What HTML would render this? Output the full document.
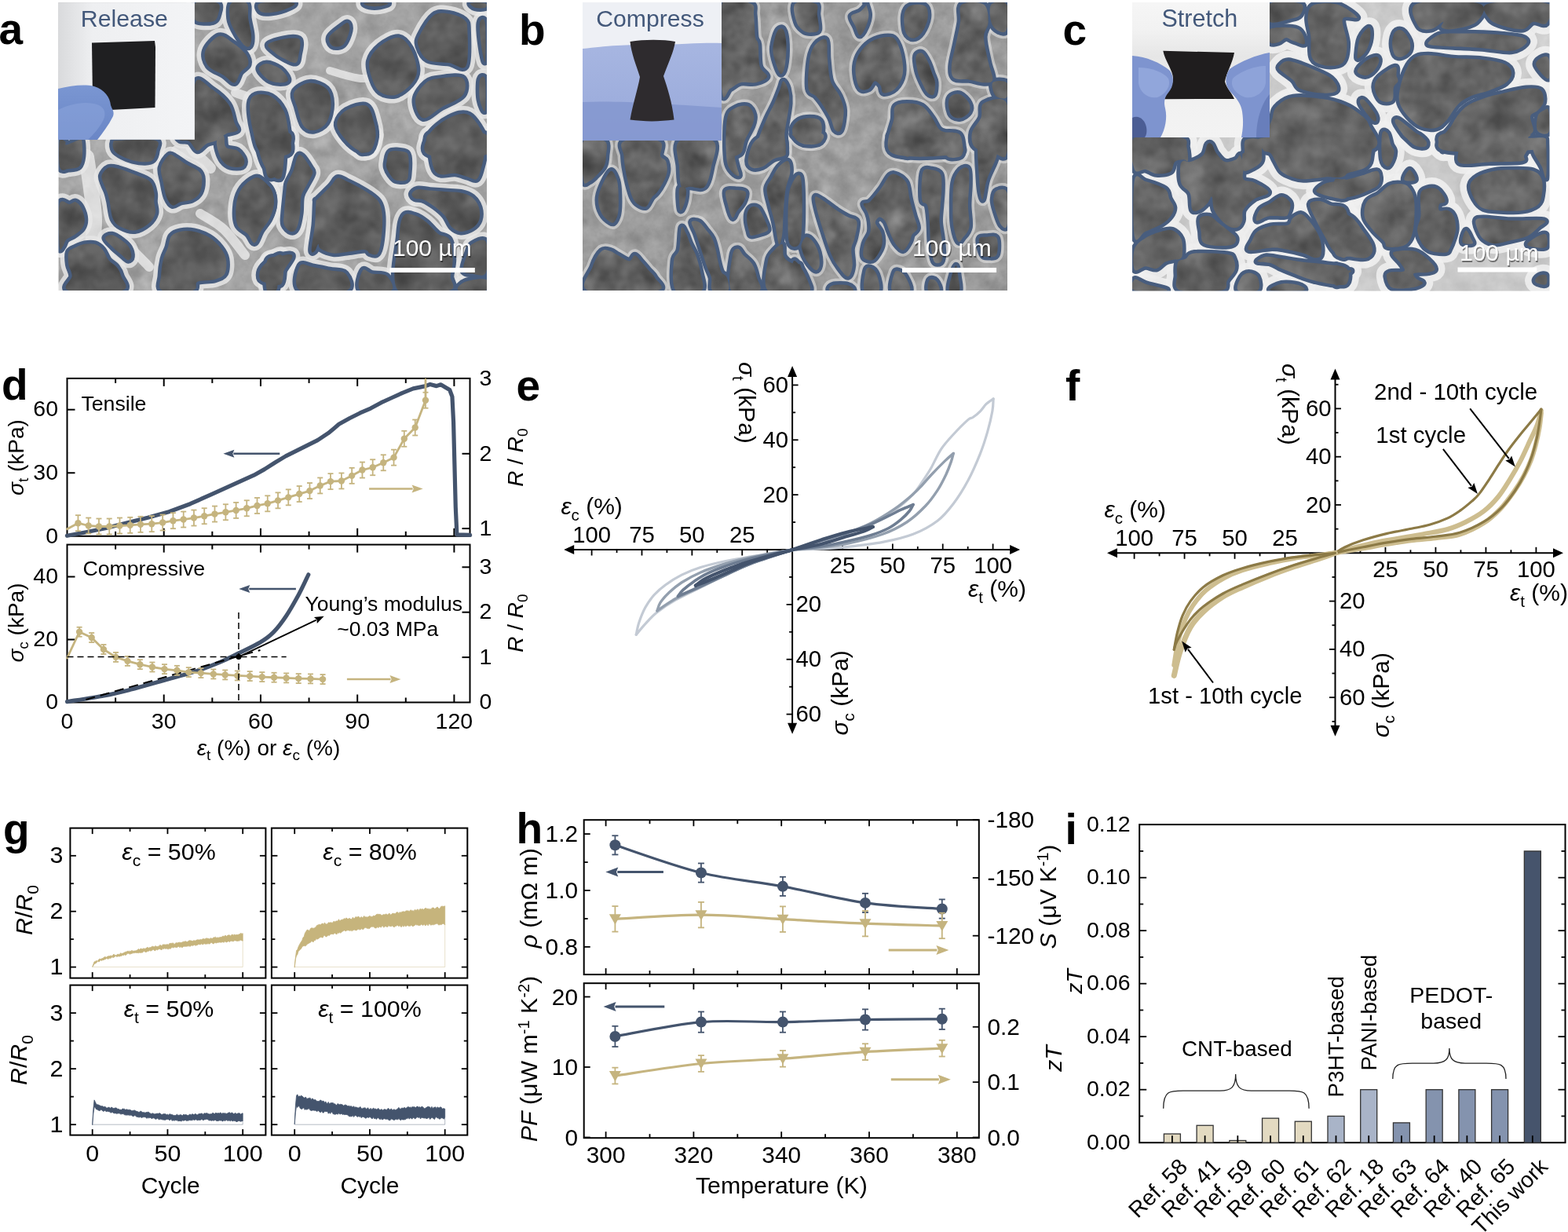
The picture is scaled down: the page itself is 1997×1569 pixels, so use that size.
<!DOCTYPE html>
<html><head><meta charset="utf-8"><style>
html,body{margin:0;padding:0;background:#fff;}
svg{display:block;}
text{font-family:'Liberation Sans', Arial, sans-serif;}
</style></head><body>
<svg width="1997" height="1569" viewBox="0 0 1997 1569">
<rect width="1997" height="1569" fill="#fff"/>
<defs><filter id="tex" x="0" y="0" width="100%" height="100%" color-interpolation-filters="sRGB"><feTurbulence type="fractalNoise" baseFrequency="0.045" numOctaves="4" seed="7"/><feColorMatrix type="matrix" values="0.33 0.33 0.33 0 0 0.33 0.33 0.33 0 0 0.33 0.33 0.33 0 0 0 0 0 0 1"/></filter><filter id="tex2" x="0" y="0" width="100%" height="100%" color-interpolation-filters="sRGB"><feTurbulence type="fractalNoise" baseFrequency="0.03" numOctaves="3" seed="11"/><feColorMatrix type="matrix" values="0.33 0.33 0.33 0 0 0.33 0.33 0.33 0 0 0.33 0.33 0.33 0 0 0 0 0 0 1"/></filter></defs>
<clipPath id="ca"><rect x="74.5" y="3" width="545.5" height="367"/></clipPath>
<clipPath id="cap"><path d="M248.79,3.91 C253.51,0.33 272.22,1.63 277.1,3.91 C281.98,6.18 279.05,13.67 278.08,17.57 C277.1,21.48 276.13,26.04 271.24,27.34 C266.36,28.64 252.53,29.29 248.79,25.39 C245.04,21.48 244.07,7.49 248.79,3.91Z"/><path d="M294.68,3.91 C298.26,0.65 310.62,0.65 314.2,3.91 C317.78,7.16 315.18,16.6 316.16,23.43 C317.13,30.27 319.74,39.05 320.06,44.91 C320.39,50.77 319.74,56.63 318.11,58.58 C316.48,60.54 313.55,59.88 310.3,56.63 C307.04,53.37 301.51,44.59 298.58,39.05 C295.65,33.52 293.37,29.29 292.72,23.43 C292.07,17.57 291.1,7.16 294.68,3.91Z"/><path d="M331.78,3.91 C338.61,1.95 370.51,2.28 374.74,3.91 C378.97,5.53 364,11.72 357.16,13.67 C350.33,15.62 337.96,17.25 333.73,15.62 C329.5,13.99 324.94,5.86 331.78,3.91Z"/><path d="M261.48,64.44 C263.76,58.09 273.2,47.52 279.05,45.89 C284.91,44.26 291.1,50.93 296.63,54.68 C302.16,58.42 309,63.79 312.25,68.35 C315.51,72.9 317.13,78.11 316.16,82.02 C315.18,85.92 309.32,87.87 306.39,91.78 C303.46,95.68 302.16,104.8 298.58,105.45 C295,106.1 290.45,99.26 284.91,95.68 C279.38,92.1 269.29,89.18 265.39,83.97 C261.48,78.76 259.2,70.79 261.48,64.44Z"/><path d="M341.54,56.63 C343.5,53.86 354.89,51.1 361.07,49.79 C367.25,48.49 375.06,48 378.64,48.82 C382.22,49.63 382.22,51.42 382.55,54.68 C382.88,57.93 381.57,64.12 380.6,68.35 C379.62,72.58 379.95,79.09 376.69,80.06 C373.44,81.04 365.63,76.48 361.07,74.2 C356.51,71.93 352.61,69.32 349.35,66.39 C346.1,63.46 339.59,59.4 341.54,56.63Z"/><path d="M329.83,87.87 C329.5,84.46 335.03,81.04 339.59,81.04 C344.15,81.04 352.61,84.46 357.16,87.87 C361.72,91.29 366.93,98.61 366.93,101.54 C366.93,104.47 361.4,105.45 357.16,105.45 C352.93,105.45 346.1,104.47 341.54,101.54 C336.99,98.61 330.15,91.29 329.83,87.87Z"/><path d="M419.65,46.87 C421.61,42.63 431.37,36.13 435.27,33.2 C439.18,30.27 441.46,28.31 443.09,29.29 C444.71,30.27 446.01,34.5 445.04,39.05 C444.06,43.61 440.81,53.37 437.23,56.63 C433.65,59.88 426.49,60.21 423.56,58.58 C420.63,56.96 417.7,51.1 419.65,46.87Z"/><path d="M470.42,78.11 C472.05,70.95 477.91,63.63 484.09,58.58 C490.28,53.54 501.02,47.19 507.53,47.84 C514.04,48.49 519.24,55.49 523.15,62.49 C527.05,69.49 530.96,82.34 530.96,89.83 C530.96,97.31 527.7,102.19 523.15,107.4 C518.59,112.61 510.13,119.44 503.62,121.07 C497.11,122.7 488.97,120.42 484.09,117.16 C479.21,113.91 476.61,108.05 474.33,101.54 C472.05,95.03 468.8,85.27 470.42,78.11Z"/><path d="M534.86,44.91 C538.12,38.4 546.26,24.08 552.44,19.53 C558.62,14.97 565.46,16.6 571.97,17.57 C578.48,18.55 587.59,21.81 591.49,25.39 C595.4,28.97 595.07,29.29 595.4,39.05 C595.72,48.82 597.35,77.13 593.45,83.97 C589.54,90.8 580.1,81.36 571.97,80.06 C563.83,78.76 551.14,79.74 544.63,76.16 C538.12,72.58 534.54,63.79 532.91,58.58 C531.28,53.37 531.61,51.42 534.86,44.91Z"/><path d="M529.01,126.93 C529.66,119.44 537.14,110 542.68,105.45 C548.21,100.89 554.39,100.57 562.2,99.59 C570.01,98.61 584.98,96.01 589.54,99.59 C594.1,103.17 594.1,114.89 589.54,121.07 C584.98,127.25 570.66,131.81 562.2,136.69 C553.74,141.57 544.3,151.99 538.77,150.36 C533.24,148.73 528.36,134.41 529.01,126.93Z"/><path d="M374.74,117.16 C377.34,111.96 387.43,106.1 394.27,105.45 C401.1,104.8 411.19,108.7 415.75,113.26 C420.3,117.82 421.61,125.63 421.61,132.79 C421.61,139.95 419.33,150.69 415.75,156.22 C412.17,161.75 405.01,165.33 400.12,165.98 C395.24,166.63 390.04,165.01 386.46,160.12 C382.88,155.24 380.6,143.85 378.64,136.69 C376.69,129.53 372.14,122.37 374.74,117.16Z"/><path d="M429.42,156.22 C430.39,151.01 434.95,144.18 441.13,140.6 C447.32,137.02 460.66,132.14 466.52,134.74 C472.38,137.34 474.33,149.38 476.28,156.22 C478.23,163.05 479.21,169.56 478.23,175.75 C477.26,181.93 474.65,191.04 470.42,193.32 C466.19,195.6 458.71,193 452.85,189.42 C446.99,185.84 439.18,177.37 435.27,171.84 C431.37,166.31 428.44,161.43 429.42,156.22Z"/><path d="M318.11,132.79 C318.76,125.3 321.36,122.7 325.92,121.07 C330.48,119.44 339.59,119.77 345.45,123.02 C351.31,126.28 357.49,133.44 361.07,140.6 C364.65,147.76 365.63,156.87 366.93,165.98 C368.23,175.1 374.41,190.39 368.88,195.27 C363.35,200.16 341.54,200.16 333.73,195.27 C325.92,190.39 324.62,176.4 322.02,165.98 C319.41,155.57 317.46,140.27 318.11,132.79Z"/><path d="M248.79,105.45 C252.2,95.03 262.29,108.7 269.29,113.26 C276.29,117.82 285.89,125.63 290.77,132.79 C295.65,139.95 296.63,150.69 298.58,156.22 C300.54,161.75 304.12,163.71 302.49,165.98 C300.86,168.26 293.05,168.26 288.82,169.89 C284.59,171.52 283.77,174.77 277.1,175.75 C270.43,176.72 253.51,187.46 248.79,175.75 C244.07,164.03 245.37,115.86 248.79,105.45Z"/><path d="M546.58,171.84 C550.81,164.03 563.5,154.59 571.97,150.36 C580.43,146.13 589.7,142.22 597.35,146.46 C605,150.69 614.44,167.29 617.86,175.75 C621.27,184.21 629.74,193.65 617.86,197.23 C605.98,200.81 558.46,201.46 546.58,197.23 C534.7,193 542.35,179.65 546.58,171.84Z"/><path d="M611.02,29.29 C611.83,24.41 616.72,21.15 617.86,29.29 C618.99,37.43 618.67,73.23 617.86,78.11 C617.04,82.99 614.11,66.72 612.97,58.58 C611.83,50.45 610.21,34.17 611.02,29.29Z"/><path d="M611.02,101.54 C612.16,97.31 616.72,95.03 617.86,101.54 C618.99,108.05 618.99,136.37 617.86,140.6 C616.72,144.83 612.16,133.44 611.02,126.93 C609.88,120.42 609.88,105.77 611.02,101.54Z"/><path d="M464.57,3.91 C468.47,3.25 490.6,3.25 493.86,3.91 C497.11,4.56 488,7.16 484.09,7.81 C480.19,8.46 473.68,8.46 470.42,7.81 C467.17,7.16 460.66,4.56 464.57,3.91Z"/><path d="M599.3,3.91 C601.42,2.93 614.76,2.93 617.86,3.91 C620.95,4.88 619.97,8.79 617.86,9.76 C615.74,10.74 608.25,10.74 605.16,9.76 C602.07,8.79 597.19,4.88 599.3,3.91Z"/><path d="M75.81,180.17 C76.9,174.6 81.62,179.44 83.07,180.17 C84.52,180.89 81.86,184.76 84.52,184.52 C87.18,184.28 95.78,179.68 99.04,178.71 C102.31,177.75 103.16,175.32 104.13,178.71 C105.1,182.1 105.46,193.48 104.85,199.04 C104.25,204.61 103.4,209.45 100.5,212.11 C97.59,214.78 91.42,214.78 87.43,215.02 C83.43,215.26 78.47,219.38 76.53,213.57 C74.6,207.76 74.72,185.73 75.81,180.17Z"/><path d="M144.06,181.62 C145.03,179.44 142.37,179.2 151.32,178.71 C160.28,178.23 189.81,176.53 197.8,178.71 C205.78,180.89 199.73,187.67 199.25,191.78 C198.76,195.9 197.31,200.98 194.89,203.4 C192.47,205.82 189.08,206.18 184.73,206.31 C180.37,206.43 173.59,205.34 168.75,204.13 C163.91,202.92 159.55,201.1 155.68,199.04 C151.81,196.99 147.45,194.69 145.52,191.78 C143.58,188.88 143.1,183.8 144.06,181.62Z"/><path d="M205.06,213.57 C206.27,207.76 212.08,199.77 215.22,197.59 C218.37,195.41 220.3,198.56 223.94,200.5 C227.57,202.43 232.16,206.31 237.01,209.21 C241.85,212.11 249.59,214.78 252.98,217.92 C256.37,221.07 257.09,223.49 257.34,228.09 C257.58,232.69 256.61,241.16 254.43,245.52 C252.25,249.87 248.38,252.29 244.27,254.23 C240.15,256.17 233.86,255.92 229.74,257.13 C225.63,258.34 222.48,262.46 219.58,261.49 C216.67,260.52 214.25,256.17 212.32,251.32 C210.38,246.48 209.17,238.74 207.96,232.45 C206.75,226.15 203.85,219.38 205.06,213.57Z"/><path d="M129.54,223.73 C130.51,220.1 134.62,215.02 138.25,213.57 C141.88,212.11 145.76,213.57 151.32,215.02 C156.89,216.47 165.12,219.62 171.66,222.28 C178.19,224.94 186.42,227.12 190.53,230.99 C194.65,234.87 195.38,241.16 196.34,245.52 C197.31,249.87 196.1,252.78 196.34,257.13 C196.59,261.49 199.01,267.06 197.8,271.66 C196.59,276.25 193.44,281.09 189.08,284.73 C184.73,288.36 177.46,292.71 171.66,293.44 C165.85,294.16 158.83,291.5 154.23,289.08 C149.63,286.66 146.48,284.24 144.06,278.92 C141.64,273.59 140.92,262.7 139.71,257.13 C138.5,251.57 138.01,249.15 136.8,245.52 C135.59,241.88 133.66,238.98 132.45,235.35 C131.24,231.72 128.57,227.36 129.54,223.73Z"/><path d="M75.81,260.04 C77.99,251.08 85.49,260.52 88.88,260.04 C92.27,259.55 93.72,256.41 96.14,257.13 C98.56,257.86 101.46,260.76 103.4,264.39 C105.34,268.02 107.52,274.56 107.76,278.92 C108,283.27 107.03,287.15 104.85,290.53 C102.67,293.92 98.08,296.83 94.69,299.25 C91.3,301.67 86.94,302.64 84.52,305.06 C82.1,307.48 81.62,312.32 80.17,313.77 C78.71,315.22 76.53,322.73 75.81,313.77 C75.08,304.81 73.63,268.99 75.81,260.04Z"/><path d="M133.9,303.6 C133.66,300.94 138.98,298.76 142.61,299.25 C146.24,299.73 152.05,303.85 155.68,306.51 C159.31,309.17 162.46,311.83 164.39,315.22 C166.33,318.61 167.54,324.18 167.3,326.84 C167.06,329.5 165.12,331.68 162.94,331.2 C160.76,330.71 157.38,326.6 154.23,323.94 C151.08,321.27 147.45,318.61 144.06,315.22 C140.67,311.83 134.14,306.27 133.9,303.6Z"/><path d="M87.43,321.03 C88.88,317.4 92.75,316.92 96.14,315.22 C99.53,313.53 103.64,311.59 107.76,310.87 C111.87,310.14 116.96,309.66 120.83,310.87 C124.7,312.08 128.09,314.74 130.99,318.13 C133.9,321.52 135.35,327.57 138.25,331.2 C141.16,334.83 145.76,336.52 148.42,339.91 C151.08,343.3 153.02,346.57 154.23,351.53 C155.44,356.49 166.81,366.66 155.68,369.68 C144.55,372.71 98.08,372.71 87.43,369.68 C76.78,366.66 91.78,356.97 91.78,351.53 C91.78,346.08 88.15,342.09 87.43,337.01 C86.7,331.92 85.97,324.66 87.43,321.03Z"/><path d="M207.96,329.74 C209.41,323.69 212.08,320.06 213.77,315.22 C215.46,310.38 215.46,304.09 218.13,300.7 C220.79,297.31 224.9,295.86 229.74,294.89 C234.59,293.92 241.12,293.68 247.17,294.89 C253.22,296.1 260.48,298.76 266.05,302.15 C271.62,305.54 276.94,310.62 280.57,315.22 C284.2,319.82 286.87,324.18 287.83,329.74 C288.8,335.31 288.8,344.27 286.38,348.62 C283.96,352.98 279.12,354.19 273.31,355.88 C267.5,357.58 256.13,356.49 251.53,358.79 C246.93,361.09 253.22,367.87 245.72,369.68 C238.22,371.5 213.29,372.71 206.51,369.68 C199.73,366.66 204.81,358.18 205.06,351.53 C205.3,344.87 206.51,335.8 207.96,329.74Z"/><path d="M300.9,260.04 C301.87,252.29 304.29,245.27 308.16,239.71 C312.04,234.14 319.78,228.33 324.14,226.64 C328.5,224.94 330.67,226.88 334.3,229.54 C337.93,232.2 343.5,237.53 345.92,242.61 C348.34,247.69 349.31,253.99 348.83,260.04 C348.34,266.09 345.68,273.35 343.02,278.92 C340.36,284.48 336,288.36 332.85,293.44 C329.71,298.52 327.04,308.69 324.14,309.41 C321.23,310.14 319.06,301.67 315.43,297.8 C311.79,293.92 304.78,292.47 302.36,286.18 C299.94,279.88 299.94,267.78 300.9,260.04Z"/><path d="M276.22,178.71 C277.43,175.57 282.99,171.45 284.93,172.9 C286.87,174.36 284.93,184.28 287.83,187.43 C290.74,190.57 298.48,189.12 302.36,191.78 C306.23,194.45 310.1,200.01 311.07,203.4 C312.04,206.79 311.07,210.66 308.16,212.11 C305.26,213.57 297.76,213.32 293.64,212.11 C289.53,210.9 286.14,208.24 283.48,204.85 C280.81,201.46 278.88,196.14 277.67,191.78 C276.46,187.43 275.01,181.86 276.22,178.71Z"/><path d="M328.5,177.26 C333.34,174.84 353.91,169.52 358.99,177.26 C364.07,185.01 361.17,215.99 358.99,223.73 C356.81,231.48 349.79,226.15 345.92,223.73 C342.05,221.31 338.42,214.53 335.76,209.21 C333.09,203.89 331.16,197.11 329.95,191.78 C328.74,186.46 323.65,179.68 328.5,177.26Z"/><path d="M229.74,178.71 C231.68,179.92 237.73,177.99 241.36,180.17 C244.99,182.34 247.9,191.3 251.53,191.78 C255.16,192.27 259.03,185.25 263.15,183.07 C267.26,180.89 274.52,180.41 276.22,178.71 C277.91,177.02 281.06,173.87 273.31,172.9 C265.57,171.94 237.01,171.94 229.74,172.9 C222.48,173.87 227.81,177.5 229.74,178.71Z"/><path d="M331.4,344.27 C332.85,340.64 335.51,337.25 340.11,334.1 C344.71,330.95 355.85,321.03 358.99,325.39 C362.14,329.74 361.9,354.43 358.99,360.24 C356.09,366.05 346.16,360.97 341.57,360.24 C336.97,359.51 333.09,358.55 331.4,355.88 C329.71,353.22 329.95,347.9 331.4,344.27Z"/><path d="M340,170 C344.84,161.29 364.2,167.1 369.04,170 C373.89,172.9 370.25,182.59 369.04,187.43 C367.83,192.27 363.48,194.2 361.78,199.04 C360.09,203.89 360.09,212.36 358.88,216.47 C357.67,220.59 357.67,222.76 354.52,223.73 C351.38,224.7 342.42,231.24 340,222.28 C337.58,213.32 335.16,178.71 340,170Z"/><path d="M361.78,271.66 C362.27,264.39 363.96,249.15 364.69,242.61 C365.41,236.08 364.69,236.56 366.14,232.45 C367.59,228.33 371.22,223.49 373.4,217.92 C375.58,212.36 377.27,202.19 379.21,199.04 C381.15,195.9 382.36,196.62 385.02,199.04 C387.68,201.46 393.01,209.94 395.18,213.57 C397.36,217.2 398.81,217.2 398.09,220.83 C397.36,224.46 393.25,230.51 390.83,235.35 C388.41,240.19 385.02,243.82 383.57,249.87 C382.11,255.92 383.08,264.88 382.11,271.66 C381.15,278.43 379.69,286.66 377.76,290.53 C375.82,294.41 373.16,295.62 370.5,294.89 C367.83,294.16 363.24,290.05 361.78,286.18 C360.33,282.31 361.3,278.92 361.78,271.66Z"/><path d="M396.64,318.13 C396.64,312.56 400.03,296.34 400.99,286.18 C401.96,276.01 401.96,262.46 402.45,257.13 C402.93,251.81 400.75,257.62 403.9,254.23 C407.04,250.84 416.97,241.4 421.32,236.8 C425.68,232.2 426.65,227.6 430.04,226.64 C433.43,225.67 437.3,229.06 441.66,230.99 C446.01,232.93 451.34,235.59 456.18,238.25 C461.02,240.92 466.34,243.82 470.7,246.97 C475.06,250.11 479.66,253.02 482.32,257.13 C484.98,261.25 485.95,265.6 486.67,271.66 C487.4,277.71 487.16,286.18 486.67,293.44 C486.19,300.7 484.98,310.14 483.77,315.22 C482.56,320.3 481.59,322.73 479.41,323.94 C477.23,325.15 473.12,323.45 470.7,322.48 C468.28,321.52 469.73,318.37 464.89,318.13 C460.05,317.88 448.43,320.3 441.66,321.03 C434.88,321.76 429.8,323.21 424.23,322.48 C418.66,321.76 411.4,318.61 408.25,316.67 C405.11,314.74 406.56,310.38 405.35,310.87 C404.14,311.35 402.45,318.37 400.99,319.58 C399.54,320.79 396.64,323.69 396.64,318.13Z"/><path d="M492.48,206.31 C493.21,202.92 493.21,195.41 496.84,193.24 C500.47,191.06 510.39,192.27 514.27,193.24 C518.14,194.2 519.11,194.45 520.08,199.04 C521.04,203.64 520.56,215.74 520.08,220.83 C519.59,225.91 519.83,228.09 517.17,229.54 C514.51,230.99 507.49,230.75 504.1,229.54 C500.71,228.33 498.78,224.94 496.84,222.28 C494.9,219.62 493.21,216.23 492.48,213.57 C491.76,210.9 491.76,209.69 492.48,206.31Z"/><path d="M547.67,170 C558.8,165.16 604.3,166.37 615.92,170 C627.54,173.63 617.86,184.52 617.37,191.78 C616.89,199.04 614.71,207.52 613.02,213.57 C611.32,219.62 610.11,226.15 607.21,228.09 C604.3,230.03 600.19,226.39 595.59,225.18 C590.99,223.97 585.18,221.31 579.62,220.83 C574.05,220.34 566.55,223.01 562.19,222.28 C557.83,221.55 555.65,220.34 553.48,216.47 C551.3,212.6 550.09,206.79 549.12,199.04 C548.15,191.3 536.53,174.84 547.67,170Z"/><path d="M524.43,246.97 C524.92,245.03 527.82,241.88 531.69,241.16 C535.57,240.43 541.86,242.13 547.67,242.61 C553.48,243.1 560.01,243.58 566.55,244.06 C573.08,244.55 581.07,244.31 586.88,245.52 C592.69,246.73 597.53,248.18 601.4,251.32 C605.27,254.47 608.66,259.55 610.11,264.39 C611.57,269.24 611.57,276.01 610.11,280.37 C608.66,284.73 605.27,288.11 601.4,290.53 C597.53,292.95 591.23,295.13 586.88,294.89 C582.52,294.65 578.65,292.47 575.26,289.08 C571.87,285.69 570.18,278.92 566.55,274.56 C562.92,270.2 558.08,266.33 553.48,262.94 C548.88,259.55 543.07,255.92 538.95,254.23 C534.84,252.53 531.21,253.99 528.79,252.78 C526.37,251.57 523.95,248.9 524.43,246.97Z"/><path d="M507.01,369.68 C496.36,358.18 507.25,316.55 508.46,300.7 C509.67,284.85 510.88,278.92 514.27,274.56 C517.66,270.2 523.95,273.11 528.79,274.56 C533.63,276.01 538.47,279.4 543.31,283.27 C548.15,287.15 552.99,294.16 557.83,297.8 C562.67,301.43 569.21,299.73 572.36,305.06 C575.5,310.38 576.47,322 576.71,329.74 C576.95,337.49 574.53,344.87 573.81,351.53 C573.08,358.18 583.49,366.66 572.36,369.68 C561.22,372.71 517.66,381.18 507.01,369.68Z"/><path d="M589.78,344.27 C588.81,339.91 593.65,328.05 595.59,322.48 C597.53,316.92 597.53,313.29 601.4,310.87 C605.27,308.45 615.92,301.91 618.83,307.96 C621.73,314.01 621.73,340.39 618.83,347.17 C615.92,353.95 606.24,349.11 601.4,348.62 C596.56,348.14 590.75,348.62 589.78,344.27Z"/><path d="M583.97,369.68 C579.62,367.87 586.88,361.09 592.69,358.79 C598.5,356.49 614.47,354.07 618.83,355.88 C623.18,357.7 624.64,367.38 618.83,369.68 C613.02,371.98 588.33,371.5 583.97,369.68Z"/><path d="M340,369.68 C338.06,363.51 337.58,339.79 340,332.65 C342.42,325.51 349.68,328.29 354.52,326.84 C359.36,325.39 366.14,323.69 369.04,323.94 C371.95,324.18 373.16,324.9 371.95,328.29 C370.74,331.68 364.69,339.18 361.78,344.27 C358.88,349.35 356.22,354.55 354.52,358.79 C352.83,363.02 354.04,367.87 351.62,369.68 C349.2,371.5 341.94,375.85 340,369.68Z"/><path d="M382.11,369.68 C372.19,364.48 379.45,343.42 382.11,338.46 C384.78,333.5 391.8,338.94 398.09,339.91 C404.38,340.88 412.85,342.81 419.87,344.27 C426.89,345.72 436.57,344.39 440.2,348.62 C443.83,352.86 451.34,366.17 441.66,369.68 C431.97,373.19 392.04,374.88 382.11,369.68Z"/><path d="M459.08,369.68 C453.03,365.44 459.57,347.78 461.99,344.27 C464.41,340.76 468.52,347.41 473.6,348.62 C478.69,349.83 488.37,348.02 492.48,351.53 C496.6,355.04 503.86,366.66 498.29,369.68 C492.73,372.71 465.13,373.92 459.08,369.68Z"/><path d="M438.75,170 C443.59,168.55 470.7,168.06 476.51,170 C482.32,171.94 474.57,177.99 473.6,181.62 C472.64,185.25 472.88,189.6 470.7,191.78 C468.52,193.96 463.2,195.17 460.53,194.69 C457.87,194.2 456.9,191.54 454.73,188.88 C452.55,186.22 450.13,181.86 447.46,178.71 C444.8,175.57 433.91,171.45 438.75,170Z"/><path d="M340,239.71 C340.97,233.66 344.36,239.71 345.81,242.61 C347.26,245.52 348.71,252.29 348.71,257.13 C348.71,261.97 347.26,268.02 345.81,271.66 C344.36,275.29 340.97,284.24 340,278.92 C339.03,273.59 339.03,245.76 340,239.71Z"/></clipPath>
<g clip-path="url(#ca)">
<rect x="74.5" y="3" width="545.5" height="367" fill="#a4a4a4"/>
<path d="M110,200 C111,206.67 114.33,226.67 116,240 C117.67,253.33 119.83,265.83 120,280 C120.17,294.17 117.5,317.5 117,325" fill="none" stroke="#e8e8e8" stroke-width="20" stroke-linecap="round" stroke-linejoin="round" opacity="0.85"/>
<path d="M225,192 C229.17,193 242.83,194.33 250,198 C257.17,201.67 265,211.33 268,214" fill="none" stroke="#e8e8e8" stroke-width="14" stroke-linecap="round" stroke-linejoin="round" opacity="0.85"/>
<path d="M255,272 C260,275.33 275.5,283.17 285,292 C294.5,300.83 307.5,319.5 312,325" fill="none" stroke="#e8e8e8" stroke-width="12" stroke-linecap="round" stroke-linejoin="round" opacity="0.85"/>
<path d="M140,298 C144.17,300.83 156.67,308 165,315 C173.33,322 185.83,335.83 190,340" fill="none" stroke="#e8e8e8" stroke-width="12" stroke-linecap="round" stroke-linejoin="round" opacity="0.85"/>
<path d="M300,118 C305,120 321.67,124.67 330,130 C338.33,135.33 346.67,146.67 350,150" fill="none" stroke="#e8e8e8" stroke-width="12" stroke-linecap="round" stroke-linejoin="round" opacity="0.85"/>
<path d="M420,90 C426.67,91.67 446.67,99.17 460,100 C473.33,100.83 493.33,95.83 500,95" fill="none" stroke="#e8e8e8" stroke-width="10" stroke-linecap="round" stroke-linejoin="round" opacity="0.85"/>
<path d="M248.79,3.91 C253.51,0.33 272.22,1.63 277.1,3.91 C281.98,6.18 279.05,13.67 278.08,17.57 C277.1,21.48 276.13,26.04 271.24,27.34 C266.36,28.64 252.53,29.29 248.79,25.39 C245.04,21.48 244.07,7.49 248.79,3.91Z" fill="none" stroke="#e8e8e8" stroke-width="20" stroke-linejoin="round" opacity="0.85"/>
<path d="M294.68,3.91 C298.26,0.65 310.62,0.65 314.2,3.91 C317.78,7.16 315.18,16.6 316.16,23.43 C317.13,30.27 319.74,39.05 320.06,44.91 C320.39,50.77 319.74,56.63 318.11,58.58 C316.48,60.54 313.55,59.88 310.3,56.63 C307.04,53.37 301.51,44.59 298.58,39.05 C295.65,33.52 293.37,29.29 292.72,23.43 C292.07,17.57 291.1,7.16 294.68,3.91Z" fill="none" stroke="#e8e8e8" stroke-width="20" stroke-linejoin="round" opacity="0.85"/>
<path d="M331.78,3.91 C338.61,1.95 370.51,2.28 374.74,3.91 C378.97,5.53 364,11.72 357.16,13.67 C350.33,15.62 337.96,17.25 333.73,15.62 C329.5,13.99 324.94,5.86 331.78,3.91Z" fill="none" stroke="#e8e8e8" stroke-width="20" stroke-linejoin="round" opacity="0.85"/>
<path d="M261.48,64.44 C263.76,58.09 273.2,47.52 279.05,45.89 C284.91,44.26 291.1,50.93 296.63,54.68 C302.16,58.42 309,63.79 312.25,68.35 C315.51,72.9 317.13,78.11 316.16,82.02 C315.18,85.92 309.32,87.87 306.39,91.78 C303.46,95.68 302.16,104.8 298.58,105.45 C295,106.1 290.45,99.26 284.91,95.68 C279.38,92.1 269.29,89.18 265.39,83.97 C261.48,78.76 259.2,70.79 261.48,64.44Z" fill="none" stroke="#e8e8e8" stroke-width="20" stroke-linejoin="round" opacity="0.85"/>
<path d="M341.54,56.63 C343.5,53.86 354.89,51.1 361.07,49.79 C367.25,48.49 375.06,48 378.64,48.82 C382.22,49.63 382.22,51.42 382.55,54.68 C382.88,57.93 381.57,64.12 380.6,68.35 C379.62,72.58 379.95,79.09 376.69,80.06 C373.44,81.04 365.63,76.48 361.07,74.2 C356.51,71.93 352.61,69.32 349.35,66.39 C346.1,63.46 339.59,59.4 341.54,56.63Z" fill="none" stroke="#e8e8e8" stroke-width="20" stroke-linejoin="round" opacity="0.85"/>
<path d="M329.83,87.87 C329.5,84.46 335.03,81.04 339.59,81.04 C344.15,81.04 352.61,84.46 357.16,87.87 C361.72,91.29 366.93,98.61 366.93,101.54 C366.93,104.47 361.4,105.45 357.16,105.45 C352.93,105.45 346.1,104.47 341.54,101.54 C336.99,98.61 330.15,91.29 329.83,87.87Z" fill="none" stroke="#e8e8e8" stroke-width="20" stroke-linejoin="round" opacity="0.85"/>
<path d="M419.65,46.87 C421.61,42.63 431.37,36.13 435.27,33.2 C439.18,30.27 441.46,28.31 443.09,29.29 C444.71,30.27 446.01,34.5 445.04,39.05 C444.06,43.61 440.81,53.37 437.23,56.63 C433.65,59.88 426.49,60.21 423.56,58.58 C420.63,56.96 417.7,51.1 419.65,46.87Z" fill="none" stroke="#e8e8e8" stroke-width="20" stroke-linejoin="round" opacity="0.85"/>
<path d="M470.42,78.11 C472.05,70.95 477.91,63.63 484.09,58.58 C490.28,53.54 501.02,47.19 507.53,47.84 C514.04,48.49 519.24,55.49 523.15,62.49 C527.05,69.49 530.96,82.34 530.96,89.83 C530.96,97.31 527.7,102.19 523.15,107.4 C518.59,112.61 510.13,119.44 503.62,121.07 C497.11,122.7 488.97,120.42 484.09,117.16 C479.21,113.91 476.61,108.05 474.33,101.54 C472.05,95.03 468.8,85.27 470.42,78.11Z" fill="none" stroke="#e8e8e8" stroke-width="20" stroke-linejoin="round" opacity="0.85"/>
<path d="M534.86,44.91 C538.12,38.4 546.26,24.08 552.44,19.53 C558.62,14.97 565.46,16.6 571.97,17.57 C578.48,18.55 587.59,21.81 591.49,25.39 C595.4,28.97 595.07,29.29 595.4,39.05 C595.72,48.82 597.35,77.13 593.45,83.97 C589.54,90.8 580.1,81.36 571.97,80.06 C563.83,78.76 551.14,79.74 544.63,76.16 C538.12,72.58 534.54,63.79 532.91,58.58 C531.28,53.37 531.61,51.42 534.86,44.91Z" fill="none" stroke="#e8e8e8" stroke-width="20" stroke-linejoin="round" opacity="0.85"/>
<path d="M529.01,126.93 C529.66,119.44 537.14,110 542.68,105.45 C548.21,100.89 554.39,100.57 562.2,99.59 C570.01,98.61 584.98,96.01 589.54,99.59 C594.1,103.17 594.1,114.89 589.54,121.07 C584.98,127.25 570.66,131.81 562.2,136.69 C553.74,141.57 544.3,151.99 538.77,150.36 C533.24,148.73 528.36,134.41 529.01,126.93Z" fill="none" stroke="#e8e8e8" stroke-width="20" stroke-linejoin="round" opacity="0.85"/>
<path d="M374.74,117.16 C377.34,111.96 387.43,106.1 394.27,105.45 C401.1,104.8 411.19,108.7 415.75,113.26 C420.3,117.82 421.61,125.63 421.61,132.79 C421.61,139.95 419.33,150.69 415.75,156.22 C412.17,161.75 405.01,165.33 400.12,165.98 C395.24,166.63 390.04,165.01 386.46,160.12 C382.88,155.24 380.6,143.85 378.64,136.69 C376.69,129.53 372.14,122.37 374.74,117.16Z" fill="none" stroke="#e8e8e8" stroke-width="20" stroke-linejoin="round" opacity="0.85"/>
<path d="M429.42,156.22 C430.39,151.01 434.95,144.18 441.13,140.6 C447.32,137.02 460.66,132.14 466.52,134.74 C472.38,137.34 474.33,149.38 476.28,156.22 C478.23,163.05 479.21,169.56 478.23,175.75 C477.26,181.93 474.65,191.04 470.42,193.32 C466.19,195.6 458.71,193 452.85,189.42 C446.99,185.84 439.18,177.37 435.27,171.84 C431.37,166.31 428.44,161.43 429.42,156.22Z" fill="none" stroke="#e8e8e8" stroke-width="20" stroke-linejoin="round" opacity="0.85"/>
<path d="M318.11,132.79 C318.76,125.3 321.36,122.7 325.92,121.07 C330.48,119.44 339.59,119.77 345.45,123.02 C351.31,126.28 357.49,133.44 361.07,140.6 C364.65,147.76 365.63,156.87 366.93,165.98 C368.23,175.1 374.41,190.39 368.88,195.27 C363.35,200.16 341.54,200.16 333.73,195.27 C325.92,190.39 324.62,176.4 322.02,165.98 C319.41,155.57 317.46,140.27 318.11,132.79Z" fill="none" stroke="#e8e8e8" stroke-width="20" stroke-linejoin="round" opacity="0.85"/>
<path d="M248.79,105.45 C252.2,95.03 262.29,108.7 269.29,113.26 C276.29,117.82 285.89,125.63 290.77,132.79 C295.65,139.95 296.63,150.69 298.58,156.22 C300.54,161.75 304.12,163.71 302.49,165.98 C300.86,168.26 293.05,168.26 288.82,169.89 C284.59,171.52 283.77,174.77 277.1,175.75 C270.43,176.72 253.51,187.46 248.79,175.75 C244.07,164.03 245.37,115.86 248.79,105.45Z" fill="none" stroke="#e8e8e8" stroke-width="20" stroke-linejoin="round" opacity="0.85"/>
<path d="M546.58,171.84 C550.81,164.03 563.5,154.59 571.97,150.36 C580.43,146.13 589.7,142.22 597.35,146.46 C605,150.69 614.44,167.29 617.86,175.75 C621.27,184.21 629.74,193.65 617.86,197.23 C605.98,200.81 558.46,201.46 546.58,197.23 C534.7,193 542.35,179.65 546.58,171.84Z" fill="none" stroke="#e8e8e8" stroke-width="20" stroke-linejoin="round" opacity="0.85"/>
<path d="M611.02,29.29 C611.83,24.41 616.72,21.15 617.86,29.29 C618.99,37.43 618.67,73.23 617.86,78.11 C617.04,82.99 614.11,66.72 612.97,58.58 C611.83,50.45 610.21,34.17 611.02,29.29Z" fill="none" stroke="#e8e8e8" stroke-width="20" stroke-linejoin="round" opacity="0.85"/>
<path d="M611.02,101.54 C612.16,97.31 616.72,95.03 617.86,101.54 C618.99,108.05 618.99,136.37 617.86,140.6 C616.72,144.83 612.16,133.44 611.02,126.93 C609.88,120.42 609.88,105.77 611.02,101.54Z" fill="none" stroke="#e8e8e8" stroke-width="20" stroke-linejoin="round" opacity="0.85"/>
<path d="M464.57,3.91 C468.47,3.25 490.6,3.25 493.86,3.91 C497.11,4.56 488,7.16 484.09,7.81 C480.19,8.46 473.68,8.46 470.42,7.81 C467.17,7.16 460.66,4.56 464.57,3.91Z" fill="none" stroke="#e8e8e8" stroke-width="20" stroke-linejoin="round" opacity="0.85"/>
<path d="M599.3,3.91 C601.42,2.93 614.76,2.93 617.86,3.91 C620.95,4.88 619.97,8.79 617.86,9.76 C615.74,10.74 608.25,10.74 605.16,9.76 C602.07,8.79 597.19,4.88 599.3,3.91Z" fill="none" stroke="#e8e8e8" stroke-width="20" stroke-linejoin="round" opacity="0.85"/>
<path d="M75.81,180.17 C76.9,174.6 81.62,179.44 83.07,180.17 C84.52,180.89 81.86,184.76 84.52,184.52 C87.18,184.28 95.78,179.68 99.04,178.71 C102.31,177.75 103.16,175.32 104.13,178.71 C105.1,182.1 105.46,193.48 104.85,199.04 C104.25,204.61 103.4,209.45 100.5,212.11 C97.59,214.78 91.42,214.78 87.43,215.02 C83.43,215.26 78.47,219.38 76.53,213.57 C74.6,207.76 74.72,185.73 75.81,180.17Z" fill="none" stroke="#e8e8e8" stroke-width="20" stroke-linejoin="round" opacity="0.85"/>
<path d="M144.06,181.62 C145.03,179.44 142.37,179.2 151.32,178.71 C160.28,178.23 189.81,176.53 197.8,178.71 C205.78,180.89 199.73,187.67 199.25,191.78 C198.76,195.9 197.31,200.98 194.89,203.4 C192.47,205.82 189.08,206.18 184.73,206.31 C180.37,206.43 173.59,205.34 168.75,204.13 C163.91,202.92 159.55,201.1 155.68,199.04 C151.81,196.99 147.45,194.69 145.52,191.78 C143.58,188.88 143.1,183.8 144.06,181.62Z" fill="none" stroke="#e8e8e8" stroke-width="20" stroke-linejoin="round" opacity="0.85"/>
<path d="M205.06,213.57 C206.27,207.76 212.08,199.77 215.22,197.59 C218.37,195.41 220.3,198.56 223.94,200.5 C227.57,202.43 232.16,206.31 237.01,209.21 C241.85,212.11 249.59,214.78 252.98,217.92 C256.37,221.07 257.09,223.49 257.34,228.09 C257.58,232.69 256.61,241.16 254.43,245.52 C252.25,249.87 248.38,252.29 244.27,254.23 C240.15,256.17 233.86,255.92 229.74,257.13 C225.63,258.34 222.48,262.46 219.58,261.49 C216.67,260.52 214.25,256.17 212.32,251.32 C210.38,246.48 209.17,238.74 207.96,232.45 C206.75,226.15 203.85,219.38 205.06,213.57Z" fill="none" stroke="#e8e8e8" stroke-width="20" stroke-linejoin="round" opacity="0.85"/>
<path d="M129.54,223.73 C130.51,220.1 134.62,215.02 138.25,213.57 C141.88,212.11 145.76,213.57 151.32,215.02 C156.89,216.47 165.12,219.62 171.66,222.28 C178.19,224.94 186.42,227.12 190.53,230.99 C194.65,234.87 195.38,241.16 196.34,245.52 C197.31,249.87 196.1,252.78 196.34,257.13 C196.59,261.49 199.01,267.06 197.8,271.66 C196.59,276.25 193.44,281.09 189.08,284.73 C184.73,288.36 177.46,292.71 171.66,293.44 C165.85,294.16 158.83,291.5 154.23,289.08 C149.63,286.66 146.48,284.24 144.06,278.92 C141.64,273.59 140.92,262.7 139.71,257.13 C138.5,251.57 138.01,249.15 136.8,245.52 C135.59,241.88 133.66,238.98 132.45,235.35 C131.24,231.72 128.57,227.36 129.54,223.73Z" fill="none" stroke="#e8e8e8" stroke-width="20" stroke-linejoin="round" opacity="0.85"/>
<path d="M75.81,260.04 C77.99,251.08 85.49,260.52 88.88,260.04 C92.27,259.55 93.72,256.41 96.14,257.13 C98.56,257.86 101.46,260.76 103.4,264.39 C105.34,268.02 107.52,274.56 107.76,278.92 C108,283.27 107.03,287.15 104.85,290.53 C102.67,293.92 98.08,296.83 94.69,299.25 C91.3,301.67 86.94,302.64 84.52,305.06 C82.1,307.48 81.62,312.32 80.17,313.77 C78.71,315.22 76.53,322.73 75.81,313.77 C75.08,304.81 73.63,268.99 75.81,260.04Z" fill="none" stroke="#e8e8e8" stroke-width="20" stroke-linejoin="round" opacity="0.85"/>
<path d="M133.9,303.6 C133.66,300.94 138.98,298.76 142.61,299.25 C146.24,299.73 152.05,303.85 155.68,306.51 C159.31,309.17 162.46,311.83 164.39,315.22 C166.33,318.61 167.54,324.18 167.3,326.84 C167.06,329.5 165.12,331.68 162.94,331.2 C160.76,330.71 157.38,326.6 154.23,323.94 C151.08,321.27 147.45,318.61 144.06,315.22 C140.67,311.83 134.14,306.27 133.9,303.6Z" fill="none" stroke="#e8e8e8" stroke-width="20" stroke-linejoin="round" opacity="0.85"/>
<path d="M87.43,321.03 C88.88,317.4 92.75,316.92 96.14,315.22 C99.53,313.53 103.64,311.59 107.76,310.87 C111.87,310.14 116.96,309.66 120.83,310.87 C124.7,312.08 128.09,314.74 130.99,318.13 C133.9,321.52 135.35,327.57 138.25,331.2 C141.16,334.83 145.76,336.52 148.42,339.91 C151.08,343.3 153.02,346.57 154.23,351.53 C155.44,356.49 166.81,366.66 155.68,369.68 C144.55,372.71 98.08,372.71 87.43,369.68 C76.78,366.66 91.78,356.97 91.78,351.53 C91.78,346.08 88.15,342.09 87.43,337.01 C86.7,331.92 85.97,324.66 87.43,321.03Z" fill="none" stroke="#e8e8e8" stroke-width="20" stroke-linejoin="round" opacity="0.85"/>
<path d="M207.96,329.74 C209.41,323.69 212.08,320.06 213.77,315.22 C215.46,310.38 215.46,304.09 218.13,300.7 C220.79,297.31 224.9,295.86 229.74,294.89 C234.59,293.92 241.12,293.68 247.17,294.89 C253.22,296.1 260.48,298.76 266.05,302.15 C271.62,305.54 276.94,310.62 280.57,315.22 C284.2,319.82 286.87,324.18 287.83,329.74 C288.8,335.31 288.8,344.27 286.38,348.62 C283.96,352.98 279.12,354.19 273.31,355.88 C267.5,357.58 256.13,356.49 251.53,358.79 C246.93,361.09 253.22,367.87 245.72,369.68 C238.22,371.5 213.29,372.71 206.51,369.68 C199.73,366.66 204.81,358.18 205.06,351.53 C205.3,344.87 206.51,335.8 207.96,329.74Z" fill="none" stroke="#e8e8e8" stroke-width="20" stroke-linejoin="round" opacity="0.85"/>
<path d="M300.9,260.04 C301.87,252.29 304.29,245.27 308.16,239.71 C312.04,234.14 319.78,228.33 324.14,226.64 C328.5,224.94 330.67,226.88 334.3,229.54 C337.93,232.2 343.5,237.53 345.92,242.61 C348.34,247.69 349.31,253.99 348.83,260.04 C348.34,266.09 345.68,273.35 343.02,278.92 C340.36,284.48 336,288.36 332.85,293.44 C329.71,298.52 327.04,308.69 324.14,309.41 C321.23,310.14 319.06,301.67 315.43,297.8 C311.79,293.92 304.78,292.47 302.36,286.18 C299.94,279.88 299.94,267.78 300.9,260.04Z" fill="none" stroke="#e8e8e8" stroke-width="20" stroke-linejoin="round" opacity="0.85"/>
<path d="M276.22,178.71 C277.43,175.57 282.99,171.45 284.93,172.9 C286.87,174.36 284.93,184.28 287.83,187.43 C290.74,190.57 298.48,189.12 302.36,191.78 C306.23,194.45 310.1,200.01 311.07,203.4 C312.04,206.79 311.07,210.66 308.16,212.11 C305.26,213.57 297.76,213.32 293.64,212.11 C289.53,210.9 286.14,208.24 283.48,204.85 C280.81,201.46 278.88,196.14 277.67,191.78 C276.46,187.43 275.01,181.86 276.22,178.71Z" fill="none" stroke="#e8e8e8" stroke-width="20" stroke-linejoin="round" opacity="0.85"/>
<path d="M328.5,177.26 C333.34,174.84 353.91,169.52 358.99,177.26 C364.07,185.01 361.17,215.99 358.99,223.73 C356.81,231.48 349.79,226.15 345.92,223.73 C342.05,221.31 338.42,214.53 335.76,209.21 C333.09,203.89 331.16,197.11 329.95,191.78 C328.74,186.46 323.65,179.68 328.5,177.26Z" fill="none" stroke="#e8e8e8" stroke-width="20" stroke-linejoin="round" opacity="0.85"/>
<path d="M229.74,178.71 C231.68,179.92 237.73,177.99 241.36,180.17 C244.99,182.34 247.9,191.3 251.53,191.78 C255.16,192.27 259.03,185.25 263.15,183.07 C267.26,180.89 274.52,180.41 276.22,178.71 C277.91,177.02 281.06,173.87 273.31,172.9 C265.57,171.94 237.01,171.94 229.74,172.9 C222.48,173.87 227.81,177.5 229.74,178.71Z" fill="none" stroke="#e8e8e8" stroke-width="20" stroke-linejoin="round" opacity="0.85"/>
<path d="M331.4,344.27 C332.85,340.64 335.51,337.25 340.11,334.1 C344.71,330.95 355.85,321.03 358.99,325.39 C362.14,329.74 361.9,354.43 358.99,360.24 C356.09,366.05 346.16,360.97 341.57,360.24 C336.97,359.51 333.09,358.55 331.4,355.88 C329.71,353.22 329.95,347.9 331.4,344.27Z" fill="none" stroke="#e8e8e8" stroke-width="20" stroke-linejoin="round" opacity="0.85"/>
<path d="M340,170 C344.84,161.29 364.2,167.1 369.04,170 C373.89,172.9 370.25,182.59 369.04,187.43 C367.83,192.27 363.48,194.2 361.78,199.04 C360.09,203.89 360.09,212.36 358.88,216.47 C357.67,220.59 357.67,222.76 354.52,223.73 C351.38,224.7 342.42,231.24 340,222.28 C337.58,213.32 335.16,178.71 340,170Z" fill="none" stroke="#e8e8e8" stroke-width="20" stroke-linejoin="round" opacity="0.85"/>
<path d="M361.78,271.66 C362.27,264.39 363.96,249.15 364.69,242.61 C365.41,236.08 364.69,236.56 366.14,232.45 C367.59,228.33 371.22,223.49 373.4,217.92 C375.58,212.36 377.27,202.19 379.21,199.04 C381.15,195.9 382.36,196.62 385.02,199.04 C387.68,201.46 393.01,209.94 395.18,213.57 C397.36,217.2 398.81,217.2 398.09,220.83 C397.36,224.46 393.25,230.51 390.83,235.35 C388.41,240.19 385.02,243.82 383.57,249.87 C382.11,255.92 383.08,264.88 382.11,271.66 C381.15,278.43 379.69,286.66 377.76,290.53 C375.82,294.41 373.16,295.62 370.5,294.89 C367.83,294.16 363.24,290.05 361.78,286.18 C360.33,282.31 361.3,278.92 361.78,271.66Z" fill="none" stroke="#e8e8e8" stroke-width="20" stroke-linejoin="round" opacity="0.85"/>
<path d="M396.64,318.13 C396.64,312.56 400.03,296.34 400.99,286.18 C401.96,276.01 401.96,262.46 402.45,257.13 C402.93,251.81 400.75,257.62 403.9,254.23 C407.04,250.84 416.97,241.4 421.32,236.8 C425.68,232.2 426.65,227.6 430.04,226.64 C433.43,225.67 437.3,229.06 441.66,230.99 C446.01,232.93 451.34,235.59 456.18,238.25 C461.02,240.92 466.34,243.82 470.7,246.97 C475.06,250.11 479.66,253.02 482.32,257.13 C484.98,261.25 485.95,265.6 486.67,271.66 C487.4,277.71 487.16,286.18 486.67,293.44 C486.19,300.7 484.98,310.14 483.77,315.22 C482.56,320.3 481.59,322.73 479.41,323.94 C477.23,325.15 473.12,323.45 470.7,322.48 C468.28,321.52 469.73,318.37 464.89,318.13 C460.05,317.88 448.43,320.3 441.66,321.03 C434.88,321.76 429.8,323.21 424.23,322.48 C418.66,321.76 411.4,318.61 408.25,316.67 C405.11,314.74 406.56,310.38 405.35,310.87 C404.14,311.35 402.45,318.37 400.99,319.58 C399.54,320.79 396.64,323.69 396.64,318.13Z" fill="none" stroke="#e8e8e8" stroke-width="20" stroke-linejoin="round" opacity="0.85"/>
<path d="M492.48,206.31 C493.21,202.92 493.21,195.41 496.84,193.24 C500.47,191.06 510.39,192.27 514.27,193.24 C518.14,194.2 519.11,194.45 520.08,199.04 C521.04,203.64 520.56,215.74 520.08,220.83 C519.59,225.91 519.83,228.09 517.17,229.54 C514.51,230.99 507.49,230.75 504.1,229.54 C500.71,228.33 498.78,224.94 496.84,222.28 C494.9,219.62 493.21,216.23 492.48,213.57 C491.76,210.9 491.76,209.69 492.48,206.31Z" fill="none" stroke="#e8e8e8" stroke-width="20" stroke-linejoin="round" opacity="0.85"/>
<path d="M547.67,170 C558.8,165.16 604.3,166.37 615.92,170 C627.54,173.63 617.86,184.52 617.37,191.78 C616.89,199.04 614.71,207.52 613.02,213.57 C611.32,219.62 610.11,226.15 607.21,228.09 C604.3,230.03 600.19,226.39 595.59,225.18 C590.99,223.97 585.18,221.31 579.62,220.83 C574.05,220.34 566.55,223.01 562.19,222.28 C557.83,221.55 555.65,220.34 553.48,216.47 C551.3,212.6 550.09,206.79 549.12,199.04 C548.15,191.3 536.53,174.84 547.67,170Z" fill="none" stroke="#e8e8e8" stroke-width="20" stroke-linejoin="round" opacity="0.85"/>
<path d="M524.43,246.97 C524.92,245.03 527.82,241.88 531.69,241.16 C535.57,240.43 541.86,242.13 547.67,242.61 C553.48,243.1 560.01,243.58 566.55,244.06 C573.08,244.55 581.07,244.31 586.88,245.52 C592.69,246.73 597.53,248.18 601.4,251.32 C605.27,254.47 608.66,259.55 610.11,264.39 C611.57,269.24 611.57,276.01 610.11,280.37 C608.66,284.73 605.27,288.11 601.4,290.53 C597.53,292.95 591.23,295.13 586.88,294.89 C582.52,294.65 578.65,292.47 575.26,289.08 C571.87,285.69 570.18,278.92 566.55,274.56 C562.92,270.2 558.08,266.33 553.48,262.94 C548.88,259.55 543.07,255.92 538.95,254.23 C534.84,252.53 531.21,253.99 528.79,252.78 C526.37,251.57 523.95,248.9 524.43,246.97Z" fill="none" stroke="#e8e8e8" stroke-width="20" stroke-linejoin="round" opacity="0.85"/>
<path d="M507.01,369.68 C496.36,358.18 507.25,316.55 508.46,300.7 C509.67,284.85 510.88,278.92 514.27,274.56 C517.66,270.2 523.95,273.11 528.79,274.56 C533.63,276.01 538.47,279.4 543.31,283.27 C548.15,287.15 552.99,294.16 557.83,297.8 C562.67,301.43 569.21,299.73 572.36,305.06 C575.5,310.38 576.47,322 576.71,329.74 C576.95,337.49 574.53,344.87 573.81,351.53 C573.08,358.18 583.49,366.66 572.36,369.68 C561.22,372.71 517.66,381.18 507.01,369.68Z" fill="none" stroke="#e8e8e8" stroke-width="20" stroke-linejoin="round" opacity="0.85"/>
<path d="M589.78,344.27 C588.81,339.91 593.65,328.05 595.59,322.48 C597.53,316.92 597.53,313.29 601.4,310.87 C605.27,308.45 615.92,301.91 618.83,307.96 C621.73,314.01 621.73,340.39 618.83,347.17 C615.92,353.95 606.24,349.11 601.4,348.62 C596.56,348.14 590.75,348.62 589.78,344.27Z" fill="none" stroke="#e8e8e8" stroke-width="20" stroke-linejoin="round" opacity="0.85"/>
<path d="M583.97,369.68 C579.62,367.87 586.88,361.09 592.69,358.79 C598.5,356.49 614.47,354.07 618.83,355.88 C623.18,357.7 624.64,367.38 618.83,369.68 C613.02,371.98 588.33,371.5 583.97,369.68Z" fill="none" stroke="#e8e8e8" stroke-width="20" stroke-linejoin="round" opacity="0.85"/>
<path d="M340,369.68 C338.06,363.51 337.58,339.79 340,332.65 C342.42,325.51 349.68,328.29 354.52,326.84 C359.36,325.39 366.14,323.69 369.04,323.94 C371.95,324.18 373.16,324.9 371.95,328.29 C370.74,331.68 364.69,339.18 361.78,344.27 C358.88,349.35 356.22,354.55 354.52,358.79 C352.83,363.02 354.04,367.87 351.62,369.68 C349.2,371.5 341.94,375.85 340,369.68Z" fill="none" stroke="#e8e8e8" stroke-width="20" stroke-linejoin="round" opacity="0.85"/>
<path d="M382.11,369.68 C372.19,364.48 379.45,343.42 382.11,338.46 C384.78,333.5 391.8,338.94 398.09,339.91 C404.38,340.88 412.85,342.81 419.87,344.27 C426.89,345.72 436.57,344.39 440.2,348.62 C443.83,352.86 451.34,366.17 441.66,369.68 C431.97,373.19 392.04,374.88 382.11,369.68Z" fill="none" stroke="#e8e8e8" stroke-width="20" stroke-linejoin="round" opacity="0.85"/>
<path d="M459.08,369.68 C453.03,365.44 459.57,347.78 461.99,344.27 C464.41,340.76 468.52,347.41 473.6,348.62 C478.69,349.83 488.37,348.02 492.48,351.53 C496.6,355.04 503.86,366.66 498.29,369.68 C492.73,372.71 465.13,373.92 459.08,369.68Z" fill="none" stroke="#e8e8e8" stroke-width="20" stroke-linejoin="round" opacity="0.85"/>
<path d="M438.75,170 C443.59,168.55 470.7,168.06 476.51,170 C482.32,171.94 474.57,177.99 473.6,181.62 C472.64,185.25 472.88,189.6 470.7,191.78 C468.52,193.96 463.2,195.17 460.53,194.69 C457.87,194.2 456.9,191.54 454.73,188.88 C452.55,186.22 450.13,181.86 447.46,178.71 C444.8,175.57 433.91,171.45 438.75,170Z" fill="none" stroke="#e8e8e8" stroke-width="20" stroke-linejoin="round" opacity="0.85"/>
<path d="M340,239.71 C340.97,233.66 344.36,239.71 345.81,242.61 C347.26,245.52 348.71,252.29 348.71,257.13 C348.71,261.97 347.26,268.02 345.81,271.66 C344.36,275.29 340.97,284.24 340,278.92 C339.03,273.59 339.03,245.76 340,239.71Z" fill="none" stroke="#e8e8e8" stroke-width="20" stroke-linejoin="round" opacity="0.85"/>
<rect x="74.5" y="3" width="545.5" height="367" filter="url(#tex)" opacity="0.5" style="mix-blend-mode:overlay"/>
<path d="M248.79,3.91 C253.51,0.33 272.22,1.63 277.1,3.91 C281.98,6.18 279.05,13.67 278.08,17.57 C277.1,21.48 276.13,26.04 271.24,27.34 C266.36,28.64 252.53,29.29 248.79,25.39 C245.04,21.48 244.07,7.49 248.79,3.91Z" fill="none" stroke="#485d7e" stroke-width="9" stroke-linejoin="round"/>
<path d="M294.68,3.91 C298.26,0.65 310.62,0.65 314.2,3.91 C317.78,7.16 315.18,16.6 316.16,23.43 C317.13,30.27 319.74,39.05 320.06,44.91 C320.39,50.77 319.74,56.63 318.11,58.58 C316.48,60.54 313.55,59.88 310.3,56.63 C307.04,53.37 301.51,44.59 298.58,39.05 C295.65,33.52 293.37,29.29 292.72,23.43 C292.07,17.57 291.1,7.16 294.68,3.91Z" fill="none" stroke="#485d7e" stroke-width="9" stroke-linejoin="round"/>
<path d="M331.78,3.91 C338.61,1.95 370.51,2.28 374.74,3.91 C378.97,5.53 364,11.72 357.16,13.67 C350.33,15.62 337.96,17.25 333.73,15.62 C329.5,13.99 324.94,5.86 331.78,3.91Z" fill="none" stroke="#485d7e" stroke-width="9" stroke-linejoin="round"/>
<path d="M261.48,64.44 C263.76,58.09 273.2,47.52 279.05,45.89 C284.91,44.26 291.1,50.93 296.63,54.68 C302.16,58.42 309,63.79 312.25,68.35 C315.51,72.9 317.13,78.11 316.16,82.02 C315.18,85.92 309.32,87.87 306.39,91.78 C303.46,95.68 302.16,104.8 298.58,105.45 C295,106.1 290.45,99.26 284.91,95.68 C279.38,92.1 269.29,89.18 265.39,83.97 C261.48,78.76 259.2,70.79 261.48,64.44Z" fill="none" stroke="#485d7e" stroke-width="9" stroke-linejoin="round"/>
<path d="M341.54,56.63 C343.5,53.86 354.89,51.1 361.07,49.79 C367.25,48.49 375.06,48 378.64,48.82 C382.22,49.63 382.22,51.42 382.55,54.68 C382.88,57.93 381.57,64.12 380.6,68.35 C379.62,72.58 379.95,79.09 376.69,80.06 C373.44,81.04 365.63,76.48 361.07,74.2 C356.51,71.93 352.61,69.32 349.35,66.39 C346.1,63.46 339.59,59.4 341.54,56.63Z" fill="none" stroke="#485d7e" stroke-width="9" stroke-linejoin="round"/>
<path d="M329.83,87.87 C329.5,84.46 335.03,81.04 339.59,81.04 C344.15,81.04 352.61,84.46 357.16,87.87 C361.72,91.29 366.93,98.61 366.93,101.54 C366.93,104.47 361.4,105.45 357.16,105.45 C352.93,105.45 346.1,104.47 341.54,101.54 C336.99,98.61 330.15,91.29 329.83,87.87Z" fill="none" stroke="#485d7e" stroke-width="9" stroke-linejoin="round"/>
<path d="M419.65,46.87 C421.61,42.63 431.37,36.13 435.27,33.2 C439.18,30.27 441.46,28.31 443.09,29.29 C444.71,30.27 446.01,34.5 445.04,39.05 C444.06,43.61 440.81,53.37 437.23,56.63 C433.65,59.88 426.49,60.21 423.56,58.58 C420.63,56.96 417.7,51.1 419.65,46.87Z" fill="none" stroke="#485d7e" stroke-width="9" stroke-linejoin="round"/>
<path d="M470.42,78.11 C472.05,70.95 477.91,63.63 484.09,58.58 C490.28,53.54 501.02,47.19 507.53,47.84 C514.04,48.49 519.24,55.49 523.15,62.49 C527.05,69.49 530.96,82.34 530.96,89.83 C530.96,97.31 527.7,102.19 523.15,107.4 C518.59,112.61 510.13,119.44 503.62,121.07 C497.11,122.7 488.97,120.42 484.09,117.16 C479.21,113.91 476.61,108.05 474.33,101.54 C472.05,95.03 468.8,85.27 470.42,78.11Z" fill="none" stroke="#485d7e" stroke-width="9" stroke-linejoin="round"/>
<path d="M534.86,44.91 C538.12,38.4 546.26,24.08 552.44,19.53 C558.62,14.97 565.46,16.6 571.97,17.57 C578.48,18.55 587.59,21.81 591.49,25.39 C595.4,28.97 595.07,29.29 595.4,39.05 C595.72,48.82 597.35,77.13 593.45,83.97 C589.54,90.8 580.1,81.36 571.97,80.06 C563.83,78.76 551.14,79.74 544.63,76.16 C538.12,72.58 534.54,63.79 532.91,58.58 C531.28,53.37 531.61,51.42 534.86,44.91Z" fill="none" stroke="#485d7e" stroke-width="9" stroke-linejoin="round"/>
<path d="M529.01,126.93 C529.66,119.44 537.14,110 542.68,105.45 C548.21,100.89 554.39,100.57 562.2,99.59 C570.01,98.61 584.98,96.01 589.54,99.59 C594.1,103.17 594.1,114.89 589.54,121.07 C584.98,127.25 570.66,131.81 562.2,136.69 C553.74,141.57 544.3,151.99 538.77,150.36 C533.24,148.73 528.36,134.41 529.01,126.93Z" fill="none" stroke="#485d7e" stroke-width="9" stroke-linejoin="round"/>
<path d="M374.74,117.16 C377.34,111.96 387.43,106.1 394.27,105.45 C401.1,104.8 411.19,108.7 415.75,113.26 C420.3,117.82 421.61,125.63 421.61,132.79 C421.61,139.95 419.33,150.69 415.75,156.22 C412.17,161.75 405.01,165.33 400.12,165.98 C395.24,166.63 390.04,165.01 386.46,160.12 C382.88,155.24 380.6,143.85 378.64,136.69 C376.69,129.53 372.14,122.37 374.74,117.16Z" fill="none" stroke="#485d7e" stroke-width="9" stroke-linejoin="round"/>
<path d="M429.42,156.22 C430.39,151.01 434.95,144.18 441.13,140.6 C447.32,137.02 460.66,132.14 466.52,134.74 C472.38,137.34 474.33,149.38 476.28,156.22 C478.23,163.05 479.21,169.56 478.23,175.75 C477.26,181.93 474.65,191.04 470.42,193.32 C466.19,195.6 458.71,193 452.85,189.42 C446.99,185.84 439.18,177.37 435.27,171.84 C431.37,166.31 428.44,161.43 429.42,156.22Z" fill="none" stroke="#485d7e" stroke-width="9" stroke-linejoin="round"/>
<path d="M318.11,132.79 C318.76,125.3 321.36,122.7 325.92,121.07 C330.48,119.44 339.59,119.77 345.45,123.02 C351.31,126.28 357.49,133.44 361.07,140.6 C364.65,147.76 365.63,156.87 366.93,165.98 C368.23,175.1 374.41,190.39 368.88,195.27 C363.35,200.16 341.54,200.16 333.73,195.27 C325.92,190.39 324.62,176.4 322.02,165.98 C319.41,155.57 317.46,140.27 318.11,132.79Z" fill="none" stroke="#485d7e" stroke-width="9" stroke-linejoin="round"/>
<path d="M248.79,105.45 C252.2,95.03 262.29,108.7 269.29,113.26 C276.29,117.82 285.89,125.63 290.77,132.79 C295.65,139.95 296.63,150.69 298.58,156.22 C300.54,161.75 304.12,163.71 302.49,165.98 C300.86,168.26 293.05,168.26 288.82,169.89 C284.59,171.52 283.77,174.77 277.1,175.75 C270.43,176.72 253.51,187.46 248.79,175.75 C244.07,164.03 245.37,115.86 248.79,105.45Z" fill="none" stroke="#485d7e" stroke-width="9" stroke-linejoin="round"/>
<path d="M546.58,171.84 C550.81,164.03 563.5,154.59 571.97,150.36 C580.43,146.13 589.7,142.22 597.35,146.46 C605,150.69 614.44,167.29 617.86,175.75 C621.27,184.21 629.74,193.65 617.86,197.23 C605.98,200.81 558.46,201.46 546.58,197.23 C534.7,193 542.35,179.65 546.58,171.84Z" fill="none" stroke="#485d7e" stroke-width="9" stroke-linejoin="round"/>
<path d="M611.02,29.29 C611.83,24.41 616.72,21.15 617.86,29.29 C618.99,37.43 618.67,73.23 617.86,78.11 C617.04,82.99 614.11,66.72 612.97,58.58 C611.83,50.45 610.21,34.17 611.02,29.29Z" fill="none" stroke="#485d7e" stroke-width="9" stroke-linejoin="round"/>
<path d="M611.02,101.54 C612.16,97.31 616.72,95.03 617.86,101.54 C618.99,108.05 618.99,136.37 617.86,140.6 C616.72,144.83 612.16,133.44 611.02,126.93 C609.88,120.42 609.88,105.77 611.02,101.54Z" fill="none" stroke="#485d7e" stroke-width="9" stroke-linejoin="round"/>
<path d="M464.57,3.91 C468.47,3.25 490.6,3.25 493.86,3.91 C497.11,4.56 488,7.16 484.09,7.81 C480.19,8.46 473.68,8.46 470.42,7.81 C467.17,7.16 460.66,4.56 464.57,3.91Z" fill="none" stroke="#485d7e" stroke-width="9" stroke-linejoin="round"/>
<path d="M599.3,3.91 C601.42,2.93 614.76,2.93 617.86,3.91 C620.95,4.88 619.97,8.79 617.86,9.76 C615.74,10.74 608.25,10.74 605.16,9.76 C602.07,8.79 597.19,4.88 599.3,3.91Z" fill="none" stroke="#485d7e" stroke-width="9" stroke-linejoin="round"/>
<path d="M75.81,180.17 C76.9,174.6 81.62,179.44 83.07,180.17 C84.52,180.89 81.86,184.76 84.52,184.52 C87.18,184.28 95.78,179.68 99.04,178.71 C102.31,177.75 103.16,175.32 104.13,178.71 C105.1,182.1 105.46,193.48 104.85,199.04 C104.25,204.61 103.4,209.45 100.5,212.11 C97.59,214.78 91.42,214.78 87.43,215.02 C83.43,215.26 78.47,219.38 76.53,213.57 C74.6,207.76 74.72,185.73 75.81,180.17Z" fill="none" stroke="#485d7e" stroke-width="9" stroke-linejoin="round"/>
<path d="M144.06,181.62 C145.03,179.44 142.37,179.2 151.32,178.71 C160.28,178.23 189.81,176.53 197.8,178.71 C205.78,180.89 199.73,187.67 199.25,191.78 C198.76,195.9 197.31,200.98 194.89,203.4 C192.47,205.82 189.08,206.18 184.73,206.31 C180.37,206.43 173.59,205.34 168.75,204.13 C163.91,202.92 159.55,201.1 155.68,199.04 C151.81,196.99 147.45,194.69 145.52,191.78 C143.58,188.88 143.1,183.8 144.06,181.62Z" fill="none" stroke="#485d7e" stroke-width="9" stroke-linejoin="round"/>
<path d="M205.06,213.57 C206.27,207.76 212.08,199.77 215.22,197.59 C218.37,195.41 220.3,198.56 223.94,200.5 C227.57,202.43 232.16,206.31 237.01,209.21 C241.85,212.11 249.59,214.78 252.98,217.92 C256.37,221.07 257.09,223.49 257.34,228.09 C257.58,232.69 256.61,241.16 254.43,245.52 C252.25,249.87 248.38,252.29 244.27,254.23 C240.15,256.17 233.86,255.92 229.74,257.13 C225.63,258.34 222.48,262.46 219.58,261.49 C216.67,260.52 214.25,256.17 212.32,251.32 C210.38,246.48 209.17,238.74 207.96,232.45 C206.75,226.15 203.85,219.38 205.06,213.57Z" fill="none" stroke="#485d7e" stroke-width="9" stroke-linejoin="round"/>
<path d="M129.54,223.73 C130.51,220.1 134.62,215.02 138.25,213.57 C141.88,212.11 145.76,213.57 151.32,215.02 C156.89,216.47 165.12,219.62 171.66,222.28 C178.19,224.94 186.42,227.12 190.53,230.99 C194.65,234.87 195.38,241.16 196.34,245.52 C197.31,249.87 196.1,252.78 196.34,257.13 C196.59,261.49 199.01,267.06 197.8,271.66 C196.59,276.25 193.44,281.09 189.08,284.73 C184.73,288.36 177.46,292.71 171.66,293.44 C165.85,294.16 158.83,291.5 154.23,289.08 C149.63,286.66 146.48,284.24 144.06,278.92 C141.64,273.59 140.92,262.7 139.71,257.13 C138.5,251.57 138.01,249.15 136.8,245.52 C135.59,241.88 133.66,238.98 132.45,235.35 C131.24,231.72 128.57,227.36 129.54,223.73Z" fill="none" stroke="#485d7e" stroke-width="9" stroke-linejoin="round"/>
<path d="M75.81,260.04 C77.99,251.08 85.49,260.52 88.88,260.04 C92.27,259.55 93.72,256.41 96.14,257.13 C98.56,257.86 101.46,260.76 103.4,264.39 C105.34,268.02 107.52,274.56 107.76,278.92 C108,283.27 107.03,287.15 104.85,290.53 C102.67,293.92 98.08,296.83 94.69,299.25 C91.3,301.67 86.94,302.64 84.52,305.06 C82.1,307.48 81.62,312.32 80.17,313.77 C78.71,315.22 76.53,322.73 75.81,313.77 C75.08,304.81 73.63,268.99 75.81,260.04Z" fill="none" stroke="#485d7e" stroke-width="9" stroke-linejoin="round"/>
<path d="M133.9,303.6 C133.66,300.94 138.98,298.76 142.61,299.25 C146.24,299.73 152.05,303.85 155.68,306.51 C159.31,309.17 162.46,311.83 164.39,315.22 C166.33,318.61 167.54,324.18 167.3,326.84 C167.06,329.5 165.12,331.68 162.94,331.2 C160.76,330.71 157.38,326.6 154.23,323.94 C151.08,321.27 147.45,318.61 144.06,315.22 C140.67,311.83 134.14,306.27 133.9,303.6Z" fill="none" stroke="#485d7e" stroke-width="9" stroke-linejoin="round"/>
<path d="M87.43,321.03 C88.88,317.4 92.75,316.92 96.14,315.22 C99.53,313.53 103.64,311.59 107.76,310.87 C111.87,310.14 116.96,309.66 120.83,310.87 C124.7,312.08 128.09,314.74 130.99,318.13 C133.9,321.52 135.35,327.57 138.25,331.2 C141.16,334.83 145.76,336.52 148.42,339.91 C151.08,343.3 153.02,346.57 154.23,351.53 C155.44,356.49 166.81,366.66 155.68,369.68 C144.55,372.71 98.08,372.71 87.43,369.68 C76.78,366.66 91.78,356.97 91.78,351.53 C91.78,346.08 88.15,342.09 87.43,337.01 C86.7,331.92 85.97,324.66 87.43,321.03Z" fill="none" stroke="#485d7e" stroke-width="9" stroke-linejoin="round"/>
<path d="M207.96,329.74 C209.41,323.69 212.08,320.06 213.77,315.22 C215.46,310.38 215.46,304.09 218.13,300.7 C220.79,297.31 224.9,295.86 229.74,294.89 C234.59,293.92 241.12,293.68 247.17,294.89 C253.22,296.1 260.48,298.76 266.05,302.15 C271.62,305.54 276.94,310.62 280.57,315.22 C284.2,319.82 286.87,324.18 287.83,329.74 C288.8,335.31 288.8,344.27 286.38,348.62 C283.96,352.98 279.12,354.19 273.31,355.88 C267.5,357.58 256.13,356.49 251.53,358.79 C246.93,361.09 253.22,367.87 245.72,369.68 C238.22,371.5 213.29,372.71 206.51,369.68 C199.73,366.66 204.81,358.18 205.06,351.53 C205.3,344.87 206.51,335.8 207.96,329.74Z" fill="none" stroke="#485d7e" stroke-width="9" stroke-linejoin="round"/>
<path d="M300.9,260.04 C301.87,252.29 304.29,245.27 308.16,239.71 C312.04,234.14 319.78,228.33 324.14,226.64 C328.5,224.94 330.67,226.88 334.3,229.54 C337.93,232.2 343.5,237.53 345.92,242.61 C348.34,247.69 349.31,253.99 348.83,260.04 C348.34,266.09 345.68,273.35 343.02,278.92 C340.36,284.48 336,288.36 332.85,293.44 C329.71,298.52 327.04,308.69 324.14,309.41 C321.23,310.14 319.06,301.67 315.43,297.8 C311.79,293.92 304.78,292.47 302.36,286.18 C299.94,279.88 299.94,267.78 300.9,260.04Z" fill="none" stroke="#485d7e" stroke-width="9" stroke-linejoin="round"/>
<path d="M276.22,178.71 C277.43,175.57 282.99,171.45 284.93,172.9 C286.87,174.36 284.93,184.28 287.83,187.43 C290.74,190.57 298.48,189.12 302.36,191.78 C306.23,194.45 310.1,200.01 311.07,203.4 C312.04,206.79 311.07,210.66 308.16,212.11 C305.26,213.57 297.76,213.32 293.64,212.11 C289.53,210.9 286.14,208.24 283.48,204.85 C280.81,201.46 278.88,196.14 277.67,191.78 C276.46,187.43 275.01,181.86 276.22,178.71Z" fill="none" stroke="#485d7e" stroke-width="9" stroke-linejoin="round"/>
<path d="M328.5,177.26 C333.34,174.84 353.91,169.52 358.99,177.26 C364.07,185.01 361.17,215.99 358.99,223.73 C356.81,231.48 349.79,226.15 345.92,223.73 C342.05,221.31 338.42,214.53 335.76,209.21 C333.09,203.89 331.16,197.11 329.95,191.78 C328.74,186.46 323.65,179.68 328.5,177.26Z" fill="none" stroke="#485d7e" stroke-width="9" stroke-linejoin="round"/>
<path d="M229.74,178.71 C231.68,179.92 237.73,177.99 241.36,180.17 C244.99,182.34 247.9,191.3 251.53,191.78 C255.16,192.27 259.03,185.25 263.15,183.07 C267.26,180.89 274.52,180.41 276.22,178.71 C277.91,177.02 281.06,173.87 273.31,172.9 C265.57,171.94 237.01,171.94 229.74,172.9 C222.48,173.87 227.81,177.5 229.74,178.71Z" fill="none" stroke="#485d7e" stroke-width="9" stroke-linejoin="round"/>
<path d="M331.4,344.27 C332.85,340.64 335.51,337.25 340.11,334.1 C344.71,330.95 355.85,321.03 358.99,325.39 C362.14,329.74 361.9,354.43 358.99,360.24 C356.09,366.05 346.16,360.97 341.57,360.24 C336.97,359.51 333.09,358.55 331.4,355.88 C329.71,353.22 329.95,347.9 331.4,344.27Z" fill="none" stroke="#485d7e" stroke-width="9" stroke-linejoin="round"/>
<path d="M340,170 C344.84,161.29 364.2,167.1 369.04,170 C373.89,172.9 370.25,182.59 369.04,187.43 C367.83,192.27 363.48,194.2 361.78,199.04 C360.09,203.89 360.09,212.36 358.88,216.47 C357.67,220.59 357.67,222.76 354.52,223.73 C351.38,224.7 342.42,231.24 340,222.28 C337.58,213.32 335.16,178.71 340,170Z" fill="none" stroke="#485d7e" stroke-width="9" stroke-linejoin="round"/>
<path d="M361.78,271.66 C362.27,264.39 363.96,249.15 364.69,242.61 C365.41,236.08 364.69,236.56 366.14,232.45 C367.59,228.33 371.22,223.49 373.4,217.92 C375.58,212.36 377.27,202.19 379.21,199.04 C381.15,195.9 382.36,196.62 385.02,199.04 C387.68,201.46 393.01,209.94 395.18,213.57 C397.36,217.2 398.81,217.2 398.09,220.83 C397.36,224.46 393.25,230.51 390.83,235.35 C388.41,240.19 385.02,243.82 383.57,249.87 C382.11,255.92 383.08,264.88 382.11,271.66 C381.15,278.43 379.69,286.66 377.76,290.53 C375.82,294.41 373.16,295.62 370.5,294.89 C367.83,294.16 363.24,290.05 361.78,286.18 C360.33,282.31 361.3,278.92 361.78,271.66Z" fill="none" stroke="#485d7e" stroke-width="9" stroke-linejoin="round"/>
<path d="M396.64,318.13 C396.64,312.56 400.03,296.34 400.99,286.18 C401.96,276.01 401.96,262.46 402.45,257.13 C402.93,251.81 400.75,257.62 403.9,254.23 C407.04,250.84 416.97,241.4 421.32,236.8 C425.68,232.2 426.65,227.6 430.04,226.64 C433.43,225.67 437.3,229.06 441.66,230.99 C446.01,232.93 451.34,235.59 456.18,238.25 C461.02,240.92 466.34,243.82 470.7,246.97 C475.06,250.11 479.66,253.02 482.32,257.13 C484.98,261.25 485.95,265.6 486.67,271.66 C487.4,277.71 487.16,286.18 486.67,293.44 C486.19,300.7 484.98,310.14 483.77,315.22 C482.56,320.3 481.59,322.73 479.41,323.94 C477.23,325.15 473.12,323.45 470.7,322.48 C468.28,321.52 469.73,318.37 464.89,318.13 C460.05,317.88 448.43,320.3 441.66,321.03 C434.88,321.76 429.8,323.21 424.23,322.48 C418.66,321.76 411.4,318.61 408.25,316.67 C405.11,314.74 406.56,310.38 405.35,310.87 C404.14,311.35 402.45,318.37 400.99,319.58 C399.54,320.79 396.64,323.69 396.64,318.13Z" fill="none" stroke="#485d7e" stroke-width="9" stroke-linejoin="round"/>
<path d="M492.48,206.31 C493.21,202.92 493.21,195.41 496.84,193.24 C500.47,191.06 510.39,192.27 514.27,193.24 C518.14,194.2 519.11,194.45 520.08,199.04 C521.04,203.64 520.56,215.74 520.08,220.83 C519.59,225.91 519.83,228.09 517.17,229.54 C514.51,230.99 507.49,230.75 504.1,229.54 C500.71,228.33 498.78,224.94 496.84,222.28 C494.9,219.62 493.21,216.23 492.48,213.57 C491.76,210.9 491.76,209.69 492.48,206.31Z" fill="none" stroke="#485d7e" stroke-width="9" stroke-linejoin="round"/>
<path d="M547.67,170 C558.8,165.16 604.3,166.37 615.92,170 C627.54,173.63 617.86,184.52 617.37,191.78 C616.89,199.04 614.71,207.52 613.02,213.57 C611.32,219.62 610.11,226.15 607.21,228.09 C604.3,230.03 600.19,226.39 595.59,225.18 C590.99,223.97 585.18,221.31 579.62,220.83 C574.05,220.34 566.55,223.01 562.19,222.28 C557.83,221.55 555.65,220.34 553.48,216.47 C551.3,212.6 550.09,206.79 549.12,199.04 C548.15,191.3 536.53,174.84 547.67,170Z" fill="none" stroke="#485d7e" stroke-width="9" stroke-linejoin="round"/>
<path d="M524.43,246.97 C524.92,245.03 527.82,241.88 531.69,241.16 C535.57,240.43 541.86,242.13 547.67,242.61 C553.48,243.1 560.01,243.58 566.55,244.06 C573.08,244.55 581.07,244.31 586.88,245.52 C592.69,246.73 597.53,248.18 601.4,251.32 C605.27,254.47 608.66,259.55 610.11,264.39 C611.57,269.24 611.57,276.01 610.11,280.37 C608.66,284.73 605.27,288.11 601.4,290.53 C597.53,292.95 591.23,295.13 586.88,294.89 C582.52,294.65 578.65,292.47 575.26,289.08 C571.87,285.69 570.18,278.92 566.55,274.56 C562.92,270.2 558.08,266.33 553.48,262.94 C548.88,259.55 543.07,255.92 538.95,254.23 C534.84,252.53 531.21,253.99 528.79,252.78 C526.37,251.57 523.95,248.9 524.43,246.97Z" fill="none" stroke="#485d7e" stroke-width="9" stroke-linejoin="round"/>
<path d="M507.01,369.68 C496.36,358.18 507.25,316.55 508.46,300.7 C509.67,284.85 510.88,278.92 514.27,274.56 C517.66,270.2 523.95,273.11 528.79,274.56 C533.63,276.01 538.47,279.4 543.31,283.27 C548.15,287.15 552.99,294.16 557.83,297.8 C562.67,301.43 569.21,299.73 572.36,305.06 C575.5,310.38 576.47,322 576.71,329.74 C576.95,337.49 574.53,344.87 573.81,351.53 C573.08,358.18 583.49,366.66 572.36,369.68 C561.22,372.71 517.66,381.18 507.01,369.68Z" fill="none" stroke="#485d7e" stroke-width="9" stroke-linejoin="round"/>
<path d="M589.78,344.27 C588.81,339.91 593.65,328.05 595.59,322.48 C597.53,316.92 597.53,313.29 601.4,310.87 C605.27,308.45 615.92,301.91 618.83,307.96 C621.73,314.01 621.73,340.39 618.83,347.17 C615.92,353.95 606.24,349.11 601.4,348.62 C596.56,348.14 590.75,348.62 589.78,344.27Z" fill="none" stroke="#485d7e" stroke-width="9" stroke-linejoin="round"/>
<path d="M583.97,369.68 C579.62,367.87 586.88,361.09 592.69,358.79 C598.5,356.49 614.47,354.07 618.83,355.88 C623.18,357.7 624.64,367.38 618.83,369.68 C613.02,371.98 588.33,371.5 583.97,369.68Z" fill="none" stroke="#485d7e" stroke-width="9" stroke-linejoin="round"/>
<path d="M340,369.68 C338.06,363.51 337.58,339.79 340,332.65 C342.42,325.51 349.68,328.29 354.52,326.84 C359.36,325.39 366.14,323.69 369.04,323.94 C371.95,324.18 373.16,324.9 371.95,328.29 C370.74,331.68 364.69,339.18 361.78,344.27 C358.88,349.35 356.22,354.55 354.52,358.79 C352.83,363.02 354.04,367.87 351.62,369.68 C349.2,371.5 341.94,375.85 340,369.68Z" fill="none" stroke="#485d7e" stroke-width="9" stroke-linejoin="round"/>
<path d="M382.11,369.68 C372.19,364.48 379.45,343.42 382.11,338.46 C384.78,333.5 391.8,338.94 398.09,339.91 C404.38,340.88 412.85,342.81 419.87,344.27 C426.89,345.72 436.57,344.39 440.2,348.62 C443.83,352.86 451.34,366.17 441.66,369.68 C431.97,373.19 392.04,374.88 382.11,369.68Z" fill="none" stroke="#485d7e" stroke-width="9" stroke-linejoin="round"/>
<path d="M459.08,369.68 C453.03,365.44 459.57,347.78 461.99,344.27 C464.41,340.76 468.52,347.41 473.6,348.62 C478.69,349.83 488.37,348.02 492.48,351.53 C496.6,355.04 503.86,366.66 498.29,369.68 C492.73,372.71 465.13,373.92 459.08,369.68Z" fill="none" stroke="#485d7e" stroke-width="9" stroke-linejoin="round"/>
<path d="M438.75,170 C443.59,168.55 470.7,168.06 476.51,170 C482.32,171.94 474.57,177.99 473.6,181.62 C472.64,185.25 472.88,189.6 470.7,191.78 C468.52,193.96 463.2,195.17 460.53,194.69 C457.87,194.2 456.9,191.54 454.73,188.88 C452.55,186.22 450.13,181.86 447.46,178.71 C444.8,175.57 433.91,171.45 438.75,170Z" fill="none" stroke="#485d7e" stroke-width="9" stroke-linejoin="round"/>
<path d="M340,239.71 C340.97,233.66 344.36,239.71 345.81,242.61 C347.26,245.52 348.71,252.29 348.71,257.13 C348.71,261.97 347.26,268.02 345.81,271.66 C344.36,275.29 340.97,284.24 340,278.92 C339.03,273.59 339.03,245.76 340,239.71Z" fill="none" stroke="#485d7e" stroke-width="9" stroke-linejoin="round"/>
<path d="M248.79,3.91 C253.51,0.33 272.22,1.63 277.1,3.91 C281.98,6.18 279.05,13.67 278.08,17.57 C277.1,21.48 276.13,26.04 271.24,27.34 C266.36,28.64 252.53,29.29 248.79,25.39 C245.04,21.48 244.07,7.49 248.79,3.91Z" fill="#5c5c5c" stroke="none"/>
<path d="M294.68,3.91 C298.26,0.65 310.62,0.65 314.2,3.91 C317.78,7.16 315.18,16.6 316.16,23.43 C317.13,30.27 319.74,39.05 320.06,44.91 C320.39,50.77 319.74,56.63 318.11,58.58 C316.48,60.54 313.55,59.88 310.3,56.63 C307.04,53.37 301.51,44.59 298.58,39.05 C295.65,33.52 293.37,29.29 292.72,23.43 C292.07,17.57 291.1,7.16 294.68,3.91Z" fill="#5c5c5c" stroke="none"/>
<path d="M331.78,3.91 C338.61,1.95 370.51,2.28 374.74,3.91 C378.97,5.53 364,11.72 357.16,13.67 C350.33,15.62 337.96,17.25 333.73,15.62 C329.5,13.99 324.94,5.86 331.78,3.91Z" fill="#5c5c5c" stroke="none"/>
<path d="M261.48,64.44 C263.76,58.09 273.2,47.52 279.05,45.89 C284.91,44.26 291.1,50.93 296.63,54.68 C302.16,58.42 309,63.79 312.25,68.35 C315.51,72.9 317.13,78.11 316.16,82.02 C315.18,85.92 309.32,87.87 306.39,91.78 C303.46,95.68 302.16,104.8 298.58,105.45 C295,106.1 290.45,99.26 284.91,95.68 C279.38,92.1 269.29,89.18 265.39,83.97 C261.48,78.76 259.2,70.79 261.48,64.44Z" fill="#5c5c5c" stroke="none"/>
<path d="M341.54,56.63 C343.5,53.86 354.89,51.1 361.07,49.79 C367.25,48.49 375.06,48 378.64,48.82 C382.22,49.63 382.22,51.42 382.55,54.68 C382.88,57.93 381.57,64.12 380.6,68.35 C379.62,72.58 379.95,79.09 376.69,80.06 C373.44,81.04 365.63,76.48 361.07,74.2 C356.51,71.93 352.61,69.32 349.35,66.39 C346.1,63.46 339.59,59.4 341.54,56.63Z" fill="#5c5c5c" stroke="none"/>
<path d="M329.83,87.87 C329.5,84.46 335.03,81.04 339.59,81.04 C344.15,81.04 352.61,84.46 357.16,87.87 C361.72,91.29 366.93,98.61 366.93,101.54 C366.93,104.47 361.4,105.45 357.16,105.45 C352.93,105.45 346.1,104.47 341.54,101.54 C336.99,98.61 330.15,91.29 329.83,87.87Z" fill="#5c5c5c" stroke="none"/>
<path d="M419.65,46.87 C421.61,42.63 431.37,36.13 435.27,33.2 C439.18,30.27 441.46,28.31 443.09,29.29 C444.71,30.27 446.01,34.5 445.04,39.05 C444.06,43.61 440.81,53.37 437.23,56.63 C433.65,59.88 426.49,60.21 423.56,58.58 C420.63,56.96 417.7,51.1 419.65,46.87Z" fill="#5c5c5c" stroke="none"/>
<path d="M470.42,78.11 C472.05,70.95 477.91,63.63 484.09,58.58 C490.28,53.54 501.02,47.19 507.53,47.84 C514.04,48.49 519.24,55.49 523.15,62.49 C527.05,69.49 530.96,82.34 530.96,89.83 C530.96,97.31 527.7,102.19 523.15,107.4 C518.59,112.61 510.13,119.44 503.62,121.07 C497.11,122.7 488.97,120.42 484.09,117.16 C479.21,113.91 476.61,108.05 474.33,101.54 C472.05,95.03 468.8,85.27 470.42,78.11Z" fill="#5c5c5c" stroke="none"/>
<path d="M534.86,44.91 C538.12,38.4 546.26,24.08 552.44,19.53 C558.62,14.97 565.46,16.6 571.97,17.57 C578.48,18.55 587.59,21.81 591.49,25.39 C595.4,28.97 595.07,29.29 595.4,39.05 C595.72,48.82 597.35,77.13 593.45,83.97 C589.54,90.8 580.1,81.36 571.97,80.06 C563.83,78.76 551.14,79.74 544.63,76.16 C538.12,72.58 534.54,63.79 532.91,58.58 C531.28,53.37 531.61,51.42 534.86,44.91Z" fill="#5c5c5c" stroke="none"/>
<path d="M529.01,126.93 C529.66,119.44 537.14,110 542.68,105.45 C548.21,100.89 554.39,100.57 562.2,99.59 C570.01,98.61 584.98,96.01 589.54,99.59 C594.1,103.17 594.1,114.89 589.54,121.07 C584.98,127.25 570.66,131.81 562.2,136.69 C553.74,141.57 544.3,151.99 538.77,150.36 C533.24,148.73 528.36,134.41 529.01,126.93Z" fill="#5c5c5c" stroke="none"/>
<path d="M374.74,117.16 C377.34,111.96 387.43,106.1 394.27,105.45 C401.1,104.8 411.19,108.7 415.75,113.26 C420.3,117.82 421.61,125.63 421.61,132.79 C421.61,139.95 419.33,150.69 415.75,156.22 C412.17,161.75 405.01,165.33 400.12,165.98 C395.24,166.63 390.04,165.01 386.46,160.12 C382.88,155.24 380.6,143.85 378.64,136.69 C376.69,129.53 372.14,122.37 374.74,117.16Z" fill="#5c5c5c" stroke="none"/>
<path d="M429.42,156.22 C430.39,151.01 434.95,144.18 441.13,140.6 C447.32,137.02 460.66,132.14 466.52,134.74 C472.38,137.34 474.33,149.38 476.28,156.22 C478.23,163.05 479.21,169.56 478.23,175.75 C477.26,181.93 474.65,191.04 470.42,193.32 C466.19,195.6 458.71,193 452.85,189.42 C446.99,185.84 439.18,177.37 435.27,171.84 C431.37,166.31 428.44,161.43 429.42,156.22Z" fill="#5c5c5c" stroke="none"/>
<path d="M318.11,132.79 C318.76,125.3 321.36,122.7 325.92,121.07 C330.48,119.44 339.59,119.77 345.45,123.02 C351.31,126.28 357.49,133.44 361.07,140.6 C364.65,147.76 365.63,156.87 366.93,165.98 C368.23,175.1 374.41,190.39 368.88,195.27 C363.35,200.16 341.54,200.16 333.73,195.27 C325.92,190.39 324.62,176.4 322.02,165.98 C319.41,155.57 317.46,140.27 318.11,132.79Z" fill="#5c5c5c" stroke="none"/>
<path d="M248.79,105.45 C252.2,95.03 262.29,108.7 269.29,113.26 C276.29,117.82 285.89,125.63 290.77,132.79 C295.65,139.95 296.63,150.69 298.58,156.22 C300.54,161.75 304.12,163.71 302.49,165.98 C300.86,168.26 293.05,168.26 288.82,169.89 C284.59,171.52 283.77,174.77 277.1,175.75 C270.43,176.72 253.51,187.46 248.79,175.75 C244.07,164.03 245.37,115.86 248.79,105.45Z" fill="#5c5c5c" stroke="none"/>
<path d="M546.58,171.84 C550.81,164.03 563.5,154.59 571.97,150.36 C580.43,146.13 589.7,142.22 597.35,146.46 C605,150.69 614.44,167.29 617.86,175.75 C621.27,184.21 629.74,193.65 617.86,197.23 C605.98,200.81 558.46,201.46 546.58,197.23 C534.7,193 542.35,179.65 546.58,171.84Z" fill="#5c5c5c" stroke="none"/>
<path d="M611.02,29.29 C611.83,24.41 616.72,21.15 617.86,29.29 C618.99,37.43 618.67,73.23 617.86,78.11 C617.04,82.99 614.11,66.72 612.97,58.58 C611.83,50.45 610.21,34.17 611.02,29.29Z" fill="#5c5c5c" stroke="none"/>
<path d="M611.02,101.54 C612.16,97.31 616.72,95.03 617.86,101.54 C618.99,108.05 618.99,136.37 617.86,140.6 C616.72,144.83 612.16,133.44 611.02,126.93 C609.88,120.42 609.88,105.77 611.02,101.54Z" fill="#5c5c5c" stroke="none"/>
<path d="M464.57,3.91 C468.47,3.25 490.6,3.25 493.86,3.91 C497.11,4.56 488,7.16 484.09,7.81 C480.19,8.46 473.68,8.46 470.42,7.81 C467.17,7.16 460.66,4.56 464.57,3.91Z" fill="#5c5c5c" stroke="none"/>
<path d="M599.3,3.91 C601.42,2.93 614.76,2.93 617.86,3.91 C620.95,4.88 619.97,8.79 617.86,9.76 C615.74,10.74 608.25,10.74 605.16,9.76 C602.07,8.79 597.19,4.88 599.3,3.91Z" fill="#5c5c5c" stroke="none"/>
<path d="M75.81,180.17 C76.9,174.6 81.62,179.44 83.07,180.17 C84.52,180.89 81.86,184.76 84.52,184.52 C87.18,184.28 95.78,179.68 99.04,178.71 C102.31,177.75 103.16,175.32 104.13,178.71 C105.1,182.1 105.46,193.48 104.85,199.04 C104.25,204.61 103.4,209.45 100.5,212.11 C97.59,214.78 91.42,214.78 87.43,215.02 C83.43,215.26 78.47,219.38 76.53,213.57 C74.6,207.76 74.72,185.73 75.81,180.17Z" fill="#5c5c5c" stroke="none"/>
<path d="M144.06,181.62 C145.03,179.44 142.37,179.2 151.32,178.71 C160.28,178.23 189.81,176.53 197.8,178.71 C205.78,180.89 199.73,187.67 199.25,191.78 C198.76,195.9 197.31,200.98 194.89,203.4 C192.47,205.82 189.08,206.18 184.73,206.31 C180.37,206.43 173.59,205.34 168.75,204.13 C163.91,202.92 159.55,201.1 155.68,199.04 C151.81,196.99 147.45,194.69 145.52,191.78 C143.58,188.88 143.1,183.8 144.06,181.62Z" fill="#5c5c5c" stroke="none"/>
<path d="M205.06,213.57 C206.27,207.76 212.08,199.77 215.22,197.59 C218.37,195.41 220.3,198.56 223.94,200.5 C227.57,202.43 232.16,206.31 237.01,209.21 C241.85,212.11 249.59,214.78 252.98,217.92 C256.37,221.07 257.09,223.49 257.34,228.09 C257.58,232.69 256.61,241.16 254.43,245.52 C252.25,249.87 248.38,252.29 244.27,254.23 C240.15,256.17 233.86,255.92 229.74,257.13 C225.63,258.34 222.48,262.46 219.58,261.49 C216.67,260.52 214.25,256.17 212.32,251.32 C210.38,246.48 209.17,238.74 207.96,232.45 C206.75,226.15 203.85,219.38 205.06,213.57Z" fill="#5c5c5c" stroke="none"/>
<path d="M129.54,223.73 C130.51,220.1 134.62,215.02 138.25,213.57 C141.88,212.11 145.76,213.57 151.32,215.02 C156.89,216.47 165.12,219.62 171.66,222.28 C178.19,224.94 186.42,227.12 190.53,230.99 C194.65,234.87 195.38,241.16 196.34,245.52 C197.31,249.87 196.1,252.78 196.34,257.13 C196.59,261.49 199.01,267.06 197.8,271.66 C196.59,276.25 193.44,281.09 189.08,284.73 C184.73,288.36 177.46,292.71 171.66,293.44 C165.85,294.16 158.83,291.5 154.23,289.08 C149.63,286.66 146.48,284.24 144.06,278.92 C141.64,273.59 140.92,262.7 139.71,257.13 C138.5,251.57 138.01,249.15 136.8,245.52 C135.59,241.88 133.66,238.98 132.45,235.35 C131.24,231.72 128.57,227.36 129.54,223.73Z" fill="#5c5c5c" stroke="none"/>
<path d="M75.81,260.04 C77.99,251.08 85.49,260.52 88.88,260.04 C92.27,259.55 93.72,256.41 96.14,257.13 C98.56,257.86 101.46,260.76 103.4,264.39 C105.34,268.02 107.52,274.56 107.76,278.92 C108,283.27 107.03,287.15 104.85,290.53 C102.67,293.92 98.08,296.83 94.69,299.25 C91.3,301.67 86.94,302.64 84.52,305.06 C82.1,307.48 81.62,312.32 80.17,313.77 C78.71,315.22 76.53,322.73 75.81,313.77 C75.08,304.81 73.63,268.99 75.81,260.04Z" fill="#5c5c5c" stroke="none"/>
<path d="M133.9,303.6 C133.66,300.94 138.98,298.76 142.61,299.25 C146.24,299.73 152.05,303.85 155.68,306.51 C159.31,309.17 162.46,311.83 164.39,315.22 C166.33,318.61 167.54,324.18 167.3,326.84 C167.06,329.5 165.12,331.68 162.94,331.2 C160.76,330.71 157.38,326.6 154.23,323.94 C151.08,321.27 147.45,318.61 144.06,315.22 C140.67,311.83 134.14,306.27 133.9,303.6Z" fill="#5c5c5c" stroke="none"/>
<path d="M87.43,321.03 C88.88,317.4 92.75,316.92 96.14,315.22 C99.53,313.53 103.64,311.59 107.76,310.87 C111.87,310.14 116.96,309.66 120.83,310.87 C124.7,312.08 128.09,314.74 130.99,318.13 C133.9,321.52 135.35,327.57 138.25,331.2 C141.16,334.83 145.76,336.52 148.42,339.91 C151.08,343.3 153.02,346.57 154.23,351.53 C155.44,356.49 166.81,366.66 155.68,369.68 C144.55,372.71 98.08,372.71 87.43,369.68 C76.78,366.66 91.78,356.97 91.78,351.53 C91.78,346.08 88.15,342.09 87.43,337.01 C86.7,331.92 85.97,324.66 87.43,321.03Z" fill="#5c5c5c" stroke="none"/>
<path d="M207.96,329.74 C209.41,323.69 212.08,320.06 213.77,315.22 C215.46,310.38 215.46,304.09 218.13,300.7 C220.79,297.31 224.9,295.86 229.74,294.89 C234.59,293.92 241.12,293.68 247.17,294.89 C253.22,296.1 260.48,298.76 266.05,302.15 C271.62,305.54 276.94,310.62 280.57,315.22 C284.2,319.82 286.87,324.18 287.83,329.74 C288.8,335.31 288.8,344.27 286.38,348.62 C283.96,352.98 279.12,354.19 273.31,355.88 C267.5,357.58 256.13,356.49 251.53,358.79 C246.93,361.09 253.22,367.87 245.72,369.68 C238.22,371.5 213.29,372.71 206.51,369.68 C199.73,366.66 204.81,358.18 205.06,351.53 C205.3,344.87 206.51,335.8 207.96,329.74Z" fill="#5c5c5c" stroke="none"/>
<path d="M300.9,260.04 C301.87,252.29 304.29,245.27 308.16,239.71 C312.04,234.14 319.78,228.33 324.14,226.64 C328.5,224.94 330.67,226.88 334.3,229.54 C337.93,232.2 343.5,237.53 345.92,242.61 C348.34,247.69 349.31,253.99 348.83,260.04 C348.34,266.09 345.68,273.35 343.02,278.92 C340.36,284.48 336,288.36 332.85,293.44 C329.71,298.52 327.04,308.69 324.14,309.41 C321.23,310.14 319.06,301.67 315.43,297.8 C311.79,293.92 304.78,292.47 302.36,286.18 C299.94,279.88 299.94,267.78 300.9,260.04Z" fill="#5c5c5c" stroke="none"/>
<path d="M276.22,178.71 C277.43,175.57 282.99,171.45 284.93,172.9 C286.87,174.36 284.93,184.28 287.83,187.43 C290.74,190.57 298.48,189.12 302.36,191.78 C306.23,194.45 310.1,200.01 311.07,203.4 C312.04,206.79 311.07,210.66 308.16,212.11 C305.26,213.57 297.76,213.32 293.64,212.11 C289.53,210.9 286.14,208.24 283.48,204.85 C280.81,201.46 278.88,196.14 277.67,191.78 C276.46,187.43 275.01,181.86 276.22,178.71Z" fill="#5c5c5c" stroke="none"/>
<path d="M328.5,177.26 C333.34,174.84 353.91,169.52 358.99,177.26 C364.07,185.01 361.17,215.99 358.99,223.73 C356.81,231.48 349.79,226.15 345.92,223.73 C342.05,221.31 338.42,214.53 335.76,209.21 C333.09,203.89 331.16,197.11 329.95,191.78 C328.74,186.46 323.65,179.68 328.5,177.26Z" fill="#5c5c5c" stroke="none"/>
<path d="M229.74,178.71 C231.68,179.92 237.73,177.99 241.36,180.17 C244.99,182.34 247.9,191.3 251.53,191.78 C255.16,192.27 259.03,185.25 263.15,183.07 C267.26,180.89 274.52,180.41 276.22,178.71 C277.91,177.02 281.06,173.87 273.31,172.9 C265.57,171.94 237.01,171.94 229.74,172.9 C222.48,173.87 227.81,177.5 229.74,178.71Z" fill="#5c5c5c" stroke="none"/>
<path d="M331.4,344.27 C332.85,340.64 335.51,337.25 340.11,334.1 C344.71,330.95 355.85,321.03 358.99,325.39 C362.14,329.74 361.9,354.43 358.99,360.24 C356.09,366.05 346.16,360.97 341.57,360.24 C336.97,359.51 333.09,358.55 331.4,355.88 C329.71,353.22 329.95,347.9 331.4,344.27Z" fill="#5c5c5c" stroke="none"/>
<path d="M340,170 C344.84,161.29 364.2,167.1 369.04,170 C373.89,172.9 370.25,182.59 369.04,187.43 C367.83,192.27 363.48,194.2 361.78,199.04 C360.09,203.89 360.09,212.36 358.88,216.47 C357.67,220.59 357.67,222.76 354.52,223.73 C351.38,224.7 342.42,231.24 340,222.28 C337.58,213.32 335.16,178.71 340,170Z" fill="#5c5c5c" stroke="none"/>
<path d="M361.78,271.66 C362.27,264.39 363.96,249.15 364.69,242.61 C365.41,236.08 364.69,236.56 366.14,232.45 C367.59,228.33 371.22,223.49 373.4,217.92 C375.58,212.36 377.27,202.19 379.21,199.04 C381.15,195.9 382.36,196.62 385.02,199.04 C387.68,201.46 393.01,209.94 395.18,213.57 C397.36,217.2 398.81,217.2 398.09,220.83 C397.36,224.46 393.25,230.51 390.83,235.35 C388.41,240.19 385.02,243.82 383.57,249.87 C382.11,255.92 383.08,264.88 382.11,271.66 C381.15,278.43 379.69,286.66 377.76,290.53 C375.82,294.41 373.16,295.62 370.5,294.89 C367.83,294.16 363.24,290.05 361.78,286.18 C360.33,282.31 361.3,278.92 361.78,271.66Z" fill="#5c5c5c" stroke="none"/>
<path d="M396.64,318.13 C396.64,312.56 400.03,296.34 400.99,286.18 C401.96,276.01 401.96,262.46 402.45,257.13 C402.93,251.81 400.75,257.62 403.9,254.23 C407.04,250.84 416.97,241.4 421.32,236.8 C425.68,232.2 426.65,227.6 430.04,226.64 C433.43,225.67 437.3,229.06 441.66,230.99 C446.01,232.93 451.34,235.59 456.18,238.25 C461.02,240.92 466.34,243.82 470.7,246.97 C475.06,250.11 479.66,253.02 482.32,257.13 C484.98,261.25 485.95,265.6 486.67,271.66 C487.4,277.71 487.16,286.18 486.67,293.44 C486.19,300.7 484.98,310.14 483.77,315.22 C482.56,320.3 481.59,322.73 479.41,323.94 C477.23,325.15 473.12,323.45 470.7,322.48 C468.28,321.52 469.73,318.37 464.89,318.13 C460.05,317.88 448.43,320.3 441.66,321.03 C434.88,321.76 429.8,323.21 424.23,322.48 C418.66,321.76 411.4,318.61 408.25,316.67 C405.11,314.74 406.56,310.38 405.35,310.87 C404.14,311.35 402.45,318.37 400.99,319.58 C399.54,320.79 396.64,323.69 396.64,318.13Z" fill="#5c5c5c" stroke="none"/>
<path d="M492.48,206.31 C493.21,202.92 493.21,195.41 496.84,193.24 C500.47,191.06 510.39,192.27 514.27,193.24 C518.14,194.2 519.11,194.45 520.08,199.04 C521.04,203.64 520.56,215.74 520.08,220.83 C519.59,225.91 519.83,228.09 517.17,229.54 C514.51,230.99 507.49,230.75 504.1,229.54 C500.71,228.33 498.78,224.94 496.84,222.28 C494.9,219.62 493.21,216.23 492.48,213.57 C491.76,210.9 491.76,209.69 492.48,206.31Z" fill="#5c5c5c" stroke="none"/>
<path d="M547.67,170 C558.8,165.16 604.3,166.37 615.92,170 C627.54,173.63 617.86,184.52 617.37,191.78 C616.89,199.04 614.71,207.52 613.02,213.57 C611.32,219.62 610.11,226.15 607.21,228.09 C604.3,230.03 600.19,226.39 595.59,225.18 C590.99,223.97 585.18,221.31 579.62,220.83 C574.05,220.34 566.55,223.01 562.19,222.28 C557.83,221.55 555.65,220.34 553.48,216.47 C551.3,212.6 550.09,206.79 549.12,199.04 C548.15,191.3 536.53,174.84 547.67,170Z" fill="#5c5c5c" stroke="none"/>
<path d="M524.43,246.97 C524.92,245.03 527.82,241.88 531.69,241.16 C535.57,240.43 541.86,242.13 547.67,242.61 C553.48,243.1 560.01,243.58 566.55,244.06 C573.08,244.55 581.07,244.31 586.88,245.52 C592.69,246.73 597.53,248.18 601.4,251.32 C605.27,254.47 608.66,259.55 610.11,264.39 C611.57,269.24 611.57,276.01 610.11,280.37 C608.66,284.73 605.27,288.11 601.4,290.53 C597.53,292.95 591.23,295.13 586.88,294.89 C582.52,294.65 578.65,292.47 575.26,289.08 C571.87,285.69 570.18,278.92 566.55,274.56 C562.92,270.2 558.08,266.33 553.48,262.94 C548.88,259.55 543.07,255.92 538.95,254.23 C534.84,252.53 531.21,253.99 528.79,252.78 C526.37,251.57 523.95,248.9 524.43,246.97Z" fill="#5c5c5c" stroke="none"/>
<path d="M507.01,369.68 C496.36,358.18 507.25,316.55 508.46,300.7 C509.67,284.85 510.88,278.92 514.27,274.56 C517.66,270.2 523.95,273.11 528.79,274.56 C533.63,276.01 538.47,279.4 543.31,283.27 C548.15,287.15 552.99,294.16 557.83,297.8 C562.67,301.43 569.21,299.73 572.36,305.06 C575.5,310.38 576.47,322 576.71,329.74 C576.95,337.49 574.53,344.87 573.81,351.53 C573.08,358.18 583.49,366.66 572.36,369.68 C561.22,372.71 517.66,381.18 507.01,369.68Z" fill="#5c5c5c" stroke="none"/>
<path d="M589.78,344.27 C588.81,339.91 593.65,328.05 595.59,322.48 C597.53,316.92 597.53,313.29 601.4,310.87 C605.27,308.45 615.92,301.91 618.83,307.96 C621.73,314.01 621.73,340.39 618.83,347.17 C615.92,353.95 606.24,349.11 601.4,348.62 C596.56,348.14 590.75,348.62 589.78,344.27Z" fill="#5c5c5c" stroke="none"/>
<path d="M583.97,369.68 C579.62,367.87 586.88,361.09 592.69,358.79 C598.5,356.49 614.47,354.07 618.83,355.88 C623.18,357.7 624.64,367.38 618.83,369.68 C613.02,371.98 588.33,371.5 583.97,369.68Z" fill="#5c5c5c" stroke="none"/>
<path d="M340,369.68 C338.06,363.51 337.58,339.79 340,332.65 C342.42,325.51 349.68,328.29 354.52,326.84 C359.36,325.39 366.14,323.69 369.04,323.94 C371.95,324.18 373.16,324.9 371.95,328.29 C370.74,331.68 364.69,339.18 361.78,344.27 C358.88,349.35 356.22,354.55 354.52,358.79 C352.83,363.02 354.04,367.87 351.62,369.68 C349.2,371.5 341.94,375.85 340,369.68Z" fill="#5c5c5c" stroke="none"/>
<path d="M382.11,369.68 C372.19,364.48 379.45,343.42 382.11,338.46 C384.78,333.5 391.8,338.94 398.09,339.91 C404.38,340.88 412.85,342.81 419.87,344.27 C426.89,345.72 436.57,344.39 440.2,348.62 C443.83,352.86 451.34,366.17 441.66,369.68 C431.97,373.19 392.04,374.88 382.11,369.68Z" fill="#5c5c5c" stroke="none"/>
<path d="M459.08,369.68 C453.03,365.44 459.57,347.78 461.99,344.27 C464.41,340.76 468.52,347.41 473.6,348.62 C478.69,349.83 488.37,348.02 492.48,351.53 C496.6,355.04 503.86,366.66 498.29,369.68 C492.73,372.71 465.13,373.92 459.08,369.68Z" fill="#5c5c5c" stroke="none"/>
<path d="M438.75,170 C443.59,168.55 470.7,168.06 476.51,170 C482.32,171.94 474.57,177.99 473.6,181.62 C472.64,185.25 472.88,189.6 470.7,191.78 C468.52,193.96 463.2,195.17 460.53,194.69 C457.87,194.2 456.9,191.54 454.73,188.88 C452.55,186.22 450.13,181.86 447.46,178.71 C444.8,175.57 433.91,171.45 438.75,170Z" fill="#5c5c5c" stroke="none"/>
<path d="M340,239.71 C340.97,233.66 344.36,239.71 345.81,242.61 C347.26,245.52 348.71,252.29 348.71,257.13 C348.71,261.97 347.26,268.02 345.81,271.66 C344.36,275.29 340.97,284.24 340,278.92 C339.03,273.59 339.03,245.76 340,239.71Z" fill="#5c5c5c" stroke="none"/>
<rect x="74.5" y="3" width="545.5" height="367" filter="url(#tex2)" opacity="0.6" style="mix-blend-mode:overlay" clip-path="url(#cap)"/>
</g>
<clipPath id="cb"><rect x="742" y="3" width="541" height="367"/></clipPath>
<clipPath id="cbp"><path d="M919.69,4.69 C925.8,-13.93 949.59,2.35 956.31,4.69 C963.04,7.04 959.13,11.74 960.07,18.78 C961.01,25.82 961.01,40.69 961.95,46.95 C962.89,53.21 964.77,50.08 965.7,56.34 C966.64,62.6 965.7,77.62 967.58,84.51 C969.46,91.39 977.91,94.21 976.97,97.65 C976.03,101.1 967.58,103.91 961.95,105.16 C956.31,106.42 948.49,103.91 943.17,105.16 C937.85,106.42 933.94,110.8 930.02,112.68 C926.11,114.55 921.42,134.43 919.69,116.43 C917.97,98.44 913.59,23.32 919.69,4.69Z"/><path d="M984.48,60.09 C985.11,54.15 987.93,43.19 990.12,39.44 C992.31,35.68 995.75,34.74 997.63,37.56 C999.51,40.38 1001.07,48.51 1001.38,56.34 C1001.7,64.16 1000.76,78.25 999.51,84.51 C998.26,90.77 996.06,95.46 993.87,93.9 C991.68,92.33 987.93,80.75 986.36,75.12 C984.8,69.48 983.86,66.04 984.48,60.09Z"/><path d="M1012.65,4.69 C1016.72,0.78 1034.25,2.35 1038.94,4.69 C1043.64,7.04 1040.2,13.3 1040.82,18.78 C1041.45,24.26 1043.64,33.8 1042.7,37.56 C1041.76,41.31 1038.32,41 1035.19,41.31 C1032.06,41.63 1027.36,41.63 1023.92,39.44 C1020.48,37.25 1016.41,33.96 1014.53,28.17 C1012.65,22.38 1008.58,8.61 1012.65,4.69Z"/><path d="M1084.01,20.66 C1084.95,17.53 1092.15,17.21 1095.28,15.02 C1098.41,12.83 1101.54,9.23 1102.79,7.51 C1104.05,5.79 1102.17,2.82 1102.79,4.69 C1103.42,6.57 1106.55,13.93 1106.55,18.78 C1106.55,23.63 1104.67,29.42 1102.79,33.8 C1100.92,38.18 1097.47,45.07 1095.28,45.07 C1093.09,45.07 1091.53,37.87 1089.65,33.8 C1087.77,29.73 1083.08,23.79 1084.01,20.66Z"/><path d="M1029.55,112.68 C1028.3,104.85 1029.87,84.51 1031.43,75.12 C1033,65.73 1035.5,60.41 1038.94,56.34 C1042.39,52.27 1049.59,47.57 1052.09,50.7 C1054.59,53.83 1053.03,66.35 1053.97,75.12 C1054.91,83.88 1055.22,95.46 1057.72,103.29 C1060.23,111.11 1066.17,115.81 1068.99,122.07 C1071.81,128.33 1074.31,133.65 1074.62,140.85 C1074.94,148.04 1072.75,161.19 1070.87,165.26 C1068.99,169.33 1065.55,167.76 1063.36,165.26 C1061.17,162.75 1060.54,155.87 1057.72,150.23 C1054.91,144.6 1049.59,136.15 1046.46,131.46 C1043.33,126.76 1041.76,125.2 1038.94,122.07 C1036.13,118.94 1030.81,120.5 1029.55,112.68Z"/><path d="M1091.53,75.12 C1093.4,69.48 1097.16,64.16 1100.92,60.09 C1104.67,56.03 1109.05,52.9 1114.06,50.7 C1119.07,48.51 1126.58,46.95 1130.96,46.95 C1135.34,46.95 1137.54,46.95 1140.35,50.7 C1143.17,54.46 1146.3,62.28 1147.86,69.48 C1149.43,76.68 1150.99,86.7 1149.74,93.9 C1148.49,101.1 1144.42,108.61 1140.35,112.68 C1136.28,116.74 1128.46,118.94 1125.33,118.31 C1122.2,117.68 1123.45,111.42 1121.57,108.92 C1119.69,106.42 1116.56,102.66 1114.06,103.29 C1111.56,103.91 1109.68,111.11 1106.55,112.68 C1103.42,114.24 1098.1,115.81 1095.28,112.68 C1092.46,109.55 1090.27,100.16 1089.65,93.9 C1089.02,87.64 1089.65,80.75 1091.53,75.12Z"/><path d="M1151.62,18.78 C1152.56,13.15 1154.75,9.39 1159.13,7.51 C1163.51,5.63 1174.15,5.01 1177.91,7.51 C1181.67,10.02 1182.29,16.9 1181.67,22.54 C1181.04,28.17 1177.28,36.93 1174.15,41.31 C1171.03,45.7 1166.33,48.83 1162.89,48.83 C1159.44,48.83 1155.38,46.32 1153.5,41.31 C1151.62,36.31 1150.68,24.41 1151.62,18.78Z"/><path d="M1166.64,71.36 C1167.58,67.61 1171.65,66.35 1174.15,67.61 C1176.66,68.86 1179.48,74.49 1181.67,78.87 C1183.86,83.26 1185.74,89.51 1187.3,93.9 C1188.87,98.28 1190.74,100.78 1191.06,105.16 C1191.37,109.55 1190.74,118 1189.18,120.19 C1187.61,122.38 1184.17,120.81 1181.67,118.31 C1179.16,115.81 1176.35,109.86 1174.15,105.16 C1171.96,100.47 1169.77,95.77 1168.52,90.14 C1167.27,84.51 1165.7,75.12 1166.64,71.36Z"/><path d="M1207.96,131.46 C1207.96,127.39 1209.21,123.94 1211.71,122.07 C1214.22,120.19 1219.23,118.62 1222.98,120.19 C1226.74,121.75 1232.37,127.7 1234.25,131.46 C1236.13,135.21 1236.13,139.59 1234.25,142.72 C1232.37,145.85 1226.74,149.61 1222.98,150.23 C1219.23,150.86 1214.22,149.61 1211.71,146.48 C1209.21,143.35 1207.96,135.52 1207.96,131.46Z"/><path d="M1224.86,5.63 C1229.87,1.88 1247.39,1.88 1253.03,5.63 C1258.66,9.39 1258.66,21.28 1258.66,28.17 C1258.66,35.05 1253.03,38.5 1253.03,46.95 C1253.03,55.4 1256.78,69.8 1258.66,78.87 C1260.54,87.95 1265.23,97.03 1264.3,101.41 C1263.36,105.79 1258.04,105.16 1253.03,105.16 C1248.02,105.16 1240.51,102.35 1234.25,101.41 C1227.99,100.47 1219.23,102.35 1215.47,99.53 C1211.71,96.71 1211.4,91.71 1211.71,84.51 C1212.03,77.31 1215.47,65.73 1217.35,56.34 C1219.23,46.95 1221.73,36.62 1222.98,28.17 C1224.23,19.72 1219.85,9.39 1224.86,5.63Z"/><path d="M1262.42,5.63 C1265.7,1.88 1278.85,0.31 1282.14,5.63 C1285.42,10.95 1283.86,31.92 1282.14,37.56 C1280.41,43.19 1275.09,41 1271.81,39.44 C1268.52,37.87 1263.98,33.8 1262.42,28.17 C1260.85,22.54 1259.13,9.39 1262.42,5.63Z"/><path d="M926.27,150.23 C928.15,140.53 933.15,139.59 937.54,137.09 C941.92,134.59 948.8,133.65 952.56,135.21 C956.31,136.78 959.13,142.41 960.07,146.48 C961.01,150.55 960.07,154.3 958.19,159.62 C956.31,164.95 951.31,172.46 948.8,178.4 C946.3,184.35 946.92,192.49 943.17,195.31 C939.41,198.12 929.08,202.82 926.27,195.31 C923.45,187.79 924.39,159.94 926.27,150.23Z"/><path d="M1008.9,165.26 C1009.21,161.19 1012.65,156.49 1016.41,153.99 C1020.16,151.49 1026.74,150.23 1031.43,150.23 C1036.13,150.23 1042.07,150.86 1044.58,153.99 C1047.08,157.12 1047.08,164.63 1046.46,169.01 C1045.83,173.4 1043.95,177.78 1040.82,180.28 C1037.69,182.79 1032.06,184.35 1027.68,184.04 C1023.29,183.72 1017.66,181.53 1014.53,178.4 C1011.4,175.27 1008.58,169.33 1008.9,165.26Z"/><path d="M1136.6,195.31 C1122.51,187.79 1137.85,160.25 1138.47,150.23 C1139.1,140.22 1137.54,138.34 1140.35,135.21 C1143.17,132.08 1149.74,131.46 1155.38,131.46 C1161.01,131.46 1168.83,132.08 1174.15,135.21 C1179.48,138.34 1183.54,145.23 1187.3,150.23 C1191.06,155.24 1192.62,161.5 1196.69,165.26 C1200.76,169.01 1207.33,167.76 1211.71,172.77 C1216.1,177.78 1235.5,191.55 1222.98,195.31 C1210.46,199.06 1150.68,202.82 1136.6,195.31Z"/><path d="M961.95,195.31 C956.63,192.49 963.2,185.92 965.7,178.4 C968.21,170.89 973.53,158.06 976.97,150.23 C980.41,142.41 983.54,137.72 986.36,131.46 C989.18,125.2 992,117.37 993.87,112.68 C995.75,107.98 996.06,103.29 997.63,103.29 C999.19,103.29 1002.01,107.98 1003.26,112.68 C1004.51,117.37 1005.77,122.07 1005.14,131.46 C1004.51,140.85 1000.76,158.37 999.51,169.01 C998.26,179.66 1003.89,190.92 997.63,195.31 C991.37,199.69 967.27,198.12 961.95,195.31Z"/><path d="M1238,169.01 C1239.26,162.75 1246.77,156.49 1249.27,150.23 C1251.78,143.97 1247.55,134.59 1253.03,131.46 C1258.51,128.33 1277.28,120.81 1282.14,131.46 C1286.99,142.1 1284.8,184.66 1282.14,195.31 C1279.48,205.95 1272.9,196.56 1266.17,195.31 C1259.44,194.05 1246.46,192.18 1241.76,187.79 C1237.07,183.41 1236.75,175.27 1238,169.01Z"/><path d="M1264.3,105.16 C1266.64,102.35 1279.16,102.03 1282.14,105.16 C1285.11,108.29 1284.48,121.13 1282.14,123.94 C1279.79,126.76 1271.03,125.2 1268.05,122.07 C1265.08,118.94 1261.95,107.98 1264.3,105.16Z"/><path d="M742.94,179.88 C747.53,171.65 765.65,176.82 770.48,179.88 C775.3,182.94 772.12,192.83 771.89,198.24 C771.65,203.65 771.18,208.12 769.06,212.36 C766.95,216.6 762.24,220.6 759.18,223.66 C756.12,226.72 753.41,229.78 750.71,230.72 C748,231.66 744.24,237.78 742.94,229.31 C741.65,220.83 738.35,188.12 742.94,179.88Z"/><path d="M762,254.72 C762,249.07 763.65,243.9 766.24,237.78 C768.83,231.66 774.48,219.89 777.54,218.01 C780.6,216.13 782.95,222.72 784.6,226.48 C786.24,230.25 786.95,233.54 787.42,240.6 C787.89,247.66 788.13,262.02 787.42,268.84 C786.72,275.67 784.83,279.2 783.18,281.55 C781.54,283.9 780.36,284.61 777.54,282.96 C774.71,281.32 768.83,276.37 766.24,271.67 C763.65,266.96 762,260.37 762,254.72Z"/><path d="M794.48,179.88 C802.01,176.82 831.9,176.82 839.67,179.88 C847.43,182.94 839.67,194 841.08,198.24 C842.49,202.48 846.73,201.77 848.14,205.3 C849.55,208.83 850.26,214.71 849.55,219.42 C848.84,224.13 846.02,229.31 843.9,233.54 C841.78,237.78 839.2,241.78 836.84,244.84 C834.49,247.9 832.14,248.84 829.78,251.9 C827.43,254.96 825.55,261.78 822.72,263.19 C819.9,264.61 815.66,262.25 812.84,260.37 C810.01,258.49 807.9,256.37 805.78,251.9 C803.66,247.43 801.78,240.13 800.13,233.54 C798.48,226.95 796.83,218.24 795.89,212.36 C794.95,206.48 794.72,203.65 794.48,198.24 C794.25,192.83 786.95,182.94 794.48,179.88Z"/><path d="M865.08,179.88 C872.38,174.47 902.03,174.47 908.86,179.88 C915.68,185.3 907.91,202.71 906.03,212.36 C904.15,222.01 902.03,233.54 897.56,237.78 C893.09,242.01 884.15,237.78 879.2,237.78 C874.26,237.78 870.26,242.01 867.91,237.78 C865.55,233.54 865.55,222.01 865.08,212.36 C864.61,202.71 857.79,185.3 865.08,179.88Z"/><path d="M865.08,240.6 C866.26,236.13 872.38,237.78 873.55,240.6 C874.73,243.43 873.32,253.07 872.14,257.55 C870.97,262.02 867.67,270.25 866.49,267.43 C865.32,264.61 863.91,245.07 865.08,240.6Z"/><path d="M925.8,170 C927.92,164.12 936.39,167.65 938.51,170 C940.63,172.35 938.98,179.41 938.51,184.12 C938.04,188.83 935.68,193.53 935.68,198.24 C935.68,202.95 937.57,208.12 938.51,212.36 C939.45,216.6 942.27,222.48 941.33,223.66 C940.39,224.83 935.45,222.48 932.86,219.42 C930.27,216.36 926.98,213.54 925.8,205.3 C924.62,197.06 923.68,175.88 925.8,170Z"/><path d="M952.63,205.3 C952.63,200.36 955.45,189.3 958.28,184.12 C961.1,178.94 963.92,176.59 969.57,174.24 C975.22,171.88 987.22,169.53 992.17,170 C997.11,170.47 997.81,173.53 999.23,177.06 C1000.64,180.59 1000.64,187.65 1000.64,191.18 C1000.64,194.71 1001.81,196.36 999.23,198.24 C996.64,200.12 989.81,200.12 985.11,202.48 C980.4,204.83 975.46,210.48 970.99,212.36 C966.51,214.24 961.34,214.95 958.28,213.77 C955.22,212.6 952.63,210.24 952.63,205.3Z"/><path d="M924.39,243.43 C926.27,240.13 934.27,241.78 938.51,242.01 C942.74,242.25 948.39,242.25 949.8,244.84 C951.22,247.43 948.86,253.55 946.98,257.55 C945.1,261.55 940.86,265.55 938.51,268.84 C936.15,272.14 934.74,278.49 932.86,277.31 C930.98,276.14 928.62,267.43 927.21,261.78 C925.8,256.13 922.51,246.72 924.39,243.43Z"/><path d="M952.63,268.84 C953.81,266.02 955.92,263.66 958.28,263.19 C960.63,262.72 963.92,262.72 966.75,266.02 C969.57,269.31 973.34,278.49 975.22,282.96 C977.1,287.43 978.99,290.49 978.05,292.85 C977.1,295.2 973.1,295.91 969.57,297.08 C966.04,298.26 959.45,300.38 956.86,299.91 C954.28,299.44 954.98,297.55 954.04,294.26 C953.1,290.96 951.45,284.37 951.22,280.14 C950.98,275.9 951.45,271.67 952.63,268.84Z"/><path d="M976.63,240.6 C977.1,234.72 981.1,231.19 983.69,226.48 C986.28,221.77 988.87,215.89 992.17,212.36 C995.46,208.83 1001.11,204.12 1003.46,205.3 C1005.82,206.48 1006.76,213.54 1006.29,219.42 C1005.82,225.3 1002.05,232.36 1000.64,240.6 C999.23,248.84 998.52,259.43 997.81,268.84 C997.11,278.26 997.34,290.02 996.4,297.08 C995.46,304.14 993.81,313.56 992.17,311.2 C990.52,308.85 988.4,291.2 986.52,282.96 C984.63,274.73 982.52,268.84 980.87,261.78 C979.22,254.72 976.16,246.48 976.63,240.6Z"/><path d="M749.3,370.23 C735.65,365.1 752.12,347.87 754.94,339.44 C757.77,331.02 762.48,322.97 766.24,319.68 C770.01,316.38 774.01,318.73 777.54,319.68 C781.07,320.62 783.42,323.21 787.42,325.32 C791.42,327.44 798.01,332.38 801.54,332.38 C805.07,332.38 806.01,325.09 808.6,325.32 C811.19,325.56 814.25,330.74 817.07,333.8 C819.9,336.85 822.72,340.39 825.55,343.68 C828.37,346.97 832.14,349.14 834.02,353.56 C835.9,357.99 850.96,367.45 836.84,370.23 C822.72,373 762.95,375.36 749.3,370.23Z"/><path d="M860.85,370.23 C854.96,363.92 857.32,341.04 858.02,332.38 C858.73,323.72 863.44,325.32 865.08,318.26 C866.73,311.2 866.49,293.55 867.91,290.02 C869.32,286.49 871.67,293.55 873.55,297.08 C875.44,300.61 877.09,306.5 879.2,311.2 C881.32,315.91 884.15,319.44 886.26,325.32 C888.38,331.21 890.73,339.02 891.91,346.5 C893.09,353.99 898.5,366.27 893.32,370.23 C888.15,374.18 866.73,376.53 860.85,370.23Z"/><path d="M880.62,282.96 C881.32,280.61 887.2,281.08 890.5,282.96 C893.79,284.85 897.56,290.73 900.38,294.26 C903.21,297.79 905.56,300.14 907.44,304.14 C909.33,308.14 910.5,313.56 911.68,318.26 C912.86,322.97 913.33,327.68 914.5,332.38 C915.68,337.09 916.86,342.97 918.74,346.5 C920.62,350.03 924.39,349.61 925.8,353.56 C927.21,357.52 930.27,367.45 927.21,370.23 C924.15,373 910.97,373 907.44,370.23 C903.91,367.45 907.21,358.69 906.03,353.56 C904.85,348.43 902.5,345.33 900.38,339.44 C898.27,333.56 895.68,325.32 893.32,318.26 C890.97,311.2 888.38,302.97 886.26,297.08 C884.15,291.2 879.91,285.32 880.62,282.96Z"/><path d="M931.45,370.23 C925.8,362.74 931.45,334.22 932.86,325.32 C934.27,316.43 937.57,316.85 939.92,316.85 C942.27,316.85 943.92,322.03 946.98,325.32 C950.04,328.62 955.45,331.91 958.28,336.62 C961.1,341.33 962.51,347.96 963.92,353.56 C965.34,359.17 972.16,367.45 966.75,370.23 C961.34,373 937.1,377.71 931.45,370.23Z"/><path d="M978.05,370.23 C971.06,363.92 976.63,341.04 978.05,332.38 C979.46,323.72 983.46,321.79 986.52,318.26 C989.58,314.73 994.52,310.03 996.4,311.2 C998.28,312.38 996.64,321.79 997.81,325.32 C998.99,328.85 1000.87,330.5 1003.46,332.38 C1006.05,334.27 1010.59,335.44 1013.35,336.62 C1016.1,337.8 1018.88,333.84 1019.98,339.44 C1021.09,345.04 1026.97,365.1 1019.98,370.23 C1012.99,375.36 985.03,376.53 978.05,370.23Z"/><path d="M1006.29,240.6 C1009.04,231.19 1017.7,215.89 1019.98,226.48 C1022.27,237.07 1022.27,290.02 1019.98,304.14 C1017.7,318.26 1009.04,314.73 1006.29,311.2 C1003.53,307.67 1003.46,294.73 1003.46,282.96 C1003.46,271.2 1003.53,250.02 1006.29,240.6Z"/><path d="M1021.22,310.21 C1022.15,307.64 1024.49,302.27 1026.83,301.8 C1029.16,301.33 1032.67,304.14 1035.24,307.41 C1037.81,310.68 1040.85,316.29 1042.25,321.43 C1043.65,326.57 1044.35,334.52 1043.65,338.26 C1042.95,341.99 1040.85,345.03 1038.04,343.86 C1035.24,342.7 1029.63,335.69 1026.83,331.25 C1024.02,326.81 1022.15,320.73 1021.22,317.22 C1020.28,313.72 1020.28,312.78 1021.22,310.21Z"/><path d="M1038.04,251.32 C1038.98,248.99 1041.78,251.32 1046.46,254.13 C1051.13,256.93 1060.48,264.41 1066.09,268.15 C1071.69,271.89 1075.9,274.23 1080.11,276.56 C1084.31,278.9 1089.92,277.73 1091.32,282.17 C1092.73,286.61 1089.69,297.36 1088.52,303.2 C1087.35,309.04 1084.78,311.38 1084.31,317.22 C1083.85,323.07 1086.42,332.41 1085.72,338.26 C1085.01,344.1 1082.91,351.81 1080.11,352.28 C1077.3,352.74 1072.39,345.73 1068.89,341.06 C1065.38,336.39 1062.35,331.71 1059.07,324.23 C1055.8,316.76 1052.3,305.54 1049.26,296.19 C1046.22,286.84 1042.72,275.63 1040.85,268.15 C1038.98,260.67 1037.11,253.66 1038.04,251.32Z"/><path d="M1099.74,259.74 C1100.2,257.4 1104.41,260.2 1108.15,256.93 C1111.89,253.66 1117.96,245.72 1122.17,240.11 C1126.38,234.5 1129.88,226.09 1133.39,223.28 C1136.89,220.48 1139.7,221.65 1143.2,223.28 C1146.71,224.92 1151.85,227.95 1154.42,233.1 C1156.99,238.24 1156.99,247.12 1158.63,254.13 C1160.26,261.14 1162.6,269.08 1164.23,275.16 C1165.87,281.24 1168.91,286.61 1168.44,290.58 C1167.97,294.56 1163.07,296.19 1161.43,299 C1159.79,301.8 1160.5,304.14 1158.63,307.41 C1156.76,310.68 1153.25,318.16 1150.21,318.63 C1147.18,319.09 1143.2,313.95 1140.4,310.21 C1137.59,306.47 1135.49,300.87 1133.39,296.19 C1131.28,291.52 1129.88,285.44 1127.78,282.17 C1125.68,278.9 1122.64,277.03 1120.77,276.56 C1118.9,276.09 1117.5,277.96 1116.56,279.37 C1115.63,280.77 1114.23,282.17 1115.16,284.97 C1116.09,287.78 1120.77,291.99 1122.17,296.19 C1123.57,300.4 1124.04,306.01 1123.57,310.21 C1123.11,314.42 1121.47,317.92 1119.37,321.43 C1117.26,324.94 1114.23,330.31 1110.95,331.25 C1107.68,332.18 1101.37,330.54 1099.74,327.04 C1098.1,323.53 1099.74,315.35 1101.14,310.21 C1102.54,305.07 1106.98,300.87 1108.15,296.19 C1109.32,291.52 1108.62,286.38 1108.15,282.17 C1107.68,277.96 1106.75,274.69 1105.34,270.95 C1103.94,267.21 1099.27,262.07 1099.74,259.74Z"/><path d="M1174.05,254.13 C1173.11,247.12 1173.35,225.38 1175.45,219.07 C1177.55,212.77 1182.93,215.8 1186.67,216.27 C1190.41,216.74 1195.78,217.91 1197.89,221.88 C1199.99,225.85 1199.29,233.56 1199.29,240.11 C1199.29,246.65 1198.35,254.13 1197.89,261.14 C1197.42,268.15 1196.25,275.16 1196.48,282.17 C1196.72,289.18 1198.59,296.19 1199.29,303.2 C1199.99,310.21 1200.92,319.09 1200.69,324.23 C1200.46,329.38 1199.76,332.65 1197.89,334.05 C1196.02,335.45 1191.58,336.62 1189.47,332.65 C1187.37,328.67 1186.2,318.63 1185.27,310.21 C1184.33,301.8 1184.57,290.35 1183.86,282.17 C1183.16,273.99 1182.7,265.81 1181.06,261.14 C1179.42,256.46 1174.98,261.14 1174.05,254.13Z"/><path d="M1213.31,268.15 C1213.31,258.8 1213.08,241.74 1214.71,233.1 C1216.35,224.45 1220.09,219.31 1223.12,216.27 C1226.16,213.23 1231.07,212.06 1232.94,214.87 C1234.81,217.67 1234.34,225.38 1234.34,233.1 C1234.34,240.81 1232.94,251.79 1232.94,261.14 C1232.94,270.49 1235.51,282.17 1234.34,289.18 C1233.17,296.19 1228.27,300.16 1225.93,303.2 C1223.59,306.24 1222.19,309.75 1220.32,307.41 C1218.45,305.07 1215.88,295.72 1214.71,289.18 C1213.54,282.64 1213.31,277.5 1213.31,268.15Z"/><path d="M1246.96,170 C1250.93,160.65 1267.06,165.33 1270.8,170 C1274.54,174.67 1271.73,188.23 1269.39,198.04 C1267.06,207.86 1259.81,219.54 1256.78,228.89 C1253.74,238.24 1252.8,254.6 1251.17,254.13 C1249.53,253.66 1247.66,240.11 1246.96,226.09 C1246.26,212.06 1242.99,179.35 1246.96,170Z"/><path d="M1265.19,254.13 C1265.42,249.92 1266.47,244.31 1269.39,242.91 C1272.32,241.51 1280.49,238.47 1282.71,245.72 C1284.93,252.96 1284,279.6 1282.71,286.38 C1281.43,293.15 1277.46,289.41 1275,286.38 C1272.55,283.34 1269.63,273.52 1267.99,268.15 C1266.36,262.77 1264.95,258.33 1265.19,254.13Z"/><path d="M1246.96,304.6 C1247.89,300.87 1253.04,302.03 1256.78,301.8 C1260.51,301.57 1267.29,299.46 1269.39,303.2 C1271.5,306.94 1271.03,320.26 1269.39,324.23 C1267.76,328.21 1262.62,327.04 1259.58,327.04 C1256.54,327.04 1253.27,327.97 1251.17,324.23 C1249.06,320.5 1246.03,308.34 1246.96,304.6Z"/><path d="M1136.19,170 C1146.01,167.66 1188.3,169.07 1196.48,170 C1204.66,170.93 1189.47,174.21 1185.27,175.61 C1181.06,177.01 1175.22,176.54 1171.25,178.41 C1167.27,180.28 1163.77,183.32 1161.43,186.83 C1159.09,190.33 1160.03,198.28 1157.22,199.44 C1154.42,200.61 1147.88,196.41 1144.6,193.84 C1141.33,191.27 1139,187.99 1137.59,184.02 C1136.19,180.05 1126.38,172.34 1136.19,170Z"/><path d="M1197.89,170 C1201.39,168.13 1215.65,167.66 1220.32,170 C1224.99,172.34 1225.23,179.35 1225.93,184.02 C1226.63,188.7 1227.1,195.24 1224.53,198.04 C1221.96,200.85 1214.01,201.31 1210.5,200.85 C1207,200.38 1205.36,198.51 1203.49,195.24 C1201.62,191.97 1200.22,185.42 1199.29,181.22 C1198.35,177.01 1194.38,171.87 1197.89,170Z"/><path d="M1010,170 C1014.67,168.6 1040.61,168.13 1046.46,170 C1052.3,171.87 1047.62,178.88 1045.05,181.22 C1042.48,183.55 1035.47,184.49 1031.03,184.02 C1026.59,183.55 1021.92,180.75 1018.41,178.41 C1014.91,176.08 1005.33,171.4 1010,170Z"/><path d="M1101.14,370.5 C1098.33,366.3 1101.37,350.17 1102.54,345.27 C1103.71,340.36 1105.81,340.36 1108.15,341.06 C1110.49,341.76 1114.69,344.57 1116.56,349.47 C1118.43,354.38 1121.94,367 1119.37,370.5 C1116.8,374.01 1103.94,374.71 1101.14,370.5Z"/><path d="M1136.19,370.5 C1132.92,366.77 1137.59,352.28 1139,348.07 C1140.4,343.86 1142.27,344.57 1144.6,345.27 C1146.94,345.97 1150.68,348.07 1153.02,352.28 C1155.35,356.48 1161.43,367.47 1158.63,370.5 C1155.82,373.54 1139.46,374.24 1136.19,370.5Z"/><path d="M1182.46,370.5 C1180.36,368.17 1182.23,358.59 1183.86,356.48 C1185.5,354.38 1190.17,355.55 1192.28,357.89 C1194.38,360.22 1198.12,368.4 1196.48,370.5 C1194.85,372.61 1184.57,372.84 1182.46,370.5Z"/><path d="M1209.1,370.5 C1207.47,367.47 1210.5,357.65 1211.91,352.28 C1213.31,346.9 1216.11,338.26 1217.52,338.26 C1218.92,338.26 1219.62,346.9 1220.32,352.28 C1221.02,357.65 1223.59,367.47 1221.72,370.5 C1219.85,373.54 1210.74,373.54 1209.1,370.5Z"/><path d="M1010,334.05 C1011.4,328.67 1015.37,334.52 1018.41,338.26 C1021.45,341.99 1026.12,351.11 1028.23,356.48 C1030.33,361.86 1034.07,368.17 1031.03,370.5 C1027.99,372.84 1013.51,376.58 1010,370.5 C1006.49,364.43 1008.6,339.42 1010,334.05Z"/><path d="M1057.67,370.5 C1053.47,369.34 1056.74,364.66 1060.48,363.49 C1064.22,362.33 1075.9,362.33 1080.11,363.49 C1084.31,364.66 1089.45,369.34 1085.72,370.5 C1081.98,371.67 1061.88,371.67 1057.67,370.5Z"/></clipPath>
<g clip-path="url(#cb)">
<rect x="742" y="3" width="541" height="367" fill="#9c9c9c"/>
<path d="M919.69,4.69 C925.8,-13.93 949.59,2.35 956.31,4.69 C963.04,7.04 959.13,11.74 960.07,18.78 C961.01,25.82 961.01,40.69 961.95,46.95 C962.89,53.21 964.77,50.08 965.7,56.34 C966.64,62.6 965.7,77.62 967.58,84.51 C969.46,91.39 977.91,94.21 976.97,97.65 C976.03,101.1 967.58,103.91 961.95,105.16 C956.31,106.42 948.49,103.91 943.17,105.16 C937.85,106.42 933.94,110.8 930.02,112.68 C926.11,114.55 921.42,134.43 919.69,116.43 C917.97,98.44 913.59,23.32 919.69,4.69Z" fill="none" stroke="#d8d8d8" stroke-width="16" stroke-linejoin="round" opacity="0.7"/>
<path d="M984.48,60.09 C985.11,54.15 987.93,43.19 990.12,39.44 C992.31,35.68 995.75,34.74 997.63,37.56 C999.51,40.38 1001.07,48.51 1001.38,56.34 C1001.7,64.16 1000.76,78.25 999.51,84.51 C998.26,90.77 996.06,95.46 993.87,93.9 C991.68,92.33 987.93,80.75 986.36,75.12 C984.8,69.48 983.86,66.04 984.48,60.09Z" fill="none" stroke="#d8d8d8" stroke-width="16" stroke-linejoin="round" opacity="0.7"/>
<path d="M1012.65,4.69 C1016.72,0.78 1034.25,2.35 1038.94,4.69 C1043.64,7.04 1040.2,13.3 1040.82,18.78 C1041.45,24.26 1043.64,33.8 1042.7,37.56 C1041.76,41.31 1038.32,41 1035.19,41.31 C1032.06,41.63 1027.36,41.63 1023.92,39.44 C1020.48,37.25 1016.41,33.96 1014.53,28.17 C1012.65,22.38 1008.58,8.61 1012.65,4.69Z" fill="none" stroke="#d8d8d8" stroke-width="16" stroke-linejoin="round" opacity="0.7"/>
<path d="M1084.01,20.66 C1084.95,17.53 1092.15,17.21 1095.28,15.02 C1098.41,12.83 1101.54,9.23 1102.79,7.51 C1104.05,5.79 1102.17,2.82 1102.79,4.69 C1103.42,6.57 1106.55,13.93 1106.55,18.78 C1106.55,23.63 1104.67,29.42 1102.79,33.8 C1100.92,38.18 1097.47,45.07 1095.28,45.07 C1093.09,45.07 1091.53,37.87 1089.65,33.8 C1087.77,29.73 1083.08,23.79 1084.01,20.66Z" fill="none" stroke="#d8d8d8" stroke-width="16" stroke-linejoin="round" opacity="0.7"/>
<path d="M1029.55,112.68 C1028.3,104.85 1029.87,84.51 1031.43,75.12 C1033,65.73 1035.5,60.41 1038.94,56.34 C1042.39,52.27 1049.59,47.57 1052.09,50.7 C1054.59,53.83 1053.03,66.35 1053.97,75.12 C1054.91,83.88 1055.22,95.46 1057.72,103.29 C1060.23,111.11 1066.17,115.81 1068.99,122.07 C1071.81,128.33 1074.31,133.65 1074.62,140.85 C1074.94,148.04 1072.75,161.19 1070.87,165.26 C1068.99,169.33 1065.55,167.76 1063.36,165.26 C1061.17,162.75 1060.54,155.87 1057.72,150.23 C1054.91,144.6 1049.59,136.15 1046.46,131.46 C1043.33,126.76 1041.76,125.2 1038.94,122.07 C1036.13,118.94 1030.81,120.5 1029.55,112.68Z" fill="none" stroke="#d8d8d8" stroke-width="16" stroke-linejoin="round" opacity="0.7"/>
<path d="M1091.53,75.12 C1093.4,69.48 1097.16,64.16 1100.92,60.09 C1104.67,56.03 1109.05,52.9 1114.06,50.7 C1119.07,48.51 1126.58,46.95 1130.96,46.95 C1135.34,46.95 1137.54,46.95 1140.35,50.7 C1143.17,54.46 1146.3,62.28 1147.86,69.48 C1149.43,76.68 1150.99,86.7 1149.74,93.9 C1148.49,101.1 1144.42,108.61 1140.35,112.68 C1136.28,116.74 1128.46,118.94 1125.33,118.31 C1122.2,117.68 1123.45,111.42 1121.57,108.92 C1119.69,106.42 1116.56,102.66 1114.06,103.29 C1111.56,103.91 1109.68,111.11 1106.55,112.68 C1103.42,114.24 1098.1,115.81 1095.28,112.68 C1092.46,109.55 1090.27,100.16 1089.65,93.9 C1089.02,87.64 1089.65,80.75 1091.53,75.12Z" fill="none" stroke="#d8d8d8" stroke-width="16" stroke-linejoin="round" opacity="0.7"/>
<path d="M1151.62,18.78 C1152.56,13.15 1154.75,9.39 1159.13,7.51 C1163.51,5.63 1174.15,5.01 1177.91,7.51 C1181.67,10.02 1182.29,16.9 1181.67,22.54 C1181.04,28.17 1177.28,36.93 1174.15,41.31 C1171.03,45.7 1166.33,48.83 1162.89,48.83 C1159.44,48.83 1155.38,46.32 1153.5,41.31 C1151.62,36.31 1150.68,24.41 1151.62,18.78Z" fill="none" stroke="#d8d8d8" stroke-width="16" stroke-linejoin="round" opacity="0.7"/>
<path d="M1166.64,71.36 C1167.58,67.61 1171.65,66.35 1174.15,67.61 C1176.66,68.86 1179.48,74.49 1181.67,78.87 C1183.86,83.26 1185.74,89.51 1187.3,93.9 C1188.87,98.28 1190.74,100.78 1191.06,105.16 C1191.37,109.55 1190.74,118 1189.18,120.19 C1187.61,122.38 1184.17,120.81 1181.67,118.31 C1179.16,115.81 1176.35,109.86 1174.15,105.16 C1171.96,100.47 1169.77,95.77 1168.52,90.14 C1167.27,84.51 1165.7,75.12 1166.64,71.36Z" fill="none" stroke="#d8d8d8" stroke-width="16" stroke-linejoin="round" opacity="0.7"/>
<path d="M1207.96,131.46 C1207.96,127.39 1209.21,123.94 1211.71,122.07 C1214.22,120.19 1219.23,118.62 1222.98,120.19 C1226.74,121.75 1232.37,127.7 1234.25,131.46 C1236.13,135.21 1236.13,139.59 1234.25,142.72 C1232.37,145.85 1226.74,149.61 1222.98,150.23 C1219.23,150.86 1214.22,149.61 1211.71,146.48 C1209.21,143.35 1207.96,135.52 1207.96,131.46Z" fill="none" stroke="#d8d8d8" stroke-width="16" stroke-linejoin="round" opacity="0.7"/>
<path d="M1224.86,5.63 C1229.87,1.88 1247.39,1.88 1253.03,5.63 C1258.66,9.39 1258.66,21.28 1258.66,28.17 C1258.66,35.05 1253.03,38.5 1253.03,46.95 C1253.03,55.4 1256.78,69.8 1258.66,78.87 C1260.54,87.95 1265.23,97.03 1264.3,101.41 C1263.36,105.79 1258.04,105.16 1253.03,105.16 C1248.02,105.16 1240.51,102.35 1234.25,101.41 C1227.99,100.47 1219.23,102.35 1215.47,99.53 C1211.71,96.71 1211.4,91.71 1211.71,84.51 C1212.03,77.31 1215.47,65.73 1217.35,56.34 C1219.23,46.95 1221.73,36.62 1222.98,28.17 C1224.23,19.72 1219.85,9.39 1224.86,5.63Z" fill="none" stroke="#d8d8d8" stroke-width="16" stroke-linejoin="round" opacity="0.7"/>
<path d="M1262.42,5.63 C1265.7,1.88 1278.85,0.31 1282.14,5.63 C1285.42,10.95 1283.86,31.92 1282.14,37.56 C1280.41,43.19 1275.09,41 1271.81,39.44 C1268.52,37.87 1263.98,33.8 1262.42,28.17 C1260.85,22.54 1259.13,9.39 1262.42,5.63Z" fill="none" stroke="#d8d8d8" stroke-width="16" stroke-linejoin="round" opacity="0.7"/>
<path d="M926.27,150.23 C928.15,140.53 933.15,139.59 937.54,137.09 C941.92,134.59 948.8,133.65 952.56,135.21 C956.31,136.78 959.13,142.41 960.07,146.48 C961.01,150.55 960.07,154.3 958.19,159.62 C956.31,164.95 951.31,172.46 948.8,178.4 C946.3,184.35 946.92,192.49 943.17,195.31 C939.41,198.12 929.08,202.82 926.27,195.31 C923.45,187.79 924.39,159.94 926.27,150.23Z" fill="none" stroke="#d8d8d8" stroke-width="16" stroke-linejoin="round" opacity="0.7"/>
<path d="M1008.9,165.26 C1009.21,161.19 1012.65,156.49 1016.41,153.99 C1020.16,151.49 1026.74,150.23 1031.43,150.23 C1036.13,150.23 1042.07,150.86 1044.58,153.99 C1047.08,157.12 1047.08,164.63 1046.46,169.01 C1045.83,173.4 1043.95,177.78 1040.82,180.28 C1037.69,182.79 1032.06,184.35 1027.68,184.04 C1023.29,183.72 1017.66,181.53 1014.53,178.4 C1011.4,175.27 1008.58,169.33 1008.9,165.26Z" fill="none" stroke="#d8d8d8" stroke-width="16" stroke-linejoin="round" opacity="0.7"/>
<path d="M1136.6,195.31 C1122.51,187.79 1137.85,160.25 1138.47,150.23 C1139.1,140.22 1137.54,138.34 1140.35,135.21 C1143.17,132.08 1149.74,131.46 1155.38,131.46 C1161.01,131.46 1168.83,132.08 1174.15,135.21 C1179.48,138.34 1183.54,145.23 1187.3,150.23 C1191.06,155.24 1192.62,161.5 1196.69,165.26 C1200.76,169.01 1207.33,167.76 1211.71,172.77 C1216.1,177.78 1235.5,191.55 1222.98,195.31 C1210.46,199.06 1150.68,202.82 1136.6,195.31Z" fill="none" stroke="#d8d8d8" stroke-width="16" stroke-linejoin="round" opacity="0.7"/>
<path d="M961.95,195.31 C956.63,192.49 963.2,185.92 965.7,178.4 C968.21,170.89 973.53,158.06 976.97,150.23 C980.41,142.41 983.54,137.72 986.36,131.46 C989.18,125.2 992,117.37 993.87,112.68 C995.75,107.98 996.06,103.29 997.63,103.29 C999.19,103.29 1002.01,107.98 1003.26,112.68 C1004.51,117.37 1005.77,122.07 1005.14,131.46 C1004.51,140.85 1000.76,158.37 999.51,169.01 C998.26,179.66 1003.89,190.92 997.63,195.31 C991.37,199.69 967.27,198.12 961.95,195.31Z" fill="none" stroke="#d8d8d8" stroke-width="16" stroke-linejoin="round" opacity="0.7"/>
<path d="M1238,169.01 C1239.26,162.75 1246.77,156.49 1249.27,150.23 C1251.78,143.97 1247.55,134.59 1253.03,131.46 C1258.51,128.33 1277.28,120.81 1282.14,131.46 C1286.99,142.1 1284.8,184.66 1282.14,195.31 C1279.48,205.95 1272.9,196.56 1266.17,195.31 C1259.44,194.05 1246.46,192.18 1241.76,187.79 C1237.07,183.41 1236.75,175.27 1238,169.01Z" fill="none" stroke="#d8d8d8" stroke-width="16" stroke-linejoin="round" opacity="0.7"/>
<path d="M1264.3,105.16 C1266.64,102.35 1279.16,102.03 1282.14,105.16 C1285.11,108.29 1284.48,121.13 1282.14,123.94 C1279.79,126.76 1271.03,125.2 1268.05,122.07 C1265.08,118.94 1261.95,107.98 1264.3,105.16Z" fill="none" stroke="#d8d8d8" stroke-width="16" stroke-linejoin="round" opacity="0.7"/>
<path d="M742.94,179.88 C747.53,171.65 765.65,176.82 770.48,179.88 C775.3,182.94 772.12,192.83 771.89,198.24 C771.65,203.65 771.18,208.12 769.06,212.36 C766.95,216.6 762.24,220.6 759.18,223.66 C756.12,226.72 753.41,229.78 750.71,230.72 C748,231.66 744.24,237.78 742.94,229.31 C741.65,220.83 738.35,188.12 742.94,179.88Z" fill="none" stroke="#d8d8d8" stroke-width="16" stroke-linejoin="round" opacity="0.7"/>
<path d="M762,254.72 C762,249.07 763.65,243.9 766.24,237.78 C768.83,231.66 774.48,219.89 777.54,218.01 C780.6,216.13 782.95,222.72 784.6,226.48 C786.24,230.25 786.95,233.54 787.42,240.6 C787.89,247.66 788.13,262.02 787.42,268.84 C786.72,275.67 784.83,279.2 783.18,281.55 C781.54,283.9 780.36,284.61 777.54,282.96 C774.71,281.32 768.83,276.37 766.24,271.67 C763.65,266.96 762,260.37 762,254.72Z" fill="none" stroke="#d8d8d8" stroke-width="16" stroke-linejoin="round" opacity="0.7"/>
<path d="M794.48,179.88 C802.01,176.82 831.9,176.82 839.67,179.88 C847.43,182.94 839.67,194 841.08,198.24 C842.49,202.48 846.73,201.77 848.14,205.3 C849.55,208.83 850.26,214.71 849.55,219.42 C848.84,224.13 846.02,229.31 843.9,233.54 C841.78,237.78 839.2,241.78 836.84,244.84 C834.49,247.9 832.14,248.84 829.78,251.9 C827.43,254.96 825.55,261.78 822.72,263.19 C819.9,264.61 815.66,262.25 812.84,260.37 C810.01,258.49 807.9,256.37 805.78,251.9 C803.66,247.43 801.78,240.13 800.13,233.54 C798.48,226.95 796.83,218.24 795.89,212.36 C794.95,206.48 794.72,203.65 794.48,198.24 C794.25,192.83 786.95,182.94 794.48,179.88Z" fill="none" stroke="#d8d8d8" stroke-width="16" stroke-linejoin="round" opacity="0.7"/>
<path d="M865.08,179.88 C872.38,174.47 902.03,174.47 908.86,179.88 C915.68,185.3 907.91,202.71 906.03,212.36 C904.15,222.01 902.03,233.54 897.56,237.78 C893.09,242.01 884.15,237.78 879.2,237.78 C874.26,237.78 870.26,242.01 867.91,237.78 C865.55,233.54 865.55,222.01 865.08,212.36 C864.61,202.71 857.79,185.3 865.08,179.88Z" fill="none" stroke="#d8d8d8" stroke-width="16" stroke-linejoin="round" opacity="0.7"/>
<path d="M865.08,240.6 C866.26,236.13 872.38,237.78 873.55,240.6 C874.73,243.43 873.32,253.07 872.14,257.55 C870.97,262.02 867.67,270.25 866.49,267.43 C865.32,264.61 863.91,245.07 865.08,240.6Z" fill="none" stroke="#d8d8d8" stroke-width="16" stroke-linejoin="round" opacity="0.7"/>
<path d="M925.8,170 C927.92,164.12 936.39,167.65 938.51,170 C940.63,172.35 938.98,179.41 938.51,184.12 C938.04,188.83 935.68,193.53 935.68,198.24 C935.68,202.95 937.57,208.12 938.51,212.36 C939.45,216.6 942.27,222.48 941.33,223.66 C940.39,224.83 935.45,222.48 932.86,219.42 C930.27,216.36 926.98,213.54 925.8,205.3 C924.62,197.06 923.68,175.88 925.8,170Z" fill="none" stroke="#d8d8d8" stroke-width="16" stroke-linejoin="round" opacity="0.7"/>
<path d="M952.63,205.3 C952.63,200.36 955.45,189.3 958.28,184.12 C961.1,178.94 963.92,176.59 969.57,174.24 C975.22,171.88 987.22,169.53 992.17,170 C997.11,170.47 997.81,173.53 999.23,177.06 C1000.64,180.59 1000.64,187.65 1000.64,191.18 C1000.64,194.71 1001.81,196.36 999.23,198.24 C996.64,200.12 989.81,200.12 985.11,202.48 C980.4,204.83 975.46,210.48 970.99,212.36 C966.51,214.24 961.34,214.95 958.28,213.77 C955.22,212.6 952.63,210.24 952.63,205.3Z" fill="none" stroke="#d8d8d8" stroke-width="16" stroke-linejoin="round" opacity="0.7"/>
<path d="M924.39,243.43 C926.27,240.13 934.27,241.78 938.51,242.01 C942.74,242.25 948.39,242.25 949.8,244.84 C951.22,247.43 948.86,253.55 946.98,257.55 C945.1,261.55 940.86,265.55 938.51,268.84 C936.15,272.14 934.74,278.49 932.86,277.31 C930.98,276.14 928.62,267.43 927.21,261.78 C925.8,256.13 922.51,246.72 924.39,243.43Z" fill="none" stroke="#d8d8d8" stroke-width="16" stroke-linejoin="round" opacity="0.7"/>
<path d="M952.63,268.84 C953.81,266.02 955.92,263.66 958.28,263.19 C960.63,262.72 963.92,262.72 966.75,266.02 C969.57,269.31 973.34,278.49 975.22,282.96 C977.1,287.43 978.99,290.49 978.05,292.85 C977.1,295.2 973.1,295.91 969.57,297.08 C966.04,298.26 959.45,300.38 956.86,299.91 C954.28,299.44 954.98,297.55 954.04,294.26 C953.1,290.96 951.45,284.37 951.22,280.14 C950.98,275.9 951.45,271.67 952.63,268.84Z" fill="none" stroke="#d8d8d8" stroke-width="16" stroke-linejoin="round" opacity="0.7"/>
<path d="M976.63,240.6 C977.1,234.72 981.1,231.19 983.69,226.48 C986.28,221.77 988.87,215.89 992.17,212.36 C995.46,208.83 1001.11,204.12 1003.46,205.3 C1005.82,206.48 1006.76,213.54 1006.29,219.42 C1005.82,225.3 1002.05,232.36 1000.64,240.6 C999.23,248.84 998.52,259.43 997.81,268.84 C997.11,278.26 997.34,290.02 996.4,297.08 C995.46,304.14 993.81,313.56 992.17,311.2 C990.52,308.85 988.4,291.2 986.52,282.96 C984.63,274.73 982.52,268.84 980.87,261.78 C979.22,254.72 976.16,246.48 976.63,240.6Z" fill="none" stroke="#d8d8d8" stroke-width="16" stroke-linejoin="round" opacity="0.7"/>
<path d="M749.3,370.23 C735.65,365.1 752.12,347.87 754.94,339.44 C757.77,331.02 762.48,322.97 766.24,319.68 C770.01,316.38 774.01,318.73 777.54,319.68 C781.07,320.62 783.42,323.21 787.42,325.32 C791.42,327.44 798.01,332.38 801.54,332.38 C805.07,332.38 806.01,325.09 808.6,325.32 C811.19,325.56 814.25,330.74 817.07,333.8 C819.9,336.85 822.72,340.39 825.55,343.68 C828.37,346.97 832.14,349.14 834.02,353.56 C835.9,357.99 850.96,367.45 836.84,370.23 C822.72,373 762.95,375.36 749.3,370.23Z" fill="none" stroke="#d8d8d8" stroke-width="16" stroke-linejoin="round" opacity="0.7"/>
<path d="M860.85,370.23 C854.96,363.92 857.32,341.04 858.02,332.38 C858.73,323.72 863.44,325.32 865.08,318.26 C866.73,311.2 866.49,293.55 867.91,290.02 C869.32,286.49 871.67,293.55 873.55,297.08 C875.44,300.61 877.09,306.5 879.2,311.2 C881.32,315.91 884.15,319.44 886.26,325.32 C888.38,331.21 890.73,339.02 891.91,346.5 C893.09,353.99 898.5,366.27 893.32,370.23 C888.15,374.18 866.73,376.53 860.85,370.23Z" fill="none" stroke="#d8d8d8" stroke-width="16" stroke-linejoin="round" opacity="0.7"/>
<path d="M880.62,282.96 C881.32,280.61 887.2,281.08 890.5,282.96 C893.79,284.85 897.56,290.73 900.38,294.26 C903.21,297.79 905.56,300.14 907.44,304.14 C909.33,308.14 910.5,313.56 911.68,318.26 C912.86,322.97 913.33,327.68 914.5,332.38 C915.68,337.09 916.86,342.97 918.74,346.5 C920.62,350.03 924.39,349.61 925.8,353.56 C927.21,357.52 930.27,367.45 927.21,370.23 C924.15,373 910.97,373 907.44,370.23 C903.91,367.45 907.21,358.69 906.03,353.56 C904.85,348.43 902.5,345.33 900.38,339.44 C898.27,333.56 895.68,325.32 893.32,318.26 C890.97,311.2 888.38,302.97 886.26,297.08 C884.15,291.2 879.91,285.32 880.62,282.96Z" fill="none" stroke="#d8d8d8" stroke-width="16" stroke-linejoin="round" opacity="0.7"/>
<path d="M931.45,370.23 C925.8,362.74 931.45,334.22 932.86,325.32 C934.27,316.43 937.57,316.85 939.92,316.85 C942.27,316.85 943.92,322.03 946.98,325.32 C950.04,328.62 955.45,331.91 958.28,336.62 C961.1,341.33 962.51,347.96 963.92,353.56 C965.34,359.17 972.16,367.45 966.75,370.23 C961.34,373 937.1,377.71 931.45,370.23Z" fill="none" stroke="#d8d8d8" stroke-width="16" stroke-linejoin="round" opacity="0.7"/>
<path d="M978.05,370.23 C971.06,363.92 976.63,341.04 978.05,332.38 C979.46,323.72 983.46,321.79 986.52,318.26 C989.58,314.73 994.52,310.03 996.4,311.2 C998.28,312.38 996.64,321.79 997.81,325.32 C998.99,328.85 1000.87,330.5 1003.46,332.38 C1006.05,334.27 1010.59,335.44 1013.35,336.62 C1016.1,337.8 1018.88,333.84 1019.98,339.44 C1021.09,345.04 1026.97,365.1 1019.98,370.23 C1012.99,375.36 985.03,376.53 978.05,370.23Z" fill="none" stroke="#d8d8d8" stroke-width="16" stroke-linejoin="round" opacity="0.7"/>
<path d="M1006.29,240.6 C1009.04,231.19 1017.7,215.89 1019.98,226.48 C1022.27,237.07 1022.27,290.02 1019.98,304.14 C1017.7,318.26 1009.04,314.73 1006.29,311.2 C1003.53,307.67 1003.46,294.73 1003.46,282.96 C1003.46,271.2 1003.53,250.02 1006.29,240.6Z" fill="none" stroke="#d8d8d8" stroke-width="16" stroke-linejoin="round" opacity="0.7"/>
<path d="M1021.22,310.21 C1022.15,307.64 1024.49,302.27 1026.83,301.8 C1029.16,301.33 1032.67,304.14 1035.24,307.41 C1037.81,310.68 1040.85,316.29 1042.25,321.43 C1043.65,326.57 1044.35,334.52 1043.65,338.26 C1042.95,341.99 1040.85,345.03 1038.04,343.86 C1035.24,342.7 1029.63,335.69 1026.83,331.25 C1024.02,326.81 1022.15,320.73 1021.22,317.22 C1020.28,313.72 1020.28,312.78 1021.22,310.21Z" fill="none" stroke="#d8d8d8" stroke-width="16" stroke-linejoin="round" opacity="0.7"/>
<path d="M1038.04,251.32 C1038.98,248.99 1041.78,251.32 1046.46,254.13 C1051.13,256.93 1060.48,264.41 1066.09,268.15 C1071.69,271.89 1075.9,274.23 1080.11,276.56 C1084.31,278.9 1089.92,277.73 1091.32,282.17 C1092.73,286.61 1089.69,297.36 1088.52,303.2 C1087.35,309.04 1084.78,311.38 1084.31,317.22 C1083.85,323.07 1086.42,332.41 1085.72,338.26 C1085.01,344.1 1082.91,351.81 1080.11,352.28 C1077.3,352.74 1072.39,345.73 1068.89,341.06 C1065.38,336.39 1062.35,331.71 1059.07,324.23 C1055.8,316.76 1052.3,305.54 1049.26,296.19 C1046.22,286.84 1042.72,275.63 1040.85,268.15 C1038.98,260.67 1037.11,253.66 1038.04,251.32Z" fill="none" stroke="#d8d8d8" stroke-width="16" stroke-linejoin="round" opacity="0.7"/>
<path d="M1099.74,259.74 C1100.2,257.4 1104.41,260.2 1108.15,256.93 C1111.89,253.66 1117.96,245.72 1122.17,240.11 C1126.38,234.5 1129.88,226.09 1133.39,223.28 C1136.89,220.48 1139.7,221.65 1143.2,223.28 C1146.71,224.92 1151.85,227.95 1154.42,233.1 C1156.99,238.24 1156.99,247.12 1158.63,254.13 C1160.26,261.14 1162.6,269.08 1164.23,275.16 C1165.87,281.24 1168.91,286.61 1168.44,290.58 C1167.97,294.56 1163.07,296.19 1161.43,299 C1159.79,301.8 1160.5,304.14 1158.63,307.41 C1156.76,310.68 1153.25,318.16 1150.21,318.63 C1147.18,319.09 1143.2,313.95 1140.4,310.21 C1137.59,306.47 1135.49,300.87 1133.39,296.19 C1131.28,291.52 1129.88,285.44 1127.78,282.17 C1125.68,278.9 1122.64,277.03 1120.77,276.56 C1118.9,276.09 1117.5,277.96 1116.56,279.37 C1115.63,280.77 1114.23,282.17 1115.16,284.97 C1116.09,287.78 1120.77,291.99 1122.17,296.19 C1123.57,300.4 1124.04,306.01 1123.57,310.21 C1123.11,314.42 1121.47,317.92 1119.37,321.43 C1117.26,324.94 1114.23,330.31 1110.95,331.25 C1107.68,332.18 1101.37,330.54 1099.74,327.04 C1098.1,323.53 1099.74,315.35 1101.14,310.21 C1102.54,305.07 1106.98,300.87 1108.15,296.19 C1109.32,291.52 1108.62,286.38 1108.15,282.17 C1107.68,277.96 1106.75,274.69 1105.34,270.95 C1103.94,267.21 1099.27,262.07 1099.74,259.74Z" fill="none" stroke="#d8d8d8" stroke-width="16" stroke-linejoin="round" opacity="0.7"/>
<path d="M1174.05,254.13 C1173.11,247.12 1173.35,225.38 1175.45,219.07 C1177.55,212.77 1182.93,215.8 1186.67,216.27 C1190.41,216.74 1195.78,217.91 1197.89,221.88 C1199.99,225.85 1199.29,233.56 1199.29,240.11 C1199.29,246.65 1198.35,254.13 1197.89,261.14 C1197.42,268.15 1196.25,275.16 1196.48,282.17 C1196.72,289.18 1198.59,296.19 1199.29,303.2 C1199.99,310.21 1200.92,319.09 1200.69,324.23 C1200.46,329.38 1199.76,332.65 1197.89,334.05 C1196.02,335.45 1191.58,336.62 1189.47,332.65 C1187.37,328.67 1186.2,318.63 1185.27,310.21 C1184.33,301.8 1184.57,290.35 1183.86,282.17 C1183.16,273.99 1182.7,265.81 1181.06,261.14 C1179.42,256.46 1174.98,261.14 1174.05,254.13Z" fill="none" stroke="#d8d8d8" stroke-width="16" stroke-linejoin="round" opacity="0.7"/>
<path d="M1213.31,268.15 C1213.31,258.8 1213.08,241.74 1214.71,233.1 C1216.35,224.45 1220.09,219.31 1223.12,216.27 C1226.16,213.23 1231.07,212.06 1232.94,214.87 C1234.81,217.67 1234.34,225.38 1234.34,233.1 C1234.34,240.81 1232.94,251.79 1232.94,261.14 C1232.94,270.49 1235.51,282.17 1234.34,289.18 C1233.17,296.19 1228.27,300.16 1225.93,303.2 C1223.59,306.24 1222.19,309.75 1220.32,307.41 C1218.45,305.07 1215.88,295.72 1214.71,289.18 C1213.54,282.64 1213.31,277.5 1213.31,268.15Z" fill="none" stroke="#d8d8d8" stroke-width="16" stroke-linejoin="round" opacity="0.7"/>
<path d="M1246.96,170 C1250.93,160.65 1267.06,165.33 1270.8,170 C1274.54,174.67 1271.73,188.23 1269.39,198.04 C1267.06,207.86 1259.81,219.54 1256.78,228.89 C1253.74,238.24 1252.8,254.6 1251.17,254.13 C1249.53,253.66 1247.66,240.11 1246.96,226.09 C1246.26,212.06 1242.99,179.35 1246.96,170Z" fill="none" stroke="#d8d8d8" stroke-width="16" stroke-linejoin="round" opacity="0.7"/>
<path d="M1265.19,254.13 C1265.42,249.92 1266.47,244.31 1269.39,242.91 C1272.32,241.51 1280.49,238.47 1282.71,245.72 C1284.93,252.96 1284,279.6 1282.71,286.38 C1281.43,293.15 1277.46,289.41 1275,286.38 C1272.55,283.34 1269.63,273.52 1267.99,268.15 C1266.36,262.77 1264.95,258.33 1265.19,254.13Z" fill="none" stroke="#d8d8d8" stroke-width="16" stroke-linejoin="round" opacity="0.7"/>
<path d="M1246.96,304.6 C1247.89,300.87 1253.04,302.03 1256.78,301.8 C1260.51,301.57 1267.29,299.46 1269.39,303.2 C1271.5,306.94 1271.03,320.26 1269.39,324.23 C1267.76,328.21 1262.62,327.04 1259.58,327.04 C1256.54,327.04 1253.27,327.97 1251.17,324.23 C1249.06,320.5 1246.03,308.34 1246.96,304.6Z" fill="none" stroke="#d8d8d8" stroke-width="16" stroke-linejoin="round" opacity="0.7"/>
<path d="M1136.19,170 C1146.01,167.66 1188.3,169.07 1196.48,170 C1204.66,170.93 1189.47,174.21 1185.27,175.61 C1181.06,177.01 1175.22,176.54 1171.25,178.41 C1167.27,180.28 1163.77,183.32 1161.43,186.83 C1159.09,190.33 1160.03,198.28 1157.22,199.44 C1154.42,200.61 1147.88,196.41 1144.6,193.84 C1141.33,191.27 1139,187.99 1137.59,184.02 C1136.19,180.05 1126.38,172.34 1136.19,170Z" fill="none" stroke="#d8d8d8" stroke-width="16" stroke-linejoin="round" opacity="0.7"/>
<path d="M1197.89,170 C1201.39,168.13 1215.65,167.66 1220.32,170 C1224.99,172.34 1225.23,179.35 1225.93,184.02 C1226.63,188.7 1227.1,195.24 1224.53,198.04 C1221.96,200.85 1214.01,201.31 1210.5,200.85 C1207,200.38 1205.36,198.51 1203.49,195.24 C1201.62,191.97 1200.22,185.42 1199.29,181.22 C1198.35,177.01 1194.38,171.87 1197.89,170Z" fill="none" stroke="#d8d8d8" stroke-width="16" stroke-linejoin="round" opacity="0.7"/>
<path d="M1010,170 C1014.67,168.6 1040.61,168.13 1046.46,170 C1052.3,171.87 1047.62,178.88 1045.05,181.22 C1042.48,183.55 1035.47,184.49 1031.03,184.02 C1026.59,183.55 1021.92,180.75 1018.41,178.41 C1014.91,176.08 1005.33,171.4 1010,170Z" fill="none" stroke="#d8d8d8" stroke-width="16" stroke-linejoin="round" opacity="0.7"/>
<path d="M1101.14,370.5 C1098.33,366.3 1101.37,350.17 1102.54,345.27 C1103.71,340.36 1105.81,340.36 1108.15,341.06 C1110.49,341.76 1114.69,344.57 1116.56,349.47 C1118.43,354.38 1121.94,367 1119.37,370.5 C1116.8,374.01 1103.94,374.71 1101.14,370.5Z" fill="none" stroke="#d8d8d8" stroke-width="16" stroke-linejoin="round" opacity="0.7"/>
<path d="M1136.19,370.5 C1132.92,366.77 1137.59,352.28 1139,348.07 C1140.4,343.86 1142.27,344.57 1144.6,345.27 C1146.94,345.97 1150.68,348.07 1153.02,352.28 C1155.35,356.48 1161.43,367.47 1158.63,370.5 C1155.82,373.54 1139.46,374.24 1136.19,370.5Z" fill="none" stroke="#d8d8d8" stroke-width="16" stroke-linejoin="round" opacity="0.7"/>
<path d="M1182.46,370.5 C1180.36,368.17 1182.23,358.59 1183.86,356.48 C1185.5,354.38 1190.17,355.55 1192.28,357.89 C1194.38,360.22 1198.12,368.4 1196.48,370.5 C1194.85,372.61 1184.57,372.84 1182.46,370.5Z" fill="none" stroke="#d8d8d8" stroke-width="16" stroke-linejoin="round" opacity="0.7"/>
<path d="M1209.1,370.5 C1207.47,367.47 1210.5,357.65 1211.91,352.28 C1213.31,346.9 1216.11,338.26 1217.52,338.26 C1218.92,338.26 1219.62,346.9 1220.32,352.28 C1221.02,357.65 1223.59,367.47 1221.72,370.5 C1219.85,373.54 1210.74,373.54 1209.1,370.5Z" fill="none" stroke="#d8d8d8" stroke-width="16" stroke-linejoin="round" opacity="0.7"/>
<path d="M1010,334.05 C1011.4,328.67 1015.37,334.52 1018.41,338.26 C1021.45,341.99 1026.12,351.11 1028.23,356.48 C1030.33,361.86 1034.07,368.17 1031.03,370.5 C1027.99,372.84 1013.51,376.58 1010,370.5 C1006.49,364.43 1008.6,339.42 1010,334.05Z" fill="none" stroke="#d8d8d8" stroke-width="16" stroke-linejoin="round" opacity="0.7"/>
<path d="M1057.67,370.5 C1053.47,369.34 1056.74,364.66 1060.48,363.49 C1064.22,362.33 1075.9,362.33 1080.11,363.49 C1084.31,364.66 1089.45,369.34 1085.72,370.5 C1081.98,371.67 1061.88,371.67 1057.67,370.5Z" fill="none" stroke="#d8d8d8" stroke-width="16" stroke-linejoin="round" opacity="0.7"/>
<rect x="742" y="3" width="541" height="367" filter="url(#tex)" opacity="0.5" style="mix-blend-mode:overlay"/>
<path d="M919.69,4.69 C925.8,-13.93 949.59,2.35 956.31,4.69 C963.04,7.04 959.13,11.74 960.07,18.78 C961.01,25.82 961.01,40.69 961.95,46.95 C962.89,53.21 964.77,50.08 965.7,56.34 C966.64,62.6 965.7,77.62 967.58,84.51 C969.46,91.39 977.91,94.21 976.97,97.65 C976.03,101.1 967.58,103.91 961.95,105.16 C956.31,106.42 948.49,103.91 943.17,105.16 C937.85,106.42 933.94,110.8 930.02,112.68 C926.11,114.55 921.42,134.43 919.69,116.43 C917.97,98.44 913.59,23.32 919.69,4.69Z" fill="none" stroke="#485d7e" stroke-width="9" stroke-linejoin="round"/>
<path d="M984.48,60.09 C985.11,54.15 987.93,43.19 990.12,39.44 C992.31,35.68 995.75,34.74 997.63,37.56 C999.51,40.38 1001.07,48.51 1001.38,56.34 C1001.7,64.16 1000.76,78.25 999.51,84.51 C998.26,90.77 996.06,95.46 993.87,93.9 C991.68,92.33 987.93,80.75 986.36,75.12 C984.8,69.48 983.86,66.04 984.48,60.09Z" fill="none" stroke="#485d7e" stroke-width="9" stroke-linejoin="round"/>
<path d="M1012.65,4.69 C1016.72,0.78 1034.25,2.35 1038.94,4.69 C1043.64,7.04 1040.2,13.3 1040.82,18.78 C1041.45,24.26 1043.64,33.8 1042.7,37.56 C1041.76,41.31 1038.32,41 1035.19,41.31 C1032.06,41.63 1027.36,41.63 1023.92,39.44 C1020.48,37.25 1016.41,33.96 1014.53,28.17 C1012.65,22.38 1008.58,8.61 1012.65,4.69Z" fill="none" stroke="#485d7e" stroke-width="9" stroke-linejoin="round"/>
<path d="M1084.01,20.66 C1084.95,17.53 1092.15,17.21 1095.28,15.02 C1098.41,12.83 1101.54,9.23 1102.79,7.51 C1104.05,5.79 1102.17,2.82 1102.79,4.69 C1103.42,6.57 1106.55,13.93 1106.55,18.78 C1106.55,23.63 1104.67,29.42 1102.79,33.8 C1100.92,38.18 1097.47,45.07 1095.28,45.07 C1093.09,45.07 1091.53,37.87 1089.65,33.8 C1087.77,29.73 1083.08,23.79 1084.01,20.66Z" fill="none" stroke="#485d7e" stroke-width="9" stroke-linejoin="round"/>
<path d="M1029.55,112.68 C1028.3,104.85 1029.87,84.51 1031.43,75.12 C1033,65.73 1035.5,60.41 1038.94,56.34 C1042.39,52.27 1049.59,47.57 1052.09,50.7 C1054.59,53.83 1053.03,66.35 1053.97,75.12 C1054.91,83.88 1055.22,95.46 1057.72,103.29 C1060.23,111.11 1066.17,115.81 1068.99,122.07 C1071.81,128.33 1074.31,133.65 1074.62,140.85 C1074.94,148.04 1072.75,161.19 1070.87,165.26 C1068.99,169.33 1065.55,167.76 1063.36,165.26 C1061.17,162.75 1060.54,155.87 1057.72,150.23 C1054.91,144.6 1049.59,136.15 1046.46,131.46 C1043.33,126.76 1041.76,125.2 1038.94,122.07 C1036.13,118.94 1030.81,120.5 1029.55,112.68Z" fill="none" stroke="#485d7e" stroke-width="9" stroke-linejoin="round"/>
<path d="M1091.53,75.12 C1093.4,69.48 1097.16,64.16 1100.92,60.09 C1104.67,56.03 1109.05,52.9 1114.06,50.7 C1119.07,48.51 1126.58,46.95 1130.96,46.95 C1135.34,46.95 1137.54,46.95 1140.35,50.7 C1143.17,54.46 1146.3,62.28 1147.86,69.48 C1149.43,76.68 1150.99,86.7 1149.74,93.9 C1148.49,101.1 1144.42,108.61 1140.35,112.68 C1136.28,116.74 1128.46,118.94 1125.33,118.31 C1122.2,117.68 1123.45,111.42 1121.57,108.92 C1119.69,106.42 1116.56,102.66 1114.06,103.29 C1111.56,103.91 1109.68,111.11 1106.55,112.68 C1103.42,114.24 1098.1,115.81 1095.28,112.68 C1092.46,109.55 1090.27,100.16 1089.65,93.9 C1089.02,87.64 1089.65,80.75 1091.53,75.12Z" fill="none" stroke="#485d7e" stroke-width="9" stroke-linejoin="round"/>
<path d="M1151.62,18.78 C1152.56,13.15 1154.75,9.39 1159.13,7.51 C1163.51,5.63 1174.15,5.01 1177.91,7.51 C1181.67,10.02 1182.29,16.9 1181.67,22.54 C1181.04,28.17 1177.28,36.93 1174.15,41.31 C1171.03,45.7 1166.33,48.83 1162.89,48.83 C1159.44,48.83 1155.38,46.32 1153.5,41.31 C1151.62,36.31 1150.68,24.41 1151.62,18.78Z" fill="none" stroke="#485d7e" stroke-width="9" stroke-linejoin="round"/>
<path d="M1166.64,71.36 C1167.58,67.61 1171.65,66.35 1174.15,67.61 C1176.66,68.86 1179.48,74.49 1181.67,78.87 C1183.86,83.26 1185.74,89.51 1187.3,93.9 C1188.87,98.28 1190.74,100.78 1191.06,105.16 C1191.37,109.55 1190.74,118 1189.18,120.19 C1187.61,122.38 1184.17,120.81 1181.67,118.31 C1179.16,115.81 1176.35,109.86 1174.15,105.16 C1171.96,100.47 1169.77,95.77 1168.52,90.14 C1167.27,84.51 1165.7,75.12 1166.64,71.36Z" fill="none" stroke="#485d7e" stroke-width="9" stroke-linejoin="round"/>
<path d="M1207.96,131.46 C1207.96,127.39 1209.21,123.94 1211.71,122.07 C1214.22,120.19 1219.23,118.62 1222.98,120.19 C1226.74,121.75 1232.37,127.7 1234.25,131.46 C1236.13,135.21 1236.13,139.59 1234.25,142.72 C1232.37,145.85 1226.74,149.61 1222.98,150.23 C1219.23,150.86 1214.22,149.61 1211.71,146.48 C1209.21,143.35 1207.96,135.52 1207.96,131.46Z" fill="none" stroke="#485d7e" stroke-width="9" stroke-linejoin="round"/>
<path d="M1224.86,5.63 C1229.87,1.88 1247.39,1.88 1253.03,5.63 C1258.66,9.39 1258.66,21.28 1258.66,28.17 C1258.66,35.05 1253.03,38.5 1253.03,46.95 C1253.03,55.4 1256.78,69.8 1258.66,78.87 C1260.54,87.95 1265.23,97.03 1264.3,101.41 C1263.36,105.79 1258.04,105.16 1253.03,105.16 C1248.02,105.16 1240.51,102.35 1234.25,101.41 C1227.99,100.47 1219.23,102.35 1215.47,99.53 C1211.71,96.71 1211.4,91.71 1211.71,84.51 C1212.03,77.31 1215.47,65.73 1217.35,56.34 C1219.23,46.95 1221.73,36.62 1222.98,28.17 C1224.23,19.72 1219.85,9.39 1224.86,5.63Z" fill="none" stroke="#485d7e" stroke-width="9" stroke-linejoin="round"/>
<path d="M1262.42,5.63 C1265.7,1.88 1278.85,0.31 1282.14,5.63 C1285.42,10.95 1283.86,31.92 1282.14,37.56 C1280.41,43.19 1275.09,41 1271.81,39.44 C1268.52,37.87 1263.98,33.8 1262.42,28.17 C1260.85,22.54 1259.13,9.39 1262.42,5.63Z" fill="none" stroke="#485d7e" stroke-width="9" stroke-linejoin="round"/>
<path d="M926.27,150.23 C928.15,140.53 933.15,139.59 937.54,137.09 C941.92,134.59 948.8,133.65 952.56,135.21 C956.31,136.78 959.13,142.41 960.07,146.48 C961.01,150.55 960.07,154.3 958.19,159.62 C956.31,164.95 951.31,172.46 948.8,178.4 C946.3,184.35 946.92,192.49 943.17,195.31 C939.41,198.12 929.08,202.82 926.27,195.31 C923.45,187.79 924.39,159.94 926.27,150.23Z" fill="none" stroke="#485d7e" stroke-width="9" stroke-linejoin="round"/>
<path d="M1008.9,165.26 C1009.21,161.19 1012.65,156.49 1016.41,153.99 C1020.16,151.49 1026.74,150.23 1031.43,150.23 C1036.13,150.23 1042.07,150.86 1044.58,153.99 C1047.08,157.12 1047.08,164.63 1046.46,169.01 C1045.83,173.4 1043.95,177.78 1040.82,180.28 C1037.69,182.79 1032.06,184.35 1027.68,184.04 C1023.29,183.72 1017.66,181.53 1014.53,178.4 C1011.4,175.27 1008.58,169.33 1008.9,165.26Z" fill="none" stroke="#485d7e" stroke-width="9" stroke-linejoin="round"/>
<path d="M1136.6,195.31 C1122.51,187.79 1137.85,160.25 1138.47,150.23 C1139.1,140.22 1137.54,138.34 1140.35,135.21 C1143.17,132.08 1149.74,131.46 1155.38,131.46 C1161.01,131.46 1168.83,132.08 1174.15,135.21 C1179.48,138.34 1183.54,145.23 1187.3,150.23 C1191.06,155.24 1192.62,161.5 1196.69,165.26 C1200.76,169.01 1207.33,167.76 1211.71,172.77 C1216.1,177.78 1235.5,191.55 1222.98,195.31 C1210.46,199.06 1150.68,202.82 1136.6,195.31Z" fill="none" stroke="#485d7e" stroke-width="9" stroke-linejoin="round"/>
<path d="M961.95,195.31 C956.63,192.49 963.2,185.92 965.7,178.4 C968.21,170.89 973.53,158.06 976.97,150.23 C980.41,142.41 983.54,137.72 986.36,131.46 C989.18,125.2 992,117.37 993.87,112.68 C995.75,107.98 996.06,103.29 997.63,103.29 C999.19,103.29 1002.01,107.98 1003.26,112.68 C1004.51,117.37 1005.77,122.07 1005.14,131.46 C1004.51,140.85 1000.76,158.37 999.51,169.01 C998.26,179.66 1003.89,190.92 997.63,195.31 C991.37,199.69 967.27,198.12 961.95,195.31Z" fill="none" stroke="#485d7e" stroke-width="9" stroke-linejoin="round"/>
<path d="M1238,169.01 C1239.26,162.75 1246.77,156.49 1249.27,150.23 C1251.78,143.97 1247.55,134.59 1253.03,131.46 C1258.51,128.33 1277.28,120.81 1282.14,131.46 C1286.99,142.1 1284.8,184.66 1282.14,195.31 C1279.48,205.95 1272.9,196.56 1266.17,195.31 C1259.44,194.05 1246.46,192.18 1241.76,187.79 C1237.07,183.41 1236.75,175.27 1238,169.01Z" fill="none" stroke="#485d7e" stroke-width="9" stroke-linejoin="round"/>
<path d="M1264.3,105.16 C1266.64,102.35 1279.16,102.03 1282.14,105.16 C1285.11,108.29 1284.48,121.13 1282.14,123.94 C1279.79,126.76 1271.03,125.2 1268.05,122.07 C1265.08,118.94 1261.95,107.98 1264.3,105.16Z" fill="none" stroke="#485d7e" stroke-width="9" stroke-linejoin="round"/>
<path d="M742.94,179.88 C747.53,171.65 765.65,176.82 770.48,179.88 C775.3,182.94 772.12,192.83 771.89,198.24 C771.65,203.65 771.18,208.12 769.06,212.36 C766.95,216.6 762.24,220.6 759.18,223.66 C756.12,226.72 753.41,229.78 750.71,230.72 C748,231.66 744.24,237.78 742.94,229.31 C741.65,220.83 738.35,188.12 742.94,179.88Z" fill="none" stroke="#485d7e" stroke-width="9" stroke-linejoin="round"/>
<path d="M762,254.72 C762,249.07 763.65,243.9 766.24,237.78 C768.83,231.66 774.48,219.89 777.54,218.01 C780.6,216.13 782.95,222.72 784.6,226.48 C786.24,230.25 786.95,233.54 787.42,240.6 C787.89,247.66 788.13,262.02 787.42,268.84 C786.72,275.67 784.83,279.2 783.18,281.55 C781.54,283.9 780.36,284.61 777.54,282.96 C774.71,281.32 768.83,276.37 766.24,271.67 C763.65,266.96 762,260.37 762,254.72Z" fill="none" stroke="#485d7e" stroke-width="9" stroke-linejoin="round"/>
<path d="M794.48,179.88 C802.01,176.82 831.9,176.82 839.67,179.88 C847.43,182.94 839.67,194 841.08,198.24 C842.49,202.48 846.73,201.77 848.14,205.3 C849.55,208.83 850.26,214.71 849.55,219.42 C848.84,224.13 846.02,229.31 843.9,233.54 C841.78,237.78 839.2,241.78 836.84,244.84 C834.49,247.9 832.14,248.84 829.78,251.9 C827.43,254.96 825.55,261.78 822.72,263.19 C819.9,264.61 815.66,262.25 812.84,260.37 C810.01,258.49 807.9,256.37 805.78,251.9 C803.66,247.43 801.78,240.13 800.13,233.54 C798.48,226.95 796.83,218.24 795.89,212.36 C794.95,206.48 794.72,203.65 794.48,198.24 C794.25,192.83 786.95,182.94 794.48,179.88Z" fill="none" stroke="#485d7e" stroke-width="9" stroke-linejoin="round"/>
<path d="M865.08,179.88 C872.38,174.47 902.03,174.47 908.86,179.88 C915.68,185.3 907.91,202.71 906.03,212.36 C904.15,222.01 902.03,233.54 897.56,237.78 C893.09,242.01 884.15,237.78 879.2,237.78 C874.26,237.78 870.26,242.01 867.91,237.78 C865.55,233.54 865.55,222.01 865.08,212.36 C864.61,202.71 857.79,185.3 865.08,179.88Z" fill="none" stroke="#485d7e" stroke-width="9" stroke-linejoin="round"/>
<path d="M865.08,240.6 C866.26,236.13 872.38,237.78 873.55,240.6 C874.73,243.43 873.32,253.07 872.14,257.55 C870.97,262.02 867.67,270.25 866.49,267.43 C865.32,264.61 863.91,245.07 865.08,240.6Z" fill="none" stroke="#485d7e" stroke-width="9" stroke-linejoin="round"/>
<path d="M925.8,170 C927.92,164.12 936.39,167.65 938.51,170 C940.63,172.35 938.98,179.41 938.51,184.12 C938.04,188.83 935.68,193.53 935.68,198.24 C935.68,202.95 937.57,208.12 938.51,212.36 C939.45,216.6 942.27,222.48 941.33,223.66 C940.39,224.83 935.45,222.48 932.86,219.42 C930.27,216.36 926.98,213.54 925.8,205.3 C924.62,197.06 923.68,175.88 925.8,170Z" fill="none" stroke="#485d7e" stroke-width="9" stroke-linejoin="round"/>
<path d="M952.63,205.3 C952.63,200.36 955.45,189.3 958.28,184.12 C961.1,178.94 963.92,176.59 969.57,174.24 C975.22,171.88 987.22,169.53 992.17,170 C997.11,170.47 997.81,173.53 999.23,177.06 C1000.64,180.59 1000.64,187.65 1000.64,191.18 C1000.64,194.71 1001.81,196.36 999.23,198.24 C996.64,200.12 989.81,200.12 985.11,202.48 C980.4,204.83 975.46,210.48 970.99,212.36 C966.51,214.24 961.34,214.95 958.28,213.77 C955.22,212.6 952.63,210.24 952.63,205.3Z" fill="none" stroke="#485d7e" stroke-width="9" stroke-linejoin="round"/>
<path d="M924.39,243.43 C926.27,240.13 934.27,241.78 938.51,242.01 C942.74,242.25 948.39,242.25 949.8,244.84 C951.22,247.43 948.86,253.55 946.98,257.55 C945.1,261.55 940.86,265.55 938.51,268.84 C936.15,272.14 934.74,278.49 932.86,277.31 C930.98,276.14 928.62,267.43 927.21,261.78 C925.8,256.13 922.51,246.72 924.39,243.43Z" fill="none" stroke="#485d7e" stroke-width="9" stroke-linejoin="round"/>
<path d="M952.63,268.84 C953.81,266.02 955.92,263.66 958.28,263.19 C960.63,262.72 963.92,262.72 966.75,266.02 C969.57,269.31 973.34,278.49 975.22,282.96 C977.1,287.43 978.99,290.49 978.05,292.85 C977.1,295.2 973.1,295.91 969.57,297.08 C966.04,298.26 959.45,300.38 956.86,299.91 C954.28,299.44 954.98,297.55 954.04,294.26 C953.1,290.96 951.45,284.37 951.22,280.14 C950.98,275.9 951.45,271.67 952.63,268.84Z" fill="none" stroke="#485d7e" stroke-width="9" stroke-linejoin="round"/>
<path d="M976.63,240.6 C977.1,234.72 981.1,231.19 983.69,226.48 C986.28,221.77 988.87,215.89 992.17,212.36 C995.46,208.83 1001.11,204.12 1003.46,205.3 C1005.82,206.48 1006.76,213.54 1006.29,219.42 C1005.82,225.3 1002.05,232.36 1000.64,240.6 C999.23,248.84 998.52,259.43 997.81,268.84 C997.11,278.26 997.34,290.02 996.4,297.08 C995.46,304.14 993.81,313.56 992.17,311.2 C990.52,308.85 988.4,291.2 986.52,282.96 C984.63,274.73 982.52,268.84 980.87,261.78 C979.22,254.72 976.16,246.48 976.63,240.6Z" fill="none" stroke="#485d7e" stroke-width="9" stroke-linejoin="round"/>
<path d="M749.3,370.23 C735.65,365.1 752.12,347.87 754.94,339.44 C757.77,331.02 762.48,322.97 766.24,319.68 C770.01,316.38 774.01,318.73 777.54,319.68 C781.07,320.62 783.42,323.21 787.42,325.32 C791.42,327.44 798.01,332.38 801.54,332.38 C805.07,332.38 806.01,325.09 808.6,325.32 C811.19,325.56 814.25,330.74 817.07,333.8 C819.9,336.85 822.72,340.39 825.55,343.68 C828.37,346.97 832.14,349.14 834.02,353.56 C835.9,357.99 850.96,367.45 836.84,370.23 C822.72,373 762.95,375.36 749.3,370.23Z" fill="none" stroke="#485d7e" stroke-width="9" stroke-linejoin="round"/>
<path d="M860.85,370.23 C854.96,363.92 857.32,341.04 858.02,332.38 C858.73,323.72 863.44,325.32 865.08,318.26 C866.73,311.2 866.49,293.55 867.91,290.02 C869.32,286.49 871.67,293.55 873.55,297.08 C875.44,300.61 877.09,306.5 879.2,311.2 C881.32,315.91 884.15,319.44 886.26,325.32 C888.38,331.21 890.73,339.02 891.91,346.5 C893.09,353.99 898.5,366.27 893.32,370.23 C888.15,374.18 866.73,376.53 860.85,370.23Z" fill="none" stroke="#485d7e" stroke-width="9" stroke-linejoin="round"/>
<path d="M880.62,282.96 C881.32,280.61 887.2,281.08 890.5,282.96 C893.79,284.85 897.56,290.73 900.38,294.26 C903.21,297.79 905.56,300.14 907.44,304.14 C909.33,308.14 910.5,313.56 911.68,318.26 C912.86,322.97 913.33,327.68 914.5,332.38 C915.68,337.09 916.86,342.97 918.74,346.5 C920.62,350.03 924.39,349.61 925.8,353.56 C927.21,357.52 930.27,367.45 927.21,370.23 C924.15,373 910.97,373 907.44,370.23 C903.91,367.45 907.21,358.69 906.03,353.56 C904.85,348.43 902.5,345.33 900.38,339.44 C898.27,333.56 895.68,325.32 893.32,318.26 C890.97,311.2 888.38,302.97 886.26,297.08 C884.15,291.2 879.91,285.32 880.62,282.96Z" fill="none" stroke="#485d7e" stroke-width="9" stroke-linejoin="round"/>
<path d="M931.45,370.23 C925.8,362.74 931.45,334.22 932.86,325.32 C934.27,316.43 937.57,316.85 939.92,316.85 C942.27,316.85 943.92,322.03 946.98,325.32 C950.04,328.62 955.45,331.91 958.28,336.62 C961.1,341.33 962.51,347.96 963.92,353.56 C965.34,359.17 972.16,367.45 966.75,370.23 C961.34,373 937.1,377.71 931.45,370.23Z" fill="none" stroke="#485d7e" stroke-width="9" stroke-linejoin="round"/>
<path d="M978.05,370.23 C971.06,363.92 976.63,341.04 978.05,332.38 C979.46,323.72 983.46,321.79 986.52,318.26 C989.58,314.73 994.52,310.03 996.4,311.2 C998.28,312.38 996.64,321.79 997.81,325.32 C998.99,328.85 1000.87,330.5 1003.46,332.38 C1006.05,334.27 1010.59,335.44 1013.35,336.62 C1016.1,337.8 1018.88,333.84 1019.98,339.44 C1021.09,345.04 1026.97,365.1 1019.98,370.23 C1012.99,375.36 985.03,376.53 978.05,370.23Z" fill="none" stroke="#485d7e" stroke-width="9" stroke-linejoin="round"/>
<path d="M1006.29,240.6 C1009.04,231.19 1017.7,215.89 1019.98,226.48 C1022.27,237.07 1022.27,290.02 1019.98,304.14 C1017.7,318.26 1009.04,314.73 1006.29,311.2 C1003.53,307.67 1003.46,294.73 1003.46,282.96 C1003.46,271.2 1003.53,250.02 1006.29,240.6Z" fill="none" stroke="#485d7e" stroke-width="9" stroke-linejoin="round"/>
<path d="M1021.22,310.21 C1022.15,307.64 1024.49,302.27 1026.83,301.8 C1029.16,301.33 1032.67,304.14 1035.24,307.41 C1037.81,310.68 1040.85,316.29 1042.25,321.43 C1043.65,326.57 1044.35,334.52 1043.65,338.26 C1042.95,341.99 1040.85,345.03 1038.04,343.86 C1035.24,342.7 1029.63,335.69 1026.83,331.25 C1024.02,326.81 1022.15,320.73 1021.22,317.22 C1020.28,313.72 1020.28,312.78 1021.22,310.21Z" fill="none" stroke="#485d7e" stroke-width="9" stroke-linejoin="round"/>
<path d="M1038.04,251.32 C1038.98,248.99 1041.78,251.32 1046.46,254.13 C1051.13,256.93 1060.48,264.41 1066.09,268.15 C1071.69,271.89 1075.9,274.23 1080.11,276.56 C1084.31,278.9 1089.92,277.73 1091.32,282.17 C1092.73,286.61 1089.69,297.36 1088.52,303.2 C1087.35,309.04 1084.78,311.38 1084.31,317.22 C1083.85,323.07 1086.42,332.41 1085.72,338.26 C1085.01,344.1 1082.91,351.81 1080.11,352.28 C1077.3,352.74 1072.39,345.73 1068.89,341.06 C1065.38,336.39 1062.35,331.71 1059.07,324.23 C1055.8,316.76 1052.3,305.54 1049.26,296.19 C1046.22,286.84 1042.72,275.63 1040.85,268.15 C1038.98,260.67 1037.11,253.66 1038.04,251.32Z" fill="none" stroke="#485d7e" stroke-width="9" stroke-linejoin="round"/>
<path d="M1099.74,259.74 C1100.2,257.4 1104.41,260.2 1108.15,256.93 C1111.89,253.66 1117.96,245.72 1122.17,240.11 C1126.38,234.5 1129.88,226.09 1133.39,223.28 C1136.89,220.48 1139.7,221.65 1143.2,223.28 C1146.71,224.92 1151.85,227.95 1154.42,233.1 C1156.99,238.24 1156.99,247.12 1158.63,254.13 C1160.26,261.14 1162.6,269.08 1164.23,275.16 C1165.87,281.24 1168.91,286.61 1168.44,290.58 C1167.97,294.56 1163.07,296.19 1161.43,299 C1159.79,301.8 1160.5,304.14 1158.63,307.41 C1156.76,310.68 1153.25,318.16 1150.21,318.63 C1147.18,319.09 1143.2,313.95 1140.4,310.21 C1137.59,306.47 1135.49,300.87 1133.39,296.19 C1131.28,291.52 1129.88,285.44 1127.78,282.17 C1125.68,278.9 1122.64,277.03 1120.77,276.56 C1118.9,276.09 1117.5,277.96 1116.56,279.37 C1115.63,280.77 1114.23,282.17 1115.16,284.97 C1116.09,287.78 1120.77,291.99 1122.17,296.19 C1123.57,300.4 1124.04,306.01 1123.57,310.21 C1123.11,314.42 1121.47,317.92 1119.37,321.43 C1117.26,324.94 1114.23,330.31 1110.95,331.25 C1107.68,332.18 1101.37,330.54 1099.74,327.04 C1098.1,323.53 1099.74,315.35 1101.14,310.21 C1102.54,305.07 1106.98,300.87 1108.15,296.19 C1109.32,291.52 1108.62,286.38 1108.15,282.17 C1107.68,277.96 1106.75,274.69 1105.34,270.95 C1103.94,267.21 1099.27,262.07 1099.74,259.74Z" fill="none" stroke="#485d7e" stroke-width="9" stroke-linejoin="round"/>
<path d="M1174.05,254.13 C1173.11,247.12 1173.35,225.38 1175.45,219.07 C1177.55,212.77 1182.93,215.8 1186.67,216.27 C1190.41,216.74 1195.78,217.91 1197.89,221.88 C1199.99,225.85 1199.29,233.56 1199.29,240.11 C1199.29,246.65 1198.35,254.13 1197.89,261.14 C1197.42,268.15 1196.25,275.16 1196.48,282.17 C1196.72,289.18 1198.59,296.19 1199.29,303.2 C1199.99,310.21 1200.92,319.09 1200.69,324.23 C1200.46,329.38 1199.76,332.65 1197.89,334.05 C1196.02,335.45 1191.58,336.62 1189.47,332.65 C1187.37,328.67 1186.2,318.63 1185.27,310.21 C1184.33,301.8 1184.57,290.35 1183.86,282.17 C1183.16,273.99 1182.7,265.81 1181.06,261.14 C1179.42,256.46 1174.98,261.14 1174.05,254.13Z" fill="none" stroke="#485d7e" stroke-width="9" stroke-linejoin="round"/>
<path d="M1213.31,268.15 C1213.31,258.8 1213.08,241.74 1214.71,233.1 C1216.35,224.45 1220.09,219.31 1223.12,216.27 C1226.16,213.23 1231.07,212.06 1232.94,214.87 C1234.81,217.67 1234.34,225.38 1234.34,233.1 C1234.34,240.81 1232.94,251.79 1232.94,261.14 C1232.94,270.49 1235.51,282.17 1234.34,289.18 C1233.17,296.19 1228.27,300.16 1225.93,303.2 C1223.59,306.24 1222.19,309.75 1220.32,307.41 C1218.45,305.07 1215.88,295.72 1214.71,289.18 C1213.54,282.64 1213.31,277.5 1213.31,268.15Z" fill="none" stroke="#485d7e" stroke-width="9" stroke-linejoin="round"/>
<path d="M1246.96,170 C1250.93,160.65 1267.06,165.33 1270.8,170 C1274.54,174.67 1271.73,188.23 1269.39,198.04 C1267.06,207.86 1259.81,219.54 1256.78,228.89 C1253.74,238.24 1252.8,254.6 1251.17,254.13 C1249.53,253.66 1247.66,240.11 1246.96,226.09 C1246.26,212.06 1242.99,179.35 1246.96,170Z" fill="none" stroke="#485d7e" stroke-width="9" stroke-linejoin="round"/>
<path d="M1265.19,254.13 C1265.42,249.92 1266.47,244.31 1269.39,242.91 C1272.32,241.51 1280.49,238.47 1282.71,245.72 C1284.93,252.96 1284,279.6 1282.71,286.38 C1281.43,293.15 1277.46,289.41 1275,286.38 C1272.55,283.34 1269.63,273.52 1267.99,268.15 C1266.36,262.77 1264.95,258.33 1265.19,254.13Z" fill="none" stroke="#485d7e" stroke-width="9" stroke-linejoin="round"/>
<path d="M1246.96,304.6 C1247.89,300.87 1253.04,302.03 1256.78,301.8 C1260.51,301.57 1267.29,299.46 1269.39,303.2 C1271.5,306.94 1271.03,320.26 1269.39,324.23 C1267.76,328.21 1262.62,327.04 1259.58,327.04 C1256.54,327.04 1253.27,327.97 1251.17,324.23 C1249.06,320.5 1246.03,308.34 1246.96,304.6Z" fill="none" stroke="#485d7e" stroke-width="9" stroke-linejoin="round"/>
<path d="M1136.19,170 C1146.01,167.66 1188.3,169.07 1196.48,170 C1204.66,170.93 1189.47,174.21 1185.27,175.61 C1181.06,177.01 1175.22,176.54 1171.25,178.41 C1167.27,180.28 1163.77,183.32 1161.43,186.83 C1159.09,190.33 1160.03,198.28 1157.22,199.44 C1154.42,200.61 1147.88,196.41 1144.6,193.84 C1141.33,191.27 1139,187.99 1137.59,184.02 C1136.19,180.05 1126.38,172.34 1136.19,170Z" fill="none" stroke="#485d7e" stroke-width="9" stroke-linejoin="round"/>
<path d="M1197.89,170 C1201.39,168.13 1215.65,167.66 1220.32,170 C1224.99,172.34 1225.23,179.35 1225.93,184.02 C1226.63,188.7 1227.1,195.24 1224.53,198.04 C1221.96,200.85 1214.01,201.31 1210.5,200.85 C1207,200.38 1205.36,198.51 1203.49,195.24 C1201.62,191.97 1200.22,185.42 1199.29,181.22 C1198.35,177.01 1194.38,171.87 1197.89,170Z" fill="none" stroke="#485d7e" stroke-width="9" stroke-linejoin="round"/>
<path d="M1010,170 C1014.67,168.6 1040.61,168.13 1046.46,170 C1052.3,171.87 1047.62,178.88 1045.05,181.22 C1042.48,183.55 1035.47,184.49 1031.03,184.02 C1026.59,183.55 1021.92,180.75 1018.41,178.41 C1014.91,176.08 1005.33,171.4 1010,170Z" fill="none" stroke="#485d7e" stroke-width="9" stroke-linejoin="round"/>
<path d="M1101.14,370.5 C1098.33,366.3 1101.37,350.17 1102.54,345.27 C1103.71,340.36 1105.81,340.36 1108.15,341.06 C1110.49,341.76 1114.69,344.57 1116.56,349.47 C1118.43,354.38 1121.94,367 1119.37,370.5 C1116.8,374.01 1103.94,374.71 1101.14,370.5Z" fill="none" stroke="#485d7e" stroke-width="9" stroke-linejoin="round"/>
<path d="M1136.19,370.5 C1132.92,366.77 1137.59,352.28 1139,348.07 C1140.4,343.86 1142.27,344.57 1144.6,345.27 C1146.94,345.97 1150.68,348.07 1153.02,352.28 C1155.35,356.48 1161.43,367.47 1158.63,370.5 C1155.82,373.54 1139.46,374.24 1136.19,370.5Z" fill="none" stroke="#485d7e" stroke-width="9" stroke-linejoin="round"/>
<path d="M1182.46,370.5 C1180.36,368.17 1182.23,358.59 1183.86,356.48 C1185.5,354.38 1190.17,355.55 1192.28,357.89 C1194.38,360.22 1198.12,368.4 1196.48,370.5 C1194.85,372.61 1184.57,372.84 1182.46,370.5Z" fill="none" stroke="#485d7e" stroke-width="9" stroke-linejoin="round"/>
<path d="M1209.1,370.5 C1207.47,367.47 1210.5,357.65 1211.91,352.28 C1213.31,346.9 1216.11,338.26 1217.52,338.26 C1218.92,338.26 1219.62,346.9 1220.32,352.28 C1221.02,357.65 1223.59,367.47 1221.72,370.5 C1219.85,373.54 1210.74,373.54 1209.1,370.5Z" fill="none" stroke="#485d7e" stroke-width="9" stroke-linejoin="round"/>
<path d="M1010,334.05 C1011.4,328.67 1015.37,334.52 1018.41,338.26 C1021.45,341.99 1026.12,351.11 1028.23,356.48 C1030.33,361.86 1034.07,368.17 1031.03,370.5 C1027.99,372.84 1013.51,376.58 1010,370.5 C1006.49,364.43 1008.6,339.42 1010,334.05Z" fill="none" stroke="#485d7e" stroke-width="9" stroke-linejoin="round"/>
<path d="M1057.67,370.5 C1053.47,369.34 1056.74,364.66 1060.48,363.49 C1064.22,362.33 1075.9,362.33 1080.11,363.49 C1084.31,364.66 1089.45,369.34 1085.72,370.5 C1081.98,371.67 1061.88,371.67 1057.67,370.5Z" fill="none" stroke="#485d7e" stroke-width="9" stroke-linejoin="round"/>
<path d="M919.69,4.69 C925.8,-13.93 949.59,2.35 956.31,4.69 C963.04,7.04 959.13,11.74 960.07,18.78 C961.01,25.82 961.01,40.69 961.95,46.95 C962.89,53.21 964.77,50.08 965.7,56.34 C966.64,62.6 965.7,77.62 967.58,84.51 C969.46,91.39 977.91,94.21 976.97,97.65 C976.03,101.1 967.58,103.91 961.95,105.16 C956.31,106.42 948.49,103.91 943.17,105.16 C937.85,106.42 933.94,110.8 930.02,112.68 C926.11,114.55 921.42,134.43 919.69,116.43 C917.97,98.44 913.59,23.32 919.69,4.69Z" fill="#636363" stroke="none"/>
<path d="M984.48,60.09 C985.11,54.15 987.93,43.19 990.12,39.44 C992.31,35.68 995.75,34.74 997.63,37.56 C999.51,40.38 1001.07,48.51 1001.38,56.34 C1001.7,64.16 1000.76,78.25 999.51,84.51 C998.26,90.77 996.06,95.46 993.87,93.9 C991.68,92.33 987.93,80.75 986.36,75.12 C984.8,69.48 983.86,66.04 984.48,60.09Z" fill="#636363" stroke="none"/>
<path d="M1012.65,4.69 C1016.72,0.78 1034.25,2.35 1038.94,4.69 C1043.64,7.04 1040.2,13.3 1040.82,18.78 C1041.45,24.26 1043.64,33.8 1042.7,37.56 C1041.76,41.31 1038.32,41 1035.19,41.31 C1032.06,41.63 1027.36,41.63 1023.92,39.44 C1020.48,37.25 1016.41,33.96 1014.53,28.17 C1012.65,22.38 1008.58,8.61 1012.65,4.69Z" fill="#636363" stroke="none"/>
<path d="M1084.01,20.66 C1084.95,17.53 1092.15,17.21 1095.28,15.02 C1098.41,12.83 1101.54,9.23 1102.79,7.51 C1104.05,5.79 1102.17,2.82 1102.79,4.69 C1103.42,6.57 1106.55,13.93 1106.55,18.78 C1106.55,23.63 1104.67,29.42 1102.79,33.8 C1100.92,38.18 1097.47,45.07 1095.28,45.07 C1093.09,45.07 1091.53,37.87 1089.65,33.8 C1087.77,29.73 1083.08,23.79 1084.01,20.66Z" fill="#636363" stroke="none"/>
<path d="M1029.55,112.68 C1028.3,104.85 1029.87,84.51 1031.43,75.12 C1033,65.73 1035.5,60.41 1038.94,56.34 C1042.39,52.27 1049.59,47.57 1052.09,50.7 C1054.59,53.83 1053.03,66.35 1053.97,75.12 C1054.91,83.88 1055.22,95.46 1057.72,103.29 C1060.23,111.11 1066.17,115.81 1068.99,122.07 C1071.81,128.33 1074.31,133.65 1074.62,140.85 C1074.94,148.04 1072.75,161.19 1070.87,165.26 C1068.99,169.33 1065.55,167.76 1063.36,165.26 C1061.17,162.75 1060.54,155.87 1057.72,150.23 C1054.91,144.6 1049.59,136.15 1046.46,131.46 C1043.33,126.76 1041.76,125.2 1038.94,122.07 C1036.13,118.94 1030.81,120.5 1029.55,112.68Z" fill="#636363" stroke="none"/>
<path d="M1091.53,75.12 C1093.4,69.48 1097.16,64.16 1100.92,60.09 C1104.67,56.03 1109.05,52.9 1114.06,50.7 C1119.07,48.51 1126.58,46.95 1130.96,46.95 C1135.34,46.95 1137.54,46.95 1140.35,50.7 C1143.17,54.46 1146.3,62.28 1147.86,69.48 C1149.43,76.68 1150.99,86.7 1149.74,93.9 C1148.49,101.1 1144.42,108.61 1140.35,112.68 C1136.28,116.74 1128.46,118.94 1125.33,118.31 C1122.2,117.68 1123.45,111.42 1121.57,108.92 C1119.69,106.42 1116.56,102.66 1114.06,103.29 C1111.56,103.91 1109.68,111.11 1106.55,112.68 C1103.42,114.24 1098.1,115.81 1095.28,112.68 C1092.46,109.55 1090.27,100.16 1089.65,93.9 C1089.02,87.64 1089.65,80.75 1091.53,75.12Z" fill="#636363" stroke="none"/>
<path d="M1151.62,18.78 C1152.56,13.15 1154.75,9.39 1159.13,7.51 C1163.51,5.63 1174.15,5.01 1177.91,7.51 C1181.67,10.02 1182.29,16.9 1181.67,22.54 C1181.04,28.17 1177.28,36.93 1174.15,41.31 C1171.03,45.7 1166.33,48.83 1162.89,48.83 C1159.44,48.83 1155.38,46.32 1153.5,41.31 C1151.62,36.31 1150.68,24.41 1151.62,18.78Z" fill="#636363" stroke="none"/>
<path d="M1166.64,71.36 C1167.58,67.61 1171.65,66.35 1174.15,67.61 C1176.66,68.86 1179.48,74.49 1181.67,78.87 C1183.86,83.26 1185.74,89.51 1187.3,93.9 C1188.87,98.28 1190.74,100.78 1191.06,105.16 C1191.37,109.55 1190.74,118 1189.18,120.19 C1187.61,122.38 1184.17,120.81 1181.67,118.31 C1179.16,115.81 1176.35,109.86 1174.15,105.16 C1171.96,100.47 1169.77,95.77 1168.52,90.14 C1167.27,84.51 1165.7,75.12 1166.64,71.36Z" fill="#636363" stroke="none"/>
<path d="M1207.96,131.46 C1207.96,127.39 1209.21,123.94 1211.71,122.07 C1214.22,120.19 1219.23,118.62 1222.98,120.19 C1226.74,121.75 1232.37,127.7 1234.25,131.46 C1236.13,135.21 1236.13,139.59 1234.25,142.72 C1232.37,145.85 1226.74,149.61 1222.98,150.23 C1219.23,150.86 1214.22,149.61 1211.71,146.48 C1209.21,143.35 1207.96,135.52 1207.96,131.46Z" fill="#636363" stroke="none"/>
<path d="M1224.86,5.63 C1229.87,1.88 1247.39,1.88 1253.03,5.63 C1258.66,9.39 1258.66,21.28 1258.66,28.17 C1258.66,35.05 1253.03,38.5 1253.03,46.95 C1253.03,55.4 1256.78,69.8 1258.66,78.87 C1260.54,87.95 1265.23,97.03 1264.3,101.41 C1263.36,105.79 1258.04,105.16 1253.03,105.16 C1248.02,105.16 1240.51,102.35 1234.25,101.41 C1227.99,100.47 1219.23,102.35 1215.47,99.53 C1211.71,96.71 1211.4,91.71 1211.71,84.51 C1212.03,77.31 1215.47,65.73 1217.35,56.34 C1219.23,46.95 1221.73,36.62 1222.98,28.17 C1224.23,19.72 1219.85,9.39 1224.86,5.63Z" fill="#636363" stroke="none"/>
<path d="M1262.42,5.63 C1265.7,1.88 1278.85,0.31 1282.14,5.63 C1285.42,10.95 1283.86,31.92 1282.14,37.56 C1280.41,43.19 1275.09,41 1271.81,39.44 C1268.52,37.87 1263.98,33.8 1262.42,28.17 C1260.85,22.54 1259.13,9.39 1262.42,5.63Z" fill="#636363" stroke="none"/>
<path d="M926.27,150.23 C928.15,140.53 933.15,139.59 937.54,137.09 C941.92,134.59 948.8,133.65 952.56,135.21 C956.31,136.78 959.13,142.41 960.07,146.48 C961.01,150.55 960.07,154.3 958.19,159.62 C956.31,164.95 951.31,172.46 948.8,178.4 C946.3,184.35 946.92,192.49 943.17,195.31 C939.41,198.12 929.08,202.82 926.27,195.31 C923.45,187.79 924.39,159.94 926.27,150.23Z" fill="#636363" stroke="none"/>
<path d="M1008.9,165.26 C1009.21,161.19 1012.65,156.49 1016.41,153.99 C1020.16,151.49 1026.74,150.23 1031.43,150.23 C1036.13,150.23 1042.07,150.86 1044.58,153.99 C1047.08,157.12 1047.08,164.63 1046.46,169.01 C1045.83,173.4 1043.95,177.78 1040.82,180.28 C1037.69,182.79 1032.06,184.35 1027.68,184.04 C1023.29,183.72 1017.66,181.53 1014.53,178.4 C1011.4,175.27 1008.58,169.33 1008.9,165.26Z" fill="#636363" stroke="none"/>
<path d="M1136.6,195.31 C1122.51,187.79 1137.85,160.25 1138.47,150.23 C1139.1,140.22 1137.54,138.34 1140.35,135.21 C1143.17,132.08 1149.74,131.46 1155.38,131.46 C1161.01,131.46 1168.83,132.08 1174.15,135.21 C1179.48,138.34 1183.54,145.23 1187.3,150.23 C1191.06,155.24 1192.62,161.5 1196.69,165.26 C1200.76,169.01 1207.33,167.76 1211.71,172.77 C1216.1,177.78 1235.5,191.55 1222.98,195.31 C1210.46,199.06 1150.68,202.82 1136.6,195.31Z" fill="#636363" stroke="none"/>
<path d="M961.95,195.31 C956.63,192.49 963.2,185.92 965.7,178.4 C968.21,170.89 973.53,158.06 976.97,150.23 C980.41,142.41 983.54,137.72 986.36,131.46 C989.18,125.2 992,117.37 993.87,112.68 C995.75,107.98 996.06,103.29 997.63,103.29 C999.19,103.29 1002.01,107.98 1003.26,112.68 C1004.51,117.37 1005.77,122.07 1005.14,131.46 C1004.51,140.85 1000.76,158.37 999.51,169.01 C998.26,179.66 1003.89,190.92 997.63,195.31 C991.37,199.69 967.27,198.12 961.95,195.31Z" fill="#636363" stroke="none"/>
<path d="M1238,169.01 C1239.26,162.75 1246.77,156.49 1249.27,150.23 C1251.78,143.97 1247.55,134.59 1253.03,131.46 C1258.51,128.33 1277.28,120.81 1282.14,131.46 C1286.99,142.1 1284.8,184.66 1282.14,195.31 C1279.48,205.95 1272.9,196.56 1266.17,195.31 C1259.44,194.05 1246.46,192.18 1241.76,187.79 C1237.07,183.41 1236.75,175.27 1238,169.01Z" fill="#636363" stroke="none"/>
<path d="M1264.3,105.16 C1266.64,102.35 1279.16,102.03 1282.14,105.16 C1285.11,108.29 1284.48,121.13 1282.14,123.94 C1279.79,126.76 1271.03,125.2 1268.05,122.07 C1265.08,118.94 1261.95,107.98 1264.3,105.16Z" fill="#636363" stroke="none"/>
<path d="M742.94,179.88 C747.53,171.65 765.65,176.82 770.48,179.88 C775.3,182.94 772.12,192.83 771.89,198.24 C771.65,203.65 771.18,208.12 769.06,212.36 C766.95,216.6 762.24,220.6 759.18,223.66 C756.12,226.72 753.41,229.78 750.71,230.72 C748,231.66 744.24,237.78 742.94,229.31 C741.65,220.83 738.35,188.12 742.94,179.88Z" fill="#636363" stroke="none"/>
<path d="M762,254.72 C762,249.07 763.65,243.9 766.24,237.78 C768.83,231.66 774.48,219.89 777.54,218.01 C780.6,216.13 782.95,222.72 784.6,226.48 C786.24,230.25 786.95,233.54 787.42,240.6 C787.89,247.66 788.13,262.02 787.42,268.84 C786.72,275.67 784.83,279.2 783.18,281.55 C781.54,283.9 780.36,284.61 777.54,282.96 C774.71,281.32 768.83,276.37 766.24,271.67 C763.65,266.96 762,260.37 762,254.72Z" fill="#636363" stroke="none"/>
<path d="M794.48,179.88 C802.01,176.82 831.9,176.82 839.67,179.88 C847.43,182.94 839.67,194 841.08,198.24 C842.49,202.48 846.73,201.77 848.14,205.3 C849.55,208.83 850.26,214.71 849.55,219.42 C848.84,224.13 846.02,229.31 843.9,233.54 C841.78,237.78 839.2,241.78 836.84,244.84 C834.49,247.9 832.14,248.84 829.78,251.9 C827.43,254.96 825.55,261.78 822.72,263.19 C819.9,264.61 815.66,262.25 812.84,260.37 C810.01,258.49 807.9,256.37 805.78,251.9 C803.66,247.43 801.78,240.13 800.13,233.54 C798.48,226.95 796.83,218.24 795.89,212.36 C794.95,206.48 794.72,203.65 794.48,198.24 C794.25,192.83 786.95,182.94 794.48,179.88Z" fill="#636363" stroke="none"/>
<path d="M865.08,179.88 C872.38,174.47 902.03,174.47 908.86,179.88 C915.68,185.3 907.91,202.71 906.03,212.36 C904.15,222.01 902.03,233.54 897.56,237.78 C893.09,242.01 884.15,237.78 879.2,237.78 C874.26,237.78 870.26,242.01 867.91,237.78 C865.55,233.54 865.55,222.01 865.08,212.36 C864.61,202.71 857.79,185.3 865.08,179.88Z" fill="#636363" stroke="none"/>
<path d="M865.08,240.6 C866.26,236.13 872.38,237.78 873.55,240.6 C874.73,243.43 873.32,253.07 872.14,257.55 C870.97,262.02 867.67,270.25 866.49,267.43 C865.32,264.61 863.91,245.07 865.08,240.6Z" fill="#636363" stroke="none"/>
<path d="M925.8,170 C927.92,164.12 936.39,167.65 938.51,170 C940.63,172.35 938.98,179.41 938.51,184.12 C938.04,188.83 935.68,193.53 935.68,198.24 C935.68,202.95 937.57,208.12 938.51,212.36 C939.45,216.6 942.27,222.48 941.33,223.66 C940.39,224.83 935.45,222.48 932.86,219.42 C930.27,216.36 926.98,213.54 925.8,205.3 C924.62,197.06 923.68,175.88 925.8,170Z" fill="#636363" stroke="none"/>
<path d="M952.63,205.3 C952.63,200.36 955.45,189.3 958.28,184.12 C961.1,178.94 963.92,176.59 969.57,174.24 C975.22,171.88 987.22,169.53 992.17,170 C997.11,170.47 997.81,173.53 999.23,177.06 C1000.64,180.59 1000.64,187.65 1000.64,191.18 C1000.64,194.71 1001.81,196.36 999.23,198.24 C996.64,200.12 989.81,200.12 985.11,202.48 C980.4,204.83 975.46,210.48 970.99,212.36 C966.51,214.24 961.34,214.95 958.28,213.77 C955.22,212.6 952.63,210.24 952.63,205.3Z" fill="#636363" stroke="none"/>
<path d="M924.39,243.43 C926.27,240.13 934.27,241.78 938.51,242.01 C942.74,242.25 948.39,242.25 949.8,244.84 C951.22,247.43 948.86,253.55 946.98,257.55 C945.1,261.55 940.86,265.55 938.51,268.84 C936.15,272.14 934.74,278.49 932.86,277.31 C930.98,276.14 928.62,267.43 927.21,261.78 C925.8,256.13 922.51,246.72 924.39,243.43Z" fill="#636363" stroke="none"/>
<path d="M952.63,268.84 C953.81,266.02 955.92,263.66 958.28,263.19 C960.63,262.72 963.92,262.72 966.75,266.02 C969.57,269.31 973.34,278.49 975.22,282.96 C977.1,287.43 978.99,290.49 978.05,292.85 C977.1,295.2 973.1,295.91 969.57,297.08 C966.04,298.26 959.45,300.38 956.86,299.91 C954.28,299.44 954.98,297.55 954.04,294.26 C953.1,290.96 951.45,284.37 951.22,280.14 C950.98,275.9 951.45,271.67 952.63,268.84Z" fill="#636363" stroke="none"/>
<path d="M976.63,240.6 C977.1,234.72 981.1,231.19 983.69,226.48 C986.28,221.77 988.87,215.89 992.17,212.36 C995.46,208.83 1001.11,204.12 1003.46,205.3 C1005.82,206.48 1006.76,213.54 1006.29,219.42 C1005.82,225.3 1002.05,232.36 1000.64,240.6 C999.23,248.84 998.52,259.43 997.81,268.84 C997.11,278.26 997.34,290.02 996.4,297.08 C995.46,304.14 993.81,313.56 992.17,311.2 C990.52,308.85 988.4,291.2 986.52,282.96 C984.63,274.73 982.52,268.84 980.87,261.78 C979.22,254.72 976.16,246.48 976.63,240.6Z" fill="#636363" stroke="none"/>
<path d="M749.3,370.23 C735.65,365.1 752.12,347.87 754.94,339.44 C757.77,331.02 762.48,322.97 766.24,319.68 C770.01,316.38 774.01,318.73 777.54,319.68 C781.07,320.62 783.42,323.21 787.42,325.32 C791.42,327.44 798.01,332.38 801.54,332.38 C805.07,332.38 806.01,325.09 808.6,325.32 C811.19,325.56 814.25,330.74 817.07,333.8 C819.9,336.85 822.72,340.39 825.55,343.68 C828.37,346.97 832.14,349.14 834.02,353.56 C835.9,357.99 850.96,367.45 836.84,370.23 C822.72,373 762.95,375.36 749.3,370.23Z" fill="#636363" stroke="none"/>
<path d="M860.85,370.23 C854.96,363.92 857.32,341.04 858.02,332.38 C858.73,323.72 863.44,325.32 865.08,318.26 C866.73,311.2 866.49,293.55 867.91,290.02 C869.32,286.49 871.67,293.55 873.55,297.08 C875.44,300.61 877.09,306.5 879.2,311.2 C881.32,315.91 884.15,319.44 886.26,325.32 C888.38,331.21 890.73,339.02 891.91,346.5 C893.09,353.99 898.5,366.27 893.32,370.23 C888.15,374.18 866.73,376.53 860.85,370.23Z" fill="#636363" stroke="none"/>
<path d="M880.62,282.96 C881.32,280.61 887.2,281.08 890.5,282.96 C893.79,284.85 897.56,290.73 900.38,294.26 C903.21,297.79 905.56,300.14 907.44,304.14 C909.33,308.14 910.5,313.56 911.68,318.26 C912.86,322.97 913.33,327.68 914.5,332.38 C915.68,337.09 916.86,342.97 918.74,346.5 C920.62,350.03 924.39,349.61 925.8,353.56 C927.21,357.52 930.27,367.45 927.21,370.23 C924.15,373 910.97,373 907.44,370.23 C903.91,367.45 907.21,358.69 906.03,353.56 C904.85,348.43 902.5,345.33 900.38,339.44 C898.27,333.56 895.68,325.32 893.32,318.26 C890.97,311.2 888.38,302.97 886.26,297.08 C884.15,291.2 879.91,285.32 880.62,282.96Z" fill="#636363" stroke="none"/>
<path d="M931.45,370.23 C925.8,362.74 931.45,334.22 932.86,325.32 C934.27,316.43 937.57,316.85 939.92,316.85 C942.27,316.85 943.92,322.03 946.98,325.32 C950.04,328.62 955.45,331.91 958.28,336.62 C961.1,341.33 962.51,347.96 963.92,353.56 C965.34,359.17 972.16,367.45 966.75,370.23 C961.34,373 937.1,377.71 931.45,370.23Z" fill="#636363" stroke="none"/>
<path d="M978.05,370.23 C971.06,363.92 976.63,341.04 978.05,332.38 C979.46,323.72 983.46,321.79 986.52,318.26 C989.58,314.73 994.52,310.03 996.4,311.2 C998.28,312.38 996.64,321.79 997.81,325.32 C998.99,328.85 1000.87,330.5 1003.46,332.38 C1006.05,334.27 1010.59,335.44 1013.35,336.62 C1016.1,337.8 1018.88,333.84 1019.98,339.44 C1021.09,345.04 1026.97,365.1 1019.98,370.23 C1012.99,375.36 985.03,376.53 978.05,370.23Z" fill="#636363" stroke="none"/>
<path d="M1006.29,240.6 C1009.04,231.19 1017.7,215.89 1019.98,226.48 C1022.27,237.07 1022.27,290.02 1019.98,304.14 C1017.7,318.26 1009.04,314.73 1006.29,311.2 C1003.53,307.67 1003.46,294.73 1003.46,282.96 C1003.46,271.2 1003.53,250.02 1006.29,240.6Z" fill="#636363" stroke="none"/>
<path d="M1021.22,310.21 C1022.15,307.64 1024.49,302.27 1026.83,301.8 C1029.16,301.33 1032.67,304.14 1035.24,307.41 C1037.81,310.68 1040.85,316.29 1042.25,321.43 C1043.65,326.57 1044.35,334.52 1043.65,338.26 C1042.95,341.99 1040.85,345.03 1038.04,343.86 C1035.24,342.7 1029.63,335.69 1026.83,331.25 C1024.02,326.81 1022.15,320.73 1021.22,317.22 C1020.28,313.72 1020.28,312.78 1021.22,310.21Z" fill="#636363" stroke="none"/>
<path d="M1038.04,251.32 C1038.98,248.99 1041.78,251.32 1046.46,254.13 C1051.13,256.93 1060.48,264.41 1066.09,268.15 C1071.69,271.89 1075.9,274.23 1080.11,276.56 C1084.31,278.9 1089.92,277.73 1091.32,282.17 C1092.73,286.61 1089.69,297.36 1088.52,303.2 C1087.35,309.04 1084.78,311.38 1084.31,317.22 C1083.85,323.07 1086.42,332.41 1085.72,338.26 C1085.01,344.1 1082.91,351.81 1080.11,352.28 C1077.3,352.74 1072.39,345.73 1068.89,341.06 C1065.38,336.39 1062.35,331.71 1059.07,324.23 C1055.8,316.76 1052.3,305.54 1049.26,296.19 C1046.22,286.84 1042.72,275.63 1040.85,268.15 C1038.98,260.67 1037.11,253.66 1038.04,251.32Z" fill="#636363" stroke="none"/>
<path d="M1099.74,259.74 C1100.2,257.4 1104.41,260.2 1108.15,256.93 C1111.89,253.66 1117.96,245.72 1122.17,240.11 C1126.38,234.5 1129.88,226.09 1133.39,223.28 C1136.89,220.48 1139.7,221.65 1143.2,223.28 C1146.71,224.92 1151.85,227.95 1154.42,233.1 C1156.99,238.24 1156.99,247.12 1158.63,254.13 C1160.26,261.14 1162.6,269.08 1164.23,275.16 C1165.87,281.24 1168.91,286.61 1168.44,290.58 C1167.97,294.56 1163.07,296.19 1161.43,299 C1159.79,301.8 1160.5,304.14 1158.63,307.41 C1156.76,310.68 1153.25,318.16 1150.21,318.63 C1147.18,319.09 1143.2,313.95 1140.4,310.21 C1137.59,306.47 1135.49,300.87 1133.39,296.19 C1131.28,291.52 1129.88,285.44 1127.78,282.17 C1125.68,278.9 1122.64,277.03 1120.77,276.56 C1118.9,276.09 1117.5,277.96 1116.56,279.37 C1115.63,280.77 1114.23,282.17 1115.16,284.97 C1116.09,287.78 1120.77,291.99 1122.17,296.19 C1123.57,300.4 1124.04,306.01 1123.57,310.21 C1123.11,314.42 1121.47,317.92 1119.37,321.43 C1117.26,324.94 1114.23,330.31 1110.95,331.25 C1107.68,332.18 1101.37,330.54 1099.74,327.04 C1098.1,323.53 1099.74,315.35 1101.14,310.21 C1102.54,305.07 1106.98,300.87 1108.15,296.19 C1109.32,291.52 1108.62,286.38 1108.15,282.17 C1107.68,277.96 1106.75,274.69 1105.34,270.95 C1103.94,267.21 1099.27,262.07 1099.74,259.74Z" fill="#636363" stroke="none"/>
<path d="M1174.05,254.13 C1173.11,247.12 1173.35,225.38 1175.45,219.07 C1177.55,212.77 1182.93,215.8 1186.67,216.27 C1190.41,216.74 1195.78,217.91 1197.89,221.88 C1199.99,225.85 1199.29,233.56 1199.29,240.11 C1199.29,246.65 1198.35,254.13 1197.89,261.14 C1197.42,268.15 1196.25,275.16 1196.48,282.17 C1196.72,289.18 1198.59,296.19 1199.29,303.2 C1199.99,310.21 1200.92,319.09 1200.69,324.23 C1200.46,329.38 1199.76,332.65 1197.89,334.05 C1196.02,335.45 1191.58,336.62 1189.47,332.65 C1187.37,328.67 1186.2,318.63 1185.27,310.21 C1184.33,301.8 1184.57,290.35 1183.86,282.17 C1183.16,273.99 1182.7,265.81 1181.06,261.14 C1179.42,256.46 1174.98,261.14 1174.05,254.13Z" fill="#636363" stroke="none"/>
<path d="M1213.31,268.15 C1213.31,258.8 1213.08,241.74 1214.71,233.1 C1216.35,224.45 1220.09,219.31 1223.12,216.27 C1226.16,213.23 1231.07,212.06 1232.94,214.87 C1234.81,217.67 1234.34,225.38 1234.34,233.1 C1234.34,240.81 1232.94,251.79 1232.94,261.14 C1232.94,270.49 1235.51,282.17 1234.34,289.18 C1233.17,296.19 1228.27,300.16 1225.93,303.2 C1223.59,306.24 1222.19,309.75 1220.32,307.41 C1218.45,305.07 1215.88,295.72 1214.71,289.18 C1213.54,282.64 1213.31,277.5 1213.31,268.15Z" fill="#636363" stroke="none"/>
<path d="M1246.96,170 C1250.93,160.65 1267.06,165.33 1270.8,170 C1274.54,174.67 1271.73,188.23 1269.39,198.04 C1267.06,207.86 1259.81,219.54 1256.78,228.89 C1253.74,238.24 1252.8,254.6 1251.17,254.13 C1249.53,253.66 1247.66,240.11 1246.96,226.09 C1246.26,212.06 1242.99,179.35 1246.96,170Z" fill="#636363" stroke="none"/>
<path d="M1265.19,254.13 C1265.42,249.92 1266.47,244.31 1269.39,242.91 C1272.32,241.51 1280.49,238.47 1282.71,245.72 C1284.93,252.96 1284,279.6 1282.71,286.38 C1281.43,293.15 1277.46,289.41 1275,286.38 C1272.55,283.34 1269.63,273.52 1267.99,268.15 C1266.36,262.77 1264.95,258.33 1265.19,254.13Z" fill="#636363" stroke="none"/>
<path d="M1246.96,304.6 C1247.89,300.87 1253.04,302.03 1256.78,301.8 C1260.51,301.57 1267.29,299.46 1269.39,303.2 C1271.5,306.94 1271.03,320.26 1269.39,324.23 C1267.76,328.21 1262.62,327.04 1259.58,327.04 C1256.54,327.04 1253.27,327.97 1251.17,324.23 C1249.06,320.5 1246.03,308.34 1246.96,304.6Z" fill="#636363" stroke="none"/>
<path d="M1136.19,170 C1146.01,167.66 1188.3,169.07 1196.48,170 C1204.66,170.93 1189.47,174.21 1185.27,175.61 C1181.06,177.01 1175.22,176.54 1171.25,178.41 C1167.27,180.28 1163.77,183.32 1161.43,186.83 C1159.09,190.33 1160.03,198.28 1157.22,199.44 C1154.42,200.61 1147.88,196.41 1144.6,193.84 C1141.33,191.27 1139,187.99 1137.59,184.02 C1136.19,180.05 1126.38,172.34 1136.19,170Z" fill="#636363" stroke="none"/>
<path d="M1197.89,170 C1201.39,168.13 1215.65,167.66 1220.32,170 C1224.99,172.34 1225.23,179.35 1225.93,184.02 C1226.63,188.7 1227.1,195.24 1224.53,198.04 C1221.96,200.85 1214.01,201.31 1210.5,200.85 C1207,200.38 1205.36,198.51 1203.49,195.24 C1201.62,191.97 1200.22,185.42 1199.29,181.22 C1198.35,177.01 1194.38,171.87 1197.89,170Z" fill="#636363" stroke="none"/>
<path d="M1010,170 C1014.67,168.6 1040.61,168.13 1046.46,170 C1052.3,171.87 1047.62,178.88 1045.05,181.22 C1042.48,183.55 1035.47,184.49 1031.03,184.02 C1026.59,183.55 1021.92,180.75 1018.41,178.41 C1014.91,176.08 1005.33,171.4 1010,170Z" fill="#636363" stroke="none"/>
<path d="M1101.14,370.5 C1098.33,366.3 1101.37,350.17 1102.54,345.27 C1103.71,340.36 1105.81,340.36 1108.15,341.06 C1110.49,341.76 1114.69,344.57 1116.56,349.47 C1118.43,354.38 1121.94,367 1119.37,370.5 C1116.8,374.01 1103.94,374.71 1101.14,370.5Z" fill="#636363" stroke="none"/>
<path d="M1136.19,370.5 C1132.92,366.77 1137.59,352.28 1139,348.07 C1140.4,343.86 1142.27,344.57 1144.6,345.27 C1146.94,345.97 1150.68,348.07 1153.02,352.28 C1155.35,356.48 1161.43,367.47 1158.63,370.5 C1155.82,373.54 1139.46,374.24 1136.19,370.5Z" fill="#636363" stroke="none"/>
<path d="M1182.46,370.5 C1180.36,368.17 1182.23,358.59 1183.86,356.48 C1185.5,354.38 1190.17,355.55 1192.28,357.89 C1194.38,360.22 1198.12,368.4 1196.48,370.5 C1194.85,372.61 1184.57,372.84 1182.46,370.5Z" fill="#636363" stroke="none"/>
<path d="M1209.1,370.5 C1207.47,367.47 1210.5,357.65 1211.91,352.28 C1213.31,346.9 1216.11,338.26 1217.52,338.26 C1218.92,338.26 1219.62,346.9 1220.32,352.28 C1221.02,357.65 1223.59,367.47 1221.72,370.5 C1219.85,373.54 1210.74,373.54 1209.1,370.5Z" fill="#636363" stroke="none"/>
<path d="M1010,334.05 C1011.4,328.67 1015.37,334.52 1018.41,338.26 C1021.45,341.99 1026.12,351.11 1028.23,356.48 C1030.33,361.86 1034.07,368.17 1031.03,370.5 C1027.99,372.84 1013.51,376.58 1010,370.5 C1006.49,364.43 1008.6,339.42 1010,334.05Z" fill="#636363" stroke="none"/>
<path d="M1057.67,370.5 C1053.47,369.34 1056.74,364.66 1060.48,363.49 C1064.22,362.33 1075.9,362.33 1080.11,363.49 C1084.31,364.66 1089.45,369.34 1085.72,370.5 C1081.98,371.67 1061.88,371.67 1057.67,370.5Z" fill="#636363" stroke="none"/>
<rect x="742" y="3" width="541" height="367" filter="url(#tex2)" opacity="0.8" style="mix-blend-mode:overlay" clip-path="url(#cbp)"/>
</g>
<clipPath id="cc"><rect x="1442" y="3" width="531.5" height="367.5"/></clipPath>
<clipPath id="ccp"><path d="M1617.41,4.63 C1623.9,0.77 1649.84,2.32 1656.32,4.63 C1662.81,6.95 1658.48,15.29 1656.32,18.53 C1654.16,21.77 1649.84,22.54 1643.35,24.09 C1636.87,25.63 1621.73,31.04 1617.41,27.79 C1613.09,24.55 1610.93,8.49 1617.41,4.63Z"/><path d="M1617.41,37.06 C1623.28,34.28 1645.2,33.97 1652.62,37.06 C1660.03,40.15 1662.81,53.12 1661.88,55.59 C1660.95,58.06 1651.07,53.12 1647.06,51.88 C1643.04,50.65 1640.88,47.87 1637.79,48.17 C1634.71,48.48 1631.93,52.81 1628.53,53.73 C1625.13,54.66 1619.26,56.51 1617.41,53.73 C1615.56,50.95 1611.54,39.84 1617.41,37.06Z"/><path d="M1665.59,22.23 C1666.2,15.6 1666.82,9.26 1673,6.49 C1679.17,3.71 1693.38,2.93 1702.64,5.56 C1711.91,8.18 1727.35,19.15 1728.58,22.23 C1729.82,25.32 1712.22,18.53 1710.06,24.09 C1707.89,29.65 1715.61,46.32 1715.61,55.59 C1715.61,64.85 1714.69,75.04 1710.06,79.67 C1705.42,84.31 1694.31,84.31 1687.82,83.38 C1681.34,82.45 1674.23,80.29 1671.15,74.12 C1668.06,67.94 1670.22,54.97 1669.29,46.32 C1668.37,37.68 1664.97,28.87 1665.59,22.23Z"/><path d="M1630.38,83.38 C1632.23,81.53 1635.01,77.2 1641.5,77.82 C1647.98,78.44 1660.34,83.38 1669.29,87.09 C1678.25,90.79 1689.67,95.42 1695.23,100.06 C1700.79,104.69 1704.5,111.79 1702.64,114.88 C1700.79,117.97 1691.84,118.89 1684.12,118.58 C1676.39,118.28 1662.5,115.81 1656.32,113.03 C1650.15,110.25 1651.38,105.92 1647.06,101.91 C1642.73,97.89 1633.16,92.03 1630.38,88.94 C1627.6,85.85 1628.53,85.23 1630.38,83.38Z"/><path d="M1728.58,70.41 C1728.89,66.09 1729.82,54.04 1732.29,48.17 C1734.76,42.31 1741.25,35.2 1743.41,35.2 C1745.57,35.2 1745.88,43.23 1745.26,48.17 C1744.64,53.12 1742.17,60.53 1739.7,64.85 C1737.23,69.17 1732.29,73.19 1730.44,74.12 C1728.58,75.04 1728.28,74.73 1728.58,70.41Z"/><path d="M1773.05,55.59 C1773.05,50.65 1774.6,43.54 1776.76,40.76 C1778.92,37.98 1782.94,37.06 1786.02,38.91 C1789.11,40.76 1793.74,47.56 1795.29,51.88 C1796.83,56.2 1796.83,61.45 1795.29,64.85 C1793.74,68.25 1789.11,71.34 1786.02,72.26 C1782.94,73.19 1778.92,73.19 1776.76,70.41 C1774.6,67.63 1773.05,60.53 1773.05,55.59Z"/><path d="M1728.58,90.79 C1728.58,87.7 1735.69,80.91 1739.7,77.82 C1743.72,74.73 1749.89,72.26 1752.67,72.26 C1755.45,72.26 1756.69,75.04 1756.38,77.82 C1756.07,80.6 1753.6,85.85 1750.82,88.94 C1748.04,92.03 1743.41,96.04 1739.7,96.35 C1736,96.66 1728.58,93.88 1728.58,90.79Z"/><path d="M1750.82,111.17 C1750.51,106.23 1752.05,102.53 1756.38,98.2 C1760.7,93.88 1773.05,85.54 1776.76,85.23 C1780.47,84.92 1777.99,93.26 1778.61,96.35 C1779.23,99.44 1781.08,101.29 1780.47,103.76 C1779.85,106.23 1776.14,107.16 1774.91,111.17 C1773.67,115.19 1775.83,125.07 1773.05,127.85 C1770.27,130.63 1761.94,130.63 1758.23,127.85 C1754.52,125.07 1751.13,116.11 1750.82,111.17Z"/><path d="M1804.55,4.63 C1817.52,-0.15 1871.57,0.77 1884.23,4.63 C1896.89,8.49 1886.08,22.39 1880.52,27.79 C1874.96,33.2 1858.29,35.82 1850.87,37.06 C1843.46,38.29 1838.21,36.75 1836.05,35.2 C1833.89,33.66 1840.07,27.48 1837.9,27.79 C1835.74,28.1 1828.33,36.13 1823.08,37.06 C1817.83,37.98 1809.49,38.76 1806.41,33.35 C1803.32,27.95 1791.58,9.42 1804.55,4.63Z"/><path d="M1895.34,4.63 C1907.7,1.39 1958.96,0.46 1971.31,4.63 C1983.66,8.8 1972.55,25.79 1969.46,29.65 C1966.37,33.51 1957.72,26.56 1952.78,27.79 C1947.84,29.03 1945.99,36.13 1939.81,37.06 C1933.64,37.98 1922.83,35.51 1915.73,33.35 C1908.62,31.19 1900.59,28.87 1897.2,24.09 C1893.8,19.3 1882.99,7.87 1895.34,4.63Z"/><path d="M1819.38,53.73 C1820.92,51.57 1827.4,46.32 1832.35,44.47 C1837.29,42.62 1841.3,42.93 1849.02,42.62 C1856.74,42.31 1867.86,42.31 1878.67,42.62 C1889.48,42.93 1903.68,43.54 1913.87,44.47 C1924.06,45.4 1934.87,46.32 1939.81,48.17 C1944.75,50.03 1945.99,52.81 1943.52,55.59 C1941.05,58.37 1934.25,63.92 1924.99,64.85 C1915.73,65.78 1900.28,62.07 1887.93,61.15 C1875.58,60.22 1861.68,59.91 1850.87,59.29 C1840.07,58.67 1828.33,58.37 1823.08,57.44 C1817.83,56.51 1817.83,55.9 1819.38,53.73Z"/><path d="M1784.17,107.47 C1786.02,99.75 1790.04,89.25 1793.44,83.38 C1796.83,77.51 1799.61,74.42 1804.55,72.26 C1809.49,70.1 1815.36,70.1 1823.08,70.41 C1830.8,70.72 1840.07,73.19 1850.87,74.12 C1861.68,75.04 1877.12,74.73 1887.93,75.97 C1898.74,77.2 1909.55,78.75 1915.73,81.53 C1921.9,84.31 1924.68,88.63 1924.99,92.64 C1925.3,96.66 1922.21,101.91 1917.58,105.61 C1912.95,109.32 1904.61,112.1 1897.2,114.88 C1889.79,117.66 1879.9,119.2 1873.11,122.29 C1866.32,125.38 1861.68,128.16 1856.43,133.41 C1851.18,138.66 1846.24,148.85 1841.61,153.79 C1836.98,158.73 1833.89,161.82 1828.64,163.05 C1823.39,164.29 1815.98,163.67 1810.11,161.2 C1804.24,158.73 1798.07,153.48 1793.44,148.23 C1788.8,142.98 1783.86,136.5 1782.32,129.7 C1780.77,122.91 1782.32,115.19 1784.17,107.47Z"/><path d="M1621.12,148.23 C1622.35,138.66 1624.21,137.42 1628.53,133.41 C1632.85,129.39 1637.79,125.38 1647.06,124.14 C1656.32,122.91 1673.31,124.45 1684.12,126 C1694.92,127.54 1704.19,130.32 1711.91,133.41 C1719.63,136.5 1725.19,140.2 1730.44,144.52 C1735.69,148.85 1740.94,151.63 1743.41,159.35 C1745.88,167.07 1765.64,185.6 1745.26,190.85 C1724.88,196.1 1641.81,197.95 1621.12,190.85 C1600.43,183.74 1619.88,157.8 1621.12,148.23Z"/><path d="M1732.29,127.85 C1732.91,126.61 1734.76,125.07 1737.85,127.85 C1740.94,130.63 1748.35,140.2 1750.82,144.52 C1753.29,148.85 1753.29,152.55 1752.67,153.79 C1752.05,155.02 1750.2,155.02 1747.11,151.94 C1744.03,148.85 1736.61,139.27 1734.14,135.26 C1731.67,131.25 1731.67,129.08 1732.29,127.85Z"/><path d="M1776.76,155.64 C1775.52,152.25 1777.38,150.7 1780.47,151.94 C1783.55,153.17 1790.35,159.04 1795.29,163.05 C1800.23,167.07 1806.71,172.32 1810.11,176.02 C1813.51,179.73 1816.6,183.74 1815.67,185.29 C1814.74,186.83 1809.18,187.45 1804.55,185.29 C1799.92,183.13 1792.51,177.26 1787.88,172.32 C1783.24,167.38 1777.99,159.04 1776.76,155.64Z"/><path d="M1837.9,190.85 C1820.61,185.6 1844.39,168.3 1849.02,159.35 C1853.65,150.39 1859.21,142.67 1865.7,137.11 C1872.18,131.55 1879.59,129.08 1887.93,126 C1896.27,122.91 1906.46,120.75 1915.73,118.58 C1924.99,116.42 1935.8,113.64 1943.52,113.03 C1951.24,112.41 1958.34,112.1 1962.05,114.88 C1965.75,117.66 1966.37,125.38 1965.75,129.7 C1965.14,134.03 1961.12,137.73 1958.34,140.82 C1955.56,143.91 1950,143.91 1949.08,148.23 C1948.15,152.55 1953.71,162.13 1952.78,166.76 C1951.86,171.39 1943.52,172.01 1943.52,176.02 C1943.52,180.04 1970.39,188.38 1952.78,190.85 C1935.18,193.32 1855.2,196.1 1837.9,190.85Z"/><path d="M1956.49,83.38 C1954.79,79.06 1959.42,75.66 1962.05,74.12 C1964.67,72.57 1970.54,69.79 1972.24,74.12 C1973.94,78.44 1974.86,98.51 1972.24,100.06 C1969.61,101.6 1958.19,87.7 1956.49,83.38Z"/><path d="M1958.34,148.23 C1959.58,143.91 1963.44,142.05 1965.75,140.82 C1968.07,139.58 1971.16,136.19 1972.24,140.82 C1973.32,145.45 1974.55,164.29 1972.24,168.61 C1969.92,172.94 1960.66,170.16 1958.34,166.76 C1956.03,163.36 1957.11,152.55 1958.34,148.23Z"/><path d="M1444.94,175.55 C1454.88,168.84 1493.49,173.47 1504.58,175.55 C1515.68,177.63 1510.13,183.18 1511.52,188.03 C1512.91,192.89 1513.6,202.14 1512.91,204.68 C1512.21,207.22 1510.13,203.06 1507.36,203.29 C1504.58,203.52 1499.03,203.52 1496.26,206.07 C1493.49,208.61 1494.64,216.01 1490.71,218.55 C1486.78,221.09 1478,221.79 1472.68,221.32 C1467.36,220.86 1463.43,216.7 1458.81,215.78 C1454.18,214.85 1447.25,222.48 1444.94,215.78 C1442.62,209.07 1434.99,182.25 1444.94,175.55Z"/><path d="M1444.94,229.65 C1447.25,217.86 1452.33,229.19 1458.81,231.03 C1465.28,232.88 1478.69,237.05 1483.78,240.74 C1488.86,244.44 1487.48,249.3 1489.32,253.23 C1491.17,257.16 1494.64,260.63 1494.87,264.33 C1495.1,268.03 1493.26,271.96 1490.71,275.42 C1488.17,278.89 1484.93,281.9 1479.61,285.13 C1474.3,288.37 1464.59,292.07 1458.81,294.84 C1453.03,297.62 1447.25,312.65 1444.94,301.78 C1442.62,290.91 1442.62,241.44 1444.94,229.65Z"/><path d="M1507.36,204.68 C1509.44,203.75 1511.52,207.22 1515.68,206.07 C1519.84,204.91 1528.63,201.44 1532.33,197.74 C1536.03,194.04 1536.03,186.18 1537.88,183.87 C1539.72,181.56 1541.57,182.02 1543.42,183.87 C1545.27,185.72 1546.2,191.27 1548.97,194.97 C1551.75,198.67 1555.91,204.68 1560.07,206.07 C1564.23,207.45 1570.7,204.68 1573.94,203.29 C1577.18,201.9 1577.87,196.36 1579.49,197.74 C1581.11,199.13 1582.96,206.53 1583.65,211.61 C1584.34,216.7 1581.34,224.79 1583.65,228.26 C1585.96,231.73 1592.21,229.65 1597.52,232.42 C1602.84,235.2 1615.56,241.44 1615.56,244.91 C1615.56,248.37 1602.84,249.53 1597.52,253.23 C1592.21,256.93 1586.19,262.48 1583.65,267.1 C1581.11,271.72 1583.42,277.27 1582.26,280.97 C1581.11,284.67 1579.26,287.91 1576.72,289.3 C1574.17,290.68 1570.47,290.68 1567.01,289.3 C1563.54,287.91 1559.38,284.67 1555.91,280.97 C1552.44,277.27 1548.28,272.19 1546.2,267.1 C1544.12,262.01 1544.81,251.84 1543.42,250.45 C1542.04,249.07 1540.42,256 1537.88,258.78 C1535.33,261.55 1531.4,265.71 1528.17,267.1 C1524.93,268.49 1520.54,270.57 1518.45,267.1 C1516.37,263.63 1517.99,251.84 1515.68,246.29 C1513.37,240.74 1506.66,239.59 1504.58,233.81 C1502.5,228.03 1502.73,216.47 1503.2,211.61 C1503.66,206.76 1505.28,205.6 1507.36,204.68Z"/><path d="M1585.04,193.58 C1585.73,190.34 1583.19,180.87 1586.43,178.32 C1589.66,175.78 1600.99,175.09 1604.46,178.32 C1607.93,181.56 1607,193.12 1607.23,197.74 C1607.46,202.37 1607.46,203.52 1605.85,206.07 C1604.23,208.61 1601.22,211.15 1597.52,213 C1593.82,214.85 1586.19,219.71 1583.65,217.16 C1581.11,214.62 1582.03,201.67 1582.26,197.74 C1582.5,193.81 1584.34,196.82 1585.04,193.58Z"/><path d="M1608.62,175.55 C1626.35,173.01 1697.28,167.92 1715.01,175.55 C1732.75,183.18 1719.57,213 1715.01,221.32 C1710.46,229.65 1696.87,224.33 1687.69,225.49 C1678.51,226.64 1666.88,228.26 1659.94,228.26 C1653.01,228.26 1650.7,227.1 1646.07,225.49 C1641.45,223.87 1635.9,222.02 1632.2,218.55 C1628.5,215.08 1626.19,208.61 1623.88,204.68 C1621.57,200.75 1620.87,197.28 1618.33,194.97 C1615.79,192.66 1610.24,194.04 1608.62,190.81 C1607,187.57 1590.89,178.09 1608.62,175.55Z"/><path d="M1528.17,278.2 C1530.01,274.96 1536.72,274.5 1540.65,275.42 C1544.58,276.35 1547.59,280.51 1551.75,283.75 C1555.91,286.98 1561.92,291.61 1565.62,294.84 C1569.32,298.08 1573.25,300.39 1573.94,303.17 C1574.63,305.94 1573.94,309.87 1569.78,311.49 C1565.62,313.11 1555.21,313.34 1548.97,312.88 C1542.73,312.41 1535.56,311.72 1532.33,308.72 C1529.09,305.71 1530.25,299.93 1529.55,294.84 C1528.86,289.76 1526.32,281.43 1528.17,278.2Z"/><path d="M1600.3,280.97 C1598.45,279.59 1601.45,270.8 1604.46,267.1 C1607.46,263.4 1613.71,261.55 1618.33,258.78 C1622.95,256 1628.04,250.45 1632.2,250.45 C1636.36,250.45 1641.91,255.08 1643.3,258.78 C1644.69,262.48 1641.91,269.88 1640.52,272.65 C1639.14,275.42 1639.14,274.96 1634.98,275.42 C1630.81,275.89 1621.34,274.5 1615.56,275.42 C1609.78,276.35 1602.15,282.36 1600.3,280.97Z"/><path d="M1594.75,305.94 C1596.6,302.01 1597.75,297.85 1601.68,294.84 C1605.61,291.84 1611.86,289.3 1618.33,287.91 C1624.8,286.52 1635.9,288.14 1640.52,286.52 C1645.15,284.9 1643.3,280.51 1646.07,278.2 C1648.85,275.89 1653.7,272.19 1657.17,272.65 C1660.64,273.11 1663.64,277.27 1666.88,280.97 C1670.12,284.67 1674.05,290.22 1676.59,294.84 C1679.13,299.47 1681.21,303.63 1682.14,308.72 C1683.06,313.8 1683.53,322.12 1682.14,325.36 C1680.75,328.6 1677.52,328.6 1673.82,328.14 C1670.12,327.67 1666.42,324.44 1659.94,322.59 C1653.47,320.74 1641.91,318.19 1634.98,317.04 C1628.04,315.88 1625.73,315.42 1618.33,315.65 C1610.93,315.88 1594.52,320.04 1590.59,318.43 C1586.66,316.81 1592.9,309.87 1594.75,305.94Z"/><path d="M1668.27,260.17 C1668.96,256 1676.36,255.77 1680.75,256 C1685.14,256.23 1688.91,259.24 1694.62,261.55 C1700.33,263.86 1711.62,259.24 1715.01,269.88 C1718.41,280.51 1717.72,317.04 1715.01,325.36 C1712.31,333.68 1703.34,323.74 1698.79,319.81 C1694.23,315.88 1691.39,308.25 1687.69,301.78 C1683.99,295.31 1679.83,287.91 1676.59,280.97 C1673.35,274.04 1667.57,264.33 1668.27,260.17Z"/><path d="M1676.59,242.13 C1677.75,240.05 1683.53,235.66 1687.69,233.81 C1691.85,231.96 1697,231.73 1701.56,231.03 C1706.11,230.34 1712.77,226.18 1715.01,229.65 C1717.26,233.12 1718.41,248.37 1715.01,251.84 C1711.62,255.31 1700.33,251.38 1694.62,250.45 C1688.91,249.53 1683.76,247.68 1680.75,246.29 C1677.75,244.91 1675.43,244.21 1676.59,242.13Z"/><path d="M1444.94,317.04 C1447.25,310.33 1453.03,306.87 1458.81,303.17 C1464.59,299.47 1473.83,296.46 1479.61,294.84 C1485.39,293.23 1489.32,291.84 1493.49,293.46 C1497.65,295.08 1502.5,299.7 1504.58,304.55 C1506.66,309.41 1506.2,318.43 1505.97,322.59 C1505.74,326.75 1505.28,328.14 1503.2,329.52 C1501.12,330.91 1496.72,330.22 1493.49,330.91 C1490.25,331.6 1487.24,331.83 1483.78,333.68 C1480.31,335.53 1476.84,341.08 1472.68,342.01 C1468.52,342.93 1463.43,339 1458.81,339.23 C1454.18,339.46 1447.25,347.09 1444.94,343.39 C1442.62,339.7 1442.62,323.74 1444.94,317.04Z"/><path d="M1499.03,350.33 C1498.57,344.32 1498.57,337.15 1500.42,333.68 C1502.27,330.22 1506.66,331.37 1510.13,329.52 C1513.6,327.67 1512.44,323.51 1521.23,322.59 C1530.01,321.66 1554.52,322.82 1562.84,323.97 C1571.17,325.13 1569.55,326.29 1571.17,329.52 C1572.79,332.76 1573.94,338.77 1572.55,343.39 C1571.17,348.02 1565.62,352.87 1562.84,357.27 C1560.07,361.66 1565.85,367.67 1555.91,369.75 C1545.97,371.83 1512.68,372.99 1503.2,369.75 C1493.72,366.51 1499.5,356.34 1499.03,350.33Z"/><path d="M1576.72,369.75 C1573.25,366.98 1578.57,356.8 1580.88,353.1 C1583.19,349.41 1587.12,347.56 1590.59,347.56 C1594.05,347.56 1599.83,349.41 1601.68,353.1 C1603.53,356.8 1605.85,366.98 1601.68,369.75 C1597.52,372.52 1580.18,372.52 1576.72,369.75Z"/><path d="M1601.68,332.3 C1603.07,331.14 1607.7,327.21 1612.78,326.75 C1617.87,326.29 1624.34,328.37 1632.2,329.52 C1640.06,330.68 1650.7,332.53 1659.94,333.68 C1669.19,334.84 1678.51,335.07 1687.69,336.46 C1696.87,337.85 1710.46,337.85 1715.01,342.01 C1719.57,346.17 1718.41,358.19 1715.01,361.43 C1711.62,364.66 1701.49,362.12 1694.62,361.43 C1687.76,360.73 1679.6,358.65 1673.82,357.27 C1668.04,355.88 1664.57,354.72 1659.94,353.1 C1655.32,351.49 1650.7,349.41 1646.07,347.56 C1641.45,345.71 1636.83,344.09 1632.2,342.01 C1627.58,339.93 1622.95,336.46 1618.33,335.07 C1613.71,333.68 1607.23,334.15 1604.46,333.68 C1601.68,333.22 1600.3,333.45 1601.68,332.3Z"/><path d="M1444.94,355.88 C1447.25,354.49 1451.87,359.12 1458.81,361.43 C1465.74,363.74 1488.86,368.36 1486.55,369.75 C1484.24,371.14 1451.87,372.06 1444.94,369.75 C1438,367.44 1442.62,357.27 1444.94,355.88Z"/><path d="M1618.33,369.75 C1613.71,368.36 1626.42,362.58 1632.2,361.43 C1637.98,360.27 1648.39,361.43 1653.01,362.81 C1657.63,364.2 1665.72,368.59 1659.94,369.75 C1654.16,370.91 1622.95,371.14 1618.33,369.75Z"/><path d="M1700,170 C1707.48,161.59 1737.16,165.33 1744.87,170 C1752.58,174.67 1746.97,191.03 1746.27,198.04 C1745.57,205.05 1744.87,208.56 1740.66,212.06 C1736.46,215.57 1727.81,217.67 1721.03,219.07 C1714.26,220.48 1703.51,228.66 1700,220.48 C1696.49,212.3 1692.52,178.41 1700,170Z"/><path d="M1760.29,170 C1761.46,164.63 1765.43,167.66 1767.3,170 C1769.17,172.34 1770.11,180.28 1771.51,184.02 C1772.91,187.76 1775.48,188.93 1775.72,192.43 C1775.95,195.94 1774.31,201.78 1772.91,205.05 C1771.51,208.32 1769.41,212.53 1767.3,212.06 C1765.2,211.6 1761.46,209.26 1760.29,202.25 C1759.12,195.24 1759.12,175.37 1760.29,170Z"/><path d="M1786.93,170 C1788.8,168.83 1798.85,168.36 1803.76,170 C1808.67,171.64 1814.51,177.01 1816.38,179.81 C1818.25,182.62 1817.31,185.89 1814.97,186.83 C1812.64,187.76 1806.09,187.06 1802.36,185.42 C1798.62,183.79 1795.11,179.58 1792.54,177.01 C1789.97,174.44 1785.06,171.17 1786.93,170Z"/><path d="M1700,228.89 C1702.34,225.38 1708.18,229.82 1714.02,228.89 C1719.86,227.95 1728.51,225.15 1735.05,223.28 C1741.6,221.41 1749.54,217.21 1753.28,217.67 C1757.02,218.14 1757.25,223.05 1757.49,226.09 C1757.72,229.12 1757.25,233.1 1754.68,235.9 C1752.11,238.7 1746.5,240.81 1742.06,242.91 C1737.62,245.01 1732.72,247.12 1728.04,248.52 C1723.37,249.92 1718.7,251.09 1714.02,251.32 C1709.35,251.56 1702.34,253.66 1700,249.92 C1697.66,246.18 1697.66,232.39 1700,228.89Z"/><path d="M1737.86,276.56 C1736.46,270.49 1737.62,261.84 1740.66,256.93 C1743.7,252.02 1751.18,250.62 1756.09,247.12 C1760.99,243.61 1764.97,238 1770.11,235.9 C1775.25,233.8 1782.73,233.8 1786.93,234.5 C1791.14,235.2 1793.01,236.83 1795.34,240.11 C1797.68,243.38 1800.02,247.12 1800.95,254.13 C1801.89,261.14 1801.65,273.99 1800.95,282.17 C1800.25,290.35 1799.08,298.06 1796.75,303.2 C1794.41,308.34 1791.84,311.15 1786.93,313.02 C1782.02,314.89 1771.28,315.35 1767.3,314.42 C1763.33,313.48 1766.13,310.91 1763.1,307.41 C1760.06,303.9 1753.28,298.53 1749.07,293.39 C1744.87,288.25 1739.26,282.64 1737.86,276.56Z"/><path d="M1805.16,293.39 C1804.69,287.31 1808.67,282.87 1809.37,275.16 C1810.07,267.45 1807.96,252.96 1809.37,247.12 C1810.77,241.28 1814.51,241.28 1817.78,240.11 C1821.05,238.94 1825.72,238.7 1829,240.11 C1832.27,241.51 1835.54,245.72 1837.41,248.52 C1839.28,251.32 1840.91,255.06 1840.21,256.93 C1839.51,258.8 1834.37,257.87 1833.2,259.74 C1832.03,261.61 1831.33,266.75 1833.2,268.15 C1835.07,269.55 1841.38,266.98 1844.42,268.15 C1847.46,269.32 1849.79,271.42 1851.43,275.16 C1853.07,278.9 1854.23,285.91 1854.23,290.58 C1854.23,295.26 1852.83,298.76 1851.43,303.2 C1850.03,307.64 1847.46,314.19 1845.82,317.22 C1844.19,320.26 1845.35,320.96 1841.62,321.43 C1837.88,321.9 1828.3,321.66 1823.39,320.03 C1818.48,318.39 1815.21,316.06 1812.17,311.62 C1809.13,307.18 1805.63,299.46 1805.16,293.39Z"/><path d="M1837.41,191.03 C1837.41,187.99 1822.92,173.51 1840.21,170 C1857.51,166.49 1923.41,169.07 1941.17,170 C1958.93,170.93 1942.57,174.67 1946.78,175.61 C1950.98,176.54 1962.67,174.21 1966.4,175.61 C1970.14,177.01 1968.74,175.61 1969.21,184.02 C1969.68,192.43 1970.14,221.41 1969.21,226.09 C1968.27,230.76 1965.94,216.74 1963.6,212.06 C1961.26,207.39 1957.52,202.25 1955.19,198.04 C1952.85,193.84 1951.92,186.83 1949.58,186.83 C1947.24,186.83 1943.04,195 1941.17,198.04 C1939.3,201.08 1945.84,203.65 1938.36,205.05 C1930.88,206.46 1909.38,205.99 1896.3,206.46 C1883.21,206.92 1866.39,210.43 1859.84,207.86 C1853.3,205.29 1858.44,194.54 1857.04,191.03 C1855.64,187.53 1854.23,187.29 1851.43,186.83 C1848.63,186.36 1842.55,187.53 1840.21,188.23 C1837.88,188.93 1837.41,194.07 1837.41,191.03Z"/><path d="M1872.46,235.9 C1873.16,230.99 1877.14,227.72 1882.28,224.68 C1887.42,221.65 1896.3,219.07 1903.31,217.67 C1910.32,216.27 1916.16,216.27 1924.34,216.27 C1932.52,216.27 1945.84,215.57 1952.38,217.67 C1958.93,219.78 1961.73,223.75 1963.6,228.89 C1965.47,234.03 1964.54,243.14 1963.6,248.52 C1962.67,253.89 1962.2,257.87 1957.99,261.14 C1953.79,264.41 1946.31,266.98 1938.36,268.15 C1930.42,269.32 1918.5,268.62 1910.32,268.15 C1902.14,267.68 1894.66,267.68 1889.29,265.34 C1883.91,263.01 1880.87,259.04 1878.07,254.13 C1875.27,249.22 1871.76,240.81 1872.46,235.9Z"/><path d="M1879.47,280.77 C1880.64,278.2 1881.81,277.96 1889.29,277.96 C1896.77,277.96 1911.49,280.3 1924.34,280.77 C1937.19,281.24 1960.56,279.37 1966.4,280.77 C1972.25,282.17 1962.9,285.91 1959.39,289.18 C1955.89,292.45 1951.22,297.59 1945.37,300.4 C1939.53,303.2 1931.35,304.37 1924.34,306.01 C1917.33,307.64 1909.15,310.45 1903.31,310.21 C1897.47,309.98 1892.79,307.41 1889.29,304.6 C1885.78,301.8 1883.91,297.36 1882.28,293.39 C1880.64,289.41 1878.3,283.34 1879.47,280.77Z"/><path d="M1700,270.95 C1703.51,263.48 1715.19,272.82 1721.03,276.56 C1726.87,280.3 1730.85,287.78 1735.05,293.39 C1739.26,299 1744.17,305.54 1746.27,310.21 C1748.37,314.89 1748.84,318.39 1747.67,321.43 C1746.5,324.47 1743.7,327.51 1739.26,328.44 C1734.82,329.38 1727.58,328.21 1721.03,327.04 C1714.49,325.87 1703.51,330.78 1700,321.43 C1696.49,312.08 1696.49,278.43 1700,270.95Z"/><path d="M1774.31,324.23 C1773.38,321.66 1773.85,320.73 1778.52,320.03 C1783.19,319.33 1795.58,318.16 1802.36,320.03 C1809.13,321.9 1814.97,327.51 1819.18,331.25 C1823.39,334.98 1827.59,339.89 1827.59,342.46 C1827.59,345.03 1823.62,345.73 1819.18,346.67 C1814.74,347.6 1803.52,346.67 1800.95,348.07 C1798.38,349.47 1801.89,352.98 1803.76,355.08 C1805.63,357.18 1813.11,358.82 1812.17,360.69 C1811.24,362.56 1804.69,365.36 1798.15,366.3 C1791.61,367.23 1778.29,368.64 1772.91,366.3 C1767.54,363.96 1766.37,355.55 1765.9,352.28 C1765.43,349.01 1766.37,347.84 1770.11,346.67 C1773.85,345.5 1786,347.14 1788.33,345.27 C1790.67,343.4 1786.46,338.96 1784.13,335.45 C1781.79,331.95 1775.25,326.81 1774.31,324.23Z"/><path d="M1945.37,310.21 C1946.54,307.88 1955.42,302.27 1959.39,300.4 C1963.37,298.53 1967.57,296.66 1969.21,299 C1970.85,301.33 1972.01,311.85 1969.21,314.42 C1966.4,316.99 1956.36,315.12 1952.38,314.42 C1948.41,313.72 1944.2,312.55 1945.37,310.21Z"/><path d="M1862.65,308.81 C1861.25,306.01 1864.98,294.09 1866.85,293.39 C1868.72,292.69 1872.46,301.8 1873.86,304.6 C1875.27,307.41 1877.14,309.51 1875.27,310.21 C1873.4,310.91 1864.05,311.62 1862.65,308.81Z"/><path d="M1788.33,228.89 C1787.17,226.79 1793.01,216.27 1795.34,216.27 C1797.68,216.27 1803.52,226.79 1802.36,228.89 C1801.19,230.99 1789.5,230.99 1788.33,228.89Z"/><path d="M1700,338.26 C1702.34,335.22 1710.52,342.7 1714.02,343.86 C1717.53,345.03 1721.5,343.86 1721.03,345.27 C1720.56,346.67 1713.32,349.71 1711.22,352.28 C1709.11,354.85 1710.28,359.05 1708.41,360.69 C1706.54,362.33 1701.4,365.83 1700,362.09 C1698.6,358.35 1697.66,341.29 1700,338.26Z"/><path d="M1955.19,356.48 C1955.66,354.85 1958.46,351.81 1960.8,350.87 C1963.13,349.94 1967.81,349.01 1969.21,350.87 C1970.61,352.74 1971.08,360.46 1969.21,362.09 C1967.34,363.73 1960.33,361.62 1957.99,360.69 C1955.66,359.76 1954.72,358.12 1955.19,356.48Z"/></clipPath>
<g clip-path="url(#cc)">
<rect x="1442" y="3" width="531.5" height="367.5" fill="#cacaca"/>
<path d="M1617.41,4.63 C1623.9,0.77 1649.84,2.32 1656.32,4.63 C1662.81,6.95 1658.48,15.29 1656.32,18.53 C1654.16,21.77 1649.84,22.54 1643.35,24.09 C1636.87,25.63 1621.73,31.04 1617.41,27.79 C1613.09,24.55 1610.93,8.49 1617.41,4.63Z" fill="none" stroke="#f0f0f0" stroke-width="26" stroke-linejoin="round" opacity="0.9"/>
<path d="M1617.41,37.06 C1623.28,34.28 1645.2,33.97 1652.62,37.06 C1660.03,40.15 1662.81,53.12 1661.88,55.59 C1660.95,58.06 1651.07,53.12 1647.06,51.88 C1643.04,50.65 1640.88,47.87 1637.79,48.17 C1634.71,48.48 1631.93,52.81 1628.53,53.73 C1625.13,54.66 1619.26,56.51 1617.41,53.73 C1615.56,50.95 1611.54,39.84 1617.41,37.06Z" fill="none" stroke="#f0f0f0" stroke-width="26" stroke-linejoin="round" opacity="0.9"/>
<path d="M1665.59,22.23 C1666.2,15.6 1666.82,9.26 1673,6.49 C1679.17,3.71 1693.38,2.93 1702.64,5.56 C1711.91,8.18 1727.35,19.15 1728.58,22.23 C1729.82,25.32 1712.22,18.53 1710.06,24.09 C1707.89,29.65 1715.61,46.32 1715.61,55.59 C1715.61,64.85 1714.69,75.04 1710.06,79.67 C1705.42,84.31 1694.31,84.31 1687.82,83.38 C1681.34,82.45 1674.23,80.29 1671.15,74.12 C1668.06,67.94 1670.22,54.97 1669.29,46.32 C1668.37,37.68 1664.97,28.87 1665.59,22.23Z" fill="none" stroke="#f0f0f0" stroke-width="26" stroke-linejoin="round" opacity="0.9"/>
<path d="M1630.38,83.38 C1632.23,81.53 1635.01,77.2 1641.5,77.82 C1647.98,78.44 1660.34,83.38 1669.29,87.09 C1678.25,90.79 1689.67,95.42 1695.23,100.06 C1700.79,104.69 1704.5,111.79 1702.64,114.88 C1700.79,117.97 1691.84,118.89 1684.12,118.58 C1676.39,118.28 1662.5,115.81 1656.32,113.03 C1650.15,110.25 1651.38,105.92 1647.06,101.91 C1642.73,97.89 1633.16,92.03 1630.38,88.94 C1627.6,85.85 1628.53,85.23 1630.38,83.38Z" fill="none" stroke="#f0f0f0" stroke-width="26" stroke-linejoin="round" opacity="0.9"/>
<path d="M1728.58,70.41 C1728.89,66.09 1729.82,54.04 1732.29,48.17 C1734.76,42.31 1741.25,35.2 1743.41,35.2 C1745.57,35.2 1745.88,43.23 1745.26,48.17 C1744.64,53.12 1742.17,60.53 1739.7,64.85 C1737.23,69.17 1732.29,73.19 1730.44,74.12 C1728.58,75.04 1728.28,74.73 1728.58,70.41Z" fill="none" stroke="#f0f0f0" stroke-width="26" stroke-linejoin="round" opacity="0.9"/>
<path d="M1773.05,55.59 C1773.05,50.65 1774.6,43.54 1776.76,40.76 C1778.92,37.98 1782.94,37.06 1786.02,38.91 C1789.11,40.76 1793.74,47.56 1795.29,51.88 C1796.83,56.2 1796.83,61.45 1795.29,64.85 C1793.74,68.25 1789.11,71.34 1786.02,72.26 C1782.94,73.19 1778.92,73.19 1776.76,70.41 C1774.6,67.63 1773.05,60.53 1773.05,55.59Z" fill="none" stroke="#f0f0f0" stroke-width="26" stroke-linejoin="round" opacity="0.9"/>
<path d="M1728.58,90.79 C1728.58,87.7 1735.69,80.91 1739.7,77.82 C1743.72,74.73 1749.89,72.26 1752.67,72.26 C1755.45,72.26 1756.69,75.04 1756.38,77.82 C1756.07,80.6 1753.6,85.85 1750.82,88.94 C1748.04,92.03 1743.41,96.04 1739.7,96.35 C1736,96.66 1728.58,93.88 1728.58,90.79Z" fill="none" stroke="#f0f0f0" stroke-width="26" stroke-linejoin="round" opacity="0.9"/>
<path d="M1750.82,111.17 C1750.51,106.23 1752.05,102.53 1756.38,98.2 C1760.7,93.88 1773.05,85.54 1776.76,85.23 C1780.47,84.92 1777.99,93.26 1778.61,96.35 C1779.23,99.44 1781.08,101.29 1780.47,103.76 C1779.85,106.23 1776.14,107.16 1774.91,111.17 C1773.67,115.19 1775.83,125.07 1773.05,127.85 C1770.27,130.63 1761.94,130.63 1758.23,127.85 C1754.52,125.07 1751.13,116.11 1750.82,111.17Z" fill="none" stroke="#f0f0f0" stroke-width="26" stroke-linejoin="round" opacity="0.9"/>
<path d="M1804.55,4.63 C1817.52,-0.15 1871.57,0.77 1884.23,4.63 C1896.89,8.49 1886.08,22.39 1880.52,27.79 C1874.96,33.2 1858.29,35.82 1850.87,37.06 C1843.46,38.29 1838.21,36.75 1836.05,35.2 C1833.89,33.66 1840.07,27.48 1837.9,27.79 C1835.74,28.1 1828.33,36.13 1823.08,37.06 C1817.83,37.98 1809.49,38.76 1806.41,33.35 C1803.32,27.95 1791.58,9.42 1804.55,4.63Z" fill="none" stroke="#f0f0f0" stroke-width="26" stroke-linejoin="round" opacity="0.9"/>
<path d="M1895.34,4.63 C1907.7,1.39 1958.96,0.46 1971.31,4.63 C1983.66,8.8 1972.55,25.79 1969.46,29.65 C1966.37,33.51 1957.72,26.56 1952.78,27.79 C1947.84,29.03 1945.99,36.13 1939.81,37.06 C1933.64,37.98 1922.83,35.51 1915.73,33.35 C1908.62,31.19 1900.59,28.87 1897.2,24.09 C1893.8,19.3 1882.99,7.87 1895.34,4.63Z" fill="none" stroke="#f0f0f0" stroke-width="26" stroke-linejoin="round" opacity="0.9"/>
<path d="M1819.38,53.73 C1820.92,51.57 1827.4,46.32 1832.35,44.47 C1837.29,42.62 1841.3,42.93 1849.02,42.62 C1856.74,42.31 1867.86,42.31 1878.67,42.62 C1889.48,42.93 1903.68,43.54 1913.87,44.47 C1924.06,45.4 1934.87,46.32 1939.81,48.17 C1944.75,50.03 1945.99,52.81 1943.52,55.59 C1941.05,58.37 1934.25,63.92 1924.99,64.85 C1915.73,65.78 1900.28,62.07 1887.93,61.15 C1875.58,60.22 1861.68,59.91 1850.87,59.29 C1840.07,58.67 1828.33,58.37 1823.08,57.44 C1817.83,56.51 1817.83,55.9 1819.38,53.73Z" fill="none" stroke="#f0f0f0" stroke-width="26" stroke-linejoin="round" opacity="0.9"/>
<path d="M1784.17,107.47 C1786.02,99.75 1790.04,89.25 1793.44,83.38 C1796.83,77.51 1799.61,74.42 1804.55,72.26 C1809.49,70.1 1815.36,70.1 1823.08,70.41 C1830.8,70.72 1840.07,73.19 1850.87,74.12 C1861.68,75.04 1877.12,74.73 1887.93,75.97 C1898.74,77.2 1909.55,78.75 1915.73,81.53 C1921.9,84.31 1924.68,88.63 1924.99,92.64 C1925.3,96.66 1922.21,101.91 1917.58,105.61 C1912.95,109.32 1904.61,112.1 1897.2,114.88 C1889.79,117.66 1879.9,119.2 1873.11,122.29 C1866.32,125.38 1861.68,128.16 1856.43,133.41 C1851.18,138.66 1846.24,148.85 1841.61,153.79 C1836.98,158.73 1833.89,161.82 1828.64,163.05 C1823.39,164.29 1815.98,163.67 1810.11,161.2 C1804.24,158.73 1798.07,153.48 1793.44,148.23 C1788.8,142.98 1783.86,136.5 1782.32,129.7 C1780.77,122.91 1782.32,115.19 1784.17,107.47Z" fill="none" stroke="#f0f0f0" stroke-width="26" stroke-linejoin="round" opacity="0.9"/>
<path d="M1621.12,148.23 C1622.35,138.66 1624.21,137.42 1628.53,133.41 C1632.85,129.39 1637.79,125.38 1647.06,124.14 C1656.32,122.91 1673.31,124.45 1684.12,126 C1694.92,127.54 1704.19,130.32 1711.91,133.41 C1719.63,136.5 1725.19,140.2 1730.44,144.52 C1735.69,148.85 1740.94,151.63 1743.41,159.35 C1745.88,167.07 1765.64,185.6 1745.26,190.85 C1724.88,196.1 1641.81,197.95 1621.12,190.85 C1600.43,183.74 1619.88,157.8 1621.12,148.23Z" fill="none" stroke="#f0f0f0" stroke-width="26" stroke-linejoin="round" opacity="0.9"/>
<path d="M1732.29,127.85 C1732.91,126.61 1734.76,125.07 1737.85,127.85 C1740.94,130.63 1748.35,140.2 1750.82,144.52 C1753.29,148.85 1753.29,152.55 1752.67,153.79 C1752.05,155.02 1750.2,155.02 1747.11,151.94 C1744.03,148.85 1736.61,139.27 1734.14,135.26 C1731.67,131.25 1731.67,129.08 1732.29,127.85Z" fill="none" stroke="#f0f0f0" stroke-width="26" stroke-linejoin="round" opacity="0.9"/>
<path d="M1776.76,155.64 C1775.52,152.25 1777.38,150.7 1780.47,151.94 C1783.55,153.17 1790.35,159.04 1795.29,163.05 C1800.23,167.07 1806.71,172.32 1810.11,176.02 C1813.51,179.73 1816.6,183.74 1815.67,185.29 C1814.74,186.83 1809.18,187.45 1804.55,185.29 C1799.92,183.13 1792.51,177.26 1787.88,172.32 C1783.24,167.38 1777.99,159.04 1776.76,155.64Z" fill="none" stroke="#f0f0f0" stroke-width="26" stroke-linejoin="round" opacity="0.9"/>
<path d="M1837.9,190.85 C1820.61,185.6 1844.39,168.3 1849.02,159.35 C1853.65,150.39 1859.21,142.67 1865.7,137.11 C1872.18,131.55 1879.59,129.08 1887.93,126 C1896.27,122.91 1906.46,120.75 1915.73,118.58 C1924.99,116.42 1935.8,113.64 1943.52,113.03 C1951.24,112.41 1958.34,112.1 1962.05,114.88 C1965.75,117.66 1966.37,125.38 1965.75,129.7 C1965.14,134.03 1961.12,137.73 1958.34,140.82 C1955.56,143.91 1950,143.91 1949.08,148.23 C1948.15,152.55 1953.71,162.13 1952.78,166.76 C1951.86,171.39 1943.52,172.01 1943.52,176.02 C1943.52,180.04 1970.39,188.38 1952.78,190.85 C1935.18,193.32 1855.2,196.1 1837.9,190.85Z" fill="none" stroke="#f0f0f0" stroke-width="26" stroke-linejoin="round" opacity="0.9"/>
<path d="M1956.49,83.38 C1954.79,79.06 1959.42,75.66 1962.05,74.12 C1964.67,72.57 1970.54,69.79 1972.24,74.12 C1973.94,78.44 1974.86,98.51 1972.24,100.06 C1969.61,101.6 1958.19,87.7 1956.49,83.38Z" fill="none" stroke="#f0f0f0" stroke-width="26" stroke-linejoin="round" opacity="0.9"/>
<path d="M1958.34,148.23 C1959.58,143.91 1963.44,142.05 1965.75,140.82 C1968.07,139.58 1971.16,136.19 1972.24,140.82 C1973.32,145.45 1974.55,164.29 1972.24,168.61 C1969.92,172.94 1960.66,170.16 1958.34,166.76 C1956.03,163.36 1957.11,152.55 1958.34,148.23Z" fill="none" stroke="#f0f0f0" stroke-width="26" stroke-linejoin="round" opacity="0.9"/>
<path d="M1444.94,175.55 C1454.88,168.84 1493.49,173.47 1504.58,175.55 C1515.68,177.63 1510.13,183.18 1511.52,188.03 C1512.91,192.89 1513.6,202.14 1512.91,204.68 C1512.21,207.22 1510.13,203.06 1507.36,203.29 C1504.58,203.52 1499.03,203.52 1496.26,206.07 C1493.49,208.61 1494.64,216.01 1490.71,218.55 C1486.78,221.09 1478,221.79 1472.68,221.32 C1467.36,220.86 1463.43,216.7 1458.81,215.78 C1454.18,214.85 1447.25,222.48 1444.94,215.78 C1442.62,209.07 1434.99,182.25 1444.94,175.55Z" fill="none" stroke="#f0f0f0" stroke-width="26" stroke-linejoin="round" opacity="0.9"/>
<path d="M1444.94,229.65 C1447.25,217.86 1452.33,229.19 1458.81,231.03 C1465.28,232.88 1478.69,237.05 1483.78,240.74 C1488.86,244.44 1487.48,249.3 1489.32,253.23 C1491.17,257.16 1494.64,260.63 1494.87,264.33 C1495.1,268.03 1493.26,271.96 1490.71,275.42 C1488.17,278.89 1484.93,281.9 1479.61,285.13 C1474.3,288.37 1464.59,292.07 1458.81,294.84 C1453.03,297.62 1447.25,312.65 1444.94,301.78 C1442.62,290.91 1442.62,241.44 1444.94,229.65Z" fill="none" stroke="#f0f0f0" stroke-width="26" stroke-linejoin="round" opacity="0.9"/>
<path d="M1507.36,204.68 C1509.44,203.75 1511.52,207.22 1515.68,206.07 C1519.84,204.91 1528.63,201.44 1532.33,197.74 C1536.03,194.04 1536.03,186.18 1537.88,183.87 C1539.72,181.56 1541.57,182.02 1543.42,183.87 C1545.27,185.72 1546.2,191.27 1548.97,194.97 C1551.75,198.67 1555.91,204.68 1560.07,206.07 C1564.23,207.45 1570.7,204.68 1573.94,203.29 C1577.18,201.9 1577.87,196.36 1579.49,197.74 C1581.11,199.13 1582.96,206.53 1583.65,211.61 C1584.34,216.7 1581.34,224.79 1583.65,228.26 C1585.96,231.73 1592.21,229.65 1597.52,232.42 C1602.84,235.2 1615.56,241.44 1615.56,244.91 C1615.56,248.37 1602.84,249.53 1597.52,253.23 C1592.21,256.93 1586.19,262.48 1583.65,267.1 C1581.11,271.72 1583.42,277.27 1582.26,280.97 C1581.11,284.67 1579.26,287.91 1576.72,289.3 C1574.17,290.68 1570.47,290.68 1567.01,289.3 C1563.54,287.91 1559.38,284.67 1555.91,280.97 C1552.44,277.27 1548.28,272.19 1546.2,267.1 C1544.12,262.01 1544.81,251.84 1543.42,250.45 C1542.04,249.07 1540.42,256 1537.88,258.78 C1535.33,261.55 1531.4,265.71 1528.17,267.1 C1524.93,268.49 1520.54,270.57 1518.45,267.1 C1516.37,263.63 1517.99,251.84 1515.68,246.29 C1513.37,240.74 1506.66,239.59 1504.58,233.81 C1502.5,228.03 1502.73,216.47 1503.2,211.61 C1503.66,206.76 1505.28,205.6 1507.36,204.68Z" fill="none" stroke="#f0f0f0" stroke-width="26" stroke-linejoin="round" opacity="0.9"/>
<path d="M1585.04,193.58 C1585.73,190.34 1583.19,180.87 1586.43,178.32 C1589.66,175.78 1600.99,175.09 1604.46,178.32 C1607.93,181.56 1607,193.12 1607.23,197.74 C1607.46,202.37 1607.46,203.52 1605.85,206.07 C1604.23,208.61 1601.22,211.15 1597.52,213 C1593.82,214.85 1586.19,219.71 1583.65,217.16 C1581.11,214.62 1582.03,201.67 1582.26,197.74 C1582.5,193.81 1584.34,196.82 1585.04,193.58Z" fill="none" stroke="#f0f0f0" stroke-width="26" stroke-linejoin="round" opacity="0.9"/>
<path d="M1608.62,175.55 C1626.35,173.01 1697.28,167.92 1715.01,175.55 C1732.75,183.18 1719.57,213 1715.01,221.32 C1710.46,229.65 1696.87,224.33 1687.69,225.49 C1678.51,226.64 1666.88,228.26 1659.94,228.26 C1653.01,228.26 1650.7,227.1 1646.07,225.49 C1641.45,223.87 1635.9,222.02 1632.2,218.55 C1628.5,215.08 1626.19,208.61 1623.88,204.68 C1621.57,200.75 1620.87,197.28 1618.33,194.97 C1615.79,192.66 1610.24,194.04 1608.62,190.81 C1607,187.57 1590.89,178.09 1608.62,175.55Z" fill="none" stroke="#f0f0f0" stroke-width="26" stroke-linejoin="round" opacity="0.9"/>
<path d="M1528.17,278.2 C1530.01,274.96 1536.72,274.5 1540.65,275.42 C1544.58,276.35 1547.59,280.51 1551.75,283.75 C1555.91,286.98 1561.92,291.61 1565.62,294.84 C1569.32,298.08 1573.25,300.39 1573.94,303.17 C1574.63,305.94 1573.94,309.87 1569.78,311.49 C1565.62,313.11 1555.21,313.34 1548.97,312.88 C1542.73,312.41 1535.56,311.72 1532.33,308.72 C1529.09,305.71 1530.25,299.93 1529.55,294.84 C1528.86,289.76 1526.32,281.43 1528.17,278.2Z" fill="none" stroke="#f0f0f0" stroke-width="26" stroke-linejoin="round" opacity="0.9"/>
<path d="M1600.3,280.97 C1598.45,279.59 1601.45,270.8 1604.46,267.1 C1607.46,263.4 1613.71,261.55 1618.33,258.78 C1622.95,256 1628.04,250.45 1632.2,250.45 C1636.36,250.45 1641.91,255.08 1643.3,258.78 C1644.69,262.48 1641.91,269.88 1640.52,272.65 C1639.14,275.42 1639.14,274.96 1634.98,275.42 C1630.81,275.89 1621.34,274.5 1615.56,275.42 C1609.78,276.35 1602.15,282.36 1600.3,280.97Z" fill="none" stroke="#f0f0f0" stroke-width="26" stroke-linejoin="round" opacity="0.9"/>
<path d="M1594.75,305.94 C1596.6,302.01 1597.75,297.85 1601.68,294.84 C1605.61,291.84 1611.86,289.3 1618.33,287.91 C1624.8,286.52 1635.9,288.14 1640.52,286.52 C1645.15,284.9 1643.3,280.51 1646.07,278.2 C1648.85,275.89 1653.7,272.19 1657.17,272.65 C1660.64,273.11 1663.64,277.27 1666.88,280.97 C1670.12,284.67 1674.05,290.22 1676.59,294.84 C1679.13,299.47 1681.21,303.63 1682.14,308.72 C1683.06,313.8 1683.53,322.12 1682.14,325.36 C1680.75,328.6 1677.52,328.6 1673.82,328.14 C1670.12,327.67 1666.42,324.44 1659.94,322.59 C1653.47,320.74 1641.91,318.19 1634.98,317.04 C1628.04,315.88 1625.73,315.42 1618.33,315.65 C1610.93,315.88 1594.52,320.04 1590.59,318.43 C1586.66,316.81 1592.9,309.87 1594.75,305.94Z" fill="none" stroke="#f0f0f0" stroke-width="26" stroke-linejoin="round" opacity="0.9"/>
<path d="M1668.27,260.17 C1668.96,256 1676.36,255.77 1680.75,256 C1685.14,256.23 1688.91,259.24 1694.62,261.55 C1700.33,263.86 1711.62,259.24 1715.01,269.88 C1718.41,280.51 1717.72,317.04 1715.01,325.36 C1712.31,333.68 1703.34,323.74 1698.79,319.81 C1694.23,315.88 1691.39,308.25 1687.69,301.78 C1683.99,295.31 1679.83,287.91 1676.59,280.97 C1673.35,274.04 1667.57,264.33 1668.27,260.17Z" fill="none" stroke="#f0f0f0" stroke-width="26" stroke-linejoin="round" opacity="0.9"/>
<path d="M1676.59,242.13 C1677.75,240.05 1683.53,235.66 1687.69,233.81 C1691.85,231.96 1697,231.73 1701.56,231.03 C1706.11,230.34 1712.77,226.18 1715.01,229.65 C1717.26,233.12 1718.41,248.37 1715.01,251.84 C1711.62,255.31 1700.33,251.38 1694.62,250.45 C1688.91,249.53 1683.76,247.68 1680.75,246.29 C1677.75,244.91 1675.43,244.21 1676.59,242.13Z" fill="none" stroke="#f0f0f0" stroke-width="26" stroke-linejoin="round" opacity="0.9"/>
<path d="M1444.94,317.04 C1447.25,310.33 1453.03,306.87 1458.81,303.17 C1464.59,299.47 1473.83,296.46 1479.61,294.84 C1485.39,293.23 1489.32,291.84 1493.49,293.46 C1497.65,295.08 1502.5,299.7 1504.58,304.55 C1506.66,309.41 1506.2,318.43 1505.97,322.59 C1505.74,326.75 1505.28,328.14 1503.2,329.52 C1501.12,330.91 1496.72,330.22 1493.49,330.91 C1490.25,331.6 1487.24,331.83 1483.78,333.68 C1480.31,335.53 1476.84,341.08 1472.68,342.01 C1468.52,342.93 1463.43,339 1458.81,339.23 C1454.18,339.46 1447.25,347.09 1444.94,343.39 C1442.62,339.7 1442.62,323.74 1444.94,317.04Z" fill="none" stroke="#f0f0f0" stroke-width="26" stroke-linejoin="round" opacity="0.9"/>
<path d="M1499.03,350.33 C1498.57,344.32 1498.57,337.15 1500.42,333.68 C1502.27,330.22 1506.66,331.37 1510.13,329.52 C1513.6,327.67 1512.44,323.51 1521.23,322.59 C1530.01,321.66 1554.52,322.82 1562.84,323.97 C1571.17,325.13 1569.55,326.29 1571.17,329.52 C1572.79,332.76 1573.94,338.77 1572.55,343.39 C1571.17,348.02 1565.62,352.87 1562.84,357.27 C1560.07,361.66 1565.85,367.67 1555.91,369.75 C1545.97,371.83 1512.68,372.99 1503.2,369.75 C1493.72,366.51 1499.5,356.34 1499.03,350.33Z" fill="none" stroke="#f0f0f0" stroke-width="26" stroke-linejoin="round" opacity="0.9"/>
<path d="M1576.72,369.75 C1573.25,366.98 1578.57,356.8 1580.88,353.1 C1583.19,349.41 1587.12,347.56 1590.59,347.56 C1594.05,347.56 1599.83,349.41 1601.68,353.1 C1603.53,356.8 1605.85,366.98 1601.68,369.75 C1597.52,372.52 1580.18,372.52 1576.72,369.75Z" fill="none" stroke="#f0f0f0" stroke-width="26" stroke-linejoin="round" opacity="0.9"/>
<path d="M1601.68,332.3 C1603.07,331.14 1607.7,327.21 1612.78,326.75 C1617.87,326.29 1624.34,328.37 1632.2,329.52 C1640.06,330.68 1650.7,332.53 1659.94,333.68 C1669.19,334.84 1678.51,335.07 1687.69,336.46 C1696.87,337.85 1710.46,337.85 1715.01,342.01 C1719.57,346.17 1718.41,358.19 1715.01,361.43 C1711.62,364.66 1701.49,362.12 1694.62,361.43 C1687.76,360.73 1679.6,358.65 1673.82,357.27 C1668.04,355.88 1664.57,354.72 1659.94,353.1 C1655.32,351.49 1650.7,349.41 1646.07,347.56 C1641.45,345.71 1636.83,344.09 1632.2,342.01 C1627.58,339.93 1622.95,336.46 1618.33,335.07 C1613.71,333.68 1607.23,334.15 1604.46,333.68 C1601.68,333.22 1600.3,333.45 1601.68,332.3Z" fill="none" stroke="#f0f0f0" stroke-width="26" stroke-linejoin="round" opacity="0.9"/>
<path d="M1444.94,355.88 C1447.25,354.49 1451.87,359.12 1458.81,361.43 C1465.74,363.74 1488.86,368.36 1486.55,369.75 C1484.24,371.14 1451.87,372.06 1444.94,369.75 C1438,367.44 1442.62,357.27 1444.94,355.88Z" fill="none" stroke="#f0f0f0" stroke-width="26" stroke-linejoin="round" opacity="0.9"/>
<path d="M1618.33,369.75 C1613.71,368.36 1626.42,362.58 1632.2,361.43 C1637.98,360.27 1648.39,361.43 1653.01,362.81 C1657.63,364.2 1665.72,368.59 1659.94,369.75 C1654.16,370.91 1622.95,371.14 1618.33,369.75Z" fill="none" stroke="#f0f0f0" stroke-width="26" stroke-linejoin="round" opacity="0.9"/>
<path d="M1700,170 C1707.48,161.59 1737.16,165.33 1744.87,170 C1752.58,174.67 1746.97,191.03 1746.27,198.04 C1745.57,205.05 1744.87,208.56 1740.66,212.06 C1736.46,215.57 1727.81,217.67 1721.03,219.07 C1714.26,220.48 1703.51,228.66 1700,220.48 C1696.49,212.3 1692.52,178.41 1700,170Z" fill="none" stroke="#f0f0f0" stroke-width="26" stroke-linejoin="round" opacity="0.9"/>
<path d="M1760.29,170 C1761.46,164.63 1765.43,167.66 1767.3,170 C1769.17,172.34 1770.11,180.28 1771.51,184.02 C1772.91,187.76 1775.48,188.93 1775.72,192.43 C1775.95,195.94 1774.31,201.78 1772.91,205.05 C1771.51,208.32 1769.41,212.53 1767.3,212.06 C1765.2,211.6 1761.46,209.26 1760.29,202.25 C1759.12,195.24 1759.12,175.37 1760.29,170Z" fill="none" stroke="#f0f0f0" stroke-width="26" stroke-linejoin="round" opacity="0.9"/>
<path d="M1786.93,170 C1788.8,168.83 1798.85,168.36 1803.76,170 C1808.67,171.64 1814.51,177.01 1816.38,179.81 C1818.25,182.62 1817.31,185.89 1814.97,186.83 C1812.64,187.76 1806.09,187.06 1802.36,185.42 C1798.62,183.79 1795.11,179.58 1792.54,177.01 C1789.97,174.44 1785.06,171.17 1786.93,170Z" fill="none" stroke="#f0f0f0" stroke-width="26" stroke-linejoin="round" opacity="0.9"/>
<path d="M1700,228.89 C1702.34,225.38 1708.18,229.82 1714.02,228.89 C1719.86,227.95 1728.51,225.15 1735.05,223.28 C1741.6,221.41 1749.54,217.21 1753.28,217.67 C1757.02,218.14 1757.25,223.05 1757.49,226.09 C1757.72,229.12 1757.25,233.1 1754.68,235.9 C1752.11,238.7 1746.5,240.81 1742.06,242.91 C1737.62,245.01 1732.72,247.12 1728.04,248.52 C1723.37,249.92 1718.7,251.09 1714.02,251.32 C1709.35,251.56 1702.34,253.66 1700,249.92 C1697.66,246.18 1697.66,232.39 1700,228.89Z" fill="none" stroke="#f0f0f0" stroke-width="26" stroke-linejoin="round" opacity="0.9"/>
<path d="M1737.86,276.56 C1736.46,270.49 1737.62,261.84 1740.66,256.93 C1743.7,252.02 1751.18,250.62 1756.09,247.12 C1760.99,243.61 1764.97,238 1770.11,235.9 C1775.25,233.8 1782.73,233.8 1786.93,234.5 C1791.14,235.2 1793.01,236.83 1795.34,240.11 C1797.68,243.38 1800.02,247.12 1800.95,254.13 C1801.89,261.14 1801.65,273.99 1800.95,282.17 C1800.25,290.35 1799.08,298.06 1796.75,303.2 C1794.41,308.34 1791.84,311.15 1786.93,313.02 C1782.02,314.89 1771.28,315.35 1767.3,314.42 C1763.33,313.48 1766.13,310.91 1763.1,307.41 C1760.06,303.9 1753.28,298.53 1749.07,293.39 C1744.87,288.25 1739.26,282.64 1737.86,276.56Z" fill="none" stroke="#f0f0f0" stroke-width="26" stroke-linejoin="round" opacity="0.9"/>
<path d="M1805.16,293.39 C1804.69,287.31 1808.67,282.87 1809.37,275.16 C1810.07,267.45 1807.96,252.96 1809.37,247.12 C1810.77,241.28 1814.51,241.28 1817.78,240.11 C1821.05,238.94 1825.72,238.7 1829,240.11 C1832.27,241.51 1835.54,245.72 1837.41,248.52 C1839.28,251.32 1840.91,255.06 1840.21,256.93 C1839.51,258.8 1834.37,257.87 1833.2,259.74 C1832.03,261.61 1831.33,266.75 1833.2,268.15 C1835.07,269.55 1841.38,266.98 1844.42,268.15 C1847.46,269.32 1849.79,271.42 1851.43,275.16 C1853.07,278.9 1854.23,285.91 1854.23,290.58 C1854.23,295.26 1852.83,298.76 1851.43,303.2 C1850.03,307.64 1847.46,314.19 1845.82,317.22 C1844.19,320.26 1845.35,320.96 1841.62,321.43 C1837.88,321.9 1828.3,321.66 1823.39,320.03 C1818.48,318.39 1815.21,316.06 1812.17,311.62 C1809.13,307.18 1805.63,299.46 1805.16,293.39Z" fill="none" stroke="#f0f0f0" stroke-width="26" stroke-linejoin="round" opacity="0.9"/>
<path d="M1837.41,191.03 C1837.41,187.99 1822.92,173.51 1840.21,170 C1857.51,166.49 1923.41,169.07 1941.17,170 C1958.93,170.93 1942.57,174.67 1946.78,175.61 C1950.98,176.54 1962.67,174.21 1966.4,175.61 C1970.14,177.01 1968.74,175.61 1969.21,184.02 C1969.68,192.43 1970.14,221.41 1969.21,226.09 C1968.27,230.76 1965.94,216.74 1963.6,212.06 C1961.26,207.39 1957.52,202.25 1955.19,198.04 C1952.85,193.84 1951.92,186.83 1949.58,186.83 C1947.24,186.83 1943.04,195 1941.17,198.04 C1939.3,201.08 1945.84,203.65 1938.36,205.05 C1930.88,206.46 1909.38,205.99 1896.3,206.46 C1883.21,206.92 1866.39,210.43 1859.84,207.86 C1853.3,205.29 1858.44,194.54 1857.04,191.03 C1855.64,187.53 1854.23,187.29 1851.43,186.83 C1848.63,186.36 1842.55,187.53 1840.21,188.23 C1837.88,188.93 1837.41,194.07 1837.41,191.03Z" fill="none" stroke="#f0f0f0" stroke-width="26" stroke-linejoin="round" opacity="0.9"/>
<path d="M1872.46,235.9 C1873.16,230.99 1877.14,227.72 1882.28,224.68 C1887.42,221.65 1896.3,219.07 1903.31,217.67 C1910.32,216.27 1916.16,216.27 1924.34,216.27 C1932.52,216.27 1945.84,215.57 1952.38,217.67 C1958.93,219.78 1961.73,223.75 1963.6,228.89 C1965.47,234.03 1964.54,243.14 1963.6,248.52 C1962.67,253.89 1962.2,257.87 1957.99,261.14 C1953.79,264.41 1946.31,266.98 1938.36,268.15 C1930.42,269.32 1918.5,268.62 1910.32,268.15 C1902.14,267.68 1894.66,267.68 1889.29,265.34 C1883.91,263.01 1880.87,259.04 1878.07,254.13 C1875.27,249.22 1871.76,240.81 1872.46,235.9Z" fill="none" stroke="#f0f0f0" stroke-width="26" stroke-linejoin="round" opacity="0.9"/>
<path d="M1879.47,280.77 C1880.64,278.2 1881.81,277.96 1889.29,277.96 C1896.77,277.96 1911.49,280.3 1924.34,280.77 C1937.19,281.24 1960.56,279.37 1966.4,280.77 C1972.25,282.17 1962.9,285.91 1959.39,289.18 C1955.89,292.45 1951.22,297.59 1945.37,300.4 C1939.53,303.2 1931.35,304.37 1924.34,306.01 C1917.33,307.64 1909.15,310.45 1903.31,310.21 C1897.47,309.98 1892.79,307.41 1889.29,304.6 C1885.78,301.8 1883.91,297.36 1882.28,293.39 C1880.64,289.41 1878.3,283.34 1879.47,280.77Z" fill="none" stroke="#f0f0f0" stroke-width="26" stroke-linejoin="round" opacity="0.9"/>
<path d="M1700,270.95 C1703.51,263.48 1715.19,272.82 1721.03,276.56 C1726.87,280.3 1730.85,287.78 1735.05,293.39 C1739.26,299 1744.17,305.54 1746.27,310.21 C1748.37,314.89 1748.84,318.39 1747.67,321.43 C1746.5,324.47 1743.7,327.51 1739.26,328.44 C1734.82,329.38 1727.58,328.21 1721.03,327.04 C1714.49,325.87 1703.51,330.78 1700,321.43 C1696.49,312.08 1696.49,278.43 1700,270.95Z" fill="none" stroke="#f0f0f0" stroke-width="26" stroke-linejoin="round" opacity="0.9"/>
<path d="M1774.31,324.23 C1773.38,321.66 1773.85,320.73 1778.52,320.03 C1783.19,319.33 1795.58,318.16 1802.36,320.03 C1809.13,321.9 1814.97,327.51 1819.18,331.25 C1823.39,334.98 1827.59,339.89 1827.59,342.46 C1827.59,345.03 1823.62,345.73 1819.18,346.67 C1814.74,347.6 1803.52,346.67 1800.95,348.07 C1798.38,349.47 1801.89,352.98 1803.76,355.08 C1805.63,357.18 1813.11,358.82 1812.17,360.69 C1811.24,362.56 1804.69,365.36 1798.15,366.3 C1791.61,367.23 1778.29,368.64 1772.91,366.3 C1767.54,363.96 1766.37,355.55 1765.9,352.28 C1765.43,349.01 1766.37,347.84 1770.11,346.67 C1773.85,345.5 1786,347.14 1788.33,345.27 C1790.67,343.4 1786.46,338.96 1784.13,335.45 C1781.79,331.95 1775.25,326.81 1774.31,324.23Z" fill="none" stroke="#f0f0f0" stroke-width="26" stroke-linejoin="round" opacity="0.9"/>
<path d="M1945.37,310.21 C1946.54,307.88 1955.42,302.27 1959.39,300.4 C1963.37,298.53 1967.57,296.66 1969.21,299 C1970.85,301.33 1972.01,311.85 1969.21,314.42 C1966.4,316.99 1956.36,315.12 1952.38,314.42 C1948.41,313.72 1944.2,312.55 1945.37,310.21Z" fill="none" stroke="#f0f0f0" stroke-width="26" stroke-linejoin="round" opacity="0.9"/>
<path d="M1862.65,308.81 C1861.25,306.01 1864.98,294.09 1866.85,293.39 C1868.72,292.69 1872.46,301.8 1873.86,304.6 C1875.27,307.41 1877.14,309.51 1875.27,310.21 C1873.4,310.91 1864.05,311.62 1862.65,308.81Z" fill="none" stroke="#f0f0f0" stroke-width="26" stroke-linejoin="round" opacity="0.9"/>
<path d="M1788.33,228.89 C1787.17,226.79 1793.01,216.27 1795.34,216.27 C1797.68,216.27 1803.52,226.79 1802.36,228.89 C1801.19,230.99 1789.5,230.99 1788.33,228.89Z" fill="none" stroke="#f0f0f0" stroke-width="26" stroke-linejoin="round" opacity="0.9"/>
<path d="M1700,338.26 C1702.34,335.22 1710.52,342.7 1714.02,343.86 C1717.53,345.03 1721.5,343.86 1721.03,345.27 C1720.56,346.67 1713.32,349.71 1711.22,352.28 C1709.11,354.85 1710.28,359.05 1708.41,360.69 C1706.54,362.33 1701.4,365.83 1700,362.09 C1698.6,358.35 1697.66,341.29 1700,338.26Z" fill="none" stroke="#f0f0f0" stroke-width="26" stroke-linejoin="round" opacity="0.9"/>
<path d="M1955.19,356.48 C1955.66,354.85 1958.46,351.81 1960.8,350.87 C1963.13,349.94 1967.81,349.01 1969.21,350.87 C1970.61,352.74 1971.08,360.46 1969.21,362.09 C1967.34,363.73 1960.33,361.62 1957.99,360.69 C1955.66,359.76 1954.72,358.12 1955.19,356.48Z" fill="none" stroke="#f0f0f0" stroke-width="26" stroke-linejoin="round" opacity="0.9"/>
<rect x="1442" y="3" width="531.5" height="367.5" filter="url(#tex)" opacity="0.5" style="mix-blend-mode:overlay"/>
<path d="M1617.41,4.63 C1623.9,0.77 1649.84,2.32 1656.32,4.63 C1662.81,6.95 1658.48,15.29 1656.32,18.53 C1654.16,21.77 1649.84,22.54 1643.35,24.09 C1636.87,25.63 1621.73,31.04 1617.41,27.79 C1613.09,24.55 1610.93,8.49 1617.41,4.63Z" fill="none" stroke="#485d7e" stroke-width="9" stroke-linejoin="round"/>
<path d="M1617.41,37.06 C1623.28,34.28 1645.2,33.97 1652.62,37.06 C1660.03,40.15 1662.81,53.12 1661.88,55.59 C1660.95,58.06 1651.07,53.12 1647.06,51.88 C1643.04,50.65 1640.88,47.87 1637.79,48.17 C1634.71,48.48 1631.93,52.81 1628.53,53.73 C1625.13,54.66 1619.26,56.51 1617.41,53.73 C1615.56,50.95 1611.54,39.84 1617.41,37.06Z" fill="none" stroke="#485d7e" stroke-width="9" stroke-linejoin="round"/>
<path d="M1665.59,22.23 C1666.2,15.6 1666.82,9.26 1673,6.49 C1679.17,3.71 1693.38,2.93 1702.64,5.56 C1711.91,8.18 1727.35,19.15 1728.58,22.23 C1729.82,25.32 1712.22,18.53 1710.06,24.09 C1707.89,29.65 1715.61,46.32 1715.61,55.59 C1715.61,64.85 1714.69,75.04 1710.06,79.67 C1705.42,84.31 1694.31,84.31 1687.82,83.38 C1681.34,82.45 1674.23,80.29 1671.15,74.12 C1668.06,67.94 1670.22,54.97 1669.29,46.32 C1668.37,37.68 1664.97,28.87 1665.59,22.23Z" fill="none" stroke="#485d7e" stroke-width="9" stroke-linejoin="round"/>
<path d="M1630.38,83.38 C1632.23,81.53 1635.01,77.2 1641.5,77.82 C1647.98,78.44 1660.34,83.38 1669.29,87.09 C1678.25,90.79 1689.67,95.42 1695.23,100.06 C1700.79,104.69 1704.5,111.79 1702.64,114.88 C1700.79,117.97 1691.84,118.89 1684.12,118.58 C1676.39,118.28 1662.5,115.81 1656.32,113.03 C1650.15,110.25 1651.38,105.92 1647.06,101.91 C1642.73,97.89 1633.16,92.03 1630.38,88.94 C1627.6,85.85 1628.53,85.23 1630.38,83.38Z" fill="none" stroke="#485d7e" stroke-width="9" stroke-linejoin="round"/>
<path d="M1728.58,70.41 C1728.89,66.09 1729.82,54.04 1732.29,48.17 C1734.76,42.31 1741.25,35.2 1743.41,35.2 C1745.57,35.2 1745.88,43.23 1745.26,48.17 C1744.64,53.12 1742.17,60.53 1739.7,64.85 C1737.23,69.17 1732.29,73.19 1730.44,74.12 C1728.58,75.04 1728.28,74.73 1728.58,70.41Z" fill="none" stroke="#485d7e" stroke-width="9" stroke-linejoin="round"/>
<path d="M1773.05,55.59 C1773.05,50.65 1774.6,43.54 1776.76,40.76 C1778.92,37.98 1782.94,37.06 1786.02,38.91 C1789.11,40.76 1793.74,47.56 1795.29,51.88 C1796.83,56.2 1796.83,61.45 1795.29,64.85 C1793.74,68.25 1789.11,71.34 1786.02,72.26 C1782.94,73.19 1778.92,73.19 1776.76,70.41 C1774.6,67.63 1773.05,60.53 1773.05,55.59Z" fill="none" stroke="#485d7e" stroke-width="9" stroke-linejoin="round"/>
<path d="M1728.58,90.79 C1728.58,87.7 1735.69,80.91 1739.7,77.82 C1743.72,74.73 1749.89,72.26 1752.67,72.26 C1755.45,72.26 1756.69,75.04 1756.38,77.82 C1756.07,80.6 1753.6,85.85 1750.82,88.94 C1748.04,92.03 1743.41,96.04 1739.7,96.35 C1736,96.66 1728.58,93.88 1728.58,90.79Z" fill="none" stroke="#485d7e" stroke-width="9" stroke-linejoin="round"/>
<path d="M1750.82,111.17 C1750.51,106.23 1752.05,102.53 1756.38,98.2 C1760.7,93.88 1773.05,85.54 1776.76,85.23 C1780.47,84.92 1777.99,93.26 1778.61,96.35 C1779.23,99.44 1781.08,101.29 1780.47,103.76 C1779.85,106.23 1776.14,107.16 1774.91,111.17 C1773.67,115.19 1775.83,125.07 1773.05,127.85 C1770.27,130.63 1761.94,130.63 1758.23,127.85 C1754.52,125.07 1751.13,116.11 1750.82,111.17Z" fill="none" stroke="#485d7e" stroke-width="9" stroke-linejoin="round"/>
<path d="M1804.55,4.63 C1817.52,-0.15 1871.57,0.77 1884.23,4.63 C1896.89,8.49 1886.08,22.39 1880.52,27.79 C1874.96,33.2 1858.29,35.82 1850.87,37.06 C1843.46,38.29 1838.21,36.75 1836.05,35.2 C1833.89,33.66 1840.07,27.48 1837.9,27.79 C1835.74,28.1 1828.33,36.13 1823.08,37.06 C1817.83,37.98 1809.49,38.76 1806.41,33.35 C1803.32,27.95 1791.58,9.42 1804.55,4.63Z" fill="none" stroke="#485d7e" stroke-width="9" stroke-linejoin="round"/>
<path d="M1895.34,4.63 C1907.7,1.39 1958.96,0.46 1971.31,4.63 C1983.66,8.8 1972.55,25.79 1969.46,29.65 C1966.37,33.51 1957.72,26.56 1952.78,27.79 C1947.84,29.03 1945.99,36.13 1939.81,37.06 C1933.64,37.98 1922.83,35.51 1915.73,33.35 C1908.62,31.19 1900.59,28.87 1897.2,24.09 C1893.8,19.3 1882.99,7.87 1895.34,4.63Z" fill="none" stroke="#485d7e" stroke-width="9" stroke-linejoin="round"/>
<path d="M1819.38,53.73 C1820.92,51.57 1827.4,46.32 1832.35,44.47 C1837.29,42.62 1841.3,42.93 1849.02,42.62 C1856.74,42.31 1867.86,42.31 1878.67,42.62 C1889.48,42.93 1903.68,43.54 1913.87,44.47 C1924.06,45.4 1934.87,46.32 1939.81,48.17 C1944.75,50.03 1945.99,52.81 1943.52,55.59 C1941.05,58.37 1934.25,63.92 1924.99,64.85 C1915.73,65.78 1900.28,62.07 1887.93,61.15 C1875.58,60.22 1861.68,59.91 1850.87,59.29 C1840.07,58.67 1828.33,58.37 1823.08,57.44 C1817.83,56.51 1817.83,55.9 1819.38,53.73Z" fill="none" stroke="#485d7e" stroke-width="9" stroke-linejoin="round"/>
<path d="M1784.17,107.47 C1786.02,99.75 1790.04,89.25 1793.44,83.38 C1796.83,77.51 1799.61,74.42 1804.55,72.26 C1809.49,70.1 1815.36,70.1 1823.08,70.41 C1830.8,70.72 1840.07,73.19 1850.87,74.12 C1861.68,75.04 1877.12,74.73 1887.93,75.97 C1898.74,77.2 1909.55,78.75 1915.73,81.53 C1921.9,84.31 1924.68,88.63 1924.99,92.64 C1925.3,96.66 1922.21,101.91 1917.58,105.61 C1912.95,109.32 1904.61,112.1 1897.2,114.88 C1889.79,117.66 1879.9,119.2 1873.11,122.29 C1866.32,125.38 1861.68,128.16 1856.43,133.41 C1851.18,138.66 1846.24,148.85 1841.61,153.79 C1836.98,158.73 1833.89,161.82 1828.64,163.05 C1823.39,164.29 1815.98,163.67 1810.11,161.2 C1804.24,158.73 1798.07,153.48 1793.44,148.23 C1788.8,142.98 1783.86,136.5 1782.32,129.7 C1780.77,122.91 1782.32,115.19 1784.17,107.47Z" fill="none" stroke="#485d7e" stroke-width="9" stroke-linejoin="round"/>
<path d="M1621.12,148.23 C1622.35,138.66 1624.21,137.42 1628.53,133.41 C1632.85,129.39 1637.79,125.38 1647.06,124.14 C1656.32,122.91 1673.31,124.45 1684.12,126 C1694.92,127.54 1704.19,130.32 1711.91,133.41 C1719.63,136.5 1725.19,140.2 1730.44,144.52 C1735.69,148.85 1740.94,151.63 1743.41,159.35 C1745.88,167.07 1765.64,185.6 1745.26,190.85 C1724.88,196.1 1641.81,197.95 1621.12,190.85 C1600.43,183.74 1619.88,157.8 1621.12,148.23Z" fill="none" stroke="#485d7e" stroke-width="9" stroke-linejoin="round"/>
<path d="M1732.29,127.85 C1732.91,126.61 1734.76,125.07 1737.85,127.85 C1740.94,130.63 1748.35,140.2 1750.82,144.52 C1753.29,148.85 1753.29,152.55 1752.67,153.79 C1752.05,155.02 1750.2,155.02 1747.11,151.94 C1744.03,148.85 1736.61,139.27 1734.14,135.26 C1731.67,131.25 1731.67,129.08 1732.29,127.85Z" fill="none" stroke="#485d7e" stroke-width="9" stroke-linejoin="round"/>
<path d="M1776.76,155.64 C1775.52,152.25 1777.38,150.7 1780.47,151.94 C1783.55,153.17 1790.35,159.04 1795.29,163.05 C1800.23,167.07 1806.71,172.32 1810.11,176.02 C1813.51,179.73 1816.6,183.74 1815.67,185.29 C1814.74,186.83 1809.18,187.45 1804.55,185.29 C1799.92,183.13 1792.51,177.26 1787.88,172.32 C1783.24,167.38 1777.99,159.04 1776.76,155.64Z" fill="none" stroke="#485d7e" stroke-width="9" stroke-linejoin="round"/>
<path d="M1837.9,190.85 C1820.61,185.6 1844.39,168.3 1849.02,159.35 C1853.65,150.39 1859.21,142.67 1865.7,137.11 C1872.18,131.55 1879.59,129.08 1887.93,126 C1896.27,122.91 1906.46,120.75 1915.73,118.58 C1924.99,116.42 1935.8,113.64 1943.52,113.03 C1951.24,112.41 1958.34,112.1 1962.05,114.88 C1965.75,117.66 1966.37,125.38 1965.75,129.7 C1965.14,134.03 1961.12,137.73 1958.34,140.82 C1955.56,143.91 1950,143.91 1949.08,148.23 C1948.15,152.55 1953.71,162.13 1952.78,166.76 C1951.86,171.39 1943.52,172.01 1943.52,176.02 C1943.52,180.04 1970.39,188.38 1952.78,190.85 C1935.18,193.32 1855.2,196.1 1837.9,190.85Z" fill="none" stroke="#485d7e" stroke-width="9" stroke-linejoin="round"/>
<path d="M1956.49,83.38 C1954.79,79.06 1959.42,75.66 1962.05,74.12 C1964.67,72.57 1970.54,69.79 1972.24,74.12 C1973.94,78.44 1974.86,98.51 1972.24,100.06 C1969.61,101.6 1958.19,87.7 1956.49,83.38Z" fill="none" stroke="#485d7e" stroke-width="9" stroke-linejoin="round"/>
<path d="M1958.34,148.23 C1959.58,143.91 1963.44,142.05 1965.75,140.82 C1968.07,139.58 1971.16,136.19 1972.24,140.82 C1973.32,145.45 1974.55,164.29 1972.24,168.61 C1969.92,172.94 1960.66,170.16 1958.34,166.76 C1956.03,163.36 1957.11,152.55 1958.34,148.23Z" fill="none" stroke="#485d7e" stroke-width="9" stroke-linejoin="round"/>
<path d="M1444.94,175.55 C1454.88,168.84 1493.49,173.47 1504.58,175.55 C1515.68,177.63 1510.13,183.18 1511.52,188.03 C1512.91,192.89 1513.6,202.14 1512.91,204.68 C1512.21,207.22 1510.13,203.06 1507.36,203.29 C1504.58,203.52 1499.03,203.52 1496.26,206.07 C1493.49,208.61 1494.64,216.01 1490.71,218.55 C1486.78,221.09 1478,221.79 1472.68,221.32 C1467.36,220.86 1463.43,216.7 1458.81,215.78 C1454.18,214.85 1447.25,222.48 1444.94,215.78 C1442.62,209.07 1434.99,182.25 1444.94,175.55Z" fill="none" stroke="#485d7e" stroke-width="9" stroke-linejoin="round"/>
<path d="M1444.94,229.65 C1447.25,217.86 1452.33,229.19 1458.81,231.03 C1465.28,232.88 1478.69,237.05 1483.78,240.74 C1488.86,244.44 1487.48,249.3 1489.32,253.23 C1491.17,257.16 1494.64,260.63 1494.87,264.33 C1495.1,268.03 1493.26,271.96 1490.71,275.42 C1488.17,278.89 1484.93,281.9 1479.61,285.13 C1474.3,288.37 1464.59,292.07 1458.81,294.84 C1453.03,297.62 1447.25,312.65 1444.94,301.78 C1442.62,290.91 1442.62,241.44 1444.94,229.65Z" fill="none" stroke="#485d7e" stroke-width="9" stroke-linejoin="round"/>
<path d="M1507.36,204.68 C1509.44,203.75 1511.52,207.22 1515.68,206.07 C1519.84,204.91 1528.63,201.44 1532.33,197.74 C1536.03,194.04 1536.03,186.18 1537.88,183.87 C1539.72,181.56 1541.57,182.02 1543.42,183.87 C1545.27,185.72 1546.2,191.27 1548.97,194.97 C1551.75,198.67 1555.91,204.68 1560.07,206.07 C1564.23,207.45 1570.7,204.68 1573.94,203.29 C1577.18,201.9 1577.87,196.36 1579.49,197.74 C1581.11,199.13 1582.96,206.53 1583.65,211.61 C1584.34,216.7 1581.34,224.79 1583.65,228.26 C1585.96,231.73 1592.21,229.65 1597.52,232.42 C1602.84,235.2 1615.56,241.44 1615.56,244.91 C1615.56,248.37 1602.84,249.53 1597.52,253.23 C1592.21,256.93 1586.19,262.48 1583.65,267.1 C1581.11,271.72 1583.42,277.27 1582.26,280.97 C1581.11,284.67 1579.26,287.91 1576.72,289.3 C1574.17,290.68 1570.47,290.68 1567.01,289.3 C1563.54,287.91 1559.38,284.67 1555.91,280.97 C1552.44,277.27 1548.28,272.19 1546.2,267.1 C1544.12,262.01 1544.81,251.84 1543.42,250.45 C1542.04,249.07 1540.42,256 1537.88,258.78 C1535.33,261.55 1531.4,265.71 1528.17,267.1 C1524.93,268.49 1520.54,270.57 1518.45,267.1 C1516.37,263.63 1517.99,251.84 1515.68,246.29 C1513.37,240.74 1506.66,239.59 1504.58,233.81 C1502.5,228.03 1502.73,216.47 1503.2,211.61 C1503.66,206.76 1505.28,205.6 1507.36,204.68Z" fill="none" stroke="#485d7e" stroke-width="9" stroke-linejoin="round"/>
<path d="M1585.04,193.58 C1585.73,190.34 1583.19,180.87 1586.43,178.32 C1589.66,175.78 1600.99,175.09 1604.46,178.32 C1607.93,181.56 1607,193.12 1607.23,197.74 C1607.46,202.37 1607.46,203.52 1605.85,206.07 C1604.23,208.61 1601.22,211.15 1597.52,213 C1593.82,214.85 1586.19,219.71 1583.65,217.16 C1581.11,214.62 1582.03,201.67 1582.26,197.74 C1582.5,193.81 1584.34,196.82 1585.04,193.58Z" fill="none" stroke="#485d7e" stroke-width="9" stroke-linejoin="round"/>
<path d="M1608.62,175.55 C1626.35,173.01 1697.28,167.92 1715.01,175.55 C1732.75,183.18 1719.57,213 1715.01,221.32 C1710.46,229.65 1696.87,224.33 1687.69,225.49 C1678.51,226.64 1666.88,228.26 1659.94,228.26 C1653.01,228.26 1650.7,227.1 1646.07,225.49 C1641.45,223.87 1635.9,222.02 1632.2,218.55 C1628.5,215.08 1626.19,208.61 1623.88,204.68 C1621.57,200.75 1620.87,197.28 1618.33,194.97 C1615.79,192.66 1610.24,194.04 1608.62,190.81 C1607,187.57 1590.89,178.09 1608.62,175.55Z" fill="none" stroke="#485d7e" stroke-width="9" stroke-linejoin="round"/>
<path d="M1528.17,278.2 C1530.01,274.96 1536.72,274.5 1540.65,275.42 C1544.58,276.35 1547.59,280.51 1551.75,283.75 C1555.91,286.98 1561.92,291.61 1565.62,294.84 C1569.32,298.08 1573.25,300.39 1573.94,303.17 C1574.63,305.94 1573.94,309.87 1569.78,311.49 C1565.62,313.11 1555.21,313.34 1548.97,312.88 C1542.73,312.41 1535.56,311.72 1532.33,308.72 C1529.09,305.71 1530.25,299.93 1529.55,294.84 C1528.86,289.76 1526.32,281.43 1528.17,278.2Z" fill="none" stroke="#485d7e" stroke-width="9" stroke-linejoin="round"/>
<path d="M1600.3,280.97 C1598.45,279.59 1601.45,270.8 1604.46,267.1 C1607.46,263.4 1613.71,261.55 1618.33,258.78 C1622.95,256 1628.04,250.45 1632.2,250.45 C1636.36,250.45 1641.91,255.08 1643.3,258.78 C1644.69,262.48 1641.91,269.88 1640.52,272.65 C1639.14,275.42 1639.14,274.96 1634.98,275.42 C1630.81,275.89 1621.34,274.5 1615.56,275.42 C1609.78,276.35 1602.15,282.36 1600.3,280.97Z" fill="none" stroke="#485d7e" stroke-width="9" stroke-linejoin="round"/>
<path d="M1594.75,305.94 C1596.6,302.01 1597.75,297.85 1601.68,294.84 C1605.61,291.84 1611.86,289.3 1618.33,287.91 C1624.8,286.52 1635.9,288.14 1640.52,286.52 C1645.15,284.9 1643.3,280.51 1646.07,278.2 C1648.85,275.89 1653.7,272.19 1657.17,272.65 C1660.64,273.11 1663.64,277.27 1666.88,280.97 C1670.12,284.67 1674.05,290.22 1676.59,294.84 C1679.13,299.47 1681.21,303.63 1682.14,308.72 C1683.06,313.8 1683.53,322.12 1682.14,325.36 C1680.75,328.6 1677.52,328.6 1673.82,328.14 C1670.12,327.67 1666.42,324.44 1659.94,322.59 C1653.47,320.74 1641.91,318.19 1634.98,317.04 C1628.04,315.88 1625.73,315.42 1618.33,315.65 C1610.93,315.88 1594.52,320.04 1590.59,318.43 C1586.66,316.81 1592.9,309.87 1594.75,305.94Z" fill="none" stroke="#485d7e" stroke-width="9" stroke-linejoin="round"/>
<path d="M1668.27,260.17 C1668.96,256 1676.36,255.77 1680.75,256 C1685.14,256.23 1688.91,259.24 1694.62,261.55 C1700.33,263.86 1711.62,259.24 1715.01,269.88 C1718.41,280.51 1717.72,317.04 1715.01,325.36 C1712.31,333.68 1703.34,323.74 1698.79,319.81 C1694.23,315.88 1691.39,308.25 1687.69,301.78 C1683.99,295.31 1679.83,287.91 1676.59,280.97 C1673.35,274.04 1667.57,264.33 1668.27,260.17Z" fill="none" stroke="#485d7e" stroke-width="9" stroke-linejoin="round"/>
<path d="M1676.59,242.13 C1677.75,240.05 1683.53,235.66 1687.69,233.81 C1691.85,231.96 1697,231.73 1701.56,231.03 C1706.11,230.34 1712.77,226.18 1715.01,229.65 C1717.26,233.12 1718.41,248.37 1715.01,251.84 C1711.62,255.31 1700.33,251.38 1694.62,250.45 C1688.91,249.53 1683.76,247.68 1680.75,246.29 C1677.75,244.91 1675.43,244.21 1676.59,242.13Z" fill="none" stroke="#485d7e" stroke-width="9" stroke-linejoin="round"/>
<path d="M1444.94,317.04 C1447.25,310.33 1453.03,306.87 1458.81,303.17 C1464.59,299.47 1473.83,296.46 1479.61,294.84 C1485.39,293.23 1489.32,291.84 1493.49,293.46 C1497.65,295.08 1502.5,299.7 1504.58,304.55 C1506.66,309.41 1506.2,318.43 1505.97,322.59 C1505.74,326.75 1505.28,328.14 1503.2,329.52 C1501.12,330.91 1496.72,330.22 1493.49,330.91 C1490.25,331.6 1487.24,331.83 1483.78,333.68 C1480.31,335.53 1476.84,341.08 1472.68,342.01 C1468.52,342.93 1463.43,339 1458.81,339.23 C1454.18,339.46 1447.25,347.09 1444.94,343.39 C1442.62,339.7 1442.62,323.74 1444.94,317.04Z" fill="none" stroke="#485d7e" stroke-width="9" stroke-linejoin="round"/>
<path d="M1499.03,350.33 C1498.57,344.32 1498.57,337.15 1500.42,333.68 C1502.27,330.22 1506.66,331.37 1510.13,329.52 C1513.6,327.67 1512.44,323.51 1521.23,322.59 C1530.01,321.66 1554.52,322.82 1562.84,323.97 C1571.17,325.13 1569.55,326.29 1571.17,329.52 C1572.79,332.76 1573.94,338.77 1572.55,343.39 C1571.17,348.02 1565.62,352.87 1562.84,357.27 C1560.07,361.66 1565.85,367.67 1555.91,369.75 C1545.97,371.83 1512.68,372.99 1503.2,369.75 C1493.72,366.51 1499.5,356.34 1499.03,350.33Z" fill="none" stroke="#485d7e" stroke-width="9" stroke-linejoin="round"/>
<path d="M1576.72,369.75 C1573.25,366.98 1578.57,356.8 1580.88,353.1 C1583.19,349.41 1587.12,347.56 1590.59,347.56 C1594.05,347.56 1599.83,349.41 1601.68,353.1 C1603.53,356.8 1605.85,366.98 1601.68,369.75 C1597.52,372.52 1580.18,372.52 1576.72,369.75Z" fill="none" stroke="#485d7e" stroke-width="9" stroke-linejoin="round"/>
<path d="M1601.68,332.3 C1603.07,331.14 1607.7,327.21 1612.78,326.75 C1617.87,326.29 1624.34,328.37 1632.2,329.52 C1640.06,330.68 1650.7,332.53 1659.94,333.68 C1669.19,334.84 1678.51,335.07 1687.69,336.46 C1696.87,337.85 1710.46,337.85 1715.01,342.01 C1719.57,346.17 1718.41,358.19 1715.01,361.43 C1711.62,364.66 1701.49,362.12 1694.62,361.43 C1687.76,360.73 1679.6,358.65 1673.82,357.27 C1668.04,355.88 1664.57,354.72 1659.94,353.1 C1655.32,351.49 1650.7,349.41 1646.07,347.56 C1641.45,345.71 1636.83,344.09 1632.2,342.01 C1627.58,339.93 1622.95,336.46 1618.33,335.07 C1613.71,333.68 1607.23,334.15 1604.46,333.68 C1601.68,333.22 1600.3,333.45 1601.68,332.3Z" fill="none" stroke="#485d7e" stroke-width="9" stroke-linejoin="round"/>
<path d="M1444.94,355.88 C1447.25,354.49 1451.87,359.12 1458.81,361.43 C1465.74,363.74 1488.86,368.36 1486.55,369.75 C1484.24,371.14 1451.87,372.06 1444.94,369.75 C1438,367.44 1442.62,357.27 1444.94,355.88Z" fill="none" stroke="#485d7e" stroke-width="9" stroke-linejoin="round"/>
<path d="M1618.33,369.75 C1613.71,368.36 1626.42,362.58 1632.2,361.43 C1637.98,360.27 1648.39,361.43 1653.01,362.81 C1657.63,364.2 1665.72,368.59 1659.94,369.75 C1654.16,370.91 1622.95,371.14 1618.33,369.75Z" fill="none" stroke="#485d7e" stroke-width="9" stroke-linejoin="round"/>
<path d="M1700,170 C1707.48,161.59 1737.16,165.33 1744.87,170 C1752.58,174.67 1746.97,191.03 1746.27,198.04 C1745.57,205.05 1744.87,208.56 1740.66,212.06 C1736.46,215.57 1727.81,217.67 1721.03,219.07 C1714.26,220.48 1703.51,228.66 1700,220.48 C1696.49,212.3 1692.52,178.41 1700,170Z" fill="none" stroke="#485d7e" stroke-width="9" stroke-linejoin="round"/>
<path d="M1760.29,170 C1761.46,164.63 1765.43,167.66 1767.3,170 C1769.17,172.34 1770.11,180.28 1771.51,184.02 C1772.91,187.76 1775.48,188.93 1775.72,192.43 C1775.95,195.94 1774.31,201.78 1772.91,205.05 C1771.51,208.32 1769.41,212.53 1767.3,212.06 C1765.2,211.6 1761.46,209.26 1760.29,202.25 C1759.12,195.24 1759.12,175.37 1760.29,170Z" fill="none" stroke="#485d7e" stroke-width="9" stroke-linejoin="round"/>
<path d="M1786.93,170 C1788.8,168.83 1798.85,168.36 1803.76,170 C1808.67,171.64 1814.51,177.01 1816.38,179.81 C1818.25,182.62 1817.31,185.89 1814.97,186.83 C1812.64,187.76 1806.09,187.06 1802.36,185.42 C1798.62,183.79 1795.11,179.58 1792.54,177.01 C1789.97,174.44 1785.06,171.17 1786.93,170Z" fill="none" stroke="#485d7e" stroke-width="9" stroke-linejoin="round"/>
<path d="M1700,228.89 C1702.34,225.38 1708.18,229.82 1714.02,228.89 C1719.86,227.95 1728.51,225.15 1735.05,223.28 C1741.6,221.41 1749.54,217.21 1753.28,217.67 C1757.02,218.14 1757.25,223.05 1757.49,226.09 C1757.72,229.12 1757.25,233.1 1754.68,235.9 C1752.11,238.7 1746.5,240.81 1742.06,242.91 C1737.62,245.01 1732.72,247.12 1728.04,248.52 C1723.37,249.92 1718.7,251.09 1714.02,251.32 C1709.35,251.56 1702.34,253.66 1700,249.92 C1697.66,246.18 1697.66,232.39 1700,228.89Z" fill="none" stroke="#485d7e" stroke-width="9" stroke-linejoin="round"/>
<path d="M1737.86,276.56 C1736.46,270.49 1737.62,261.84 1740.66,256.93 C1743.7,252.02 1751.18,250.62 1756.09,247.12 C1760.99,243.61 1764.97,238 1770.11,235.9 C1775.25,233.8 1782.73,233.8 1786.93,234.5 C1791.14,235.2 1793.01,236.83 1795.34,240.11 C1797.68,243.38 1800.02,247.12 1800.95,254.13 C1801.89,261.14 1801.65,273.99 1800.95,282.17 C1800.25,290.35 1799.08,298.06 1796.75,303.2 C1794.41,308.34 1791.84,311.15 1786.93,313.02 C1782.02,314.89 1771.28,315.35 1767.3,314.42 C1763.33,313.48 1766.13,310.91 1763.1,307.41 C1760.06,303.9 1753.28,298.53 1749.07,293.39 C1744.87,288.25 1739.26,282.64 1737.86,276.56Z" fill="none" stroke="#485d7e" stroke-width="9" stroke-linejoin="round"/>
<path d="M1805.16,293.39 C1804.69,287.31 1808.67,282.87 1809.37,275.16 C1810.07,267.45 1807.96,252.96 1809.37,247.12 C1810.77,241.28 1814.51,241.28 1817.78,240.11 C1821.05,238.94 1825.72,238.7 1829,240.11 C1832.27,241.51 1835.54,245.72 1837.41,248.52 C1839.28,251.32 1840.91,255.06 1840.21,256.93 C1839.51,258.8 1834.37,257.87 1833.2,259.74 C1832.03,261.61 1831.33,266.75 1833.2,268.15 C1835.07,269.55 1841.38,266.98 1844.42,268.15 C1847.46,269.32 1849.79,271.42 1851.43,275.16 C1853.07,278.9 1854.23,285.91 1854.23,290.58 C1854.23,295.26 1852.83,298.76 1851.43,303.2 C1850.03,307.64 1847.46,314.19 1845.82,317.22 C1844.19,320.26 1845.35,320.96 1841.62,321.43 C1837.88,321.9 1828.3,321.66 1823.39,320.03 C1818.48,318.39 1815.21,316.06 1812.17,311.62 C1809.13,307.18 1805.63,299.46 1805.16,293.39Z" fill="none" stroke="#485d7e" stroke-width="9" stroke-linejoin="round"/>
<path d="M1837.41,191.03 C1837.41,187.99 1822.92,173.51 1840.21,170 C1857.51,166.49 1923.41,169.07 1941.17,170 C1958.93,170.93 1942.57,174.67 1946.78,175.61 C1950.98,176.54 1962.67,174.21 1966.4,175.61 C1970.14,177.01 1968.74,175.61 1969.21,184.02 C1969.68,192.43 1970.14,221.41 1969.21,226.09 C1968.27,230.76 1965.94,216.74 1963.6,212.06 C1961.26,207.39 1957.52,202.25 1955.19,198.04 C1952.85,193.84 1951.92,186.83 1949.58,186.83 C1947.24,186.83 1943.04,195 1941.17,198.04 C1939.3,201.08 1945.84,203.65 1938.36,205.05 C1930.88,206.46 1909.38,205.99 1896.3,206.46 C1883.21,206.92 1866.39,210.43 1859.84,207.86 C1853.3,205.29 1858.44,194.54 1857.04,191.03 C1855.64,187.53 1854.23,187.29 1851.43,186.83 C1848.63,186.36 1842.55,187.53 1840.21,188.23 C1837.88,188.93 1837.41,194.07 1837.41,191.03Z" fill="none" stroke="#485d7e" stroke-width="9" stroke-linejoin="round"/>
<path d="M1872.46,235.9 C1873.16,230.99 1877.14,227.72 1882.28,224.68 C1887.42,221.65 1896.3,219.07 1903.31,217.67 C1910.32,216.27 1916.16,216.27 1924.34,216.27 C1932.52,216.27 1945.84,215.57 1952.38,217.67 C1958.93,219.78 1961.73,223.75 1963.6,228.89 C1965.47,234.03 1964.54,243.14 1963.6,248.52 C1962.67,253.89 1962.2,257.87 1957.99,261.14 C1953.79,264.41 1946.31,266.98 1938.36,268.15 C1930.42,269.32 1918.5,268.62 1910.32,268.15 C1902.14,267.68 1894.66,267.68 1889.29,265.34 C1883.91,263.01 1880.87,259.04 1878.07,254.13 C1875.27,249.22 1871.76,240.81 1872.46,235.9Z" fill="none" stroke="#485d7e" stroke-width="9" stroke-linejoin="round"/>
<path d="M1879.47,280.77 C1880.64,278.2 1881.81,277.96 1889.29,277.96 C1896.77,277.96 1911.49,280.3 1924.34,280.77 C1937.19,281.24 1960.56,279.37 1966.4,280.77 C1972.25,282.17 1962.9,285.91 1959.39,289.18 C1955.89,292.45 1951.22,297.59 1945.37,300.4 C1939.53,303.2 1931.35,304.37 1924.34,306.01 C1917.33,307.64 1909.15,310.45 1903.31,310.21 C1897.47,309.98 1892.79,307.41 1889.29,304.6 C1885.78,301.8 1883.91,297.36 1882.28,293.39 C1880.64,289.41 1878.3,283.34 1879.47,280.77Z" fill="none" stroke="#485d7e" stroke-width="9" stroke-linejoin="round"/>
<path d="M1700,270.95 C1703.51,263.48 1715.19,272.82 1721.03,276.56 C1726.87,280.3 1730.85,287.78 1735.05,293.39 C1739.26,299 1744.17,305.54 1746.27,310.21 C1748.37,314.89 1748.84,318.39 1747.67,321.43 C1746.5,324.47 1743.7,327.51 1739.26,328.44 C1734.82,329.38 1727.58,328.21 1721.03,327.04 C1714.49,325.87 1703.51,330.78 1700,321.43 C1696.49,312.08 1696.49,278.43 1700,270.95Z" fill="none" stroke="#485d7e" stroke-width="9" stroke-linejoin="round"/>
<path d="M1774.31,324.23 C1773.38,321.66 1773.85,320.73 1778.52,320.03 C1783.19,319.33 1795.58,318.16 1802.36,320.03 C1809.13,321.9 1814.97,327.51 1819.18,331.25 C1823.39,334.98 1827.59,339.89 1827.59,342.46 C1827.59,345.03 1823.62,345.73 1819.18,346.67 C1814.74,347.6 1803.52,346.67 1800.95,348.07 C1798.38,349.47 1801.89,352.98 1803.76,355.08 C1805.63,357.18 1813.11,358.82 1812.17,360.69 C1811.24,362.56 1804.69,365.36 1798.15,366.3 C1791.61,367.23 1778.29,368.64 1772.91,366.3 C1767.54,363.96 1766.37,355.55 1765.9,352.28 C1765.43,349.01 1766.37,347.84 1770.11,346.67 C1773.85,345.5 1786,347.14 1788.33,345.27 C1790.67,343.4 1786.46,338.96 1784.13,335.45 C1781.79,331.95 1775.25,326.81 1774.31,324.23Z" fill="none" stroke="#485d7e" stroke-width="9" stroke-linejoin="round"/>
<path d="M1945.37,310.21 C1946.54,307.88 1955.42,302.27 1959.39,300.4 C1963.37,298.53 1967.57,296.66 1969.21,299 C1970.85,301.33 1972.01,311.85 1969.21,314.42 C1966.4,316.99 1956.36,315.12 1952.38,314.42 C1948.41,313.72 1944.2,312.55 1945.37,310.21Z" fill="none" stroke="#485d7e" stroke-width="9" stroke-linejoin="round"/>
<path d="M1862.65,308.81 C1861.25,306.01 1864.98,294.09 1866.85,293.39 C1868.72,292.69 1872.46,301.8 1873.86,304.6 C1875.27,307.41 1877.14,309.51 1875.27,310.21 C1873.4,310.91 1864.05,311.62 1862.65,308.81Z" fill="none" stroke="#485d7e" stroke-width="9" stroke-linejoin="round"/>
<path d="M1788.33,228.89 C1787.17,226.79 1793.01,216.27 1795.34,216.27 C1797.68,216.27 1803.52,226.79 1802.36,228.89 C1801.19,230.99 1789.5,230.99 1788.33,228.89Z" fill="none" stroke="#485d7e" stroke-width="9" stroke-linejoin="round"/>
<path d="M1700,338.26 C1702.34,335.22 1710.52,342.7 1714.02,343.86 C1717.53,345.03 1721.5,343.86 1721.03,345.27 C1720.56,346.67 1713.32,349.71 1711.22,352.28 C1709.11,354.85 1710.28,359.05 1708.41,360.69 C1706.54,362.33 1701.4,365.83 1700,362.09 C1698.6,358.35 1697.66,341.29 1700,338.26Z" fill="none" stroke="#485d7e" stroke-width="9" stroke-linejoin="round"/>
<path d="M1955.19,356.48 C1955.66,354.85 1958.46,351.81 1960.8,350.87 C1963.13,349.94 1967.81,349.01 1969.21,350.87 C1970.61,352.74 1971.08,360.46 1969.21,362.09 C1967.34,363.73 1960.33,361.62 1957.99,360.69 C1955.66,359.76 1954.72,358.12 1955.19,356.48Z" fill="none" stroke="#485d7e" stroke-width="9" stroke-linejoin="round"/>
<path d="M1617.41,4.63 C1623.9,0.77 1649.84,2.32 1656.32,4.63 C1662.81,6.95 1658.48,15.29 1656.32,18.53 C1654.16,21.77 1649.84,22.54 1643.35,24.09 C1636.87,25.63 1621.73,31.04 1617.41,27.79 C1613.09,24.55 1610.93,8.49 1617.41,4.63Z" fill="#646464" stroke="none"/>
<path d="M1617.41,37.06 C1623.28,34.28 1645.2,33.97 1652.62,37.06 C1660.03,40.15 1662.81,53.12 1661.88,55.59 C1660.95,58.06 1651.07,53.12 1647.06,51.88 C1643.04,50.65 1640.88,47.87 1637.79,48.17 C1634.71,48.48 1631.93,52.81 1628.53,53.73 C1625.13,54.66 1619.26,56.51 1617.41,53.73 C1615.56,50.95 1611.54,39.84 1617.41,37.06Z" fill="#646464" stroke="none"/>
<path d="M1665.59,22.23 C1666.2,15.6 1666.82,9.26 1673,6.49 C1679.17,3.71 1693.38,2.93 1702.64,5.56 C1711.91,8.18 1727.35,19.15 1728.58,22.23 C1729.82,25.32 1712.22,18.53 1710.06,24.09 C1707.89,29.65 1715.61,46.32 1715.61,55.59 C1715.61,64.85 1714.69,75.04 1710.06,79.67 C1705.42,84.31 1694.31,84.31 1687.82,83.38 C1681.34,82.45 1674.23,80.29 1671.15,74.12 C1668.06,67.94 1670.22,54.97 1669.29,46.32 C1668.37,37.68 1664.97,28.87 1665.59,22.23Z" fill="#646464" stroke="none"/>
<path d="M1630.38,83.38 C1632.23,81.53 1635.01,77.2 1641.5,77.82 C1647.98,78.44 1660.34,83.38 1669.29,87.09 C1678.25,90.79 1689.67,95.42 1695.23,100.06 C1700.79,104.69 1704.5,111.79 1702.64,114.88 C1700.79,117.97 1691.84,118.89 1684.12,118.58 C1676.39,118.28 1662.5,115.81 1656.32,113.03 C1650.15,110.25 1651.38,105.92 1647.06,101.91 C1642.73,97.89 1633.16,92.03 1630.38,88.94 C1627.6,85.85 1628.53,85.23 1630.38,83.38Z" fill="#646464" stroke="none"/>
<path d="M1728.58,70.41 C1728.89,66.09 1729.82,54.04 1732.29,48.17 C1734.76,42.31 1741.25,35.2 1743.41,35.2 C1745.57,35.2 1745.88,43.23 1745.26,48.17 C1744.64,53.12 1742.17,60.53 1739.7,64.85 C1737.23,69.17 1732.29,73.19 1730.44,74.12 C1728.58,75.04 1728.28,74.73 1728.58,70.41Z" fill="#646464" stroke="none"/>
<path d="M1773.05,55.59 C1773.05,50.65 1774.6,43.54 1776.76,40.76 C1778.92,37.98 1782.94,37.06 1786.02,38.91 C1789.11,40.76 1793.74,47.56 1795.29,51.88 C1796.83,56.2 1796.83,61.45 1795.29,64.85 C1793.74,68.25 1789.11,71.34 1786.02,72.26 C1782.94,73.19 1778.92,73.19 1776.76,70.41 C1774.6,67.63 1773.05,60.53 1773.05,55.59Z" fill="#646464" stroke="none"/>
<path d="M1728.58,90.79 C1728.58,87.7 1735.69,80.91 1739.7,77.82 C1743.72,74.73 1749.89,72.26 1752.67,72.26 C1755.45,72.26 1756.69,75.04 1756.38,77.82 C1756.07,80.6 1753.6,85.85 1750.82,88.94 C1748.04,92.03 1743.41,96.04 1739.7,96.35 C1736,96.66 1728.58,93.88 1728.58,90.79Z" fill="#646464" stroke="none"/>
<path d="M1750.82,111.17 C1750.51,106.23 1752.05,102.53 1756.38,98.2 C1760.7,93.88 1773.05,85.54 1776.76,85.23 C1780.47,84.92 1777.99,93.26 1778.61,96.35 C1779.23,99.44 1781.08,101.29 1780.47,103.76 C1779.85,106.23 1776.14,107.16 1774.91,111.17 C1773.67,115.19 1775.83,125.07 1773.05,127.85 C1770.27,130.63 1761.94,130.63 1758.23,127.85 C1754.52,125.07 1751.13,116.11 1750.82,111.17Z" fill="#646464" stroke="none"/>
<path d="M1804.55,4.63 C1817.52,-0.15 1871.57,0.77 1884.23,4.63 C1896.89,8.49 1886.08,22.39 1880.52,27.79 C1874.96,33.2 1858.29,35.82 1850.87,37.06 C1843.46,38.29 1838.21,36.75 1836.05,35.2 C1833.89,33.66 1840.07,27.48 1837.9,27.79 C1835.74,28.1 1828.33,36.13 1823.08,37.06 C1817.83,37.98 1809.49,38.76 1806.41,33.35 C1803.32,27.95 1791.58,9.42 1804.55,4.63Z" fill="#646464" stroke="none"/>
<path d="M1895.34,4.63 C1907.7,1.39 1958.96,0.46 1971.31,4.63 C1983.66,8.8 1972.55,25.79 1969.46,29.65 C1966.37,33.51 1957.72,26.56 1952.78,27.79 C1947.84,29.03 1945.99,36.13 1939.81,37.06 C1933.64,37.98 1922.83,35.51 1915.73,33.35 C1908.62,31.19 1900.59,28.87 1897.2,24.09 C1893.8,19.3 1882.99,7.87 1895.34,4.63Z" fill="#646464" stroke="none"/>
<path d="M1819.38,53.73 C1820.92,51.57 1827.4,46.32 1832.35,44.47 C1837.29,42.62 1841.3,42.93 1849.02,42.62 C1856.74,42.31 1867.86,42.31 1878.67,42.62 C1889.48,42.93 1903.68,43.54 1913.87,44.47 C1924.06,45.4 1934.87,46.32 1939.81,48.17 C1944.75,50.03 1945.99,52.81 1943.52,55.59 C1941.05,58.37 1934.25,63.92 1924.99,64.85 C1915.73,65.78 1900.28,62.07 1887.93,61.15 C1875.58,60.22 1861.68,59.91 1850.87,59.29 C1840.07,58.67 1828.33,58.37 1823.08,57.44 C1817.83,56.51 1817.83,55.9 1819.38,53.73Z" fill="#646464" stroke="none"/>
<path d="M1784.17,107.47 C1786.02,99.75 1790.04,89.25 1793.44,83.38 C1796.83,77.51 1799.61,74.42 1804.55,72.26 C1809.49,70.1 1815.36,70.1 1823.08,70.41 C1830.8,70.72 1840.07,73.19 1850.87,74.12 C1861.68,75.04 1877.12,74.73 1887.93,75.97 C1898.74,77.2 1909.55,78.75 1915.73,81.53 C1921.9,84.31 1924.68,88.63 1924.99,92.64 C1925.3,96.66 1922.21,101.91 1917.58,105.61 C1912.95,109.32 1904.61,112.1 1897.2,114.88 C1889.79,117.66 1879.9,119.2 1873.11,122.29 C1866.32,125.38 1861.68,128.16 1856.43,133.41 C1851.18,138.66 1846.24,148.85 1841.61,153.79 C1836.98,158.73 1833.89,161.82 1828.64,163.05 C1823.39,164.29 1815.98,163.67 1810.11,161.2 C1804.24,158.73 1798.07,153.48 1793.44,148.23 C1788.8,142.98 1783.86,136.5 1782.32,129.7 C1780.77,122.91 1782.32,115.19 1784.17,107.47Z" fill="#646464" stroke="none"/>
<path d="M1621.12,148.23 C1622.35,138.66 1624.21,137.42 1628.53,133.41 C1632.85,129.39 1637.79,125.38 1647.06,124.14 C1656.32,122.91 1673.31,124.45 1684.12,126 C1694.92,127.54 1704.19,130.32 1711.91,133.41 C1719.63,136.5 1725.19,140.2 1730.44,144.52 C1735.69,148.85 1740.94,151.63 1743.41,159.35 C1745.88,167.07 1765.64,185.6 1745.26,190.85 C1724.88,196.1 1641.81,197.95 1621.12,190.85 C1600.43,183.74 1619.88,157.8 1621.12,148.23Z" fill="#646464" stroke="none"/>
<path d="M1732.29,127.85 C1732.91,126.61 1734.76,125.07 1737.85,127.85 C1740.94,130.63 1748.35,140.2 1750.82,144.52 C1753.29,148.85 1753.29,152.55 1752.67,153.79 C1752.05,155.02 1750.2,155.02 1747.11,151.94 C1744.03,148.85 1736.61,139.27 1734.14,135.26 C1731.67,131.25 1731.67,129.08 1732.29,127.85Z" fill="#646464" stroke="none"/>
<path d="M1776.76,155.64 C1775.52,152.25 1777.38,150.7 1780.47,151.94 C1783.55,153.17 1790.35,159.04 1795.29,163.05 C1800.23,167.07 1806.71,172.32 1810.11,176.02 C1813.51,179.73 1816.6,183.74 1815.67,185.29 C1814.74,186.83 1809.18,187.45 1804.55,185.29 C1799.92,183.13 1792.51,177.26 1787.88,172.32 C1783.24,167.38 1777.99,159.04 1776.76,155.64Z" fill="#646464" stroke="none"/>
<path d="M1837.9,190.85 C1820.61,185.6 1844.39,168.3 1849.02,159.35 C1853.65,150.39 1859.21,142.67 1865.7,137.11 C1872.18,131.55 1879.59,129.08 1887.93,126 C1896.27,122.91 1906.46,120.75 1915.73,118.58 C1924.99,116.42 1935.8,113.64 1943.52,113.03 C1951.24,112.41 1958.34,112.1 1962.05,114.88 C1965.75,117.66 1966.37,125.38 1965.75,129.7 C1965.14,134.03 1961.12,137.73 1958.34,140.82 C1955.56,143.91 1950,143.91 1949.08,148.23 C1948.15,152.55 1953.71,162.13 1952.78,166.76 C1951.86,171.39 1943.52,172.01 1943.52,176.02 C1943.52,180.04 1970.39,188.38 1952.78,190.85 C1935.18,193.32 1855.2,196.1 1837.9,190.85Z" fill="#646464" stroke="none"/>
<path d="M1956.49,83.38 C1954.79,79.06 1959.42,75.66 1962.05,74.12 C1964.67,72.57 1970.54,69.79 1972.24,74.12 C1973.94,78.44 1974.86,98.51 1972.24,100.06 C1969.61,101.6 1958.19,87.7 1956.49,83.38Z" fill="#646464" stroke="none"/>
<path d="M1958.34,148.23 C1959.58,143.91 1963.44,142.05 1965.75,140.82 C1968.07,139.58 1971.16,136.19 1972.24,140.82 C1973.32,145.45 1974.55,164.29 1972.24,168.61 C1969.92,172.94 1960.66,170.16 1958.34,166.76 C1956.03,163.36 1957.11,152.55 1958.34,148.23Z" fill="#646464" stroke="none"/>
<path d="M1444.94,175.55 C1454.88,168.84 1493.49,173.47 1504.58,175.55 C1515.68,177.63 1510.13,183.18 1511.52,188.03 C1512.91,192.89 1513.6,202.14 1512.91,204.68 C1512.21,207.22 1510.13,203.06 1507.36,203.29 C1504.58,203.52 1499.03,203.52 1496.26,206.07 C1493.49,208.61 1494.64,216.01 1490.71,218.55 C1486.78,221.09 1478,221.79 1472.68,221.32 C1467.36,220.86 1463.43,216.7 1458.81,215.78 C1454.18,214.85 1447.25,222.48 1444.94,215.78 C1442.62,209.07 1434.99,182.25 1444.94,175.55Z" fill="#646464" stroke="none"/>
<path d="M1444.94,229.65 C1447.25,217.86 1452.33,229.19 1458.81,231.03 C1465.28,232.88 1478.69,237.05 1483.78,240.74 C1488.86,244.44 1487.48,249.3 1489.32,253.23 C1491.17,257.16 1494.64,260.63 1494.87,264.33 C1495.1,268.03 1493.26,271.96 1490.71,275.42 C1488.17,278.89 1484.93,281.9 1479.61,285.13 C1474.3,288.37 1464.59,292.07 1458.81,294.84 C1453.03,297.62 1447.25,312.65 1444.94,301.78 C1442.62,290.91 1442.62,241.44 1444.94,229.65Z" fill="#646464" stroke="none"/>
<path d="M1507.36,204.68 C1509.44,203.75 1511.52,207.22 1515.68,206.07 C1519.84,204.91 1528.63,201.44 1532.33,197.74 C1536.03,194.04 1536.03,186.18 1537.88,183.87 C1539.72,181.56 1541.57,182.02 1543.42,183.87 C1545.27,185.72 1546.2,191.27 1548.97,194.97 C1551.75,198.67 1555.91,204.68 1560.07,206.07 C1564.23,207.45 1570.7,204.68 1573.94,203.29 C1577.18,201.9 1577.87,196.36 1579.49,197.74 C1581.11,199.13 1582.96,206.53 1583.65,211.61 C1584.34,216.7 1581.34,224.79 1583.65,228.26 C1585.96,231.73 1592.21,229.65 1597.52,232.42 C1602.84,235.2 1615.56,241.44 1615.56,244.91 C1615.56,248.37 1602.84,249.53 1597.52,253.23 C1592.21,256.93 1586.19,262.48 1583.65,267.1 C1581.11,271.72 1583.42,277.27 1582.26,280.97 C1581.11,284.67 1579.26,287.91 1576.72,289.3 C1574.17,290.68 1570.47,290.68 1567.01,289.3 C1563.54,287.91 1559.38,284.67 1555.91,280.97 C1552.44,277.27 1548.28,272.19 1546.2,267.1 C1544.12,262.01 1544.81,251.84 1543.42,250.45 C1542.04,249.07 1540.42,256 1537.88,258.78 C1535.33,261.55 1531.4,265.71 1528.17,267.1 C1524.93,268.49 1520.54,270.57 1518.45,267.1 C1516.37,263.63 1517.99,251.84 1515.68,246.29 C1513.37,240.74 1506.66,239.59 1504.58,233.81 C1502.5,228.03 1502.73,216.47 1503.2,211.61 C1503.66,206.76 1505.28,205.6 1507.36,204.68Z" fill="#646464" stroke="none"/>
<path d="M1585.04,193.58 C1585.73,190.34 1583.19,180.87 1586.43,178.32 C1589.66,175.78 1600.99,175.09 1604.46,178.32 C1607.93,181.56 1607,193.12 1607.23,197.74 C1607.46,202.37 1607.46,203.52 1605.85,206.07 C1604.23,208.61 1601.22,211.15 1597.52,213 C1593.82,214.85 1586.19,219.71 1583.65,217.16 C1581.11,214.62 1582.03,201.67 1582.26,197.74 C1582.5,193.81 1584.34,196.82 1585.04,193.58Z" fill="#646464" stroke="none"/>
<path d="M1608.62,175.55 C1626.35,173.01 1697.28,167.92 1715.01,175.55 C1732.75,183.18 1719.57,213 1715.01,221.32 C1710.46,229.65 1696.87,224.33 1687.69,225.49 C1678.51,226.64 1666.88,228.26 1659.94,228.26 C1653.01,228.26 1650.7,227.1 1646.07,225.49 C1641.45,223.87 1635.9,222.02 1632.2,218.55 C1628.5,215.08 1626.19,208.61 1623.88,204.68 C1621.57,200.75 1620.87,197.28 1618.33,194.97 C1615.79,192.66 1610.24,194.04 1608.62,190.81 C1607,187.57 1590.89,178.09 1608.62,175.55Z" fill="#646464" stroke="none"/>
<path d="M1528.17,278.2 C1530.01,274.96 1536.72,274.5 1540.65,275.42 C1544.58,276.35 1547.59,280.51 1551.75,283.75 C1555.91,286.98 1561.92,291.61 1565.62,294.84 C1569.32,298.08 1573.25,300.39 1573.94,303.17 C1574.63,305.94 1573.94,309.87 1569.78,311.49 C1565.62,313.11 1555.21,313.34 1548.97,312.88 C1542.73,312.41 1535.56,311.72 1532.33,308.72 C1529.09,305.71 1530.25,299.93 1529.55,294.84 C1528.86,289.76 1526.32,281.43 1528.17,278.2Z" fill="#646464" stroke="none"/>
<path d="M1600.3,280.97 C1598.45,279.59 1601.45,270.8 1604.46,267.1 C1607.46,263.4 1613.71,261.55 1618.33,258.78 C1622.95,256 1628.04,250.45 1632.2,250.45 C1636.36,250.45 1641.91,255.08 1643.3,258.78 C1644.69,262.48 1641.91,269.88 1640.52,272.65 C1639.14,275.42 1639.14,274.96 1634.98,275.42 C1630.81,275.89 1621.34,274.5 1615.56,275.42 C1609.78,276.35 1602.15,282.36 1600.3,280.97Z" fill="#646464" stroke="none"/>
<path d="M1594.75,305.94 C1596.6,302.01 1597.75,297.85 1601.68,294.84 C1605.61,291.84 1611.86,289.3 1618.33,287.91 C1624.8,286.52 1635.9,288.14 1640.52,286.52 C1645.15,284.9 1643.3,280.51 1646.07,278.2 C1648.85,275.89 1653.7,272.19 1657.17,272.65 C1660.64,273.11 1663.64,277.27 1666.88,280.97 C1670.12,284.67 1674.05,290.22 1676.59,294.84 C1679.13,299.47 1681.21,303.63 1682.14,308.72 C1683.06,313.8 1683.53,322.12 1682.14,325.36 C1680.75,328.6 1677.52,328.6 1673.82,328.14 C1670.12,327.67 1666.42,324.44 1659.94,322.59 C1653.47,320.74 1641.91,318.19 1634.98,317.04 C1628.04,315.88 1625.73,315.42 1618.33,315.65 C1610.93,315.88 1594.52,320.04 1590.59,318.43 C1586.66,316.81 1592.9,309.87 1594.75,305.94Z" fill="#646464" stroke="none"/>
<path d="M1668.27,260.17 C1668.96,256 1676.36,255.77 1680.75,256 C1685.14,256.23 1688.91,259.24 1694.62,261.55 C1700.33,263.86 1711.62,259.24 1715.01,269.88 C1718.41,280.51 1717.72,317.04 1715.01,325.36 C1712.31,333.68 1703.34,323.74 1698.79,319.81 C1694.23,315.88 1691.39,308.25 1687.69,301.78 C1683.99,295.31 1679.83,287.91 1676.59,280.97 C1673.35,274.04 1667.57,264.33 1668.27,260.17Z" fill="#646464" stroke="none"/>
<path d="M1676.59,242.13 C1677.75,240.05 1683.53,235.66 1687.69,233.81 C1691.85,231.96 1697,231.73 1701.56,231.03 C1706.11,230.34 1712.77,226.18 1715.01,229.65 C1717.26,233.12 1718.41,248.37 1715.01,251.84 C1711.62,255.31 1700.33,251.38 1694.62,250.45 C1688.91,249.53 1683.76,247.68 1680.75,246.29 C1677.75,244.91 1675.43,244.21 1676.59,242.13Z" fill="#646464" stroke="none"/>
<path d="M1444.94,317.04 C1447.25,310.33 1453.03,306.87 1458.81,303.17 C1464.59,299.47 1473.83,296.46 1479.61,294.84 C1485.39,293.23 1489.32,291.84 1493.49,293.46 C1497.65,295.08 1502.5,299.7 1504.58,304.55 C1506.66,309.41 1506.2,318.43 1505.97,322.59 C1505.74,326.75 1505.28,328.14 1503.2,329.52 C1501.12,330.91 1496.72,330.22 1493.49,330.91 C1490.25,331.6 1487.24,331.83 1483.78,333.68 C1480.31,335.53 1476.84,341.08 1472.68,342.01 C1468.52,342.93 1463.43,339 1458.81,339.23 C1454.18,339.46 1447.25,347.09 1444.94,343.39 C1442.62,339.7 1442.62,323.74 1444.94,317.04Z" fill="#646464" stroke="none"/>
<path d="M1499.03,350.33 C1498.57,344.32 1498.57,337.15 1500.42,333.68 C1502.27,330.22 1506.66,331.37 1510.13,329.52 C1513.6,327.67 1512.44,323.51 1521.23,322.59 C1530.01,321.66 1554.52,322.82 1562.84,323.97 C1571.17,325.13 1569.55,326.29 1571.17,329.52 C1572.79,332.76 1573.94,338.77 1572.55,343.39 C1571.17,348.02 1565.62,352.87 1562.84,357.27 C1560.07,361.66 1565.85,367.67 1555.91,369.75 C1545.97,371.83 1512.68,372.99 1503.2,369.75 C1493.72,366.51 1499.5,356.34 1499.03,350.33Z" fill="#646464" stroke="none"/>
<path d="M1576.72,369.75 C1573.25,366.98 1578.57,356.8 1580.88,353.1 C1583.19,349.41 1587.12,347.56 1590.59,347.56 C1594.05,347.56 1599.83,349.41 1601.68,353.1 C1603.53,356.8 1605.85,366.98 1601.68,369.75 C1597.52,372.52 1580.18,372.52 1576.72,369.75Z" fill="#646464" stroke="none"/>
<path d="M1601.68,332.3 C1603.07,331.14 1607.7,327.21 1612.78,326.75 C1617.87,326.29 1624.34,328.37 1632.2,329.52 C1640.06,330.68 1650.7,332.53 1659.94,333.68 C1669.19,334.84 1678.51,335.07 1687.69,336.46 C1696.87,337.85 1710.46,337.85 1715.01,342.01 C1719.57,346.17 1718.41,358.19 1715.01,361.43 C1711.62,364.66 1701.49,362.12 1694.62,361.43 C1687.76,360.73 1679.6,358.65 1673.82,357.27 C1668.04,355.88 1664.57,354.72 1659.94,353.1 C1655.32,351.49 1650.7,349.41 1646.07,347.56 C1641.45,345.71 1636.83,344.09 1632.2,342.01 C1627.58,339.93 1622.95,336.46 1618.33,335.07 C1613.71,333.68 1607.23,334.15 1604.46,333.68 C1601.68,333.22 1600.3,333.45 1601.68,332.3Z" fill="#646464" stroke="none"/>
<path d="M1444.94,355.88 C1447.25,354.49 1451.87,359.12 1458.81,361.43 C1465.74,363.74 1488.86,368.36 1486.55,369.75 C1484.24,371.14 1451.87,372.06 1444.94,369.75 C1438,367.44 1442.62,357.27 1444.94,355.88Z" fill="#646464" stroke="none"/>
<path d="M1618.33,369.75 C1613.71,368.36 1626.42,362.58 1632.2,361.43 C1637.98,360.27 1648.39,361.43 1653.01,362.81 C1657.63,364.2 1665.72,368.59 1659.94,369.75 C1654.16,370.91 1622.95,371.14 1618.33,369.75Z" fill="#646464" stroke="none"/>
<path d="M1700,170 C1707.48,161.59 1737.16,165.33 1744.87,170 C1752.58,174.67 1746.97,191.03 1746.27,198.04 C1745.57,205.05 1744.87,208.56 1740.66,212.06 C1736.46,215.57 1727.81,217.67 1721.03,219.07 C1714.26,220.48 1703.51,228.66 1700,220.48 C1696.49,212.3 1692.52,178.41 1700,170Z" fill="#646464" stroke="none"/>
<path d="M1760.29,170 C1761.46,164.63 1765.43,167.66 1767.3,170 C1769.17,172.34 1770.11,180.28 1771.51,184.02 C1772.91,187.76 1775.48,188.93 1775.72,192.43 C1775.95,195.94 1774.31,201.78 1772.91,205.05 C1771.51,208.32 1769.41,212.53 1767.3,212.06 C1765.2,211.6 1761.46,209.26 1760.29,202.25 C1759.12,195.24 1759.12,175.37 1760.29,170Z" fill="#646464" stroke="none"/>
<path d="M1786.93,170 C1788.8,168.83 1798.85,168.36 1803.76,170 C1808.67,171.64 1814.51,177.01 1816.38,179.81 C1818.25,182.62 1817.31,185.89 1814.97,186.83 C1812.64,187.76 1806.09,187.06 1802.36,185.42 C1798.62,183.79 1795.11,179.58 1792.54,177.01 C1789.97,174.44 1785.06,171.17 1786.93,170Z" fill="#646464" stroke="none"/>
<path d="M1700,228.89 C1702.34,225.38 1708.18,229.82 1714.02,228.89 C1719.86,227.95 1728.51,225.15 1735.05,223.28 C1741.6,221.41 1749.54,217.21 1753.28,217.67 C1757.02,218.14 1757.25,223.05 1757.49,226.09 C1757.72,229.12 1757.25,233.1 1754.68,235.9 C1752.11,238.7 1746.5,240.81 1742.06,242.91 C1737.62,245.01 1732.72,247.12 1728.04,248.52 C1723.37,249.92 1718.7,251.09 1714.02,251.32 C1709.35,251.56 1702.34,253.66 1700,249.92 C1697.66,246.18 1697.66,232.39 1700,228.89Z" fill="#646464" stroke="none"/>
<path d="M1737.86,276.56 C1736.46,270.49 1737.62,261.84 1740.66,256.93 C1743.7,252.02 1751.18,250.62 1756.09,247.12 C1760.99,243.61 1764.97,238 1770.11,235.9 C1775.25,233.8 1782.73,233.8 1786.93,234.5 C1791.14,235.2 1793.01,236.83 1795.34,240.11 C1797.68,243.38 1800.02,247.12 1800.95,254.13 C1801.89,261.14 1801.65,273.99 1800.95,282.17 C1800.25,290.35 1799.08,298.06 1796.75,303.2 C1794.41,308.34 1791.84,311.15 1786.93,313.02 C1782.02,314.89 1771.28,315.35 1767.3,314.42 C1763.33,313.48 1766.13,310.91 1763.1,307.41 C1760.06,303.9 1753.28,298.53 1749.07,293.39 C1744.87,288.25 1739.26,282.64 1737.86,276.56Z" fill="#646464" stroke="none"/>
<path d="M1805.16,293.39 C1804.69,287.31 1808.67,282.87 1809.37,275.16 C1810.07,267.45 1807.96,252.96 1809.37,247.12 C1810.77,241.28 1814.51,241.28 1817.78,240.11 C1821.05,238.94 1825.72,238.7 1829,240.11 C1832.27,241.51 1835.54,245.72 1837.41,248.52 C1839.28,251.32 1840.91,255.06 1840.21,256.93 C1839.51,258.8 1834.37,257.87 1833.2,259.74 C1832.03,261.61 1831.33,266.75 1833.2,268.15 C1835.07,269.55 1841.38,266.98 1844.42,268.15 C1847.46,269.32 1849.79,271.42 1851.43,275.16 C1853.07,278.9 1854.23,285.91 1854.23,290.58 C1854.23,295.26 1852.83,298.76 1851.43,303.2 C1850.03,307.64 1847.46,314.19 1845.82,317.22 C1844.19,320.26 1845.35,320.96 1841.62,321.43 C1837.88,321.9 1828.3,321.66 1823.39,320.03 C1818.48,318.39 1815.21,316.06 1812.17,311.62 C1809.13,307.18 1805.63,299.46 1805.16,293.39Z" fill="#646464" stroke="none"/>
<path d="M1837.41,191.03 C1837.41,187.99 1822.92,173.51 1840.21,170 C1857.51,166.49 1923.41,169.07 1941.17,170 C1958.93,170.93 1942.57,174.67 1946.78,175.61 C1950.98,176.54 1962.67,174.21 1966.4,175.61 C1970.14,177.01 1968.74,175.61 1969.21,184.02 C1969.68,192.43 1970.14,221.41 1969.21,226.09 C1968.27,230.76 1965.94,216.74 1963.6,212.06 C1961.26,207.39 1957.52,202.25 1955.19,198.04 C1952.85,193.84 1951.92,186.83 1949.58,186.83 C1947.24,186.83 1943.04,195 1941.17,198.04 C1939.3,201.08 1945.84,203.65 1938.36,205.05 C1930.88,206.46 1909.38,205.99 1896.3,206.46 C1883.21,206.92 1866.39,210.43 1859.84,207.86 C1853.3,205.29 1858.44,194.54 1857.04,191.03 C1855.64,187.53 1854.23,187.29 1851.43,186.83 C1848.63,186.36 1842.55,187.53 1840.21,188.23 C1837.88,188.93 1837.41,194.07 1837.41,191.03Z" fill="#646464" stroke="none"/>
<path d="M1872.46,235.9 C1873.16,230.99 1877.14,227.72 1882.28,224.68 C1887.42,221.65 1896.3,219.07 1903.31,217.67 C1910.32,216.27 1916.16,216.27 1924.34,216.27 C1932.52,216.27 1945.84,215.57 1952.38,217.67 C1958.93,219.78 1961.73,223.75 1963.6,228.89 C1965.47,234.03 1964.54,243.14 1963.6,248.52 C1962.67,253.89 1962.2,257.87 1957.99,261.14 C1953.79,264.41 1946.31,266.98 1938.36,268.15 C1930.42,269.32 1918.5,268.62 1910.32,268.15 C1902.14,267.68 1894.66,267.68 1889.29,265.34 C1883.91,263.01 1880.87,259.04 1878.07,254.13 C1875.27,249.22 1871.76,240.81 1872.46,235.9Z" fill="#646464" stroke="none"/>
<path d="M1879.47,280.77 C1880.64,278.2 1881.81,277.96 1889.29,277.96 C1896.77,277.96 1911.49,280.3 1924.34,280.77 C1937.19,281.24 1960.56,279.37 1966.4,280.77 C1972.25,282.17 1962.9,285.91 1959.39,289.18 C1955.89,292.45 1951.22,297.59 1945.37,300.4 C1939.53,303.2 1931.35,304.37 1924.34,306.01 C1917.33,307.64 1909.15,310.45 1903.31,310.21 C1897.47,309.98 1892.79,307.41 1889.29,304.6 C1885.78,301.8 1883.91,297.36 1882.28,293.39 C1880.64,289.41 1878.3,283.34 1879.47,280.77Z" fill="#646464" stroke="none"/>
<path d="M1700,270.95 C1703.51,263.48 1715.19,272.82 1721.03,276.56 C1726.87,280.3 1730.85,287.78 1735.05,293.39 C1739.26,299 1744.17,305.54 1746.27,310.21 C1748.37,314.89 1748.84,318.39 1747.67,321.43 C1746.5,324.47 1743.7,327.51 1739.26,328.44 C1734.82,329.38 1727.58,328.21 1721.03,327.04 C1714.49,325.87 1703.51,330.78 1700,321.43 C1696.49,312.08 1696.49,278.43 1700,270.95Z" fill="#646464" stroke="none"/>
<path d="M1774.31,324.23 C1773.38,321.66 1773.85,320.73 1778.52,320.03 C1783.19,319.33 1795.58,318.16 1802.36,320.03 C1809.13,321.9 1814.97,327.51 1819.18,331.25 C1823.39,334.98 1827.59,339.89 1827.59,342.46 C1827.59,345.03 1823.62,345.73 1819.18,346.67 C1814.74,347.6 1803.52,346.67 1800.95,348.07 C1798.38,349.47 1801.89,352.98 1803.76,355.08 C1805.63,357.18 1813.11,358.82 1812.17,360.69 C1811.24,362.56 1804.69,365.36 1798.15,366.3 C1791.61,367.23 1778.29,368.64 1772.91,366.3 C1767.54,363.96 1766.37,355.55 1765.9,352.28 C1765.43,349.01 1766.37,347.84 1770.11,346.67 C1773.85,345.5 1786,347.14 1788.33,345.27 C1790.67,343.4 1786.46,338.96 1784.13,335.45 C1781.79,331.95 1775.25,326.81 1774.31,324.23Z" fill="#646464" stroke="none"/>
<path d="M1945.37,310.21 C1946.54,307.88 1955.42,302.27 1959.39,300.4 C1963.37,298.53 1967.57,296.66 1969.21,299 C1970.85,301.33 1972.01,311.85 1969.21,314.42 C1966.4,316.99 1956.36,315.12 1952.38,314.42 C1948.41,313.72 1944.2,312.55 1945.37,310.21Z" fill="#646464" stroke="none"/>
<path d="M1862.65,308.81 C1861.25,306.01 1864.98,294.09 1866.85,293.39 C1868.72,292.69 1872.46,301.8 1873.86,304.6 C1875.27,307.41 1877.14,309.51 1875.27,310.21 C1873.4,310.91 1864.05,311.62 1862.65,308.81Z" fill="#646464" stroke="none"/>
<path d="M1788.33,228.89 C1787.17,226.79 1793.01,216.27 1795.34,216.27 C1797.68,216.27 1803.52,226.79 1802.36,228.89 C1801.19,230.99 1789.5,230.99 1788.33,228.89Z" fill="#646464" stroke="none"/>
<path d="M1700,338.26 C1702.34,335.22 1710.52,342.7 1714.02,343.86 C1717.53,345.03 1721.5,343.86 1721.03,345.27 C1720.56,346.67 1713.32,349.71 1711.22,352.28 C1709.11,354.85 1710.28,359.05 1708.41,360.69 C1706.54,362.33 1701.4,365.83 1700,362.09 C1698.6,358.35 1697.66,341.29 1700,338.26Z" fill="#646464" stroke="none"/>
<path d="M1955.19,356.48 C1955.66,354.85 1958.46,351.81 1960.8,350.87 C1963.13,349.94 1967.81,349.01 1969.21,350.87 C1970.61,352.74 1971.08,360.46 1969.21,362.09 C1967.34,363.73 1960.33,361.62 1957.99,360.69 C1955.66,359.76 1954.72,358.12 1955.19,356.48Z" fill="#646464" stroke="none"/>
<rect x="1442" y="3" width="531.5" height="367.5" filter="url(#tex2)" opacity="0.6" style="mix-blend-mode:overlay" clip-path="url(#ccp)"/>
</g>
<defs><linearGradient id="ga" x1="0" y1="0" x2="1" y2="0"><stop offset="0" stop-color="#d9dadc"/><stop offset="0.25" stop-color="#eeeff1"/><stop offset="1" stop-color="#f3f4f6"/></linearGradient><linearGradient id="gl" x1="0" y1="0" x2="0" y2="1"><stop offset="0" stop-color="#7a96d2"/><stop offset="1" stop-color="#6a86c6"/></linearGradient><linearGradient id="gb" x1="0" y1="0" x2="0" y2="1"><stop offset="0" stop-color="#a7b6e1"/><stop offset="0.6" stop-color="#9eaedd"/><stop offset="1" stop-color="#95a7d9"/></linearGradient></defs>
<rect x="74.1" y="3.1" width="173.8" height="174.7" fill="url(#ga)" stroke="none" stroke-width="0"/>
<polygon points="117,54.5 197,52 198,60 197.5,137 160,139 140,140 118,126" fill="#1f1f21" stroke="none" stroke-width="0"/>
<path d="M74,113 C90,109 108,107 120,110 C133,114 140,124 141,134 C143,140 146,142 144,148 C138,160 130,170 124,178 L74,178 Z" fill="url(#gl)"/>
<path d="M74,140 C90,132 110,128 126,134 C134,138 136,146 130,156 C124,166 118,172 112,178 L74,178 Z" fill="#8aa3da" opacity="0.6"/>
<text x="102.8" y="33.8" font-size="30.3" text-anchor="start" fill="#43587a">Release</text>
<rect x="742" y="3" width="177" height="176" fill="#eef0f5" stroke="none" stroke-width="0"/>
<path d="M742,62 C780,58 800,56 830,58 C870,56 900,54 919,55 L919,179 L742,179 Z" fill="url(#gb)"/>
<path d="M742,130 C790,128 840,132 919,137 L919,179 L742,179 Z" fill="#8497cf" opacity="0.85"/>
<path d="M802.5,53 C820,50 845,50 860,53 C858,66 852,78 845,97 C850,112 856,130 858.5,152.6 C840,155 820,155 802.5,152.6 C806,132 812,115 815,98 C810,82 804,68 802.5,53 Z" fill="#2e2b2e"/>
<text x="828" y="33.5" font-size="30.2" text-anchor="middle" fill="#43587a">Compress</text>
<defs><linearGradient id="gcb" x1="0" y1="0" x2="0" y2="1"><stop offset="0" stop-color="#f6f6f6"/><stop offset="0.2" stop-color="#f2f2f2"/><stop offset="0.4" stop-color="#e6e6e6"/><stop offset="0.6" stop-color="#f0f0f0"/><stop offset="1" stop-color="#f3f3f3"/></linearGradient></defs>
<rect x="1442" y="3" width="175" height="172" fill="url(#gcb)" stroke="none" stroke-width="0"/>
<path d="M1481.3,64.8 L1572,67 C1570,80 1562,92 1560,104 C1562,112 1570,120 1572,126 L1482,126.2 C1486,118 1494,110 1494,100 C1494,90 1484,78 1481.3,64.8 Z" fill="#1f1d1e"/>
<path d="M1442,71 C1460,72 1478,80 1490,90 C1496,98 1495,110 1488,118 C1483,124 1482,130 1484,138 C1487,150 1484,165 1478,175 L1442,175 Z" fill="#7e94cf"/>
<path d="M1450,86 C1466,86 1482,92 1488,100 C1492,110 1484,120 1474,124 C1462,126 1452,118 1450,106 Z" fill="#9aaee0" opacity="0.7"/>
<path d="M1617,67 C1600,70 1580,78 1566,88 C1559,98 1560,110 1568,118 C1576,126 1581,134 1582,142 C1584,155 1583,165 1581,175 L1617,175 Z" fill="#7e94cf"/>
<path d="M1612,84 C1596,84 1578,92 1570,100 C1566,110 1574,120 1586,124 C1598,126 1610,118 1612,106 Z" fill="#9aaee0" opacity="0.6"/>
<path d="M1442,150 C1450,146 1458,152 1460,162 C1461,168 1460,172 1458,175 L1442,175 Z" fill="#3e4f85" opacity="0.8"/>
<path d="M1617,120 C1608,130 1600,150 1600,175 L1617,175 Z" fill="#5a6fae" opacity="0.6"/>
<text x="1527.8" y="33.5" font-size="30.5" text-anchor="middle" fill="#43587a">Stretch</text>
<rect x="496.5" y="341" width="108.29999999999995" height="6" fill="#fff"/>
<text x="501" y="327.5" font-size="30" fill="#000" opacity="0.45">100 µm</text>
<text x="500" y="326" font-size="30" fill="#fff">100 µm</text>
<rect x="1149" y="341" width="120" height="6" fill="#fff"/>
<text x="1163" y="327.5" font-size="30" fill="#000" opacity="0.45">100 µm</text>
<text x="1162" y="326" font-size="30" fill="#fff">100 µm</text>
<rect x="1856.5" y="340.5" width="100.79999999999995" height="6" fill="#fff"/>
<text x="1860" y="333.5" font-size="30" fill="#000" opacity="0.45">100 µm</text>
<text x="1859" y="332" font-size="30" fill="#fff">100 µm</text>
<text x="-1.5" y="56" font-size="55" text-anchor="start" fill="#000" font-weight="bold">a</text>
<text x="661" y="56.7" font-size="55" text-anchor="start" fill="#000" font-weight="bold">b</text>
<text x="1353.5" y="56.7" font-size="55" text-anchor="start" fill="#000" font-weight="bold">c</text>
<text x="2" y="508.5" font-size="55" text-anchor="start" fill="#000" font-weight="bold">d</text>
<text x="657.5" y="509.8" font-size="55" text-anchor="start" fill="#000" font-weight="bold">e</text>
<text x="1357" y="509.5" font-size="55" text-anchor="start" fill="#000" font-weight="bold">f</text>
<text x="4" y="1075" font-size="55" text-anchor="start" fill="#000" font-weight="bold">g</text>
<text x="657.5" y="1073.8" font-size="55" text-anchor="start" fill="#000" font-weight="bold">h</text>
<text x="1356.5" y="1075" font-size="55" text-anchor="start" fill="#000" font-weight="bold">i</text>
<rect x="85.5" y="481.9" width="513" height="200.9" fill="none" stroke="#000" stroke-width="2"/>
<rect x="85.5" y="693.6" width="513" height="200.9" fill="none" stroke="#000" stroke-width="2"/>
<line x1="147.11" y1="481.9" x2="147.11" y2="487.9" stroke="#000" stroke-width="2"/>
<line x1="147.11" y1="682.8" x2="147.11" y2="676.8" stroke="#000" stroke-width="2"/>
<line x1="147.11" y1="693.6" x2="147.11" y2="699.6" stroke="#000" stroke-width="2"/>
<line x1="147.11" y1="894.5" x2="147.11" y2="888.5" stroke="#000" stroke-width="2"/>
<line x1="208.72" y1="481.9" x2="208.72" y2="491.9" stroke="#000" stroke-width="2"/>
<line x1="208.72" y1="682.8" x2="208.72" y2="672.8" stroke="#000" stroke-width="2"/>
<line x1="208.72" y1="693.6" x2="208.72" y2="703.6" stroke="#000" stroke-width="2"/>
<line x1="208.72" y1="894.5" x2="208.72" y2="884.5" stroke="#000" stroke-width="2"/>
<line x1="270.34" y1="481.9" x2="270.34" y2="487.9" stroke="#000" stroke-width="2"/>
<line x1="270.34" y1="682.8" x2="270.34" y2="676.8" stroke="#000" stroke-width="2"/>
<line x1="270.34" y1="693.6" x2="270.34" y2="699.6" stroke="#000" stroke-width="2"/>
<line x1="270.34" y1="894.5" x2="270.34" y2="888.5" stroke="#000" stroke-width="2"/>
<line x1="331.95" y1="481.9" x2="331.95" y2="491.9" stroke="#000" stroke-width="2"/>
<line x1="331.95" y1="682.8" x2="331.95" y2="672.8" stroke="#000" stroke-width="2"/>
<line x1="331.95" y1="693.6" x2="331.95" y2="703.6" stroke="#000" stroke-width="2"/>
<line x1="331.95" y1="894.5" x2="331.95" y2="884.5" stroke="#000" stroke-width="2"/>
<line x1="393.56" y1="481.9" x2="393.56" y2="487.9" stroke="#000" stroke-width="2"/>
<line x1="393.56" y1="682.8" x2="393.56" y2="676.8" stroke="#000" stroke-width="2"/>
<line x1="393.56" y1="693.6" x2="393.56" y2="699.6" stroke="#000" stroke-width="2"/>
<line x1="393.56" y1="894.5" x2="393.56" y2="888.5" stroke="#000" stroke-width="2"/>
<line x1="455.18" y1="481.9" x2="455.18" y2="491.9" stroke="#000" stroke-width="2"/>
<line x1="455.18" y1="682.8" x2="455.18" y2="672.8" stroke="#000" stroke-width="2"/>
<line x1="455.18" y1="693.6" x2="455.18" y2="703.6" stroke="#000" stroke-width="2"/>
<line x1="455.18" y1="894.5" x2="455.18" y2="884.5" stroke="#000" stroke-width="2"/>
<line x1="516.79" y1="481.9" x2="516.79" y2="487.9" stroke="#000" stroke-width="2"/>
<line x1="516.79" y1="682.8" x2="516.79" y2="676.8" stroke="#000" stroke-width="2"/>
<line x1="516.79" y1="693.6" x2="516.79" y2="699.6" stroke="#000" stroke-width="2"/>
<line x1="516.79" y1="894.5" x2="516.79" y2="888.5" stroke="#000" stroke-width="2"/>
<line x1="578.4" y1="481.9" x2="578.4" y2="491.9" stroke="#000" stroke-width="2"/>
<line x1="578.4" y1="682.8" x2="578.4" y2="672.8" stroke="#000" stroke-width="2"/>
<line x1="578.4" y1="693.6" x2="578.4" y2="703.6" stroke="#000" stroke-width="2"/>
<line x1="578.4" y1="894.5" x2="578.4" y2="884.5" stroke="#000" stroke-width="2"/>
<line x1="85.5" y1="602.25" x2="95.5" y2="602.25" stroke="#000" stroke-width="2"/>
<line x1="85.5" y1="521.7" x2="95.5" y2="521.7" stroke="#000" stroke-width="2"/>
<line x1="598.5" y1="673.1" x2="588.5" y2="673.1" stroke="#000" stroke-width="2"/>
<line x1="598.5" y1="577.8" x2="588.5" y2="577.8" stroke="#000" stroke-width="2"/>
<line x1="85.5" y1="814.5" x2="95.5" y2="814.5" stroke="#000" stroke-width="2"/>
<line x1="85.5" y1="734.5" x2="95.5" y2="734.5" stroke="#000" stroke-width="2"/>
<line x1="598.5" y1="837.1" x2="588.5" y2="837.1" stroke="#000" stroke-width="2"/>
<line x1="598.5" y1="779.7" x2="588.5" y2="779.7" stroke="#000" stroke-width="2"/>
<line x1="598.5" y1="722.3" x2="588.5" y2="722.3" stroke="#000" stroke-width="2"/>
<text x="74" y="691.5" font-size="28.5" text-anchor="end" fill="#000">0</text>
<text x="74" y="610.95" font-size="28.5" text-anchor="end" fill="#000">30</text>
<text x="74" y="530.4" font-size="28.5" text-anchor="end" fill="#000">60</text>
<text x="74" y="903.2" font-size="28.5" text-anchor="end" fill="#000">0</text>
<text x="74" y="823.2" font-size="28.5" text-anchor="end" fill="#000">20</text>
<text x="74" y="743.2" font-size="28.5" text-anchor="end" fill="#000">40</text>
<text x="610.5" y="681.8" font-size="28.5" text-anchor="start" fill="#000">1</text>
<text x="610.5" y="586.5" font-size="28.5" text-anchor="start" fill="#000">2</text>
<text x="610.5" y="491.2" font-size="28.5" text-anchor="start" fill="#000">3</text>
<text x="610.5" y="903.2" font-size="28.5" text-anchor="start" fill="#000">0</text>
<text x="610.5" y="845.8" font-size="28.5" text-anchor="start" fill="#000">1</text>
<text x="610.5" y="788.4" font-size="28.5" text-anchor="start" fill="#000">2</text>
<text x="610.5" y="731" font-size="28.5" text-anchor="start" fill="#000">3</text>
<text x="85.5" y="927.6" font-size="28.5" text-anchor="middle" fill="#000">0</text>
<text x="208.72" y="927.6" font-size="28.5" text-anchor="middle" fill="#000">30</text>
<text x="331.95" y="927.6" font-size="28.5" text-anchor="middle" fill="#000">60</text>
<text x="455.18" y="927.6" font-size="28.5" text-anchor="middle" fill="#000">90</text>
<text x="578.4" y="927.6" font-size="28.5" text-anchor="middle" fill="#000">120</text>
<text x="29.5" y="582.5" font-size="28" text-anchor="middle" fill="#000" transform="rotate(-90 29.5 582.5)"><tspan font-style="italic">σ</tspan><tspan font-size="19" dy="6">t</tspan><tspan dy="-6"> (kPa)</tspan></text>
<text x="29.5" y="793" font-size="28" text-anchor="middle" fill="#000" transform="rotate(-90 29.5 793)"><tspan font-style="italic">σ</tspan><tspan font-size="19" dy="6">c</tspan><tspan dy="-6"> (kPa)</tspan></text>
<text x="665.5" y="582.5" font-size="28" text-anchor="middle" fill="#000" transform="rotate(-90 665.5 582.5)"><tspan font-style="italic">R</tspan> / <tspan font-style="italic">R</tspan><tspan font-size="19" dy="6">0</tspan></text>
<text x="665.5" y="793.5" font-size="28" text-anchor="middle" fill="#000" transform="rotate(-90 665.5 793.5)"><tspan font-style="italic">R</tspan> / <tspan font-style="italic">R</tspan><tspan font-size="19" dy="6">0</tspan></text>
<text x="342" y="962" font-size="28" text-anchor="middle" fill="#000"><tspan font-style="italic">ε</tspan><tspan font-size="19" dy="6">t</tspan><tspan dy="-6"> (%) or </tspan><tspan font-style="italic">ε</tspan><tspan font-size="19" dy="6">c</tspan><tspan dy="-6"> (%)</tspan></text>
<text x="103.4" y="523" font-size="26.7" text-anchor="start" fill="#000">Tensile</text>
<text x="105.4" y="732.5" font-size="26.7" text-anchor="start" fill="#000">Compressive</text>
<text x="388.5" y="778.2" font-size="26.5" text-anchor="start" fill="#000">Young’s modulus</text>
<text x="429.3" y="809.7" font-size="26.5" text-anchor="start" fill="#000">~0.03 MPa</text>
<polyline points="85.41,682.28 107.04,678.22 134.08,672.81 161.12,666.05 188.17,659.29 215.21,651.72 242.25,641.71 269.29,629.55 296.33,617.38 323.37,605.21 336.9,597.64 350.42,588.98 363.94,580.87 377.46,574.11 390.98,567.35 404.5,560.59 418.02,551.67 426.13,544.91 431.54,540.31 445.06,532.74 458.58,525.98 472.1,520.03 485.62,512.73 499.15,506.51 512.67,500.29 526.19,494.88 539.71,492.17 547.82,489.47 555.93,491.63 561.34,489.74 566.75,492.99 572.7,496.5 575.94,505.15 577.57,537.6 578.92,591.69 580.27,645.77 581.89,680.92 598.66,681.47" fill="none" stroke="#44546d" stroke-width="5.2" stroke-linejoin="round" stroke-linecap="round"/>
<polyline points="85.52,673.81 99.45,666.19 112.71,669.5 125.97,670.49 139.22,670.49 152.48,669.5 165.74,668.84 179,667.84 193.26,667.18 207.18,665.52 220.44,663.2 233.7,661.54 246.96,659.56 260.22,657.24 273.48,654.58 287.4,652.26 300.66,649.94 314.25,647.29 327.51,643.98 340.77,641.32 354.03,637.35 367.29,633.37 381.21,629.06 394.47,625.08 407.73,618.45 420.99,613.15 434.91,612.48 448.17,605.85 461.43,598.56 474.69,595.25 488.28,589.28 501.54,582.65 514.8,558.78 528.72,544.53 541.98,509.72 541.98,483.2" fill="none" stroke="#c5b47f" stroke-width="2.8" stroke-linejoin="round" stroke-linecap="round"/>
<circle cx="99.45" cy="666.19" r="4.2" fill="#c5b47f"/>
<line x1="99.45" y1="656.19" x2="99.45" y2="676.19" stroke="#c5b47f" stroke-width="1.8"/>
<line x1="95.95" y1="656.19" x2="102.95" y2="656.19" stroke="#c5b47f" stroke-width="1.8"/>
<line x1="95.95" y1="676.19" x2="102.95" y2="676.19" stroke="#c5b47f" stroke-width="1.8"/>
<circle cx="112.71" cy="669.5" r="4.2" fill="#c5b47f"/>
<line x1="112.71" y1="659.5" x2="112.71" y2="679.5" stroke="#c5b47f" stroke-width="1.8"/>
<line x1="109.21" y1="659.5" x2="116.21" y2="659.5" stroke="#c5b47f" stroke-width="1.8"/>
<line x1="109.21" y1="679.5" x2="116.21" y2="679.5" stroke="#c5b47f" stroke-width="1.8"/>
<circle cx="125.97" cy="670.49" r="4.2" fill="#c5b47f"/>
<line x1="125.97" y1="660.49" x2="125.97" y2="680.49" stroke="#c5b47f" stroke-width="1.8"/>
<line x1="122.47" y1="660.49" x2="129.47" y2="660.49" stroke="#c5b47f" stroke-width="1.8"/>
<line x1="122.47" y1="680.49" x2="129.47" y2="680.49" stroke="#c5b47f" stroke-width="1.8"/>
<circle cx="139.22" cy="670.49" r="4.2" fill="#c5b47f"/>
<line x1="139.22" y1="660.49" x2="139.22" y2="680.49" stroke="#c5b47f" stroke-width="1.8"/>
<line x1="135.72" y1="660.49" x2="142.72" y2="660.49" stroke="#c5b47f" stroke-width="1.8"/>
<line x1="135.72" y1="680.49" x2="142.72" y2="680.49" stroke="#c5b47f" stroke-width="1.8"/>
<circle cx="152.48" cy="669.5" r="4.2" fill="#c5b47f"/>
<line x1="152.48" y1="659.5" x2="152.48" y2="679.5" stroke="#c5b47f" stroke-width="1.8"/>
<line x1="148.98" y1="659.5" x2="155.98" y2="659.5" stroke="#c5b47f" stroke-width="1.8"/>
<line x1="148.98" y1="679.5" x2="155.98" y2="679.5" stroke="#c5b47f" stroke-width="1.8"/>
<circle cx="165.74" cy="668.84" r="4.2" fill="#c5b47f"/>
<line x1="165.74" y1="658.84" x2="165.74" y2="678.84" stroke="#c5b47f" stroke-width="1.8"/>
<line x1="162.24" y1="658.84" x2="169.24" y2="658.84" stroke="#c5b47f" stroke-width="1.8"/>
<line x1="162.24" y1="678.84" x2="169.24" y2="678.84" stroke="#c5b47f" stroke-width="1.8"/>
<circle cx="179" cy="667.84" r="4.2" fill="#c5b47f"/>
<line x1="179" y1="657.84" x2="179" y2="677.84" stroke="#c5b47f" stroke-width="1.8"/>
<line x1="175.5" y1="657.84" x2="182.5" y2="657.84" stroke="#c5b47f" stroke-width="1.8"/>
<line x1="175.5" y1="677.84" x2="182.5" y2="677.84" stroke="#c5b47f" stroke-width="1.8"/>
<circle cx="193.26" cy="667.18" r="4.2" fill="#c5b47f"/>
<line x1="193.26" y1="657.18" x2="193.26" y2="677.18" stroke="#c5b47f" stroke-width="1.8"/>
<line x1="189.76" y1="657.18" x2="196.76" y2="657.18" stroke="#c5b47f" stroke-width="1.8"/>
<line x1="189.76" y1="677.18" x2="196.76" y2="677.18" stroke="#c5b47f" stroke-width="1.8"/>
<circle cx="207.18" cy="665.52" r="4.2" fill="#c5b47f"/>
<line x1="207.18" y1="655.52" x2="207.18" y2="675.52" stroke="#c5b47f" stroke-width="1.8"/>
<line x1="203.68" y1="655.52" x2="210.68" y2="655.52" stroke="#c5b47f" stroke-width="1.8"/>
<line x1="203.68" y1="675.52" x2="210.68" y2="675.52" stroke="#c5b47f" stroke-width="1.8"/>
<circle cx="220.44" cy="663.2" r="4.2" fill="#c5b47f"/>
<line x1="220.44" y1="653.2" x2="220.44" y2="673.2" stroke="#c5b47f" stroke-width="1.8"/>
<line x1="216.94" y1="653.2" x2="223.94" y2="653.2" stroke="#c5b47f" stroke-width="1.8"/>
<line x1="216.94" y1="673.2" x2="223.94" y2="673.2" stroke="#c5b47f" stroke-width="1.8"/>
<circle cx="233.7" cy="661.54" r="4.2" fill="#c5b47f"/>
<line x1="233.7" y1="651.54" x2="233.7" y2="671.54" stroke="#c5b47f" stroke-width="1.8"/>
<line x1="230.2" y1="651.54" x2="237.2" y2="651.54" stroke="#c5b47f" stroke-width="1.8"/>
<line x1="230.2" y1="671.54" x2="237.2" y2="671.54" stroke="#c5b47f" stroke-width="1.8"/>
<circle cx="246.96" cy="659.56" r="4.2" fill="#c5b47f"/>
<line x1="246.96" y1="649.56" x2="246.96" y2="669.56" stroke="#c5b47f" stroke-width="1.8"/>
<line x1="243.46" y1="649.56" x2="250.46" y2="649.56" stroke="#c5b47f" stroke-width="1.8"/>
<line x1="243.46" y1="669.56" x2="250.46" y2="669.56" stroke="#c5b47f" stroke-width="1.8"/>
<circle cx="260.22" cy="657.24" r="4.2" fill="#c5b47f"/>
<line x1="260.22" y1="647.24" x2="260.22" y2="667.24" stroke="#c5b47f" stroke-width="1.8"/>
<line x1="256.72" y1="647.24" x2="263.72" y2="647.24" stroke="#c5b47f" stroke-width="1.8"/>
<line x1="256.72" y1="667.24" x2="263.72" y2="667.24" stroke="#c5b47f" stroke-width="1.8"/>
<circle cx="273.48" cy="654.58" r="4.2" fill="#c5b47f"/>
<line x1="273.48" y1="644.58" x2="273.48" y2="664.58" stroke="#c5b47f" stroke-width="1.8"/>
<line x1="269.98" y1="644.58" x2="276.98" y2="644.58" stroke="#c5b47f" stroke-width="1.8"/>
<line x1="269.98" y1="664.58" x2="276.98" y2="664.58" stroke="#c5b47f" stroke-width="1.8"/>
<circle cx="287.4" cy="652.26" r="4.2" fill="#c5b47f"/>
<line x1="287.4" y1="642.26" x2="287.4" y2="662.26" stroke="#c5b47f" stroke-width="1.8"/>
<line x1="283.9" y1="642.26" x2="290.9" y2="642.26" stroke="#c5b47f" stroke-width="1.8"/>
<line x1="283.9" y1="662.26" x2="290.9" y2="662.26" stroke="#c5b47f" stroke-width="1.8"/>
<circle cx="300.66" cy="649.94" r="4.2" fill="#c5b47f"/>
<line x1="300.66" y1="639.94" x2="300.66" y2="659.94" stroke="#c5b47f" stroke-width="1.8"/>
<line x1="297.16" y1="639.94" x2="304.16" y2="639.94" stroke="#c5b47f" stroke-width="1.8"/>
<line x1="297.16" y1="659.94" x2="304.16" y2="659.94" stroke="#c5b47f" stroke-width="1.8"/>
<circle cx="314.25" cy="647.29" r="4.2" fill="#c5b47f"/>
<line x1="314.25" y1="637.29" x2="314.25" y2="657.29" stroke="#c5b47f" stroke-width="1.8"/>
<line x1="310.75" y1="637.29" x2="317.75" y2="637.29" stroke="#c5b47f" stroke-width="1.8"/>
<line x1="310.75" y1="657.29" x2="317.75" y2="657.29" stroke="#c5b47f" stroke-width="1.8"/>
<circle cx="327.51" cy="643.98" r="4.2" fill="#c5b47f"/>
<line x1="327.51" y1="633.98" x2="327.51" y2="653.98" stroke="#c5b47f" stroke-width="1.8"/>
<line x1="324.01" y1="633.98" x2="331.01" y2="633.98" stroke="#c5b47f" stroke-width="1.8"/>
<line x1="324.01" y1="653.98" x2="331.01" y2="653.98" stroke="#c5b47f" stroke-width="1.8"/>
<circle cx="340.77" cy="641.32" r="4.2" fill="#c5b47f"/>
<line x1="340.77" y1="631.32" x2="340.77" y2="651.32" stroke="#c5b47f" stroke-width="1.8"/>
<line x1="337.27" y1="631.32" x2="344.27" y2="631.32" stroke="#c5b47f" stroke-width="1.8"/>
<line x1="337.27" y1="651.32" x2="344.27" y2="651.32" stroke="#c5b47f" stroke-width="1.8"/>
<circle cx="354.03" cy="637.35" r="4.2" fill="#c5b47f"/>
<line x1="354.03" y1="627.35" x2="354.03" y2="647.35" stroke="#c5b47f" stroke-width="1.8"/>
<line x1="350.53" y1="627.35" x2="357.53" y2="627.35" stroke="#c5b47f" stroke-width="1.8"/>
<line x1="350.53" y1="647.35" x2="357.53" y2="647.35" stroke="#c5b47f" stroke-width="1.8"/>
<circle cx="367.29" cy="633.37" r="4.2" fill="#c5b47f"/>
<line x1="367.29" y1="623.37" x2="367.29" y2="643.37" stroke="#c5b47f" stroke-width="1.8"/>
<line x1="363.79" y1="623.37" x2="370.79" y2="623.37" stroke="#c5b47f" stroke-width="1.8"/>
<line x1="363.79" y1="643.37" x2="370.79" y2="643.37" stroke="#c5b47f" stroke-width="1.8"/>
<circle cx="381.21" cy="629.06" r="4.2" fill="#c5b47f"/>
<line x1="381.21" y1="619.06" x2="381.21" y2="639.06" stroke="#c5b47f" stroke-width="1.8"/>
<line x1="377.71" y1="619.06" x2="384.71" y2="619.06" stroke="#c5b47f" stroke-width="1.8"/>
<line x1="377.71" y1="639.06" x2="384.71" y2="639.06" stroke="#c5b47f" stroke-width="1.8"/>
<circle cx="394.47" cy="625.08" r="4.2" fill="#c5b47f"/>
<line x1="394.47" y1="615.08" x2="394.47" y2="635.08" stroke="#c5b47f" stroke-width="1.8"/>
<line x1="390.97" y1="615.08" x2="397.97" y2="615.08" stroke="#c5b47f" stroke-width="1.8"/>
<line x1="390.97" y1="635.08" x2="397.97" y2="635.08" stroke="#c5b47f" stroke-width="1.8"/>
<circle cx="407.73" cy="618.45" r="4.2" fill="#c5b47f"/>
<line x1="407.73" y1="608.45" x2="407.73" y2="628.45" stroke="#c5b47f" stroke-width="1.8"/>
<line x1="404.23" y1="608.45" x2="411.23" y2="608.45" stroke="#c5b47f" stroke-width="1.8"/>
<line x1="404.23" y1="628.45" x2="411.23" y2="628.45" stroke="#c5b47f" stroke-width="1.8"/>
<circle cx="420.99" cy="613.15" r="4.2" fill="#c5b47f"/>
<line x1="420.99" y1="603.15" x2="420.99" y2="623.15" stroke="#c5b47f" stroke-width="1.8"/>
<line x1="417.49" y1="603.15" x2="424.49" y2="603.15" stroke="#c5b47f" stroke-width="1.8"/>
<line x1="417.49" y1="623.15" x2="424.49" y2="623.15" stroke="#c5b47f" stroke-width="1.8"/>
<circle cx="434.91" cy="612.48" r="4.2" fill="#c5b47f"/>
<line x1="434.91" y1="602.48" x2="434.91" y2="622.48" stroke="#c5b47f" stroke-width="1.8"/>
<line x1="431.41" y1="602.48" x2="438.41" y2="602.48" stroke="#c5b47f" stroke-width="1.8"/>
<line x1="431.41" y1="622.48" x2="438.41" y2="622.48" stroke="#c5b47f" stroke-width="1.8"/>
<circle cx="448.17" cy="605.85" r="4.2" fill="#c5b47f"/>
<line x1="448.17" y1="595.85" x2="448.17" y2="615.85" stroke="#c5b47f" stroke-width="1.8"/>
<line x1="444.67" y1="595.85" x2="451.67" y2="595.85" stroke="#c5b47f" stroke-width="1.8"/>
<line x1="444.67" y1="615.85" x2="451.67" y2="615.85" stroke="#c5b47f" stroke-width="1.8"/>
<circle cx="461.43" cy="598.56" r="4.2" fill="#c5b47f"/>
<line x1="461.43" y1="588.56" x2="461.43" y2="608.56" stroke="#c5b47f" stroke-width="1.8"/>
<line x1="457.93" y1="588.56" x2="464.93" y2="588.56" stroke="#c5b47f" stroke-width="1.8"/>
<line x1="457.93" y1="608.56" x2="464.93" y2="608.56" stroke="#c5b47f" stroke-width="1.8"/>
<circle cx="474.69" cy="595.25" r="4.2" fill="#c5b47f"/>
<line x1="474.69" y1="585.25" x2="474.69" y2="605.25" stroke="#c5b47f" stroke-width="1.8"/>
<line x1="471.19" y1="585.25" x2="478.19" y2="585.25" stroke="#c5b47f" stroke-width="1.8"/>
<line x1="471.19" y1="605.25" x2="478.19" y2="605.25" stroke="#c5b47f" stroke-width="1.8"/>
<circle cx="488.28" cy="589.28" r="4.2" fill="#c5b47f"/>
<line x1="488.28" y1="579.28" x2="488.28" y2="599.28" stroke="#c5b47f" stroke-width="1.8"/>
<line x1="484.78" y1="579.28" x2="491.78" y2="579.28" stroke="#c5b47f" stroke-width="1.8"/>
<line x1="484.78" y1="599.28" x2="491.78" y2="599.28" stroke="#c5b47f" stroke-width="1.8"/>
<circle cx="501.54" cy="582.65" r="4.2" fill="#c5b47f"/>
<line x1="501.54" y1="572.65" x2="501.54" y2="592.65" stroke="#c5b47f" stroke-width="1.8"/>
<line x1="498.04" y1="572.65" x2="505.04" y2="572.65" stroke="#c5b47f" stroke-width="1.8"/>
<line x1="498.04" y1="592.65" x2="505.04" y2="592.65" stroke="#c5b47f" stroke-width="1.8"/>
<circle cx="514.8" cy="558.78" r="4.2" fill="#c5b47f"/>
<line x1="514.8" y1="548.78" x2="514.8" y2="568.78" stroke="#c5b47f" stroke-width="1.8"/>
<line x1="511.3" y1="548.78" x2="518.3" y2="548.78" stroke="#c5b47f" stroke-width="1.8"/>
<line x1="511.3" y1="568.78" x2="518.3" y2="568.78" stroke="#c5b47f" stroke-width="1.8"/>
<circle cx="528.72" cy="544.53" r="4.2" fill="#c5b47f"/>
<line x1="528.72" y1="534.53" x2="528.72" y2="554.53" stroke="#c5b47f" stroke-width="1.8"/>
<line x1="525.22" y1="534.53" x2="532.22" y2="534.53" stroke="#c5b47f" stroke-width="1.8"/>
<line x1="525.22" y1="554.53" x2="532.22" y2="554.53" stroke="#c5b47f" stroke-width="1.8"/>
<circle cx="541.98" cy="509.72" r="4.2" fill="#c5b47f"/>
<line x1="541.98" y1="499.72" x2="541.98" y2="519.72" stroke="#c5b47f" stroke-width="1.8"/>
<line x1="538.48" y1="499.72" x2="545.48" y2="499.72" stroke="#c5b47f" stroke-width="1.8"/>
<line x1="538.48" y1="519.72" x2="545.48" y2="519.72" stroke="#c5b47f" stroke-width="1.8"/>
<path d="M85.52,893.59 C93.37,892.32 119.23,888.5 132.6,885.96 C145.97,883.42 153.04,881.6 165.74,878.34 C178.45,875.08 195.03,870.27 208.84,866.4 C222.65,862.54 236.46,859.11 248.62,855.13 C260.77,851.16 272.54,846.4 281.76,842.54 C290.99,838.67 295.69,836.02 303.97,831.93 C312.26,827.84 324.14,822.43 331.49,818.01 C338.84,813.59 342.54,811.05 348.06,805.41 C353.59,799.78 359.11,792.48 364.64,784.2 C370.16,775.91 376.52,764.42 381.21,755.69 C385.91,746.96 390.88,735.8 392.81,731.82" fill="none" stroke="#44546d" stroke-width="5.2" stroke-linejoin="round" stroke-linecap="round"/>
<line x1="109.39" y1="890.93" x2="331.49" y2="827.95" stroke="#000" stroke-width="2" stroke-dasharray="12,7"/>
<polyline points="85.52,837.9 101.1,804.75 116.68,812.04 131.93,826.96 147.51,836.9 162.43,841.87 178.34,846.18 193.92,849.5 209.5,852.15 225.41,853.81 240.33,856.13 255.91,857.12 271.82,858.45 286.74,859.44 302.32,860.44 318.23,861.1 333.81,862.1 349.06,862.76 364.64,863.42 380.22,864.08 395.47,864.42 411.05,865.08" fill="none" stroke="#c5b47f" stroke-width="2.8" stroke-linejoin="round" stroke-linecap="round"/>
<circle cx="101.1" cy="804.75" r="4.2" fill="#c5b47f"/>
<line x1="101.1" y1="798.75" x2="101.1" y2="810.75" stroke="#c5b47f" stroke-width="1.8"/>
<line x1="97.6" y1="798.75" x2="104.6" y2="798.75" stroke="#c5b47f" stroke-width="1.8"/>
<line x1="97.6" y1="810.75" x2="104.6" y2="810.75" stroke="#c5b47f" stroke-width="1.8"/>
<circle cx="116.68" cy="812.04" r="4.2" fill="#c5b47f"/>
<line x1="116.68" y1="806.04" x2="116.68" y2="818.04" stroke="#c5b47f" stroke-width="1.8"/>
<line x1="113.18" y1="806.04" x2="120.18" y2="806.04" stroke="#c5b47f" stroke-width="1.8"/>
<line x1="113.18" y1="818.04" x2="120.18" y2="818.04" stroke="#c5b47f" stroke-width="1.8"/>
<circle cx="131.93" cy="826.96" r="4.2" fill="#c5b47f"/>
<line x1="131.93" y1="820.96" x2="131.93" y2="832.96" stroke="#c5b47f" stroke-width="1.8"/>
<line x1="128.43" y1="820.96" x2="135.43" y2="820.96" stroke="#c5b47f" stroke-width="1.8"/>
<line x1="128.43" y1="832.96" x2="135.43" y2="832.96" stroke="#c5b47f" stroke-width="1.8"/>
<circle cx="147.51" cy="836.9" r="4.2" fill="#c5b47f"/>
<line x1="147.51" y1="830.9" x2="147.51" y2="842.9" stroke="#c5b47f" stroke-width="1.8"/>
<line x1="144.01" y1="830.9" x2="151.01" y2="830.9" stroke="#c5b47f" stroke-width="1.8"/>
<line x1="144.01" y1="842.9" x2="151.01" y2="842.9" stroke="#c5b47f" stroke-width="1.8"/>
<circle cx="162.43" cy="841.87" r="4.2" fill="#c5b47f"/>
<line x1="162.43" y1="835.87" x2="162.43" y2="847.87" stroke="#c5b47f" stroke-width="1.8"/>
<line x1="158.93" y1="835.87" x2="165.93" y2="835.87" stroke="#c5b47f" stroke-width="1.8"/>
<line x1="158.93" y1="847.87" x2="165.93" y2="847.87" stroke="#c5b47f" stroke-width="1.8"/>
<circle cx="178.34" cy="846.18" r="4.2" fill="#c5b47f"/>
<line x1="178.34" y1="840.18" x2="178.34" y2="852.18" stroke="#c5b47f" stroke-width="1.8"/>
<line x1="174.84" y1="840.18" x2="181.84" y2="840.18" stroke="#c5b47f" stroke-width="1.8"/>
<line x1="174.84" y1="852.18" x2="181.84" y2="852.18" stroke="#c5b47f" stroke-width="1.8"/>
<circle cx="193.92" cy="849.5" r="4.2" fill="#c5b47f"/>
<line x1="193.92" y1="843.5" x2="193.92" y2="855.5" stroke="#c5b47f" stroke-width="1.8"/>
<line x1="190.42" y1="843.5" x2="197.42" y2="843.5" stroke="#c5b47f" stroke-width="1.8"/>
<line x1="190.42" y1="855.5" x2="197.42" y2="855.5" stroke="#c5b47f" stroke-width="1.8"/>
<circle cx="209.5" cy="852.15" r="4.2" fill="#c5b47f"/>
<line x1="209.5" y1="846.15" x2="209.5" y2="858.15" stroke="#c5b47f" stroke-width="1.8"/>
<line x1="206" y1="846.15" x2="213" y2="846.15" stroke="#c5b47f" stroke-width="1.8"/>
<line x1="206" y1="858.15" x2="213" y2="858.15" stroke="#c5b47f" stroke-width="1.8"/>
<circle cx="225.41" cy="853.81" r="4.2" fill="#c5b47f"/>
<line x1="225.41" y1="847.81" x2="225.41" y2="859.81" stroke="#c5b47f" stroke-width="1.8"/>
<line x1="221.91" y1="847.81" x2="228.91" y2="847.81" stroke="#c5b47f" stroke-width="1.8"/>
<line x1="221.91" y1="859.81" x2="228.91" y2="859.81" stroke="#c5b47f" stroke-width="1.8"/>
<circle cx="240.33" cy="856.13" r="4.2" fill="#c5b47f"/>
<line x1="240.33" y1="850.13" x2="240.33" y2="862.13" stroke="#c5b47f" stroke-width="1.8"/>
<line x1="236.83" y1="850.13" x2="243.83" y2="850.13" stroke="#c5b47f" stroke-width="1.8"/>
<line x1="236.83" y1="862.13" x2="243.83" y2="862.13" stroke="#c5b47f" stroke-width="1.8"/>
<circle cx="255.91" cy="857.12" r="4.2" fill="#c5b47f"/>
<line x1="255.91" y1="851.12" x2="255.91" y2="863.12" stroke="#c5b47f" stroke-width="1.8"/>
<line x1="252.41" y1="851.12" x2="259.41" y2="851.12" stroke="#c5b47f" stroke-width="1.8"/>
<line x1="252.41" y1="863.12" x2="259.41" y2="863.12" stroke="#c5b47f" stroke-width="1.8"/>
<circle cx="271.82" cy="858.45" r="4.2" fill="#c5b47f"/>
<line x1="271.82" y1="852.45" x2="271.82" y2="864.45" stroke="#c5b47f" stroke-width="1.8"/>
<line x1="268.32" y1="852.45" x2="275.32" y2="852.45" stroke="#c5b47f" stroke-width="1.8"/>
<line x1="268.32" y1="864.45" x2="275.32" y2="864.45" stroke="#c5b47f" stroke-width="1.8"/>
<circle cx="286.74" cy="859.44" r="4.2" fill="#c5b47f"/>
<line x1="286.74" y1="853.44" x2="286.74" y2="865.44" stroke="#c5b47f" stroke-width="1.8"/>
<line x1="283.24" y1="853.44" x2="290.24" y2="853.44" stroke="#c5b47f" stroke-width="1.8"/>
<line x1="283.24" y1="865.44" x2="290.24" y2="865.44" stroke="#c5b47f" stroke-width="1.8"/>
<circle cx="302.32" cy="860.44" r="4.2" fill="#c5b47f"/>
<line x1="302.32" y1="854.44" x2="302.32" y2="866.44" stroke="#c5b47f" stroke-width="1.8"/>
<line x1="298.82" y1="854.44" x2="305.82" y2="854.44" stroke="#c5b47f" stroke-width="1.8"/>
<line x1="298.82" y1="866.44" x2="305.82" y2="866.44" stroke="#c5b47f" stroke-width="1.8"/>
<circle cx="318.23" cy="861.1" r="4.2" fill="#c5b47f"/>
<line x1="318.23" y1="855.1" x2="318.23" y2="867.1" stroke="#c5b47f" stroke-width="1.8"/>
<line x1="314.73" y1="855.1" x2="321.73" y2="855.1" stroke="#c5b47f" stroke-width="1.8"/>
<line x1="314.73" y1="867.1" x2="321.73" y2="867.1" stroke="#c5b47f" stroke-width="1.8"/>
<circle cx="333.81" cy="862.1" r="4.2" fill="#c5b47f"/>
<line x1="333.81" y1="856.1" x2="333.81" y2="868.1" stroke="#c5b47f" stroke-width="1.8"/>
<line x1="330.31" y1="856.1" x2="337.31" y2="856.1" stroke="#c5b47f" stroke-width="1.8"/>
<line x1="330.31" y1="868.1" x2="337.31" y2="868.1" stroke="#c5b47f" stroke-width="1.8"/>
<circle cx="349.06" cy="862.76" r="4.2" fill="#c5b47f"/>
<line x1="349.06" y1="856.76" x2="349.06" y2="868.76" stroke="#c5b47f" stroke-width="1.8"/>
<line x1="345.56" y1="856.76" x2="352.56" y2="856.76" stroke="#c5b47f" stroke-width="1.8"/>
<line x1="345.56" y1="868.76" x2="352.56" y2="868.76" stroke="#c5b47f" stroke-width="1.8"/>
<circle cx="364.64" cy="863.42" r="4.2" fill="#c5b47f"/>
<line x1="364.64" y1="857.42" x2="364.64" y2="869.42" stroke="#c5b47f" stroke-width="1.8"/>
<line x1="361.14" y1="857.42" x2="368.14" y2="857.42" stroke="#c5b47f" stroke-width="1.8"/>
<line x1="361.14" y1="869.42" x2="368.14" y2="869.42" stroke="#c5b47f" stroke-width="1.8"/>
<circle cx="380.22" cy="864.08" r="4.2" fill="#c5b47f"/>
<line x1="380.22" y1="858.08" x2="380.22" y2="870.08" stroke="#c5b47f" stroke-width="1.8"/>
<line x1="376.72" y1="858.08" x2="383.72" y2="858.08" stroke="#c5b47f" stroke-width="1.8"/>
<line x1="376.72" y1="870.08" x2="383.72" y2="870.08" stroke="#c5b47f" stroke-width="1.8"/>
<circle cx="395.47" cy="864.42" r="4.2" fill="#c5b47f"/>
<line x1="395.47" y1="858.42" x2="395.47" y2="870.42" stroke="#c5b47f" stroke-width="1.8"/>
<line x1="391.97" y1="858.42" x2="398.97" y2="858.42" stroke="#c5b47f" stroke-width="1.8"/>
<line x1="391.97" y1="870.42" x2="398.97" y2="870.42" stroke="#c5b47f" stroke-width="1.8"/>
<circle cx="411.05" cy="865.08" r="4.2" fill="#c5b47f"/>
<line x1="411.05" y1="859.08" x2="411.05" y2="871.08" stroke="#c5b47f" stroke-width="1.8"/>
<line x1="407.55" y1="859.08" x2="414.55" y2="859.08" stroke="#c5b47f" stroke-width="1.8"/>
<line x1="407.55" y1="871.08" x2="414.55" y2="871.08" stroke="#c5b47f" stroke-width="1.8"/>
<line x1="303.97" y1="779.89" x2="303.97" y2="894.5" stroke="#000" stroke-width="1.5" stroke-dasharray="8,5"/>
<line x1="85.5" y1="836.57" x2="364.64" y2="836.57" stroke="#000" stroke-width="1.5" stroke-dasharray="8,5"/>
<circle cx="303.97" cy="836.57" r="3.5" fill="#000"/>
<line x1="303.97" y1="836.57" x2="402.77" y2="789.58" stroke="#000" stroke-width="1.8"/>
<polygon points="412.7,784.86 403.8,794.08 403.49,789.24 399.93,785.95" fill="#000" stroke="none" stroke-width="0"/>
<line x1="356.3" y1="577.7" x2="297.4" y2="577.7" stroke="#44546d" stroke-width="2.5"/>
<polygon points="284.4,577.7 298.4,572.7 296.3,577.7 298.4,582.7" fill="#44546d" stroke="none" stroke-width="0"/>
<line x1="470.1" y1="622.4" x2="525.6" y2="622.4" stroke="#c5b47f" stroke-width="2.5"/>
<polygon points="538.6,622.4 524.6,627.4 526.7,622.4 524.6,617.4" fill="#c5b47f" stroke="none" stroke-width="0"/>
<line x1="376.9" y1="750" x2="317.3" y2="750" stroke="#44546d" stroke-width="2.5"/>
<polygon points="304.3,750 318.3,745 316.2,750 318.3,755" fill="#44546d" stroke="none" stroke-width="0"/>
<line x1="441.9" y1="865.1" x2="497.5" y2="865.1" stroke="#c5b47f" stroke-width="2.5"/>
<polygon points="510.5,865.1 496.5,870.1 498.6,865.1 496.5,860.1" fill="#c5b47f" stroke="none" stroke-width="0"/>
<line x1="730.2" y1="700" x2="1287.1" y2="700" stroke="#000" stroke-width="2"/>
<line x1="1009.1" y1="478" x2="1009.1" y2="922.7" stroke="#000" stroke-width="2"/>
<polygon points="718.2,700 731.2,694 731.2,706" fill="#000" stroke="none" stroke-width="0"/>
<polygon points="1299.1,700 1286.1,694 1286.1,706" fill="#000" stroke="none" stroke-width="0"/>
<polygon points="1009.1,466 1003.1,480 1015.1,480" fill="#000" stroke="none" stroke-width="0"/>
<polygon points="1009.1,934.7 1003.1,920.7 1015.1,920.7" fill="#000" stroke="none" stroke-width="0"/>
<line x1="1041.04" y1="700" x2="1041.04" y2="696" stroke="#000" stroke-width="1.8"/>
<line x1="977.16" y1="700" x2="977.16" y2="704" stroke="#000" stroke-width="1.8"/>
<line x1="1072.98" y1="700" x2="1072.98" y2="692.5" stroke="#000" stroke-width="1.8"/>
<line x1="945.23" y1="700" x2="945.23" y2="707.5" stroke="#000" stroke-width="1.8"/>
<line x1="1104.91" y1="700" x2="1104.91" y2="696" stroke="#000" stroke-width="1.8"/>
<line x1="913.29" y1="700" x2="913.29" y2="704" stroke="#000" stroke-width="1.8"/>
<line x1="1136.85" y1="700" x2="1136.85" y2="692.5" stroke="#000" stroke-width="1.8"/>
<line x1="881.35" y1="700" x2="881.35" y2="707.5" stroke="#000" stroke-width="1.8"/>
<line x1="1168.79" y1="700" x2="1168.79" y2="696" stroke="#000" stroke-width="1.8"/>
<line x1="849.41" y1="700" x2="849.41" y2="704" stroke="#000" stroke-width="1.8"/>
<line x1="1200.72" y1="700" x2="1200.72" y2="692.5" stroke="#000" stroke-width="1.8"/>
<line x1="817.48" y1="700" x2="817.48" y2="707.5" stroke="#000" stroke-width="1.8"/>
<line x1="1232.66" y1="700" x2="1232.66" y2="696" stroke="#000" stroke-width="1.8"/>
<line x1="785.54" y1="700" x2="785.54" y2="704" stroke="#000" stroke-width="1.8"/>
<line x1="1264.6" y1="700" x2="1264.6" y2="692.5" stroke="#000" stroke-width="1.8"/>
<line x1="753.6" y1="700" x2="753.6" y2="707.5" stroke="#000" stroke-width="1.8"/>
<line x1="1009.1" y1="665.07" x2="1013.1" y2="665.07" stroke="#000" stroke-width="1.8"/>
<line x1="1009.1" y1="734.93" x2="1005.1" y2="734.93" stroke="#000" stroke-width="1.8"/>
<line x1="1009.1" y1="630.13" x2="1016.6" y2="630.13" stroke="#000" stroke-width="1.8"/>
<line x1="1009.1" y1="769.87" x2="1001.6" y2="769.87" stroke="#000" stroke-width="1.8"/>
<line x1="1009.1" y1="595.2" x2="1013.1" y2="595.2" stroke="#000" stroke-width="1.8"/>
<line x1="1009.1" y1="804.8" x2="1005.1" y2="804.8" stroke="#000" stroke-width="1.8"/>
<line x1="1009.1" y1="560.27" x2="1016.6" y2="560.27" stroke="#000" stroke-width="1.8"/>
<line x1="1009.1" y1="839.73" x2="1001.6" y2="839.73" stroke="#000" stroke-width="1.8"/>
<line x1="1009.1" y1="525.33" x2="1013.1" y2="525.33" stroke="#000" stroke-width="1.8"/>
<line x1="1009.1" y1="874.67" x2="1005.1" y2="874.67" stroke="#000" stroke-width="1.8"/>
<line x1="1009.1" y1="490.4" x2="1016.6" y2="490.4" stroke="#000" stroke-width="1.8"/>
<line x1="1009.1" y1="909.6" x2="1001.6" y2="909.6" stroke="#000" stroke-width="1.8"/>
<text x="1072.98" y="730.1" font-size="29.3" text-anchor="middle" fill="#000">25</text>
<text x="945.23" y="690.5" font-size="29.3" text-anchor="middle" fill="#000">25</text>
<text x="1136.85" y="730.1" font-size="29.3" text-anchor="middle" fill="#000">50</text>
<text x="881.35" y="690.5" font-size="29.3" text-anchor="middle" fill="#000">50</text>
<text x="1200.72" y="730.1" font-size="29.3" text-anchor="middle" fill="#000">75</text>
<text x="817.48" y="690.5" font-size="29.3" text-anchor="middle" fill="#000">75</text>
<text x="1264.6" y="730.1" font-size="29.3" text-anchor="middle" fill="#000">100</text>
<text x="753.6" y="690.5" font-size="29.3" text-anchor="middle" fill="#000">100</text>
<text x="1004" y="639.63" font-size="29.3" text-anchor="end" fill="#000">20</text>
<text x="1013.5" y="779.37" font-size="29.3" text-anchor="start" fill="#000">20</text>
<text x="1004" y="569.77" font-size="29.3" text-anchor="end" fill="#000">40</text>
<text x="1013.5" y="849.23" font-size="29.3" text-anchor="start" fill="#000">40</text>
<text x="1004" y="499.9" font-size="29.3" text-anchor="end" fill="#000">60</text>
<text x="1013.5" y="919.1" font-size="29.3" text-anchor="start" fill="#000">60</text>
<text x="1307" y="760.2" font-size="30" text-anchor="end" fill="#000"><tspan font-style="italic">ε</tspan><tspan font-size="20.5" dy="7.6">t</tspan><tspan dy="-7.6"> (%)</tspan></text>
<text x="714.4" y="655" font-size="30" text-anchor="start" fill="#000"><tspan font-style="italic">ε</tspan><tspan font-size="20.5" dy="7.6">c</tspan><tspan dy="-7.6"> (%)</tspan></text>
<text x="941" y="461" font-size="30" text-anchor="start" fill="#000" transform="rotate(90 941 461)"><tspan font-style="italic">σ</tspan><tspan font-size="20.5" dy="7.6">t</tspan><tspan dy="-7.6"> (kPa)</tspan></text>
<text x="1080" y="936.5" font-size="30" text-anchor="start" fill="#000" transform="rotate(-90 1080 936.5)"><tspan font-style="italic">σ</tspan><tspan font-size="20.5" dy="7.6">c</tspan><tspan dy="-7.6"> (kPa)</tspan></text>
<path d="M1009.31,700.12 C1015.52,698.41 1035.19,693.13 1046.57,689.87 C1057.95,686.61 1067.27,684.18 1077.62,680.56 C1087.96,676.94 1098.31,673.31 1108.66,668.14 C1119.01,662.97 1130.65,655.98 1139.71,649.51 C1148.76,643.04 1156.52,636.32 1162.99,629.33 C1169.46,622.35 1174.64,613.29 1178.52,607.6 C1182.4,601.91 1182.91,601.13 1186.28,595.18 C1189.64,589.23 1194.04,578.88 1198.7,571.9 C1203.35,564.91 1208.53,559.48 1214.22,553.27 C1219.91,547.06 1228.71,538.26 1232.85,534.64 C1236.99,531.02 1236.47,533.35 1239.06,531.54 C1241.64,529.73 1245.52,526.62 1248.37,523.78 C1251.22,520.93 1253.34,517.1 1256.13,514.46 C1258.93,511.82 1263.63,509.03 1265.14,507.94" fill="none" stroke="#c3cad4" stroke-width="3.2" stroke-linejoin="round" stroke-linecap="round"/>
<path d="M1265.14,507.94 C1264.93,510.53 1265.14,516.48 1263.89,523.46 C1262.65,530.45 1260.27,540.8 1257.68,549.85 C1255.1,558.91 1252.51,567.45 1248.37,577.8 C1244.23,588.14 1238.54,601.34 1232.85,611.95 C1227.16,622.55 1220.69,632.9 1214.22,641.44 C1207.75,649.98 1202.58,656.7 1194.04,663.17 C1185.5,669.64 1174.64,675.72 1162.99,680.25 C1151.35,684.78 1138.41,687.62 1124.19,690.34 C1109.96,693.05 1090.55,695.12 1077.62,696.55 C1064.68,697.97 1057.95,698.28 1046.57,698.88 C1035.19,699.47 1015.52,699.91 1009.31,700.12" fill="none" stroke="#c3cad4" stroke-width="3.2" stroke-linejoin="round" stroke-linecap="round"/>
<path d="M1009.27,700.12 C1005.79,701.19 997.25,703.59 988.43,706.53 C979.62,709.47 967.07,713.47 956.39,717.75 C945.7,722.02 935.02,727.09 924.34,732.17 C913.65,737.24 902.97,742.85 892.29,748.19 C881.61,753.53 869.59,758.88 860.24,764.22 C850.89,769.56 842.61,775.17 836.2,780.24 C829.8,785.32 826.11,789.99 821.78,794.66 C817.46,799.34 812.17,806.01 810.25,808.28" fill="none" stroke="#c3cad4" stroke-width="3.2" stroke-linejoin="round" stroke-linecap="round"/>
<path d="M810.25,808.28 C810.83,805.75 811.85,798.8 813.77,793.06 C815.69,787.32 818.58,779.71 821.78,773.83 C824.99,767.96 828.73,762.61 833,757.81 C837.27,753 841.55,749.26 847.42,744.99 C853.3,740.71 860.78,735.91 868.25,732.17 C875.73,728.43 882.94,725.49 892.29,722.55 C901.64,719.62 913.65,716.81 924.34,714.54 C935.02,712.27 945.7,710.8 956.39,708.93 C967.07,707.06 979.62,704.79 988.43,703.33 C997.25,701.86 1005.79,700.65 1009.27,700.12" fill="none" stroke="#c3cad4" stroke-width="3.2" stroke-linejoin="round" stroke-linecap="round"/>
<path d="M1009.31,700.12 C1015.52,698.1 1035.19,691.53 1046.57,688.01 C1057.95,684.49 1067.27,682.58 1077.62,679.01 C1087.96,675.44 1098.31,671.76 1108.66,666.59 C1119.01,661.41 1130.65,654.17 1139.71,647.96 C1148.76,641.75 1157.3,634.25 1162.99,629.33 C1168.68,624.42 1169.98,622.61 1173.86,618.47 C1177.74,614.33 1181.36,609.72 1186.28,604.5 C1191.19,599.27 1198.7,591.61 1203.35,587.11 C1208.01,582.61 1212.41,579.09 1214.22,577.49" fill="none" stroke="#939fae" stroke-width="3.4" stroke-linejoin="round" stroke-linecap="round"/>
<path d="M1214.22,577.49 C1213.7,579.35 1212.67,584.21 1211.11,588.66 C1209.56,593.11 1207.75,598.23 1204.91,604.19 C1202.06,610.14 1198.44,617.64 1194.04,624.37 C1189.64,631.09 1184.98,637.82 1178.52,644.55 C1172.05,651.27 1164.29,658.77 1155.23,664.73 C1146.18,670.68 1137.12,675.59 1124.19,680.25 C1111.25,684.91 1091.85,689.69 1077.62,692.67 C1063.39,695.64 1050.19,696.86 1038.81,698.1 C1027.42,699.34 1014.23,699.78 1009.31,700.12" fill="none" stroke="#939fae" stroke-width="3.4" stroke-linejoin="round" stroke-linecap="round"/>
<path d="M1009.27,700.12 C1000.45,703.06 970.54,712.41 956.39,717.75 C942.23,723.09 935.02,727.23 924.34,732.17 C913.65,737.11 902.97,742.32 892.29,747.39 C881.61,752.47 869.45,757.54 860.24,762.61 C851.03,767.69 840.88,775.3 837.01,777.84" fill="none" stroke="#939fae" stroke-width="3.4" stroke-linejoin="round" stroke-linecap="round"/>
<path d="M837.01,777.84 C837.67,776.1 838.47,771.29 841.01,767.42 C843.55,763.55 847.69,758.88 852.23,754.6 C856.77,750.33 861.58,746.06 868.25,741.78 C874.93,737.51 882.94,732.97 892.29,728.96 C901.64,724.96 913.65,720.95 924.34,717.75 C935.02,714.54 942.23,712.67 956.39,709.73 C970.54,706.8 1000.45,701.72 1009.27,700.12" fill="none" stroke="#939fae" stroke-width="3.4" stroke-linejoin="round" stroke-linecap="round"/>
<path d="M1009.31,700.12 C1015.52,698.1 1035.19,691.53 1046.57,688.01 C1057.95,684.49 1067.27,682.37 1077.62,679.01 C1087.96,675.64 1099.61,671.5 1108.66,667.83 C1117.72,664.16 1125.48,660.07 1131.95,656.96 C1138.41,653.86 1142.3,651.58 1147.47,649.2 C1152.64,646.82 1160.41,643.77 1162.99,642.68" fill="none" stroke="#6e7d92" stroke-width="3.6" stroke-linejoin="round" stroke-linecap="round"/>
<path d="M1162.99,642.68 C1162.22,644.03 1160.92,647.6 1158.34,650.75 C1155.75,653.91 1151.87,658 1147.47,661.62 C1143.07,665.24 1138.41,669.12 1131.95,672.49 C1125.48,675.85 1117.72,678.95 1108.66,681.8 C1099.61,684.65 1087.96,687.23 1077.62,689.56 C1067.27,691.89 1057.95,694.01 1046.57,695.77 C1035.19,697.53 1015.52,699.39 1009.31,700.12" fill="none" stroke="#6e7d92" stroke-width="3.6" stroke-linejoin="round" stroke-linecap="round"/>
<path d="M1009.27,700.12 C1000.45,703.06 970.54,712.41 956.39,717.75 C942.23,723.09 935.02,727.36 924.34,732.17 C913.65,736.98 902.44,742.05 892.29,746.59 C882.14,751.13 868.25,757.27 863.45,759.41" fill="none" stroke="#6e7d92" stroke-width="3.6" stroke-linejoin="round" stroke-linecap="round"/>
<path d="M863.45,759.41 C864.51,758.07 866.38,754.6 869.86,751.4 C873.33,748.19 879.2,743.65 884.28,740.18 C889.35,736.71 893.62,733.77 900.3,730.57 C906.98,727.36 914.99,724.16 924.34,720.95 C933.68,717.75 942.23,714.81 956.39,711.34 C970.54,707.87 1000.45,701.99 1009.27,700.12" fill="none" stroke="#6e7d92" stroke-width="3.6" stroke-linejoin="round" stroke-linecap="round"/>
<path d="M1009.31,700.12 C1015.52,697.97 1035.19,690.93 1046.57,687.23 C1057.95,683.53 1066.75,680.64 1077.62,677.92 C1088.48,675.2 1106.07,672.1 1111.77,670.93" fill="none" stroke="#44546d" stroke-width="4.2" stroke-linejoin="round" stroke-linecap="round"/>
<path d="M1111.77,670.93 C1109.96,671.84 1106.59,674.3 1100.9,676.37 C1095.21,678.44 1086.67,680.64 1077.62,683.35 C1068.56,686.07 1057.95,689.87 1046.57,692.67 C1035.19,695.46 1015.52,698.88 1009.31,700.12" fill="none" stroke="#44546d" stroke-width="4.2" stroke-linejoin="round" stroke-linecap="round"/>
<path d="M1009.27,700.12 C1000.45,702.79 969.2,711.74 956.39,716.14 C943.57,720.55 940.36,723.09 932.35,726.56 C924.34,730.03 916.06,733.77 908.31,736.98 C900.57,740.18 889.62,744.32 885.88,745.79" fill="none" stroke="#44546d" stroke-width="4.2" stroke-linejoin="round" stroke-linecap="round"/>
<path d="M885.88,745.79 C887.48,744.59 891.76,740.85 895.49,738.58 C899.23,736.31 902.17,734.84 908.31,732.17 C914.46,729.5 924.34,725.49 932.35,722.55 C940.36,719.62 943.57,718.28 956.39,714.54 C969.2,710.8 1000.45,702.52 1009.27,700.12" fill="none" stroke="#44546d" stroke-width="4.2" stroke-linejoin="round" stroke-linecap="round"/>
<line x1="1422" y1="704.3" x2="1979" y2="704.3" stroke="#000" stroke-width="2"/>
<line x1="1700.5" y1="481.6" x2="1700.5" y2="925.7" stroke="#000" stroke-width="2"/>
<polygon points="1410,704.3 1423,698.3 1423,710.3" fill="#000" stroke="none" stroke-width="0"/>
<polygon points="1991,704.3 1978,698.3 1978,710.3" fill="#000" stroke="none" stroke-width="0"/>
<polygon points="1700.5,469.6 1694.5,483.6 1706.5,483.6" fill="#000" stroke="none" stroke-width="0"/>
<polygon points="1700.5,937.7 1694.5,923.7 1706.5,923.7" fill="#000" stroke="none" stroke-width="0"/>
<line x1="1732.49" y1="704.3" x2="1732.49" y2="700.3" stroke="#000" stroke-width="1.8"/>
<line x1="1668.51" y1="704.3" x2="1668.51" y2="708.3" stroke="#000" stroke-width="1.8"/>
<line x1="1764.47" y1="704.3" x2="1764.47" y2="696.8" stroke="#000" stroke-width="1.8"/>
<line x1="1636.53" y1="704.3" x2="1636.53" y2="711.8" stroke="#000" stroke-width="1.8"/>
<line x1="1796.46" y1="704.3" x2="1796.46" y2="700.3" stroke="#000" stroke-width="1.8"/>
<line x1="1604.54" y1="704.3" x2="1604.54" y2="708.3" stroke="#000" stroke-width="1.8"/>
<line x1="1828.45" y1="704.3" x2="1828.45" y2="696.8" stroke="#000" stroke-width="1.8"/>
<line x1="1572.55" y1="704.3" x2="1572.55" y2="711.8" stroke="#000" stroke-width="1.8"/>
<line x1="1860.44" y1="704.3" x2="1860.44" y2="700.3" stroke="#000" stroke-width="1.8"/>
<line x1="1540.56" y1="704.3" x2="1540.56" y2="708.3" stroke="#000" stroke-width="1.8"/>
<line x1="1892.43" y1="704.3" x2="1892.43" y2="696.8" stroke="#000" stroke-width="1.8"/>
<line x1="1508.57" y1="704.3" x2="1508.57" y2="711.8" stroke="#000" stroke-width="1.8"/>
<line x1="1924.41" y1="704.3" x2="1924.41" y2="700.3" stroke="#000" stroke-width="1.8"/>
<line x1="1476.59" y1="704.3" x2="1476.59" y2="708.3" stroke="#000" stroke-width="1.8"/>
<line x1="1956.4" y1="704.3" x2="1956.4" y2="696.8" stroke="#000" stroke-width="1.8"/>
<line x1="1444.6" y1="704.3" x2="1444.6" y2="711.8" stroke="#000" stroke-width="1.8"/>
<line x1="1700.5" y1="673.65" x2="1704.5" y2="673.65" stroke="#000" stroke-width="1.8"/>
<line x1="1700.5" y1="734.95" x2="1696.5" y2="734.95" stroke="#000" stroke-width="1.8"/>
<line x1="1700.5" y1="643" x2="1708" y2="643" stroke="#000" stroke-width="1.8"/>
<line x1="1700.5" y1="765.6" x2="1693" y2="765.6" stroke="#000" stroke-width="1.8"/>
<line x1="1700.5" y1="612.35" x2="1704.5" y2="612.35" stroke="#000" stroke-width="1.8"/>
<line x1="1700.5" y1="796.25" x2="1696.5" y2="796.25" stroke="#000" stroke-width="1.8"/>
<line x1="1700.5" y1="581.7" x2="1708" y2="581.7" stroke="#000" stroke-width="1.8"/>
<line x1="1700.5" y1="826.9" x2="1693" y2="826.9" stroke="#000" stroke-width="1.8"/>
<line x1="1700.5" y1="551.05" x2="1704.5" y2="551.05" stroke="#000" stroke-width="1.8"/>
<line x1="1700.5" y1="857.55" x2="1696.5" y2="857.55" stroke="#000" stroke-width="1.8"/>
<line x1="1700.5" y1="520.4" x2="1708" y2="520.4" stroke="#000" stroke-width="1.8"/>
<line x1="1700.5" y1="888.2" x2="1693" y2="888.2" stroke="#000" stroke-width="1.8"/>
<line x1="1700.5" y1="489.75" x2="1704.5" y2="489.75" stroke="#000" stroke-width="1.8"/>
<line x1="1700.5" y1="918.85" x2="1696.5" y2="918.85" stroke="#000" stroke-width="1.8"/>
<text x="1764.47" y="735" font-size="29.3" text-anchor="middle" fill="#000">25</text>
<text x="1636.53" y="694.7" font-size="29.3" text-anchor="middle" fill="#000">25</text>
<text x="1828.45" y="735" font-size="29.3" text-anchor="middle" fill="#000">50</text>
<text x="1572.55" y="694.7" font-size="29.3" text-anchor="middle" fill="#000">50</text>
<text x="1892.43" y="735" font-size="29.3" text-anchor="middle" fill="#000">75</text>
<text x="1508.57" y="694.7" font-size="29.3" text-anchor="middle" fill="#000">75</text>
<text x="1956.4" y="735" font-size="29.3" text-anchor="middle" fill="#000">100</text>
<text x="1444.6" y="694.7" font-size="29.3" text-anchor="middle" fill="#000">100</text>
<text x="1695.5" y="652.5" font-size="29.3" text-anchor="end" fill="#000">20</text>
<text x="1706" y="775.1" font-size="29.3" text-anchor="start" fill="#000">20</text>
<text x="1695.5" y="591.2" font-size="29.3" text-anchor="end" fill="#000">40</text>
<text x="1706" y="836.4" font-size="29.3" text-anchor="start" fill="#000">40</text>
<text x="1695.5" y="529.9" font-size="29.3" text-anchor="end" fill="#000">60</text>
<text x="1706" y="897.7" font-size="29.3" text-anchor="start" fill="#000">60</text>
<text x="1997" y="765" font-size="30" text-anchor="end" fill="#000"><tspan font-style="italic">ε</tspan><tspan font-size="20.5" dy="7.6">t</tspan><tspan dy="-7.6"> (%)</tspan></text>
<text x="1406.6" y="659" font-size="30" text-anchor="start" fill="#000"><tspan font-style="italic">ε</tspan><tspan font-size="20.5" dy="7.6">c</tspan><tspan dy="-7.6"> (%)</tspan></text>
<text x="1633" y="463" font-size="30" text-anchor="start" fill="#000" transform="rotate(90 1633 463)"><tspan font-style="italic">σ</tspan><tspan font-size="20.5" dy="7.6">t</tspan><tspan dy="-7.6"> (kPa)</tspan></text>
<text x="1768.6" y="939.3" font-size="30" text-anchor="start" fill="#000" transform="rotate(-90 1768.6 939.3)"><tspan font-style="italic">σ</tspan><tspan font-size="20.5" dy="7.6">c</tspan><tspan dy="-7.6"> (kPa)</tspan></text>
<text x="1750" y="509.4" font-size="29.5" text-anchor="start" fill="#000">2nd - 10th cycle</text>
<text x="1752.3" y="563.8" font-size="29.5" text-anchor="start" fill="#000">1st cycle</text>
<text x="1462.1" y="896" font-size="29.2" text-anchor="start" fill="#000">1st - 10th cycle</text>
<path d="M1700.45,704.44 C1703.84,703.47 1712.24,700.86 1720.75,698.6 C1729.25,696.35 1741.24,693.09 1751.49,690.91 C1761.74,688.74 1771.99,687.33 1782.24,685.53 C1792.49,683.74 1802.73,682.08 1812.98,680.15 C1823.23,678.23 1834.76,676.57 1843.73,674 C1852.7,671.44 1859.1,668.62 1866.79,664.78 C1874.47,660.94 1882.93,656.33 1889.85,650.95 C1896.76,645.56 1902.66,639.42 1908.29,632.5 C1913.93,625.58 1919.05,616.87 1923.67,609.44 C1928.28,602.01 1931.87,595.86 1935.96,587.92 C1940.06,579.97 1944.68,569.47 1948.26,561.78 C1951.85,554.1 1955.05,548.26 1957.49,541.8 C1959.92,535.34 1961.97,526.17 1962.87,523.04" fill="none" stroke="#cdbd8f" stroke-width="6" stroke-linejoin="round" stroke-linecap="round"/>
<path d="M1962.87,526.12 C1962.48,529.19 1961.71,537.9 1960.56,544.57 C1959.41,551.23 1957.74,559.17 1955.95,566.09 C1954.16,573.01 1952.36,579.41 1949.8,586.07 C1947.24,592.73 1944.16,599.4 1940.58,606.06 C1936.99,612.72 1933.15,619.12 1928.28,626.04 C1923.41,632.96 1917.77,640.9 1911.37,647.56 C1904.96,654.22 1898.56,660.5 1889.85,666.01 C1881.14,671.52 1869.35,677.41 1859.1,680.61 C1848.85,683.82 1838.6,683.95 1828.36,685.23 C1818.11,686.51 1807.86,687.02 1797.61,688.3 C1787.36,689.58 1777.11,691.25 1766.86,692.91 C1756.62,694.58 1745.09,696.76 1736.12,698.29 C1727.15,699.83 1719,701.11 1713.06,702.14 C1707.12,703.16 1702.55,704.06 1700.45,704.44" fill="none" stroke="#cdbd8f" stroke-width="6" stroke-linejoin="round" stroke-linecap="round"/>
<path d="M1700.45,704.44 C1702.55,703.16 1707.12,699.52 1713.06,696.76 C1719,693.99 1727.15,690.74 1736.12,687.84 C1745.09,684.94 1756.62,681.82 1766.86,679.39 C1777.11,676.95 1788.64,675.08 1797.61,673.24 C1806.58,671.39 1812.98,670.55 1820.67,668.32 C1828.36,666.09 1837.32,662.81 1843.73,659.86 C1850.13,656.92 1853.98,654.22 1859.1,650.64 C1864.22,647.05 1870.37,641.93 1874.47,638.34 C1878.57,634.75 1879.85,633.98 1883.7,629.12 C1887.54,624.25 1893.43,615.28 1897.53,609.13 C1901.63,602.98 1904.45,598.11 1908.29,592.22 C1912.14,586.33 1915.98,580.18 1920.59,573.77 C1925.2,567.37 1930.84,560.19 1935.96,553.79 C1941.09,547.38 1946.85,540.77 1951.34,535.34 C1955.82,529.91 1960.95,523.56 1962.87,521.2" fill="none" stroke="#8c7a46" stroke-width="3.2" stroke-linejoin="round" stroke-linecap="round"/>
<path d="M1962.87,521.2 C1962.61,523.3 1962.23,527.86 1961.33,533.8 C1960.43,539.75 1959.15,549.18 1957.49,556.86 C1955.82,564.55 1953.9,572.24 1951.34,579.92 C1948.78,587.61 1945.7,595.55 1942.11,602.98 C1938.53,610.41 1934.68,617.33 1929.82,624.5 C1924.95,631.68 1919.57,639.36 1912.91,646.03 C1906.24,652.69 1898.81,659.09 1889.85,664.47 C1880.88,669.85 1869.35,675.18 1859.1,678.31 C1848.85,681.43 1838.6,681.9 1828.36,683.23 C1818.11,684.56 1807.86,685.02 1797.61,686.3 C1787.36,687.58 1777.11,689.17 1766.86,690.91 C1756.62,692.66 1745.09,695.01 1736.12,696.76 C1727.15,698.5 1719,700.09 1713.06,701.37 C1707.12,702.65 1702.55,703.93 1700.45,704.44" fill="none" stroke="#8c7a46" stroke-width="3.2" stroke-linejoin="round" stroke-linecap="round"/>
<path d="M1495.28,860.38 C1496.52,855.41 1499.28,840.77 1502.73,830.56 C1506.19,820.34 1511.02,807.63 1515.99,799.07 C1520.96,790.51 1525.66,785.68 1532.56,779.19 C1539.46,772.7 1549.13,765.38 1557.42,760.13 C1565.7,754.89 1572.6,752.12 1582.27,747.71 C1591.94,743.29 1604.36,737.98 1615.41,733.62 C1626.46,729.26 1637.5,725.31 1648.55,721.52 C1659.6,717.74 1673.07,713.79 1681.69,710.92 C1690.31,708.05 1697.16,705.4 1700.25,704.29" fill="none" stroke="#cdbd8f" stroke-width="7" stroke-linejoin="round" stroke-linecap="round"/>
<path d="M1495.28,847.13 C1496.24,841.6 1498.73,823.65 1501.08,813.99 C1503.42,804.32 1506.32,796.31 1509.36,789.13 C1512.4,781.95 1514.89,777.12 1519.3,770.9 C1523.72,764.69 1529.25,757.65 1535.87,751.85 C1542.5,746.05 1551.34,740.39 1559.07,736.11 C1566.8,731.83 1572.88,729.26 1582.27,726.16 C1591.66,723.07 1604.36,720.09 1615.41,717.55 C1626.46,715.01 1634.41,713.13 1648.55,710.92 C1662.69,708.71 1691.63,705.4 1700.25,704.29" fill="none" stroke="#cdbd8f" stroke-width="6" stroke-linejoin="round" stroke-linecap="round"/>
<path d="M1495.28,827.24 C1495.97,823.65 1497.62,812.88 1499.42,805.7 C1501.22,798.52 1503.29,790.79 1506.05,784.16 C1508.81,777.53 1511.57,772.01 1515.99,765.93 C1520.41,759.86 1525.66,753.23 1532.56,747.71 C1539.46,742.18 1549.13,736.8 1557.42,732.79 C1565.7,728.79 1572.6,726.58 1582.27,723.68 C1591.94,720.78 1604.36,717.74 1615.41,715.39 C1626.46,713.05 1634.41,711.44 1648.55,709.59 C1662.69,707.74 1691.63,705.18 1700.25,704.29" fill="none" stroke="#8c7a46" stroke-width="3.2" stroke-linejoin="round" stroke-linecap="round"/>
<path d="M1495.28,827.24 C1495.97,825.31 1495.97,821.99 1499.42,815.64 C1502.87,809.29 1510.47,796.31 1515.99,789.13 C1521.51,781.95 1525.66,778.08 1532.56,772.56 C1539.46,767.04 1549.13,760.68 1557.42,755.99 C1565.7,751.3 1572.6,748.53 1582.27,744.39 C1591.94,740.25 1604.36,735.28 1615.41,731.14 C1626.46,726.99 1637.5,723.13 1648.55,719.54 C1659.6,715.95 1673.07,712.13 1681.69,709.59 C1690.31,707.05 1697.16,705.18 1700.25,704.29" fill="none" stroke="#8c7a46" stroke-width="3.2" stroke-linejoin="round" stroke-linecap="round"/>
<line x1="1872.2" y1="520.3" x2="1921.83" y2="584.23" stroke="#000" stroke-width="2"/>
<polygon points="1929.8,594.5 1917.27,586.51 1922.5,585.1 1925.16,580.38" fill="#000" stroke="none" stroke-width="0"/>
<line x1="1837.9" y1="571.9" x2="1873.97" y2="618.8" stroke="#000" stroke-width="2"/>
<polygon points="1881.9,629.1 1869.4,621.05 1874.64,619.67 1877.33,614.95" fill="#000" stroke="none" stroke-width="0"/>
<line x1="1545" y1="869.5" x2="1513.01" y2="826.9" stroke="#000" stroke-width="2"/>
<polygon points="1505.2,816.5 1517.6,824.69 1512.35,826.02 1509.61,830.7" fill="#000" stroke="none" stroke-width="0"/>
<rect x="89.4" y="1054.6" width="249" height="191" fill="none" stroke="#000" stroke-width="2"/>
<line x1="117.7" y1="1054.6" x2="117.7" y2="1062.1" stroke="#000" stroke-width="1.8"/>
<line x1="117.7" y1="1245.6" x2="117.7" y2="1238.1" stroke="#000" stroke-width="1.8"/>
<line x1="165.57" y1="1054.6" x2="165.57" y2="1059.1" stroke="#000" stroke-width="1.8"/>
<line x1="165.57" y1="1245.6" x2="165.57" y2="1241.1" stroke="#000" stroke-width="1.8"/>
<line x1="213.45" y1="1054.6" x2="213.45" y2="1062.1" stroke="#000" stroke-width="1.8"/>
<line x1="213.45" y1="1245.6" x2="213.45" y2="1238.1" stroke="#000" stroke-width="1.8"/>
<line x1="261.32" y1="1054.6" x2="261.32" y2="1059.1" stroke="#000" stroke-width="1.8"/>
<line x1="261.32" y1="1245.6" x2="261.32" y2="1241.1" stroke="#000" stroke-width="1.8"/>
<line x1="309.2" y1="1054.6" x2="309.2" y2="1062.1" stroke="#000" stroke-width="1.8"/>
<line x1="309.2" y1="1245.6" x2="309.2" y2="1238.1" stroke="#000" stroke-width="1.8"/>
<line x1="89.4" y1="1231.6" x2="96.9" y2="1231.6" stroke="#000" stroke-width="1.8"/>
<line x1="338.4" y1="1231.6" x2="330.9" y2="1231.6" stroke="#000" stroke-width="1.8"/>
<line x1="89.4" y1="1196.15" x2="93.9" y2="1196.15" stroke="#000" stroke-width="1.8"/>
<line x1="338.4" y1="1196.15" x2="333.9" y2="1196.15" stroke="#000" stroke-width="1.8"/>
<line x1="89.4" y1="1160.7" x2="96.9" y2="1160.7" stroke="#000" stroke-width="1.8"/>
<line x1="338.4" y1="1160.7" x2="330.9" y2="1160.7" stroke="#000" stroke-width="1.8"/>
<line x1="89.4" y1="1125.25" x2="93.9" y2="1125.25" stroke="#000" stroke-width="1.8"/>
<line x1="338.4" y1="1125.25" x2="333.9" y2="1125.25" stroke="#000" stroke-width="1.8"/>
<line x1="89.4" y1="1089.8" x2="96.9" y2="1089.8" stroke="#000" stroke-width="1.8"/>
<line x1="338.4" y1="1089.8" x2="330.9" y2="1089.8" stroke="#000" stroke-width="1.8"/>
<rect x="345.9" y="1054.6" width="249.4" height="191" fill="none" stroke="#000" stroke-width="2"/>
<line x1="375.2" y1="1054.6" x2="375.2" y2="1062.1" stroke="#000" stroke-width="1.8"/>
<line x1="375.2" y1="1245.6" x2="375.2" y2="1238.1" stroke="#000" stroke-width="1.8"/>
<line x1="423.07" y1="1054.6" x2="423.07" y2="1059.1" stroke="#000" stroke-width="1.8"/>
<line x1="423.07" y1="1245.6" x2="423.07" y2="1241.1" stroke="#000" stroke-width="1.8"/>
<line x1="470.95" y1="1054.6" x2="470.95" y2="1062.1" stroke="#000" stroke-width="1.8"/>
<line x1="470.95" y1="1245.6" x2="470.95" y2="1238.1" stroke="#000" stroke-width="1.8"/>
<line x1="518.83" y1="1054.6" x2="518.83" y2="1059.1" stroke="#000" stroke-width="1.8"/>
<line x1="518.83" y1="1245.6" x2="518.83" y2="1241.1" stroke="#000" stroke-width="1.8"/>
<line x1="566.7" y1="1054.6" x2="566.7" y2="1062.1" stroke="#000" stroke-width="1.8"/>
<line x1="566.7" y1="1245.6" x2="566.7" y2="1238.1" stroke="#000" stroke-width="1.8"/>
<line x1="345.9" y1="1231.6" x2="353.4" y2="1231.6" stroke="#000" stroke-width="1.8"/>
<line x1="595.3" y1="1231.6" x2="587.8" y2="1231.6" stroke="#000" stroke-width="1.8"/>
<line x1="345.9" y1="1196.15" x2="350.4" y2="1196.15" stroke="#000" stroke-width="1.8"/>
<line x1="595.3" y1="1196.15" x2="590.8" y2="1196.15" stroke="#000" stroke-width="1.8"/>
<line x1="345.9" y1="1160.7" x2="353.4" y2="1160.7" stroke="#000" stroke-width="1.8"/>
<line x1="595.3" y1="1160.7" x2="587.8" y2="1160.7" stroke="#000" stroke-width="1.8"/>
<line x1="345.9" y1="1125.25" x2="350.4" y2="1125.25" stroke="#000" stroke-width="1.8"/>
<line x1="595.3" y1="1125.25" x2="590.8" y2="1125.25" stroke="#000" stroke-width="1.8"/>
<line x1="345.9" y1="1089.8" x2="353.4" y2="1089.8" stroke="#000" stroke-width="1.8"/>
<line x1="595.3" y1="1089.8" x2="587.8" y2="1089.8" stroke="#000" stroke-width="1.8"/>
<rect x="89.4" y="1254.6" width="249" height="191" fill="none" stroke="#000" stroke-width="2"/>
<line x1="117.7" y1="1254.6" x2="117.7" y2="1262.1" stroke="#000" stroke-width="1.8"/>
<line x1="117.7" y1="1445.6" x2="117.7" y2="1438.1" stroke="#000" stroke-width="1.8"/>
<line x1="165.57" y1="1254.6" x2="165.57" y2="1259.1" stroke="#000" stroke-width="1.8"/>
<line x1="165.57" y1="1445.6" x2="165.57" y2="1441.1" stroke="#000" stroke-width="1.8"/>
<line x1="213.45" y1="1254.6" x2="213.45" y2="1262.1" stroke="#000" stroke-width="1.8"/>
<line x1="213.45" y1="1445.6" x2="213.45" y2="1438.1" stroke="#000" stroke-width="1.8"/>
<line x1="261.32" y1="1254.6" x2="261.32" y2="1259.1" stroke="#000" stroke-width="1.8"/>
<line x1="261.32" y1="1445.6" x2="261.32" y2="1441.1" stroke="#000" stroke-width="1.8"/>
<line x1="309.2" y1="1254.6" x2="309.2" y2="1262.1" stroke="#000" stroke-width="1.8"/>
<line x1="309.2" y1="1445.6" x2="309.2" y2="1438.1" stroke="#000" stroke-width="1.8"/>
<line x1="89.4" y1="1432.2" x2="96.9" y2="1432.2" stroke="#000" stroke-width="1.8"/>
<line x1="338.4" y1="1432.2" x2="330.9" y2="1432.2" stroke="#000" stroke-width="1.8"/>
<line x1="89.4" y1="1396.67" x2="93.9" y2="1396.67" stroke="#000" stroke-width="1.8"/>
<line x1="338.4" y1="1396.67" x2="333.9" y2="1396.67" stroke="#000" stroke-width="1.8"/>
<line x1="89.4" y1="1361.15" x2="96.9" y2="1361.15" stroke="#000" stroke-width="1.8"/>
<line x1="338.4" y1="1361.15" x2="330.9" y2="1361.15" stroke="#000" stroke-width="1.8"/>
<line x1="89.4" y1="1325.62" x2="93.9" y2="1325.62" stroke="#000" stroke-width="1.8"/>
<line x1="338.4" y1="1325.62" x2="333.9" y2="1325.62" stroke="#000" stroke-width="1.8"/>
<line x1="89.4" y1="1290.1" x2="96.9" y2="1290.1" stroke="#000" stroke-width="1.8"/>
<line x1="338.4" y1="1290.1" x2="330.9" y2="1290.1" stroke="#000" stroke-width="1.8"/>
<rect x="345.9" y="1254.6" width="249.4" height="191" fill="none" stroke="#000" stroke-width="2"/>
<line x1="375.2" y1="1254.6" x2="375.2" y2="1262.1" stroke="#000" stroke-width="1.8"/>
<line x1="375.2" y1="1445.6" x2="375.2" y2="1438.1" stroke="#000" stroke-width="1.8"/>
<line x1="423.07" y1="1254.6" x2="423.07" y2="1259.1" stroke="#000" stroke-width="1.8"/>
<line x1="423.07" y1="1445.6" x2="423.07" y2="1441.1" stroke="#000" stroke-width="1.8"/>
<line x1="470.95" y1="1254.6" x2="470.95" y2="1262.1" stroke="#000" stroke-width="1.8"/>
<line x1="470.95" y1="1445.6" x2="470.95" y2="1438.1" stroke="#000" stroke-width="1.8"/>
<line x1="518.83" y1="1254.6" x2="518.83" y2="1259.1" stroke="#000" stroke-width="1.8"/>
<line x1="518.83" y1="1445.6" x2="518.83" y2="1441.1" stroke="#000" stroke-width="1.8"/>
<line x1="566.7" y1="1254.6" x2="566.7" y2="1262.1" stroke="#000" stroke-width="1.8"/>
<line x1="566.7" y1="1445.6" x2="566.7" y2="1438.1" stroke="#000" stroke-width="1.8"/>
<line x1="345.9" y1="1432.2" x2="353.4" y2="1432.2" stroke="#000" stroke-width="1.8"/>
<line x1="595.3" y1="1432.2" x2="587.8" y2="1432.2" stroke="#000" stroke-width="1.8"/>
<line x1="345.9" y1="1396.67" x2="350.4" y2="1396.67" stroke="#000" stroke-width="1.8"/>
<line x1="595.3" y1="1396.67" x2="590.8" y2="1396.67" stroke="#000" stroke-width="1.8"/>
<line x1="345.9" y1="1361.15" x2="353.4" y2="1361.15" stroke="#000" stroke-width="1.8"/>
<line x1="595.3" y1="1361.15" x2="587.8" y2="1361.15" stroke="#000" stroke-width="1.8"/>
<line x1="345.9" y1="1325.62" x2="350.4" y2="1325.62" stroke="#000" stroke-width="1.8"/>
<line x1="595.3" y1="1325.62" x2="590.8" y2="1325.62" stroke="#000" stroke-width="1.8"/>
<line x1="345.9" y1="1290.1" x2="353.4" y2="1290.1" stroke="#000" stroke-width="1.8"/>
<line x1="595.3" y1="1290.1" x2="587.8" y2="1290.1" stroke="#000" stroke-width="1.8"/>
<text x="80.5" y="1241.1" font-size="30.4" text-anchor="end" fill="#000">1</text>
<text x="80.5" y="1170.2" font-size="30.4" text-anchor="end" fill="#000">2</text>
<text x="80.5" y="1099.3" font-size="30.4" text-anchor="end" fill="#000">3</text>
<text x="80.5" y="1441.7" font-size="30.4" text-anchor="end" fill="#000">1</text>
<text x="80.5" y="1370.65" font-size="30.4" text-anchor="end" fill="#000">2</text>
<text x="80.5" y="1299.6" font-size="30.4" text-anchor="end" fill="#000">3</text>
<text x="117.7" y="1478.8" font-size="30.4" text-anchor="middle" fill="#000">0</text>
<text x="213.45" y="1478.8" font-size="30.4" text-anchor="middle" fill="#000">50</text>
<text x="309.2" y="1478.8" font-size="30.4" text-anchor="middle" fill="#000">100</text>
<text x="217.25" y="1520.3" font-size="30" text-anchor="middle" fill="#000">Cycle</text>
<text x="375.2" y="1478.8" font-size="30.4" text-anchor="middle" fill="#000">0</text>
<text x="470.95" y="1478.8" font-size="30.4" text-anchor="middle" fill="#000">50</text>
<text x="566.7" y="1478.8" font-size="30.4" text-anchor="middle" fill="#000">100</text>
<text x="470.95" y="1520.3" font-size="30" text-anchor="middle" fill="#000">Cycle</text>
<text x="40.5" y="1159" font-size="30.4" text-anchor="middle" fill="#000" transform="rotate(-90 40.5 1159)"><tspan font-style="italic">R</tspan>/<tspan font-style="italic">R</tspan><tspan font-size="21" dy="8">0</tspan></text>
<text x="34" y="1350" font-size="30.4" text-anchor="middle" fill="#000" transform="rotate(-90 34 1350)"><tspan font-style="italic">R</tspan>/<tspan font-style="italic">R</tspan><tspan font-size="21" dy="8">0</tspan></text>
<text x="215" y="1094.6" font-size="30.4" text-anchor="middle" fill="#000"><tspan font-style="italic">ε</tspan><tspan font-size="21" dy="8">c</tspan><tspan dy="-8"> = 50%</tspan></text>
<text x="471" y="1094.6" font-size="30.4" text-anchor="middle" fill="#000"><tspan font-style="italic">ε</tspan><tspan font-size="21" dy="8">c</tspan><tspan dy="-8"> = 80%</tspan></text>
<text x="215" y="1295.2" font-size="30.4" text-anchor="middle" fill="#000"><tspan font-style="italic">ε</tspan><tspan font-size="21" dy="8">t</tspan><tspan dy="-8"> = 50%</tspan></text>
<text x="471" y="1295.2" font-size="30.4" text-anchor="middle" fill="#000"><tspan font-style="italic">ε</tspan><tspan font-size="21" dy="8">t</tspan><tspan dy="-8"> = 100%</tspan></text>
<polygon points="117.69,1231.48 118.89,1228.05 120.09,1224.85 121.28,1224.63 122.48,1223.37 123.68,1223.98 124.87,1223.44 126.07,1221.57 127.27,1221.15 128.46,1221.59 129.66,1220.66 130.86,1220.58 132.06,1219.37 133.25,1218.64 134.45,1218.64 135.65,1219.31 136.84,1217.98 138.04,1217.82 139.24,1217.64 140.43,1217.34 141.63,1217.01 142.83,1217.69 144.02,1215.89 145.22,1215.28 146.42,1216.81 147.61,1216.39 148.81,1216.32 150.01,1214.95 151.2,1215.67 152.4,1215.34 153.6,1213.67 154.8,1214.41 155.99,1214.3 157.19,1213.67 158.39,1213.11 159.58,1212.37 160.78,1212.18 161.98,1211.67 163.17,1211.1 164.37,1211.88 165.57,1211.05 166.76,1211.83 167.96,1210.1 169.16,1211.53 170.35,1210.89 171.55,1211.09 172.75,1210.8 173.94,1210.57 175.14,1209.7 176.34,1208.36 177.54,1209.55 178.73,1208.19 179.93,1208.2 181.13,1208.67 182.32,1208.16 183.52,1207.71 184.72,1208.49 185.91,1207.61 187.11,1206.85 188.31,1206.43 189.5,1207.38 190.7,1206.39 191.9,1206.75 193.09,1205.67 194.29,1205.13 195.49,1205.57 196.68,1205.94 197.88,1204.5 199.08,1205.53 200.28,1205.61 201.47,1205.2 202.67,1205.06 203.87,1203.28 205.06,1204.32 206.26,1204.59 207.46,1202.83 208.65,1203.08 209.85,1202.9 211.05,1203.22 212.24,1202.84 213.44,1202.76 214.64,1203.17 215.83,1201.48 217.03,1201.4 218.23,1201.36 219.42,1201.18 220.62,1200.89 221.82,1202.48 223.02,1202.06 224.21,1200.39 225.41,1201.02 226.61,1200.47 227.8,1200.29 229,1200.18 230.2,1200.58 231.39,1200.28 232.59,1199.66 233.79,1199.15 234.98,1199.24 236.18,1198.66 237.38,1199.33 238.57,1199.46 239.77,1198.63 240.97,1197.86 242.16,1197.87 243.36,1198.07 244.56,1198.34 245.76,1198.51 246.95,1197.55 248.15,1198.19 249.35,1197.66 250.54,1197.11 251.74,1196.81 252.94,1196.88 254.13,1197.1 255.33,1196.37 256.53,1196.72 257.72,1196.09 258.92,1195.49 260.12,1195.88 261.31,1196.03 262.51,1194.66 263.71,1195.19 264.9,1195.04 266.1,1195.77 267.3,1195.73 268.5,1194.47 269.69,1195.34 270.89,1194.97 272.09,1193.79 273.28,1194.03 274.48,1193.21 275.68,1194.4 276.87,1193.95 278.07,1194.23 279.27,1193.89 280.46,1193.49 281.66,1193.46 282.86,1192.98 284.05,1191.92 285.25,1192.71 286.45,1191.42 287.64,1191.53 288.84,1192.61 290.04,1191.03 291.24,1190.97 292.43,1190.83 293.63,1192.15 294.83,1190.57 296.02,1190.05 297.22,1191.44 298.42,1189.82 299.61,1191.02 300.81,1190.47 302.01,1190.58 303.2,1190.6 304.4,1189.66 305.6,1189.87 306.79,1188.18 307.99,1189.39 309.19,1188.68 309.19,1198.19 307.99,1197.85 306.79,1197.35 305.6,1197.14 304.4,1198.6 303.2,1197.9 302.01,1198.79 300.81,1197.93 299.61,1198.03 298.42,1197.72 297.22,1199 296.02,1198.6 294.83,1198.23 293.63,1198.45 292.43,1199.67 291.24,1198.66 290.04,1198.95 288.84,1199.9 287.64,1199.69 286.45,1198.75 285.25,1200.33 284.05,1199.68 282.86,1199.65 281.66,1200.34 280.46,1200.02 279.27,1200.03 278.07,1200.25 276.87,1200.28 275.68,1200.94 274.48,1200.79 273.28,1200.51 272.09,1202.02 270.89,1201.58 269.69,1200.5 268.5,1200.54 267.3,1202.06 266.1,1202.12 264.9,1201.54 263.71,1202.3 262.51,1202.01 261.31,1202.44 260.12,1201.45 258.92,1202.71 257.72,1202.82 256.53,1201.8 255.33,1203.04 254.13,1202.86 252.94,1202.22 251.74,1203.41 250.54,1203.5 249.35,1204.53 248.15,1203.36 246.95,1203.38 245.76,1204.46 244.56,1204.04 243.36,1204.33 242.16,1205.32 240.97,1204.84 239.77,1204.87 238.57,1205.08 237.38,1205.32 236.18,1205.22 234.98,1205.25 233.79,1205.23 232.59,1206.39 231.39,1206.65 230.2,1205.54 229,1206.76 227.8,1205.3 226.61,1205.66 225.41,1206.69 224.21,1206.44 223.02,1206.17 221.82,1205.99 220.62,1207.24 219.42,1206.37 218.23,1206.97 217.03,1208.45 215.83,1207.63 214.64,1208.71 213.44,1208.65 212.24,1207.73 211.05,1208.62 209.85,1207.45 208.65,1208.71 207.46,1207.74 206.26,1209.5 205.06,1209.44 203.87,1208.66 202.67,1208.52 201.47,1209.17 200.28,1210.08 199.08,1208.83 197.88,1210.73 196.68,1210.61 195.49,1209.21 194.29,1209.81 193.09,1210.56 191.9,1211.24 190.7,1210.21 189.5,1211.37 188.31,1211.27 187.11,1212.1 185.91,1212.4 184.72,1212.37 183.52,1211.19 182.32,1212.36 181.13,1213.17 179.93,1213.08 178.73,1213.4 177.54,1213.1 176.34,1213.71 175.14,1213.27 173.94,1213.45 172.75,1213.17 171.55,1213.42 170.35,1213.84 169.16,1213.61 167.96,1214.43 166.76,1214.24 165.57,1215.45 164.37,1214.17 163.17,1214.19 161.98,1214.34 160.78,1216.12 159.58,1216.5 158.39,1215.8 157.19,1216.76 155.99,1216.23 154.8,1217.52 153.6,1217.38 152.4,1217.97 151.2,1217.92 150.01,1217.7 148.81,1218.73 147.61,1217.37 146.42,1218.16 145.22,1219.01 144.02,1219.62 142.83,1218.55 141.63,1220.02 140.43,1220.45 139.24,1220.31 138.04,1221.27 136.84,1221.1 135.65,1220.45 134.45,1221.69 133.25,1221.66 132.06,1222.64 130.86,1222.22 129.66,1223.63 128.46,1222.74 127.27,1223.39 126.07,1225.12 124.87,1224.11 123.68,1224.81 122.48,1226.5 121.28,1227.05 120.09,1227.43 118.89,1229.71 117.69,1231.06" fill="#c6b47c" stroke="#c6b47c" stroke-width="0.8"/>
<line x1="117.69" y1="1231.57" x2="309.19" y2="1231.57" stroke="#c6b47c" stroke-width="0.8" opacity="0.5"/>
<line x1="309.19" y1="1231.57" x2="309.19" y2="1197.44" stroke="#c6b47c" stroke-width="0.8" opacity="0.5"/>
<polygon points="375.19,1230.23 376.38,1219.62 377.58,1210.44 378.78,1209.57 379.97,1205.97 381.17,1203.51 382.37,1201.32 383.56,1199.33 384.76,1197.61 385.96,1193.99 387.16,1193.05 388.35,1188.5 389.55,1186.57 390.75,1184.58 391.94,1184.02 393.14,1185.37 394.34,1184.63 395.53,1182.44 396.73,1181.85 397.93,1181.92 399.12,1182.28 400.32,1181.89 401.52,1181.1 402.71,1180.04 403.91,1178.14 405.11,1178.28 406.3,1177.08 407.5,1177.76 408.7,1177.6 409.9,1176.25 411.09,1176.12 412.29,1177.4 413.49,1174.92 414.68,1176.91 415.88,1176.89 417.08,1176.79 418.27,1174.86 419.47,1175.08 420.67,1174.89 421.86,1174.76 423.06,1175.49 424.26,1174.37 425.45,1172.96 426.65,1174.32 427.85,1172.95 429.04,1173.02 430.24,1173.11 431.44,1170.71 432.64,1172.69 433.83,1172.09 435.03,1171.32 436.23,1171.14 437.42,1170.68 438.62,1169.62 439.82,1170.43 441.01,1168.84 442.21,1170.06 443.41,1170.34 444.6,1169.6 445.8,1169.82 447,1170.82 448.19,1170.48 449.39,1168.13 450.59,1169.91 451.78,1169.27 452.98,1167.45 454.18,1168.21 455.38,1167.7 456.57,1167.1 457.77,1168.3 458.97,1169.3 460.16,1167.38 461.36,1168.84 462.56,1168.18 463.75,1166.4 464.95,1168.37 466.15,1167.48 467.34,1168.29 468.54,1167.53 469.74,1167.45 470.93,1166.15 472.13,1167.38 473.33,1167.62 474.52,1167.3 475.72,1165.94 476.92,1166.75 478.12,1165.84 479.31,1164.62 480.51,1164.3 481.71,1164.29 482.9,1164.52 484.1,1164.29 485.3,1165.15 486.49,1165.63 487.69,1165.03 488.89,1164.58 490.08,1165.12 491.28,1163.99 492.48,1164.34 493.67,1165.08 494.87,1163.92 496.07,1163.15 497.26,1165.13 498.46,1164.49 499.66,1163.34 500.86,1163.23 502.05,1163.57 503.25,1163.65 504.45,1162.41 505.64,1161.59 506.84,1162.01 508.04,1163.51 509.23,1161.46 510.43,1162.21 511.63,1161.25 512.82,1161.11 514.02,1160.82 515.22,1161.32 516.41,1160.46 517.61,1159.86 518.81,1159.93 520,1159.92 521.2,1160.68 522.4,1159.24 523.6,1158.95 524.79,1160.02 525.99,1159.72 527.19,1160.41 528.38,1158.32 529.58,1159.17 530.78,1158.97 531.97,1157.71 533.17,1160.28 534.37,1157.91 535.56,1157.37 536.76,1158.31 537.96,1157.28 539.15,1158.49 540.35,1157.55 541.55,1156.77 542.74,1156.43 543.94,1158.28 545.14,1156.83 546.34,1158.2 547.53,1157.13 548.73,1158.37 549.93,1156.39 551.12,1156.11 552.32,1156.03 553.52,1157.51 554.71,1156.84 555.91,1155.87 557.11,1155.01 558.3,1156.61 559.5,1157.32 560.7,1156.08 561.89,1154.23 563.09,1154.18 564.29,1154.23 565.48,1154.33 566.68,1153.81 566.68,1178.04 565.48,1176.65 564.29,1176.35 563.09,1176.66 561.89,1177.81 560.7,1177.27 559.5,1177.93 558.3,1177.86 557.11,1176 555.91,1176.35 554.71,1176.79 553.52,1177.25 552.32,1177.85 551.12,1177.62 549.93,1177.78 548.73,1178.18 547.53,1177.08 546.34,1176.56 545.14,1178.91 543.94,1176.58 542.74,1178.18 541.55,1178.91 540.35,1176.86 539.15,1178.22 537.96,1178.31 536.76,1176.99 535.56,1178.17 534.37,1178.56 533.17,1178.73 531.97,1177.72 530.78,1178.19 529.58,1177.14 528.38,1178.44 527.19,1178.9 525.99,1179.8 524.79,1179.26 523.6,1177.89 522.4,1179.53 521.2,1179.14 520,1179.27 518.81,1178.21 517.61,1179.62 516.41,1179.73 515.22,1178.62 514.02,1180.34 512.82,1177.93 511.63,1180.37 510.43,1180.36 509.23,1178.16 508.04,1179.83 506.84,1178.75 505.64,1178.35 504.45,1179.66 503.25,1179.27 502.05,1180.98 500.86,1179.96 499.66,1178.92 498.46,1179.79 497.26,1179.7 496.07,1179.46 494.87,1178.56 493.67,1180.58 492.48,1180.36 491.28,1179.77 490.08,1179.64 488.89,1181.28 487.69,1179.17 486.49,1179.22 485.3,1181.16 484.1,1180.32 482.9,1180.06 481.71,1181.73 480.51,1180.01 479.31,1181.96 478.12,1181.89 476.92,1181.5 475.72,1180.05 474.52,1180.32 473.33,1180.18 472.13,1180.39 470.93,1182.29 469.74,1182.78 468.54,1182.13 467.34,1182.43 466.15,1181.2 464.95,1181.36 463.75,1182.24 462.56,1183.86 461.36,1183.37 460.16,1182.58 458.97,1184.09 457.77,1183.87 456.57,1183.35 455.38,1183.75 454.18,1184.71 452.98,1184.93 451.78,1184.03 450.59,1184.59 449.39,1184.43 448.19,1186.1 447,1183.8 445.8,1185.83 444.6,1184.68 443.41,1184.97 442.21,1184.6 441.01,1185.4 439.82,1185.86 438.62,1184.73 437.42,1185.6 436.23,1186.05 435.03,1187.27 433.83,1188.36 432.64,1187.37 431.44,1188.53 430.24,1187.63 429.04,1189.85 427.85,1189.38 426.65,1188.34 425.45,1188.88 424.26,1189.97 423.06,1189.14 421.86,1189.64 420.67,1189.7 419.47,1191.56 418.27,1191.05 417.08,1191.57 415.88,1193.03 414.68,1192.84 413.49,1191.23 412.29,1191.69 411.09,1194.17 409.9,1193.73 408.7,1193.56 407.5,1193.96 406.3,1194.75 405.11,1195.67 403.91,1196.16 402.71,1195.3 401.52,1197.7 400.32,1197.4 399.12,1199.73 397.93,1199.03 396.73,1198.49 395.53,1200.15 394.34,1200.64 393.14,1201.46 391.94,1202.06 390.75,1202.82 389.55,1204.55 388.35,1204.84 387.16,1204.45 385.96,1204.93 384.76,1205.79 383.56,1208.26 382.37,1209.28 381.17,1210.38 379.97,1211.4 378.78,1215.76 377.58,1217.01 376.38,1221.45 375.19,1232.2" fill="#c6b47c" stroke="#c6b47c" stroke-width="0.8"/>
<line x1="375.19" y1="1231.57" x2="566.68" y2="1231.57" stroke="#c6b47c" stroke-width="0.8" opacity="0.5"/>
<line x1="566.68" y1="1231.57" x2="566.68" y2="1176.95" stroke="#c6b47c" stroke-width="0.8" opacity="0.5"/>
<polygon points="117.69,1432.68 118.89,1412.22 120.09,1400.86 121.28,1403.36 122.48,1405.65 123.68,1406.92 124.87,1406.81 126.07,1407.4 127.27,1408 128.46,1408.42 129.66,1408.75 130.86,1408.69 132.06,1409.95 133.25,1409.15 134.45,1409.79 135.65,1410.92 136.84,1411.02 138.04,1410.18 139.24,1410.22 140.43,1411.47 141.63,1410.07 142.83,1410.45 144.02,1411.38 145.22,1411.54 146.42,1410.97 147.61,1410.89 148.81,1411.34 150.01,1412.6 151.2,1412.15 152.4,1413.31 153.6,1413.08 154.8,1413.6 155.99,1411.91 157.19,1412.35 158.39,1412.17 159.58,1413.14 160.78,1413.1 161.98,1412.69 163.17,1413.81 164.37,1413.08 165.57,1413.66 166.76,1413.69 167.96,1414.93 169.16,1414.34 170.35,1414.19 171.55,1413.92 172.75,1414.83 173.94,1415.37 175.14,1415.62 176.34,1416.24 177.54,1416.19 178.73,1415.25 179.93,1415.19 181.13,1416.56 182.32,1416.77 183.52,1416.38 184.72,1417.17 185.91,1416.78 187.11,1416.4 188.31,1416.34 189.5,1416.2 190.7,1417.58 191.9,1418.23 193.09,1418.4 194.29,1417.7 195.49,1418.22 196.68,1418.82 197.88,1418.68 199.08,1418.35 200.28,1418.06 201.47,1418.35 202.67,1417.76 203.87,1417.86 205.06,1418.92 206.26,1419.61 207.46,1418.83 208.65,1418.64 209.85,1418.61 211.05,1418.9 212.24,1419.66 213.44,1419.06 214.64,1420.13 215.83,1418.65 217.03,1419.04 218.23,1419.53 219.42,1419.4 220.62,1420.34 221.82,1420.38 223.02,1420.66 224.21,1420.13 225.41,1419.07 226.61,1420.22 227.8,1420.23 229,1420.05 230.2,1419.58 231.39,1420.36 232.59,1420.7 233.79,1419.06 234.98,1420.1 236.18,1419.46 237.38,1419.68 238.57,1420.36 239.77,1420.43 240.97,1419.75 242.16,1418.82 243.36,1420.17 244.56,1418.67 245.76,1419.01 246.95,1419.81 248.15,1418.76 249.35,1418.61 250.54,1419.87 251.74,1419.8 252.94,1418.52 254.13,1418.61 255.33,1418.33 256.53,1417.98 257.72,1418.15 258.92,1419.51 260.12,1417.7 261.31,1417.95 262.51,1417.86 263.71,1417.59 264.9,1418.42 266.1,1418.81 267.3,1418.96 268.5,1418.52 269.69,1418.85 270.89,1417.23 272.09,1417.73 273.28,1419.02 274.48,1417.25 275.68,1417.6 276.87,1417.98 278.07,1417.52 279.27,1418.03 280.46,1417.02 281.66,1417.35 282.86,1418.73 284.05,1417.1 285.25,1418.55 286.45,1417.1 287.64,1418.65 288.84,1418 290.04,1417.91 291.24,1416.88 292.43,1416.68 293.63,1418.11 294.83,1417.04 296.02,1417.14 297.22,1418.44 298.42,1418.61 299.61,1417.07 300.81,1418.92 302.01,1418.16 303.2,1417.94 304.4,1417.47 305.6,1418.09 306.79,1419.33 307.99,1418.02 309.19,1417.8 309.19,1427.92 307.99,1427.68 306.79,1428.23 305.6,1427.92 304.4,1427.45 303.2,1427.71 302.01,1428.51 300.81,1428.41 299.61,1427.54 298.42,1427.62 297.22,1427.22 296.02,1428.04 294.83,1426.57 293.63,1427.65 292.43,1427.33 291.24,1426.84 290.04,1427.63 288.84,1426.36 287.64,1426.48 286.45,1427.9 285.25,1426.6 284.05,1427.77 282.86,1427.88 281.66,1426.68 280.46,1427.34 279.27,1426.73 278.07,1427.59 276.87,1427.45 275.68,1427.49 274.48,1426.41 273.28,1426.59 272.09,1427.32 270.89,1426.65 269.69,1427.33 268.5,1427.06 267.3,1426.72 266.1,1427.08 264.9,1425.53 263.71,1425.59 262.51,1425.28 261.31,1425.91 260.12,1425.67 258.92,1427.01 257.72,1425.8 256.53,1425.58 255.33,1426.39 254.13,1426.52 252.94,1426.13 251.74,1426.79 250.54,1426.48 249.35,1425.59 248.15,1426.44 246.95,1426.22 245.76,1425.74 244.56,1427.06 243.36,1426.59 242.16,1426.79 240.97,1426.19 239.77,1427.42 238.57,1427.04 237.38,1427.56 236.18,1426.19 234.98,1426.89 233.79,1427.25 232.59,1426.79 231.39,1427.87 230.2,1427.7 229,1427.51 227.8,1427.51 226.61,1427.86 225.41,1426.58 224.21,1426.96 223.02,1426.12 221.82,1427.6 220.62,1426.15 219.42,1427.55 218.23,1425.62 217.03,1425.7 215.83,1426.99 214.64,1425.44 213.44,1425.53 212.24,1425.46 211.05,1426.04 209.85,1426.44 208.65,1425.98 207.46,1426.23 206.26,1425.43 205.06,1425.62 203.87,1424.85 202.67,1426.21 201.47,1424.68 200.28,1424.16 199.08,1425.18 197.88,1425.2 196.68,1424.15 195.49,1423.85 194.29,1424.08 193.09,1424.71 191.9,1423.43 190.7,1423.32 189.5,1424.05 188.31,1422.98 187.11,1424.47 185.91,1423.22 184.72,1422.41 183.52,1422.82 182.32,1422.58 181.13,1423.2 179.93,1423.35 178.73,1422.31 177.54,1422.97 176.34,1422.81 175.14,1422.18 173.94,1422.41 172.75,1421.06 171.55,1420.62 170.35,1421.58 169.16,1421.57 167.96,1420.83 166.76,1419.8 165.57,1420.97 164.37,1419.72 163.17,1420.2 161.98,1419.82 160.78,1420.24 159.58,1419.83 158.39,1419.84 157.19,1418.56 155.99,1418.54 154.8,1418.75 153.6,1419.12 152.4,1417.84 151.2,1417.99 150.01,1417.68 148.81,1418.56 147.61,1417.63 146.42,1417.97 145.22,1417.56 144.02,1417.37 142.83,1416.05 141.63,1417.32 140.43,1416.62 139.24,1415.74 138.04,1415.64 136.84,1414.89 135.65,1416.09 134.45,1414.77 133.25,1414.13 132.06,1415.56 130.86,1414.66 129.66,1413.83 128.46,1413.07 127.27,1414.59 126.07,1414.31 124.87,1413.85 123.68,1412.97 122.48,1412.76 121.28,1409.96 120.09,1410.02 118.89,1418.11 117.69,1431.3" fill="#44546d" stroke="#44546d" stroke-width="0.8"/>
<line x1="117.69" y1="1432.17" x2="309.19" y2="1432.17" stroke="#44546d" stroke-width="0.8" opacity="0.5"/>
<line x1="309.19" y1="1432.17" x2="309.19" y2="1428.6" stroke="#44546d" stroke-width="0.8" opacity="0.5"/>
<polygon points="375.19,1431.86 376.38,1408.03 377.58,1395.31 378.78,1393.81 379.97,1396.77 381.17,1395.86 382.37,1396.31 383.56,1395.18 384.76,1395.91 385.96,1396.9 387.16,1398.33 388.35,1397.7 389.55,1397.26 390.75,1399.58 391.94,1398.92 393.14,1398.81 394.34,1398.13 395.53,1398.68 396.73,1400.72 397.93,1398.75 399.12,1400.19 400.32,1400.73 401.52,1400.23 402.71,1401.71 403.91,1402.4 405.11,1402.52 406.3,1402.45 407.5,1401.16 408.7,1401.01 409.9,1402.38 411.09,1402.3 412.29,1402.23 413.49,1404.49 414.68,1402.85 415.88,1404.9 417.08,1405.51 418.27,1403.39 419.47,1405.99 420.67,1404.75 421.86,1404.49 423.06,1404.66 424.26,1404.4 425.45,1405.93 426.65,1405.77 427.85,1407.32 429.04,1407.45 430.24,1405.35 431.44,1406.54 432.64,1406.69 433.83,1406.25 435.03,1406.64 436.23,1406.86 437.42,1408.3 438.62,1407.44 439.82,1406.95 441.01,1407.45 442.21,1408.28 443.41,1408.81 444.6,1408.06 445.8,1409.57 447,1408.33 448.19,1409.84 449.39,1409.84 450.59,1408.75 451.78,1410.62 452.98,1409.75 454.18,1410.36 455.38,1410.69 456.57,1410.88 457.77,1410.43 458.97,1409.39 460.16,1411.63 461.36,1411.94 462.56,1410.95 463.75,1411.31 464.95,1410.49 466.15,1412.43 467.34,1411.91 468.54,1410.65 469.74,1412.48 470.93,1413.07 472.13,1411.3 473.33,1413.29 474.52,1411.89 475.72,1411.09 476.92,1412.76 478.12,1411.75 479.31,1413 480.51,1412.66 481.71,1411.36 482.9,1412.69 484.1,1413.73 485.3,1412.73 486.49,1413.01 487.69,1414.05 488.89,1412.79 490.08,1412.87 491.28,1413.09 492.48,1413.75 493.67,1411.88 494.87,1411.51 496.07,1413.42 497.26,1412.76 498.46,1411.98 499.66,1413.66 500.86,1413.59 502.05,1412.54 503.25,1413.8 504.45,1413.26 505.64,1412.86 506.84,1411.38 508.04,1410.42 509.23,1412.23 510.43,1412.25 511.63,1410.98 512.82,1411.21 514.02,1411.33 515.22,1410.25 516.41,1411.42 517.61,1410.88 518.81,1410.22 520,1409.27 521.2,1410.55 522.4,1409.86 523.6,1411.05 524.79,1409.43 525.99,1410.08 527.19,1409.5 528.38,1410.12 529.58,1410.61 530.78,1409.24 531.97,1409.09 533.17,1410.34 534.37,1409.52 535.56,1410.4 536.76,1409.41 537.96,1409.22 539.15,1410.5 540.35,1411.63 541.55,1411.47 542.74,1410.43 543.94,1410.09 545.14,1409.12 546.34,1409.73 547.53,1409.85 548.73,1411.68 549.93,1409.27 551.12,1411.7 552.32,1410.32 553.52,1410.23 554.71,1409.79 555.91,1411.89 557.11,1409.68 558.3,1410.86 559.5,1410.74 560.7,1409.88 561.89,1410.01 563.09,1412.29 564.29,1411.78 565.48,1411.67 566.68,1412.22 566.68,1423.17 565.48,1425.17 564.29,1424.29 563.09,1423.81 561.89,1423.55 560.7,1425 559.5,1425.2 558.3,1423.82 557.11,1423.99 555.91,1422.61 554.71,1422.77 553.52,1425.48 552.32,1424.79 551.12,1423.87 549.93,1422.83 548.73,1424.6 547.53,1425.45 546.34,1422.86 545.14,1423.86 543.94,1424.51 542.74,1424.42 541.55,1423.85 540.35,1424.08 539.15,1423.72 537.96,1423.38 536.76,1423.12 535.56,1425.02 534.37,1422.6 533.17,1423.61 531.97,1422.66 530.78,1422.83 529.58,1424.33 528.38,1424.99 527.19,1423.14 525.99,1423.42 524.79,1425.19 523.6,1423.97 522.4,1423.69 521.2,1425.16 520,1422.96 518.81,1424.8 517.61,1424.28 516.41,1425.86 515.22,1425.83 514.02,1425.99 512.82,1425.92 511.63,1425.51 510.43,1426.84 509.23,1425.91 508.04,1424.61 506.84,1425.54 505.64,1425.85 504.45,1425.34 503.25,1425.52 502.05,1426.79 500.86,1425.96 499.66,1425.4 498.46,1425.06 497.26,1426.22 496.07,1426.96 494.87,1426.18 493.67,1425.25 492.48,1425.2 491.28,1425.4 490.08,1424.68 488.89,1424.73 487.69,1425.64 486.49,1425.98 485.3,1424.58 484.1,1425.78 482.9,1424.68 481.71,1423.59 480.51,1423.91 479.31,1425.59 478.12,1423.72 476.92,1424.98 475.72,1422.53 474.52,1424.52 473.33,1424.6 472.13,1423.25 470.93,1422.08 469.74,1423.57 468.54,1422.93 467.34,1423.07 466.15,1424.29 464.95,1423.84 463.75,1422.72 462.56,1422.44 461.36,1422.25 460.16,1423.63 458.97,1421.51 457.77,1422.45 456.57,1421.44 455.38,1422.47 454.18,1421.64 452.98,1420.38 451.78,1420.65 450.59,1422.57 449.39,1420.39 448.19,1421.84 447,1421.77 445.8,1421.83 444.6,1421.8 443.41,1420.53 442.21,1419.67 441.01,1419.4 439.82,1419.4 438.62,1419.64 437.42,1418.94 436.23,1419.6 435.03,1418.12 433.83,1418.82 432.64,1418.96 431.44,1417.49 430.24,1419.31 429.04,1418.45 427.85,1418.76 426.65,1419.5 425.45,1418.77 424.26,1418.83 423.06,1416.17 421.86,1416.3 420.67,1418.33 419.47,1416.8 418.27,1418.28 417.08,1415.4 415.88,1415.65 414.68,1415.66 413.49,1415.19 412.29,1416.98 411.09,1417.16 409.9,1414.69 408.7,1416.47 407.5,1416.53 406.3,1415.37 405.11,1414.03 403.91,1415.7 402.71,1414.65 401.52,1414.2 400.32,1414.3 399.12,1413.91 397.93,1414.03 396.73,1414.48 395.53,1414.2 394.34,1412.84 393.14,1411.71 391.94,1412.39 390.75,1413.35 389.55,1412.44 388.35,1413.45 387.16,1411.34 385.96,1410.67 384.76,1412.45 383.56,1412.15 382.37,1411.62 381.17,1409.07 379.97,1408.38 378.78,1410.47 377.58,1408.46 376.38,1416.72 375.19,1431.13" fill="#44546d" stroke="#44546d" stroke-width="0.8"/>
<line x1="375.19" y1="1432.17" x2="566.68" y2="1432.17" stroke="#44546d" stroke-width="0.8" opacity="0.5"/>
<line x1="566.68" y1="1432.17" x2="566.68" y2="1424.04" stroke="#44546d" stroke-width="0.8" opacity="0.5"/>
<rect x="743.7" y="1044.2" width="503.1" height="196.9" fill="none" stroke="#000" stroke-width="2"/>
<rect x="743.7" y="1252.2" width="503.1" height="197" fill="none" stroke="#000" stroke-width="2"/>
<line x1="771.6" y1="1044.2" x2="771.6" y2="1052.2" stroke="#000" stroke-width="1.8"/>
<line x1="771.6" y1="1241.1" x2="771.6" y2="1233.1" stroke="#000" stroke-width="1.8"/>
<line x1="771.6" y1="1252.2" x2="771.6" y2="1260.2" stroke="#000" stroke-width="1.8"/>
<line x1="771.6" y1="1449.2" x2="771.6" y2="1441.2" stroke="#000" stroke-width="1.8"/>
<line x1="827.5" y1="1044.2" x2="827.5" y2="1049.2" stroke="#000" stroke-width="1.8"/>
<line x1="827.5" y1="1241.1" x2="827.5" y2="1236.1" stroke="#000" stroke-width="1.8"/>
<line x1="827.5" y1="1252.2" x2="827.5" y2="1257.2" stroke="#000" stroke-width="1.8"/>
<line x1="827.5" y1="1449.2" x2="827.5" y2="1444.2" stroke="#000" stroke-width="1.8"/>
<line x1="883.4" y1="1044.2" x2="883.4" y2="1052.2" stroke="#000" stroke-width="1.8"/>
<line x1="883.4" y1="1241.1" x2="883.4" y2="1233.1" stroke="#000" stroke-width="1.8"/>
<line x1="883.4" y1="1252.2" x2="883.4" y2="1260.2" stroke="#000" stroke-width="1.8"/>
<line x1="883.4" y1="1449.2" x2="883.4" y2="1441.2" stroke="#000" stroke-width="1.8"/>
<line x1="939.3" y1="1044.2" x2="939.3" y2="1049.2" stroke="#000" stroke-width="1.8"/>
<line x1="939.3" y1="1241.1" x2="939.3" y2="1236.1" stroke="#000" stroke-width="1.8"/>
<line x1="939.3" y1="1252.2" x2="939.3" y2="1257.2" stroke="#000" stroke-width="1.8"/>
<line x1="939.3" y1="1449.2" x2="939.3" y2="1444.2" stroke="#000" stroke-width="1.8"/>
<line x1="995.2" y1="1044.2" x2="995.2" y2="1052.2" stroke="#000" stroke-width="1.8"/>
<line x1="995.2" y1="1241.1" x2="995.2" y2="1233.1" stroke="#000" stroke-width="1.8"/>
<line x1="995.2" y1="1252.2" x2="995.2" y2="1260.2" stroke="#000" stroke-width="1.8"/>
<line x1="995.2" y1="1449.2" x2="995.2" y2="1441.2" stroke="#000" stroke-width="1.8"/>
<line x1="1051.1" y1="1044.2" x2="1051.1" y2="1049.2" stroke="#000" stroke-width="1.8"/>
<line x1="1051.1" y1="1241.1" x2="1051.1" y2="1236.1" stroke="#000" stroke-width="1.8"/>
<line x1="1051.1" y1="1252.2" x2="1051.1" y2="1257.2" stroke="#000" stroke-width="1.8"/>
<line x1="1051.1" y1="1449.2" x2="1051.1" y2="1444.2" stroke="#000" stroke-width="1.8"/>
<line x1="1107" y1="1044.2" x2="1107" y2="1052.2" stroke="#000" stroke-width="1.8"/>
<line x1="1107" y1="1241.1" x2="1107" y2="1233.1" stroke="#000" stroke-width="1.8"/>
<line x1="1107" y1="1252.2" x2="1107" y2="1260.2" stroke="#000" stroke-width="1.8"/>
<line x1="1107" y1="1449.2" x2="1107" y2="1441.2" stroke="#000" stroke-width="1.8"/>
<line x1="1162.9" y1="1044.2" x2="1162.9" y2="1049.2" stroke="#000" stroke-width="1.8"/>
<line x1="1162.9" y1="1241.1" x2="1162.9" y2="1236.1" stroke="#000" stroke-width="1.8"/>
<line x1="1162.9" y1="1252.2" x2="1162.9" y2="1257.2" stroke="#000" stroke-width="1.8"/>
<line x1="1162.9" y1="1449.2" x2="1162.9" y2="1444.2" stroke="#000" stroke-width="1.8"/>
<line x1="1218.8" y1="1044.2" x2="1218.8" y2="1052.2" stroke="#000" stroke-width="1.8"/>
<line x1="1218.8" y1="1241.1" x2="1218.8" y2="1233.1" stroke="#000" stroke-width="1.8"/>
<line x1="1218.8" y1="1252.2" x2="1218.8" y2="1260.2" stroke="#000" stroke-width="1.8"/>
<line x1="1218.8" y1="1449.2" x2="1218.8" y2="1441.2" stroke="#000" stroke-width="1.8"/>
<line x1="743.7" y1="1205.9" x2="751.7" y2="1205.9" stroke="#000" stroke-width="1.8"/>
<text x="736" y="1215.9" font-size="29.8" text-anchor="end" fill="#000">0.8</text>
<line x1="743.7" y1="1134" x2="751.7" y2="1134" stroke="#000" stroke-width="1.8"/>
<text x="736" y="1144" font-size="29.8" text-anchor="end" fill="#000">1.0</text>
<line x1="743.7" y1="1062.1" x2="751.7" y2="1062.1" stroke="#000" stroke-width="1.8"/>
<text x="736" y="1072.1" font-size="29.8" text-anchor="end" fill="#000">1.2</text>
<line x1="743.7" y1="1170" x2="748.7" y2="1170" stroke="#000" stroke-width="1.8"/>
<line x1="743.7" y1="1098.1" x2="748.7" y2="1098.1" stroke="#000" stroke-width="1.8"/>
<line x1="1246.8" y1="1191.7" x2="1238.8" y2="1191.7" stroke="#000" stroke-width="1.8"/>
<text x="1257.5" y="1201.7" font-size="29.8" text-anchor="start" fill="#000">-120</text>
<line x1="1246.8" y1="1117.95" x2="1238.8" y2="1117.95" stroke="#000" stroke-width="1.8"/>
<text x="1257.5" y="1127.95" font-size="29.8" text-anchor="start" fill="#000">-150</text>
<line x1="1246.8" y1="1044.2" x2="1238.8" y2="1044.2" stroke="#000" stroke-width="1.8"/>
<text x="1257.5" y="1054.2" font-size="29.8" text-anchor="start" fill="#000">-180</text>
<line x1="743.7" y1="1448.5" x2="751.7" y2="1448.5" stroke="#000" stroke-width="1.8"/>
<text x="736" y="1458.5" font-size="29.8" text-anchor="end" fill="#000">0</text>
<line x1="743.7" y1="1359" x2="751.7" y2="1359" stroke="#000" stroke-width="1.8"/>
<text x="736" y="1369" font-size="29.8" text-anchor="end" fill="#000">10</text>
<line x1="743.7" y1="1269.5" x2="751.7" y2="1269.5" stroke="#000" stroke-width="1.8"/>
<text x="736" y="1279.5" font-size="29.8" text-anchor="end" fill="#000">20</text>
<line x1="1246.8" y1="1448.5" x2="1238.8" y2="1448.5" stroke="#000" stroke-width="1.8"/>
<text x="1257.5" y="1458.5" font-size="29.8" text-anchor="start" fill="#000">0.0</text>
<line x1="1246.8" y1="1378.15" x2="1238.8" y2="1378.15" stroke="#000" stroke-width="1.8"/>
<text x="1257.5" y="1388.15" font-size="29.8" text-anchor="start" fill="#000">0.1</text>
<line x1="1246.8" y1="1307.8" x2="1238.8" y2="1307.8" stroke="#000" stroke-width="1.8"/>
<text x="1257.5" y="1317.8" font-size="29.8" text-anchor="start" fill="#000">0.2</text>
<text x="771.6" y="1480.5" font-size="29.8" text-anchor="middle" fill="#000">300</text>
<text x="883.4" y="1480.5" font-size="29.8" text-anchor="middle" fill="#000">320</text>
<text x="995.2" y="1480.5" font-size="29.8" text-anchor="middle" fill="#000">340</text>
<text x="1107" y="1480.5" font-size="29.8" text-anchor="middle" fill="#000">360</text>
<text x="1218.8" y="1480.5" font-size="29.8" text-anchor="middle" fill="#000">380</text>
<text x="995.4" y="1520" font-size="30.3" text-anchor="middle" fill="#000">Temperature (K)</text>
<text x="684" y="1143.8" font-size="30.3" text-anchor="middle" fill="#000" transform="rotate(-90 684 1143.8)"><tspan font-style="italic">ρ</tspan> (mΩ m)</text>
<text x="684" y="1348.5" font-size="30.3" text-anchor="middle" fill="#000" transform="rotate(-90 684 1348.5)"><tspan font-style="italic">PF</tspan> (μW m<tspan font-size="20" dy="-10">-1</tspan><tspan dy="10"> K</tspan><tspan font-size="20" dy="-10">-2</tspan><tspan dy="10">)</tspan></text>
<text x="1344.5" y="1142" font-size="30.3" text-anchor="middle" fill="#000" transform="rotate(-90 1344.5 1142)"><tspan font-style="italic">S</tspan> (μV K<tspan font-size="20" dy="-10">-1</tspan><tspan dy="10">)</tspan></text>
<text x="1351.5" y="1348" font-size="30.3" text-anchor="middle" fill="#000" transform="rotate(-90 1351.5 1348)"><tspan font-style="italic">zT</tspan></text>
<path d="M783.4,1076.32 C801.66,1082.2 857.35,1102.82 892.94,1111.57 C928.53,1120.32 962.1,1122.45 996.95,1128.85 C1031.79,1135.24 1068.18,1145.14 1101.99,1149.92 C1135.8,1154.7 1183.48,1156.26 1199.78,1157.53" fill="none" stroke="#44546d" stroke-width="3.2" stroke-linejoin="round" stroke-linecap="round"/>
<line x1="783.4" y1="1064.23" x2="783.4" y2="1088.42" stroke="#44546d" stroke-width="1.8"/>
<line x1="779.4" y1="1064.23" x2="787.4" y2="1064.23" stroke="#44546d" stroke-width="1.8"/>
<line x1="779.4" y1="1088.42" x2="787.4" y2="1088.42" stroke="#44546d" stroke-width="1.8"/>
<circle cx="783.4" cy="1076.32" r="7" fill="#44546d"/>
<line x1="892.94" y1="1099.47" x2="892.94" y2="1123.66" stroke="#44546d" stroke-width="1.8"/>
<line x1="888.94" y1="1099.47" x2="896.94" y2="1099.47" stroke="#44546d" stroke-width="1.8"/>
<line x1="888.94" y1="1123.66" x2="896.94" y2="1123.66" stroke="#44546d" stroke-width="1.8"/>
<circle cx="892.94" cy="1111.57" r="7" fill="#44546d"/>
<line x1="996.95" y1="1116.75" x2="996.95" y2="1140.94" stroke="#44546d" stroke-width="1.8"/>
<line x1="992.95" y1="1116.75" x2="1000.95" y2="1116.75" stroke="#44546d" stroke-width="1.8"/>
<line x1="992.95" y1="1140.94" x2="1000.95" y2="1140.94" stroke="#44546d" stroke-width="1.8"/>
<circle cx="996.95" cy="1128.85" r="7" fill="#44546d"/>
<line x1="1101.99" y1="1137.83" x2="1101.99" y2="1162.02" stroke="#44546d" stroke-width="1.8"/>
<line x1="1097.99" y1="1137.83" x2="1105.99" y2="1137.83" stroke="#44546d" stroke-width="1.8"/>
<line x1="1097.99" y1="1162.02" x2="1105.99" y2="1162.02" stroke="#44546d" stroke-width="1.8"/>
<circle cx="1101.99" cy="1149.92" r="7" fill="#44546d"/>
<line x1="1199.78" y1="1145.43" x2="1199.78" y2="1169.62" stroke="#44546d" stroke-width="1.8"/>
<line x1="1195.78" y1="1145.43" x2="1203.78" y2="1145.43" stroke="#44546d" stroke-width="1.8"/>
<line x1="1195.78" y1="1169.62" x2="1203.78" y2="1169.62" stroke="#44546d" stroke-width="1.8"/>
<circle cx="1199.78" cy="1157.53" r="7" fill="#44546d"/>
<path d="M783.4,1170.31 C801.66,1169.45 857.35,1165.07 892.94,1165.13 C928.53,1165.19 962.1,1168.81 996.95,1170.66 C1031.79,1172.5 1068.18,1174.8 1101.99,1176.19 C1135.8,1177.57 1183.48,1178.49 1199.78,1178.95" fill="none" stroke="#c5b47f" stroke-width="3.2" stroke-linejoin="round" stroke-linecap="round"/>
<line x1="783.4" y1="1154.07" x2="783.4" y2="1186.55" stroke="#c5b47f" stroke-width="1.8"/>
<line x1="779.4" y1="1154.07" x2="787.4" y2="1154.07" stroke="#c5b47f" stroke-width="1.8"/>
<line x1="779.4" y1="1186.55" x2="787.4" y2="1186.55" stroke="#c5b47f" stroke-width="1.8"/>
<polygon points="775.9,1164.31 790.9,1164.31 783.4,1177.44" fill="#c5b47f" stroke="none" stroke-width="0"/>
<line x1="892.94" y1="1148.89" x2="892.94" y2="1181.37" stroke="#c5b47f" stroke-width="1.8"/>
<line x1="888.94" y1="1148.89" x2="896.94" y2="1148.89" stroke="#c5b47f" stroke-width="1.8"/>
<line x1="888.94" y1="1181.37" x2="896.94" y2="1181.37" stroke="#c5b47f" stroke-width="1.8"/>
<polygon points="885.44,1159.13 900.44,1159.13 892.94,1172.25" fill="#c5b47f" stroke="none" stroke-width="0"/>
<line x1="996.95" y1="1154.42" x2="996.95" y2="1186.9" stroke="#c5b47f" stroke-width="1.8"/>
<line x1="992.95" y1="1154.42" x2="1000.95" y2="1154.42" stroke="#c5b47f" stroke-width="1.8"/>
<line x1="992.95" y1="1186.9" x2="1000.95" y2="1186.9" stroke="#c5b47f" stroke-width="1.8"/>
<polygon points="989.45,1164.66 1004.45,1164.66 996.95,1177.78" fill="#c5b47f" stroke="none" stroke-width="0"/>
<line x1="1101.99" y1="1159.94" x2="1101.99" y2="1192.43" stroke="#c5b47f" stroke-width="1.8"/>
<line x1="1097.99" y1="1159.94" x2="1105.99" y2="1159.94" stroke="#c5b47f" stroke-width="1.8"/>
<line x1="1097.99" y1="1192.43" x2="1105.99" y2="1192.43" stroke="#c5b47f" stroke-width="1.8"/>
<polygon points="1094.49,1170.19 1109.49,1170.19 1101.99,1183.31" fill="#c5b47f" stroke="none" stroke-width="0"/>
<line x1="1199.78" y1="1162.71" x2="1199.78" y2="1195.19" stroke="#c5b47f" stroke-width="1.8"/>
<line x1="1195.78" y1="1162.71" x2="1203.78" y2="1162.71" stroke="#c5b47f" stroke-width="1.8"/>
<line x1="1195.78" y1="1195.19" x2="1203.78" y2="1195.19" stroke="#c5b47f" stroke-width="1.8"/>
<polygon points="1192.28,1172.95 1207.28,1172.95 1199.78,1186.07" fill="#c5b47f" stroke="none" stroke-width="0"/>
<path d="M783.4,1319.93 C801.66,1316.88 857.35,1304.67 892.94,1301.62 C928.53,1298.56 962.1,1302.14 996.95,1301.62 C1031.79,1301.1 1068.18,1299.14 1101.99,1298.51 C1135.8,1297.87 1183.48,1297.93 1199.78,1297.82" fill="none" stroke="#44546d" stroke-width="3.2" stroke-linejoin="round" stroke-linecap="round"/>
<line x1="783.4" y1="1306.8" x2="783.4" y2="1333.06" stroke="#44546d" stroke-width="1.8"/>
<line x1="779.4" y1="1306.8" x2="787.4" y2="1306.8" stroke="#44546d" stroke-width="1.8"/>
<line x1="779.4" y1="1333.06" x2="787.4" y2="1333.06" stroke="#44546d" stroke-width="1.8"/>
<circle cx="783.4" cy="1319.93" r="7" fill="#44546d"/>
<line x1="892.94" y1="1288.49" x2="892.94" y2="1314.75" stroke="#44546d" stroke-width="1.8"/>
<line x1="888.94" y1="1288.49" x2="896.94" y2="1288.49" stroke="#44546d" stroke-width="1.8"/>
<line x1="888.94" y1="1314.75" x2="896.94" y2="1314.75" stroke="#44546d" stroke-width="1.8"/>
<circle cx="892.94" cy="1301.62" r="7" fill="#44546d"/>
<line x1="996.95" y1="1288.49" x2="996.95" y2="1314.75" stroke="#44546d" stroke-width="1.8"/>
<line x1="992.95" y1="1288.49" x2="1000.95" y2="1288.49" stroke="#44546d" stroke-width="1.8"/>
<line x1="992.95" y1="1314.75" x2="1000.95" y2="1314.75" stroke="#44546d" stroke-width="1.8"/>
<circle cx="996.95" cy="1301.62" r="7" fill="#44546d"/>
<line x1="1101.99" y1="1285.38" x2="1101.99" y2="1311.64" stroke="#44546d" stroke-width="1.8"/>
<line x1="1097.99" y1="1285.38" x2="1105.99" y2="1285.38" stroke="#44546d" stroke-width="1.8"/>
<line x1="1097.99" y1="1311.64" x2="1105.99" y2="1311.64" stroke="#44546d" stroke-width="1.8"/>
<circle cx="1101.99" cy="1298.51" r="7" fill="#44546d"/>
<line x1="1199.78" y1="1284.69" x2="1199.78" y2="1310.95" stroke="#44546d" stroke-width="1.8"/>
<line x1="1195.78" y1="1284.69" x2="1203.78" y2="1284.69" stroke="#44546d" stroke-width="1.8"/>
<line x1="1195.78" y1="1310.95" x2="1203.78" y2="1310.95" stroke="#44546d" stroke-width="1.8"/>
<circle cx="1199.78" cy="1297.82" r="7" fill="#44546d"/>
<path d="M783.4,1370.03 C801.66,1367.44 857.35,1358.11 892.94,1354.49 C928.53,1350.86 962.1,1350.74 996.95,1348.27 C1031.79,1345.79 1068.18,1341.82 1101.99,1339.63 C1135.8,1337.44 1183.48,1335.88 1199.78,1335.13" fill="none" stroke="#c5b47f" stroke-width="3.2" stroke-linejoin="round" stroke-linecap="round"/>
<line x1="783.4" y1="1359.67" x2="783.4" y2="1380.4" stroke="#c5b47f" stroke-width="1.8"/>
<line x1="779.4" y1="1359.67" x2="787.4" y2="1359.67" stroke="#c5b47f" stroke-width="1.8"/>
<line x1="779.4" y1="1380.4" x2="787.4" y2="1380.4" stroke="#c5b47f" stroke-width="1.8"/>
<polygon points="775.9,1364.03 790.9,1364.03 783.4,1377.16" fill="#c5b47f" stroke="none" stroke-width="0"/>
<line x1="892.94" y1="1344.12" x2="892.94" y2="1364.85" stroke="#c5b47f" stroke-width="1.8"/>
<line x1="888.94" y1="1344.12" x2="896.94" y2="1344.12" stroke="#c5b47f" stroke-width="1.8"/>
<line x1="888.94" y1="1364.85" x2="896.94" y2="1364.85" stroke="#c5b47f" stroke-width="1.8"/>
<polygon points="885.44,1348.49 900.44,1348.49 892.94,1361.61" fill="#c5b47f" stroke="none" stroke-width="0"/>
<line x1="996.95" y1="1337.9" x2="996.95" y2="1358.63" stroke="#c5b47f" stroke-width="1.8"/>
<line x1="992.95" y1="1337.9" x2="1000.95" y2="1337.9" stroke="#c5b47f" stroke-width="1.8"/>
<line x1="992.95" y1="1358.63" x2="1000.95" y2="1358.63" stroke="#c5b47f" stroke-width="1.8"/>
<polygon points="989.45,1342.27 1004.45,1342.27 996.95,1355.39" fill="#c5b47f" stroke="none" stroke-width="0"/>
<line x1="1101.99" y1="1329.26" x2="1101.99" y2="1349.99" stroke="#c5b47f" stroke-width="1.8"/>
<line x1="1097.99" y1="1329.26" x2="1105.99" y2="1329.26" stroke="#c5b47f" stroke-width="1.8"/>
<line x1="1097.99" y1="1349.99" x2="1105.99" y2="1349.99" stroke="#c5b47f" stroke-width="1.8"/>
<polygon points="1094.49,1333.63 1109.49,1333.63 1101.99,1346.75" fill="#c5b47f" stroke="none" stroke-width="0"/>
<line x1="1199.78" y1="1324.77" x2="1199.78" y2="1345.5" stroke="#c5b47f" stroke-width="1.8"/>
<line x1="1195.78" y1="1324.77" x2="1203.78" y2="1324.77" stroke="#c5b47f" stroke-width="1.8"/>
<line x1="1195.78" y1="1345.5" x2="1203.78" y2="1345.5" stroke="#c5b47f" stroke-width="1.8"/>
<polygon points="1192.28,1329.13 1207.28,1329.13 1199.78,1342.26" fill="#c5b47f" stroke="none" stroke-width="0"/>
<line x1="844.91" y1="1110.53" x2="786.31" y2="1110.53" stroke="#44546d" stroke-width="3"/>
<polygon points="771.31,1110.53 787.31,1104.53 784.91,1110.53 787.31,1116.53" fill="#44546d" stroke="none" stroke-width="0"/>
<line x1="1131.71" y1="1210.05" x2="1193.42" y2="1210.05" stroke="#c5b47f" stroke-width="3"/>
<polygon points="1208.42,1210.05 1192.42,1216.05 1194.82,1210.05 1192.42,1204.05" fill="#c5b47f" stroke="none" stroke-width="0"/>
<line x1="846.29" y1="1281.92" x2="783.54" y2="1281.92" stroke="#44546d" stroke-width="3"/>
<polygon points="768.54,1281.92 784.54,1275.92 782.14,1281.92 784.54,1287.92" fill="#44546d" stroke="none" stroke-width="0"/>
<line x1="1134.82" y1="1374.87" x2="1195.84" y2="1374.87" stroke="#c5b47f" stroke-width="3"/>
<polygon points="1210.84,1374.87 1194.84,1380.87 1197.24,1374.87 1194.84,1368.87" fill="#c5b47f" stroke="none" stroke-width="0"/>
<rect x="1451.2" y="1050.1" width="542.3" height="405.1" fill="none" stroke="#000" stroke-width="2"/>
<text x="1439.5" y="1463.7" font-size="28.5" text-anchor="end" fill="#000">0.00</text>
<line x1="1451.2" y1="1421.45" x2="1456.2" y2="1421.45" stroke="#000" stroke-width="1.8"/>
<line x1="1993.5" y1="1421.45" x2="1988.5" y2="1421.45" stroke="#000" stroke-width="1.8"/>
<line x1="1451.2" y1="1387.7" x2="1460.2" y2="1387.7" stroke="#000" stroke-width="1.8"/>
<line x1="1993.5" y1="1387.7" x2="1984.5" y2="1387.7" stroke="#000" stroke-width="1.8"/>
<text x="1439.5" y="1396.2" font-size="28.5" text-anchor="end" fill="#000">0.02</text>
<line x1="1451.2" y1="1353.95" x2="1456.2" y2="1353.95" stroke="#000" stroke-width="1.8"/>
<line x1="1993.5" y1="1353.95" x2="1988.5" y2="1353.95" stroke="#000" stroke-width="1.8"/>
<line x1="1451.2" y1="1320.2" x2="1460.2" y2="1320.2" stroke="#000" stroke-width="1.8"/>
<line x1="1993.5" y1="1320.2" x2="1984.5" y2="1320.2" stroke="#000" stroke-width="1.8"/>
<text x="1439.5" y="1328.7" font-size="28.5" text-anchor="end" fill="#000">0.04</text>
<line x1="1451.2" y1="1286.45" x2="1456.2" y2="1286.45" stroke="#000" stroke-width="1.8"/>
<line x1="1993.5" y1="1286.45" x2="1988.5" y2="1286.45" stroke="#000" stroke-width="1.8"/>
<line x1="1451.2" y1="1252.7" x2="1460.2" y2="1252.7" stroke="#000" stroke-width="1.8"/>
<line x1="1993.5" y1="1252.7" x2="1984.5" y2="1252.7" stroke="#000" stroke-width="1.8"/>
<text x="1439.5" y="1261.2" font-size="28.5" text-anchor="end" fill="#000">0.06</text>
<line x1="1451.2" y1="1218.95" x2="1456.2" y2="1218.95" stroke="#000" stroke-width="1.8"/>
<line x1="1993.5" y1="1218.95" x2="1988.5" y2="1218.95" stroke="#000" stroke-width="1.8"/>
<line x1="1451.2" y1="1185.2" x2="1460.2" y2="1185.2" stroke="#000" stroke-width="1.8"/>
<line x1="1993.5" y1="1185.2" x2="1984.5" y2="1185.2" stroke="#000" stroke-width="1.8"/>
<text x="1439.5" y="1193.7" font-size="28.5" text-anchor="end" fill="#000">0.08</text>
<line x1="1451.2" y1="1151.45" x2="1456.2" y2="1151.45" stroke="#000" stroke-width="1.8"/>
<line x1="1993.5" y1="1151.45" x2="1988.5" y2="1151.45" stroke="#000" stroke-width="1.8"/>
<line x1="1451.2" y1="1117.7" x2="1460.2" y2="1117.7" stroke="#000" stroke-width="1.8"/>
<line x1="1993.5" y1="1117.7" x2="1984.5" y2="1117.7" stroke="#000" stroke-width="1.8"/>
<text x="1439.5" y="1126.2" font-size="28.5" text-anchor="end" fill="#000">0.10</text>
<line x1="1451.2" y1="1083.95" x2="1456.2" y2="1083.95" stroke="#000" stroke-width="1.8"/>
<line x1="1993.5" y1="1083.95" x2="1988.5" y2="1083.95" stroke="#000" stroke-width="1.8"/>
<text x="1439.5" y="1058.7" font-size="28.5" text-anchor="end" fill="#000">0.12</text>
<rect x="1482.4" y="1444.06" width="21" height="11.14" fill="#e3dac1" stroke="#333" stroke-width="1.3"/>
<line x1="1492.9" y1="1455.2" x2="1492.9" y2="1446.2" stroke="#000" stroke-width="1.8"/>
<text x="1513.9" y="1487.5" font-size="28.5" text-anchor="end" fill="#000" transform="rotate(-45 1513.9 1487.5)">Ref. 58</text>
<rect x="1524.12" y="1433.26" width="21" height="21.94" fill="#e3dac1" stroke="#333" stroke-width="1.3"/>
<line x1="1534.62" y1="1455.2" x2="1534.62" y2="1446.2" stroke="#000" stroke-width="1.8"/>
<text x="1555.62" y="1487.5" font-size="28.5" text-anchor="end" fill="#000" transform="rotate(-45 1555.62 1487.5)">Ref. 41</text>
<rect x="1565.84" y="1452.5" width="21" height="2.7" fill="#e3dac1" stroke="#333" stroke-width="1.3"/>
<line x1="1576.34" y1="1455.2" x2="1576.34" y2="1446.2" stroke="#000" stroke-width="1.8"/>
<text x="1597.34" y="1487.5" font-size="28.5" text-anchor="end" fill="#000" transform="rotate(-45 1597.34 1487.5)">Ref. 59</text>
<rect x="1607.56" y="1424.15" width="21" height="31.05" fill="#e3dac1" stroke="#333" stroke-width="1.3"/>
<line x1="1618.06" y1="1455.2" x2="1618.06" y2="1446.2" stroke="#000" stroke-width="1.8"/>
<text x="1639.06" y="1487.5" font-size="28.5" text-anchor="end" fill="#000" transform="rotate(-45 1639.06 1487.5)">Ref. 60</text>
<rect x="1649.28" y="1428.2" width="21" height="27" fill="#e3dac1" stroke="#333" stroke-width="1.3"/>
<line x1="1659.78" y1="1455.2" x2="1659.78" y2="1446.2" stroke="#000" stroke-width="1.8"/>
<text x="1680.78" y="1487.5" font-size="28.5" text-anchor="end" fill="#000" transform="rotate(-45 1680.78 1487.5)">Ref. 61</text>
<rect x="1691" y="1421.45" width="21" height="33.75" fill="#a9b4c8" stroke="#333" stroke-width="1.3"/>
<line x1="1701.5" y1="1455.2" x2="1701.5" y2="1446.2" stroke="#000" stroke-width="1.8"/>
<text x="1722.5" y="1487.5" font-size="28.5" text-anchor="end" fill="#000" transform="rotate(-45 1722.5 1487.5)">Ref. 62</text>
<rect x="1732.72" y="1387.7" width="21" height="67.5" fill="#a9b4c8" stroke="#333" stroke-width="1.3"/>
<line x1="1743.22" y1="1455.2" x2="1743.22" y2="1446.2" stroke="#000" stroke-width="1.8"/>
<text x="1764.22" y="1487.5" font-size="28.5" text-anchor="end" fill="#000" transform="rotate(-45 1764.22 1487.5)">Ref. 18</text>
<rect x="1774.44" y="1429.89" width="21" height="25.31" fill="#8493ae" stroke="#333" stroke-width="1.3"/>
<line x1="1784.94" y1="1455.2" x2="1784.94" y2="1446.2" stroke="#000" stroke-width="1.8"/>
<text x="1805.94" y="1487.5" font-size="28.5" text-anchor="end" fill="#000" transform="rotate(-45 1805.94 1487.5)">Ref. 63</text>
<rect x="1816.16" y="1387.7" width="21" height="67.5" fill="#8493ae" stroke="#333" stroke-width="1.3"/>
<line x1="1826.66" y1="1455.2" x2="1826.66" y2="1446.2" stroke="#000" stroke-width="1.8"/>
<text x="1847.66" y="1487.5" font-size="28.5" text-anchor="end" fill="#000" transform="rotate(-45 1847.66 1487.5)">Ref. 64</text>
<rect x="1857.88" y="1387.7" width="21" height="67.5" fill="#8493ae" stroke="#333" stroke-width="1.3"/>
<line x1="1868.38" y1="1455.2" x2="1868.38" y2="1446.2" stroke="#000" stroke-width="1.8"/>
<text x="1889.38" y="1487.5" font-size="28.5" text-anchor="end" fill="#000" transform="rotate(-45 1889.38 1487.5)">Ref. 40</text>
<rect x="1899.6" y="1387.7" width="21" height="67.5" fill="#8493ae" stroke="#333" stroke-width="1.3"/>
<line x1="1910.1" y1="1455.2" x2="1910.1" y2="1446.2" stroke="#000" stroke-width="1.8"/>
<text x="1931.1" y="1487.5" font-size="28.5" text-anchor="end" fill="#000" transform="rotate(-45 1931.1 1487.5)">Ref. 65</text>
<rect x="1941.32" y="1083.95" width="21" height="371.25" fill="#46546c" stroke="#333" stroke-width="1.3"/>
<line x1="1951.82" y1="1455.2" x2="1951.82" y2="1446.2" stroke="#000" stroke-width="1.8"/>
<text x="1972.82" y="1487.5" font-size="28.5" text-anchor="end" fill="#000" transform="rotate(-45 1972.82 1487.5)">This work</text>
<text x="1378" y="1250" font-size="28.5" text-anchor="middle" fill="#000" transform="rotate(-90 1378 1250)"><tspan font-style="italic">zT</tspan></text>
<text x="1575.3" y="1345.4" font-size="27.8" text-anchor="middle" fill="#000">CNT-based</text>
<text x="1848.2" y="1277.1" font-size="28.5" text-anchor="middle" fill="#000">PEDOT-</text>
<text x="1848.2" y="1309.7" font-size="28.5" text-anchor="middle" fill="#000">based</text>
<text x="1710.5" y="1397.5" font-size="27.8" text-anchor="start" fill="#000" transform="rotate(-90 1710.5 1397.5)">P3HT-based</text>
<text x="1752.5" y="1363.5" font-size="27.8" text-anchor="start" fill="#000" transform="rotate(-90 1752.5 1363.5)">PANI-based</text>
<path d="M1481.7,1411.8 C1481.7,1389.1 1489.7,1389.1 1506.7,1389.1 L1553.7,1389.1 C1568.7,1389.1 1573.7,1384.1 1573.7,1368.1 C1573.7,1384.1 1578.7,1389.1 1593.7,1389.1 L1642.1,1389.1 C1659.1,1389.1 1667.1,1389.1 1667.1,1411.8" fill="none" stroke="#222" stroke-width="1.3"/>
<path d="M1773.8,1374 C1773.8,1354.1 1781.8,1354.1 1798.8,1354.1 L1825.9,1354.1 C1840.9,1354.1 1845.9,1349.1 1845.9,1334.9 C1845.9,1349.1 1850.9,1354.1 1865.9,1354.1 L1893,1354.1 C1910,1354.1 1918,1354.1 1918,1374" fill="none" stroke="#222" stroke-width="1.3"/>
</svg></body></html>
